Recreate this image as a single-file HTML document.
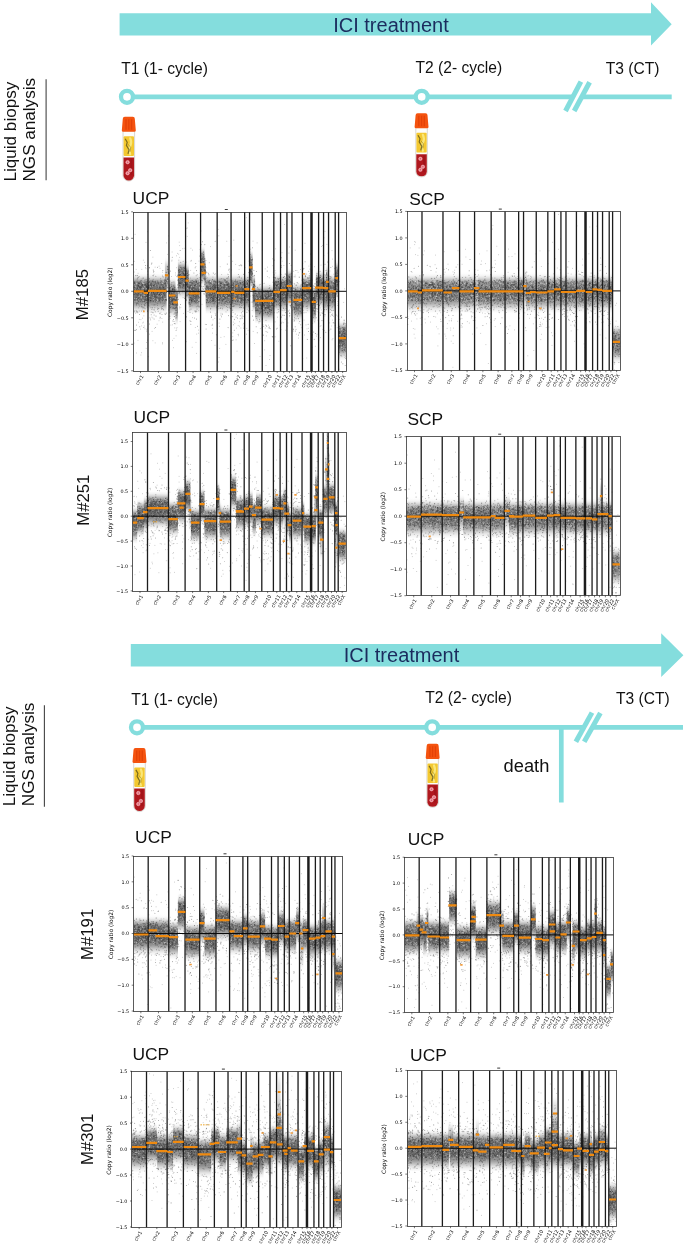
<!DOCTYPE html>
<html lang="en"><head><meta charset="utf-8"><title>ICI treatment liquid biopsy NGS analysis</title>
<style>html,body{margin:0;padding:0;background:#fff}svg{display:block}</style></head><body>
<svg width="685" height="1249" viewBox="0 0 685 1249" font-family="'Liberation Sans',sans-serif">
<rect width="685" height="1249" fill="#fff"/>
<defs><linearGradient id="g" x1="0" y1="0" x2="0" y2="1"><stop offset="0" stop-color="#505050" stop-opacity="0"/><stop offset=".05" stop-color="#505050" stop-opacity=".001"/><stop offset=".1" stop-color="#505050" stop-opacity=".012"/><stop offset=".15" stop-color="#505050" stop-opacity=".07"/><stop offset=".2" stop-color="#505050" stop-opacity=".214"/><stop offset=".25" stop-color="#505050" stop-opacity=".424"/><stop offset=".3" stop-color="#505050" stop-opacity=".617"/><stop offset=".35" stop-color="#505050" stop-opacity=".737"/><stop offset=".4" stop-color="#505050" stop-opacity=".787"/><stop offset=".45" stop-color="#505050" stop-opacity=".799"/><stop offset=".5" stop-color="#505050" stop-opacity=".8"/><stop offset=".55" stop-color="#505050" stop-opacity=".8"/><stop offset=".6" stop-color="#505050" stop-opacity=".795"/><stop offset=".65" stop-color="#505050" stop-opacity=".776"/><stop offset=".7" stop-color="#505050" stop-opacity=".727"/><stop offset=".75" stop-color="#505050" stop-opacity=".634"/><stop offset=".8" stop-color="#505050" stop-opacity=".494"/><stop offset=".85" stop-color="#505050" stop-opacity=".327"/><stop offset=".9" stop-color="#505050" stop-opacity=".174"/><stop offset=".95" stop-color="#505050" stop-opacity=".07"/><stop offset="1" stop-color="#505050" stop-opacity=".019"/></linearGradient><pattern id="n" width="41" height="23" patternUnits="userSpaceOnUse"><path d="M3.5 12.5h0M9.7 5.3h0M32.9 4.3h0M23.9 22.9h0M3.9 .2h0M17.8 15.9h0M19.6 20.3h0M6.5 5.3h0M30.1 1.1h0M4.7 9.2h0M16 7.6h0M21.2 10.6h0M17.7 9.8h0M24.1 21.7h0M30.3 2.7h0M39.2 21.7h0M11.7 1.1h0M26.6 21.6h0M28.5 7.7h0M12 16.7h0M.1 .1h0M39.9 10.3h0M12.2 15.6h0M12.9 14.5h0M36.6 18.5h0M24 3.5h0M19.3 9.2h0M31.7 14.1h0M1.2 .7h0M29 19.2h0M15.3 9.6h0M3.7 5.7h0M27.1 5.1h0M38.2 15h0M8.5 1.1h0M25.8 5.6h0M12.2 7h0M30.4 5.9h0M29.6 16.8h0M9 13.6h0M34 20.8h0M27 16.1h0M28 6.8h0M33.6 7.5h0M17.6 2.8h0M31.1 5.6h0M36 13.9h0M4.2 16.8h0M34.8 6.8h0M16.2 7.9h0M19.7 18.5h0M6 22h0M28.6 1.9h0M12 1.6h0M35.7 17.5h0M11.3 11.4h0M23 9.8h0M16.4 14.6h0M25.1 17.5h0M8.1 1.6h0M7.4 22.1h0M30.6 22h0M30.8 9.6h0M23.2 10.8h0M37.8 6.3h0M8.4 13.5h0M34.9 4.7h0M6.9 12.3h0M39.5 20.8h0M25.6 11.6h0M24.9 19h0M39.8 4.1h0M32.3 20.3h0M32.4 2.8h0M2.2 4.9h0M15.1 16.6h0M3.5 6.9h0M7.9 2.7h0M8.8 2h0M35.2 18.2h0M5.2 .5h0M12.2 1.3h0M20.2 21.7h0M34.8 18h0M39.6 8.5h0M29 4.4h0M8.8 19.9h0M22.3 18.1h0M28.9 15.4h0M2.1 12.2h0M27.9 12.1h0M15.1 22.5h0M24.2 12h0M27.5 1.9h0M27.4 1.7h0M21.4 13.7h0M22.7 16.9h0M8.1 14.4h0M20.3 17.1h0M5.1 6.8h0M19.7 8.5h0M22 6.1h0M31.7 8.6h0M16.1 6.1h0M.8 19.2h0M21.6 3.4h0M8.4 4.8h0M30.4 16.4h0M15.9 9.2h0M15.6 7.8h0M37.3 22.4h0M16.1 20.6h0M14.3 5h0M14.3 3.6h0M19.7 11.3h0M3.8 13.2h0M22.4 8h0M37.8 13.6h0M23.1 15.6h0M30.5 18.7h0M38.8 5.6h0M34.5 14.8h0M30.5 1.3h0M33.3 1.5h0M33.6 1.3h0M10.4 2.7h0M19.8 18h0M14.1 8.5h0M10.7 11.3h0M23.4 10.4h0M13 4.8h0M25.4 1.1h0M23.9 4.2h0M4.3 19.7h0M18.1 7.8h0M16 9.7h0M29 6.1h0M3.6 17h0M6.9 16.2h0M21 8.8h0M16.6 11.6h0M27.3 9.1h0M13.6 13.2h0M8.1 13.7h0M38.2 13.3h0M10 20.7h0M6 21.9h0M11.5 1.2h0M13.9 8.7h0M9.2 .9h0M22 8.6h0M38.4 18.5h0M5.2 15.6h0M17 13h0M27.4 2h0M36.3 18.7h0M41 14.1h0M5.9 7h0M22 18.1h0M36.1 .9h0M2.2 4.3h0M24.1 18.1h0M7.1 1.1h0M31.5 3h0M38.4 11.5h0M22.1 16.3h0M.4 13.6h0M2.6 .8h0M17 6.3h0M34.7 16.2h0M9.7 8h0M27.4 4.5h0M16.6 .1h0M10.9 6h0M28.9 21.4h0M12.6 1.1h0M15.2 12.7h0M31.4 20.9h0M20.3 16.1h0M32.1 6.5h0M21.2 14.9h0M6.6 2.7h0M18.2 11.5h0M35.8 6.1h0M23.2 20.1h0M39.6 19.9h0M0 17.5h0M14 8.6h0M31.5 18.3h0M28.1 22.5h0M23 8.5h0M27.2 12.1h0M35.9 3.7h0M28 2.5h0M22.4 16.6h0M23.1 1.4h0M27.3 13.8h0M13.3 2.6h0M27.4 15.4h0M25.2 17.3h0M32.2 21.6h0M19.7 9h0M1.1 9h0M22 9.2h0M35.2 16.2h0M26.2 18.1h0M26.4 2.7h0M16 7.5h0M14.6 1.3h0M29.5 5.4h0M3.2 16.9h0M35.5 21.5h0M35.9 22.5h0M39.5 1.6h0M5.6 9.2h0M4.7 20.1h0M36.7 11.6h0M16.4 8h0M11.1 18h0M15.7 19.9h0M27 3.4h0M6.6 11.9h0M20 3.4h0M27.1 4.1h0M29.6 12.2h0M.5 5.8h0M33.2 18.5h0M17.8 8.4h0M17.9 4.2h0M23.1 14.5h0M11.5 6h0M36.4 1.5h0M8.7 23h0M22.3 4.2h0M6.9 3h0M25.3 11.1h0M37 .1h0M36.2 18.2h0M5.5 1.7h0M25.6 .9h0M36.6 22.2h0M8.2 11.9h0M17 21.4h0M29.2 20.6h0M30.3 16.9h0M18.5 .7h0M26.2 14.8h0M27.4 1.5h0M14.5 .2h0M26.7 19.4h0M23.7 7.1h0M28.6 17.2h0M21 12.2h0M13.8 18h0M17.8 14.7h0M37.8 22.4h0M7.7 10.9h0M6.1 19.6h0M.5 18.9h0M34.9 13.5h0M40.5 11.6h0M9.7 9.9h0M10.9 14.9h0M8.1 4.5h0M24.6 10.1h0M19.9 14.9h0M33.6 7.1h0M8.6 5h0M36 2.4h0M19 18.5h0M33.1 20.1h0M32.9 19.2h0M37.3 16.2h0M20.5 13.9h0M25 1.3h0M23 20.3h0M7.8 10.9h0M20.6 15.8h0M38 2.8h0M37.3 17.2h0M.9 3.4h0M27.2 22h0M13.4 16.3h0M5.6 12.2h0M5.7 15h0M32.6 5.3h0M39.3 11.5h0M21.3 2h0M15.7 6.4h0M20.9 6.6h0M34 3.8h0M30.6 9.6h0M2.6 1.5h0M8.7 .6h0M35.6 7.7h0M20.2 22.8h0M27 16.7h0M31.9 9.8h0M26.1 4.6h0M30.1 2.8h0" stroke="#222" stroke-opacity=".5" stroke-width="1" stroke-linecap="round" fill="none"/><path d="M17.1 3.7h0M26.8 12.2h0M33.9 15.2h0M19 7.8h0M34.9 19.2h0M33.3 2.3h0M34.8 1.3h0M13.6 16.3h0M19.1 13h0M6.6 17.3h0M24 21.5h0M1.7 11.8h0M19.3 18.8h0M6.7 14.9h0M19.6 11.8h0M7.4 11.6h0M.1 22.8h0M17.3 8h0M17.6 9.8h0M22.2 10.9h0M5.1 14.7h0M20.4 1.4h0M12.3 15h0M3.3 .9h0M16.8 8.7h0M27.3 10.2h0M12.4 13h0M29.3 13.1h0M32.3 13.9h0M.6 .6h0M8.8 7.6h0M11.6 17h0M24.3 9.6h0M20 19h0M23.3 12.5h0M3 13.1h0M11.8 15.6h0M6.6 22.6h0M30.6 .1h0M28 2.7h0M12.5 2h0M35.9 4.7h0M5.6 .5h0M.7 22.7h0M15.3 3.5h0M27.4 10.9h0M38.8 20.3h0M20.9 10.9h0M5.6 5.7h0M24.5 6.7h0M.7 9.7h0M33.5 7.1h0M13.2 10.8h0M4.2 9.5h0M6.1 1.9h0M34 20.1h0M37.2 22.3h0M7.6 12.9h0M40.9 2.2h0M35.3 20.9h0M13.5 8.3h0M2.1 8.8h0M6.2 5.9h0M17.9 21.4h0M8.4 15.9h0M7.5 6.9h0M11.2 8.5h0M36 9.7h0M1.5 8.8h0M37.8 15.5h0M18.4 21.8h0M30.3 1h0M21 19.5h0M38.8 19.5h0M7.4 5h0M10.5 22.5h0M20.8 20.2h0M20.8 16.6h0M13.6 2.5h0M12.5 10.3h0M3.7 17.4h0M20.6 12.7h0M34.1 1.4h0M35.5 17.6h0M17 9.4h0M40.2 5.1h0M39.6 8h0M13.1 2.4h0M4.8 8.3h0M34.3 .4h0M38.6 23h0M26.6 3.1h0M39.5 7.8h0M19.6 6.9h0M21.5 10.6h0M3 7.8h0M15.2 20.4h0M37.9 4.3h0M4.2 22.9h0M5.6 9h0M1.4 22.6h0M20.3 7.7h0M24.7 1.9h0M21.8 19.2h0M36 3.6h0M27.9 17.1h0M26.1 20.3h0M24.7 5h0M20.7 7.3h0M3.1 13h0M4 20h0M26.4 19.7h0M8.7 11.2h0M17 13h0M26.5 18.5h0M24.6 3.6h0M10 21.4h0M11 19.9h0M5.8 5.4h0M27.2 14.5h0M29.5 16.8h0M5.4 14.9h0M11.1 1.7h0M6.1 1.4h0M25.1 5.1h0M12.1 2.4h0M35.7 11.1h0M10.9 17h0M26.4 13.2h0M26.1 20.8h0M38.6 11.3h0M29.6 10.3h0M38.3 2.9h0M24 21.9h0M.1 15.5h0M13.4 22.5h0M30.4 21.5h0M14.1 2h0M27 13.9h0M4.8 11.2h0M26.5 17.3h0M15.8 1h0M38.8 15.2h0M2.9 14h0M14.8 8.6h0M31.5 2.9h0M16.1 15.8h0M19 1.1h0M13.7 7.8h0M4 .6h0M13.1 7.1h0M35.9 5.7h0M31.5 14.2h0M12.7 15.7h0M27.4 16.3h0M32.6 9.4h0M32.7 17.3h0M2.3 15.2h0M6.7 12.3h0M39.2 17.9h0M11.5 22.3h0M31.9 11.1h0M25.8 22.1h0M35.8 14.3h0M3.2 8.9h0M38.3 11h0M35.9 15.1h0M9.8 7.3h0M29.1 21.2h0M.2 8.9h0M35.5 14.4h0M17 19.8h0M30.4 19.1h0M32.6 15.5h0M1.1 16.4h0M36.2 17.4h0M4.3 13.5h0M6.4 10h0M18.7 20.7h0M10.4 3.7h0M26.6 3h0M7.8 7.2h0M25.5 5.4h0M31.2 22.4h0M39.5 12.2h0M16.4 20.3h0M11.7 12.7h0M23.7 5h0M26.7 20.1h0M37.8 20.3h0M24 2.8h0M18 17.6h0M12.2 13.1h0M29.7 4.1h0M26.1 7.8h0M2.9 16.9h0M12.3 4.3h0M6.9 14h0M20.3 12.3h0M15.6 12.2h0" stroke="#fff" stroke-opacity=".45" stroke-width="1" stroke-linecap="round" fill="none"/></pattern></defs>
<path fill="#84dddd" d="M119.6 13.2H651V2.3L671.7 24.299999999999997L651 45.6V35.4H119.6z"/>
<text x="391" y="31.6" font-size="20" fill="#1b2c5e" text-anchor="middle">ICI treatment</text>
<text x="121.3" y="74.2" font-size="15.6" fill="#111">T1 (1- cycle)</text>
<text x="415.5" y="72.5" font-size="15.6" fill="#111">T2 (2- cycle)</text>
<text x="605.7" y="73.6" font-size="15.6" fill="#111">T3 (CT)</text>
<path stroke="#84dddd" stroke-width="4.7" fill="none" d="M127 96.8H572.9M581.8 96.8H671.7"/>
<path stroke="#84dddd" stroke-width="5.0" fill="none" d="M565.5 111L580.9 81.6"/>
<path stroke="#84dddd" stroke-width="5.0" fill="none" d="M574.2 111L589.6 82.2"/>
<circle cx="127.0" cy="96.8" r="6" fill="#fff" stroke="#84dddd" stroke-width="4.3"/>
<circle cx="421.7" cy="96.8" r="6" fill="#fff" stroke="#84dddd" stroke-width="4.3"/>
<g>
<path d="M123 130.8V175.2A5.8 5.8 0 0 0 134.6 175.2V130.8z" fill="#fdfdf9" stroke="#b9b6ae" stroke-width=".55"/>
<rect x="123.6" y="136.3" width="10.4" height="19.7" rx="1" fill="#f3c830"/>
<path d="M130.2 138.3q2 4 0 8t0 8" stroke="#fae77a" stroke-width="2.2" fill="none" stroke-linecap="round"/>
<path d="M125.2 138.8l2 3.5l-.8 3l2.6 4.5l-1 4" stroke="#5f5415" stroke-width="1.2" fill="none" opacity=".8"/>
<path d="M128.2 144.3l2.4 3l-.6 4.5" stroke="#8a7a1c" stroke-width=".8" fill="none" opacity=".7"/>
<path d="M123.5 157.6V175.2A5.3 5.3 0 0 0 134.1 175.2V157.6z" fill="#b0181e"/>
<path d="M131.4 158.6V175.2" stroke="#991218" stroke-width="2" fill="none" opacity=".6"/>
<circle cx="127.6" cy="162.2" r="1.75" fill="#f29aa4" stroke="#f7c0c6" stroke-width=".5"/>
<circle cx="127.6" cy="162.2" r=".7" fill="#d9586a"/>
<circle cx="130.2" cy="170.2" r="1.75" fill="#f29aa4" stroke="#f7c0c6" stroke-width=".5"/>
<circle cx="130.2" cy="170.2" r=".7" fill="#d9586a"/>
<circle cx="127.6" cy="173.2" r="1.75" fill="#f29aa4" stroke="#f7c0c6" stroke-width=".5"/>
<circle cx="127.6" cy="173.2" r=".7" fill="#d9586a"/>
<path d="M121.8 130.6L122.8 118.7Q122.8 116.7 124.8 116.7H132.8Q134.8 116.7 134.8 118.7L135.8 130.6Q135.8 131.8 134.3 131.8H123.3Q121.8 131.8 121.8 130.6z" fill="#f4530f"/>
<path d="M126 119.2V129.8M128.8 119.2V129.8M131.6 119.2V129.8" stroke="#e03f06" stroke-width="1.3" fill="none" opacity=".8"/>
</g>
<g>
<path d="M415.8 127.3V171.8A5.8 5.8 0 0 0 427.3 171.8V127.3z" fill="#fdfdf9" stroke="#b9b6ae" stroke-width=".55"/>
<rect x="416.4" y="132.8" width="10.3" height="19.8" rx="1" fill="#f3c830"/>
<path d="M422.9 134.8q2 4 0 8t0 8" stroke="#fae77a" stroke-width="2.2" fill="none" stroke-linecap="round"/>
<path d="M418 135.3l2 3.5l-.8 3l2.6 4.5l-1 4" stroke="#5f5415" stroke-width="1.2" fill="none" opacity=".8"/>
<path d="M421 140.8l2.4 3l-.6 4.5" stroke="#8a7a1c" stroke-width=".8" fill="none" opacity=".7"/>
<path d="M416.3 154.2V171.8A5.3 5.3 0 0 0 426.8 171.8V154.2z" fill="#b0181e"/>
<path d="M424.1 155.2V171.8" stroke="#991218" stroke-width="2" fill="none" opacity=".6"/>
<circle cx="420.4" cy="158.8" r="1.75" fill="#f29aa4" stroke="#f7c0c6" stroke-width=".5"/>
<circle cx="420.4" cy="158.8" r=".7" fill="#d9586a"/>
<circle cx="422.9" cy="166.8" r="1.75" fill="#f29aa4" stroke="#f7c0c6" stroke-width=".5"/>
<circle cx="422.9" cy="166.8" r=".7" fill="#d9586a"/>
<circle cx="420.4" cy="169.8" r="1.75" fill="#f29aa4" stroke="#f7c0c6" stroke-width=".5"/>
<circle cx="420.4" cy="169.8" r=".7" fill="#d9586a"/>
<path d="M414.6 127.1L415.6 115.2Q415.6 113.2 417.6 113.2H425.5Q427.5 113.2 427.5 115.2L428.5 127.1Q428.5 128.3 427 128.3H416.1Q414.6 128.3 414.6 127.1z" fill="#f4530f"/>
<path d="M418.8 115.7V126.3M421.6 115.7V126.3M424.3 115.7V126.3" stroke="#e03f06" stroke-width="1.3" fill="none" opacity=".8"/>
</g>
<text transform="translate(15.8 181.5) rotate(-90)" font-size="17.1" fill="#111">Liquid biopsy</text>
<text transform="translate(35.0 181.5) rotate(-90)" font-size="17.1" fill="#111">NGS analysis</text>
<path stroke="#444" stroke-width="1.1" d="M46.1 79.3V180.3"/>
<path fill="#84dddd" d="M130.8 644.1H661.2V633.3L683.4 655.25L661.2 677.0V666.4H130.8z"/>
<text x="401.5" y="662.3" font-size="20" fill="#1b2c5e" text-anchor="middle">ICI treatment</text>
<text x="131.2" y="704.5" font-size="15.6" fill="#111">T1 (1- cycle)</text>
<text x="425.3" y="703.2" font-size="15.6" fill="#111">T2 (2- cycle)</text>
<text x="616" y="704.4" font-size="15.6" fill="#111">T3 (CT)</text>
<path stroke="#84dddd" stroke-width="4.7" fill="none" d="M137 727.3H583.9M592.4 727.3H683.0"/>
<path stroke="#84dddd" stroke-width="5.0" fill="none" d="M575.9 741.8L592.0 712.6"/>
<path stroke="#84dddd" stroke-width="5.0" fill="none" d="M584.2 741.8L600.4 713.0"/>
<path stroke="#84dddd" stroke-width="4.7" fill="none" d="M561.3 727.3V802.5"/>
<text x="503.6" y="771.8" font-size="18.3" fill="#111">death</text>
<circle cx="137.0" cy="727.3" r="6" fill="#fff" stroke="#84dddd" stroke-width="4.3"/>
<circle cx="432.2" cy="727.3" r="6" fill="#fff" stroke="#84dddd" stroke-width="4.3"/>
<g>
<path d="M133.7 761.9V805.8A5.8 5.8 0 0 0 145.3 805.8V761.9z" fill="#fdfdf9" stroke="#b9b6ae" stroke-width=".55"/>
<rect x="134.3" y="767.4" width="10.4" height="19.5" rx="1" fill="#f3c830"/>
<path d="M140.9 769.4q2 4 0 8t0 8" stroke="#fae77a" stroke-width="2.2" fill="none" stroke-linecap="round"/>
<path d="M135.9 769.9l2 3.5l-.8 3l2.6 4.5l-1 4" stroke="#5f5415" stroke-width="1.2" fill="none" opacity=".8"/>
<path d="M138.9 775.4l2.4 3l-.6 4.5" stroke="#8a7a1c" stroke-width=".8" fill="none" opacity=".7"/>
<path d="M134.2 788.4V805.8A5.3 5.3 0 0 0 144.8 805.8V788.4z" fill="#b0181e"/>
<path d="M142.1 789.4V805.8" stroke="#991218" stroke-width="2" fill="none" opacity=".6"/>
<circle cx="138.3" cy="793" r="1.75" fill="#f29aa4" stroke="#f7c0c6" stroke-width=".5"/>
<circle cx="138.3" cy="793" r=".7" fill="#d9586a"/>
<circle cx="140.9" cy="801" r="1.75" fill="#f29aa4" stroke="#f7c0c6" stroke-width=".5"/>
<circle cx="140.9" cy="801" r=".7" fill="#d9586a"/>
<circle cx="138.3" cy="804" r="1.75" fill="#f29aa4" stroke="#f7c0c6" stroke-width=".5"/>
<circle cx="138.3" cy="804" r=".7" fill="#d9586a"/>
<path d="M132.5 761.7L133.5 750Q133.5 748 135.5 748H143.5Q145.5 748 145.5 750L146.5 761.7Q146.5 762.9 145 762.9H134Q132.5 762.9 132.5 761.7z" fill="#f4530f"/>
<path d="M136.7 750.5V760.9M139.5 750.5V760.9M142.3 750.5V760.9" stroke="#e03f06" stroke-width="1.3" fill="none" opacity=".8"/>
</g>
<g>
<path d="M426.9 757.9V802.2A5.8 5.8 0 0 0 438.4 802.2V757.9z" fill="#fdfdf9" stroke="#b9b6ae" stroke-width=".55"/>
<rect x="427.5" y="763.4" width="10.3" height="19.7" rx="1" fill="#f3c830"/>
<path d="M434 765.4q2 4 0 8t0 8" stroke="#fae77a" stroke-width="2.2" fill="none" stroke-linecap="round"/>
<path d="M429.1 765.9l2 3.5l-.8 3l2.6 4.5l-1 4" stroke="#5f5415" stroke-width="1.2" fill="none" opacity=".8"/>
<path d="M432.1 771.4l2.4 3l-.6 4.5" stroke="#8a7a1c" stroke-width=".8" fill="none" opacity=".7"/>
<path d="M427.4 784.6V802.2A5.3 5.3 0 0 0 437.9 802.2V784.6z" fill="#b0181e"/>
<path d="M435.2 785.6V802.2" stroke="#991218" stroke-width="2" fill="none" opacity=".6"/>
<circle cx="431.5" cy="789.2" r="1.75" fill="#f29aa4" stroke="#f7c0c6" stroke-width=".5"/>
<circle cx="431.5" cy="789.2" r=".7" fill="#d9586a"/>
<circle cx="434" cy="797.2" r="1.75" fill="#f29aa4" stroke="#f7c0c6" stroke-width=".5"/>
<circle cx="434" cy="797.2" r=".7" fill="#d9586a"/>
<circle cx="431.5" cy="800.2" r="1.75" fill="#f29aa4" stroke="#f7c0c6" stroke-width=".5"/>
<circle cx="431.5" cy="800.2" r=".7" fill="#d9586a"/>
<path d="M425.7 757.7L426.7 745.8Q426.7 743.8 428.7 743.8H436.6Q438.6 743.8 438.6 745.8L439.6 757.7Q439.6 758.9 438.1 758.9H427.2Q425.7 758.9 425.7 757.7z" fill="#f4530f"/>
<path d="M429.9 746.3V756.9M432.6 746.3V756.9M435.4 746.3V756.9" stroke="#e03f06" stroke-width="1.3" fill="none" opacity=".8"/>
</g>
<text transform="translate(14.6 806.2) rotate(-90)" font-size="17.1" fill="#111">Liquid biopsy</text>
<text transform="translate(33.9 806.2) rotate(-90)" font-size="17.1" fill="#111">NGS analysis</text>
<path stroke="#444" stroke-width="1.1" d="M44.4 705.2V806.8"/>
<clipPath id="c1"><rect x="133" y="212" width="213.6" height="159.3"/></clipPath>
<g>
<g clip-path="url(#c1)">
<rect x="133.8" y="269" width="10" height="44.5" fill="url(#g)"/>
<rect x="133.8" y="280.7" width="10" height="21.2" fill="url(#n)"/>
<rect x="143.8" y="269" width="4.2" height="44.5" fill="url(#g)"/>
<rect x="143.8" y="280.7" width="4.2" height="21.2" fill="url(#n)"/>
<rect x="148" y="269" width="18.6" height="44.5" fill="url(#g)"/>
<rect x="148" y="280.7" width="18.6" height="21.2" fill="url(#n)"/>
<rect x="164.9" y="253.1" width="3.5" height="44.5" fill="url(#g)" opacity=".44"/>
<rect x="168.8" y="273.3" width="6.7" height="44.5" fill="url(#g)"/>
<rect x="168.8" y="284.9" width="6.7" height="21.2" fill="url(#n)"/>
<rect x="175.4" y="280.2" width="2.5" height="44.5" fill="url(#g)"/>
<rect x="175.4" y="291.8" width="2.5" height="21.2" fill="url(#n)"/>
<rect x="177.9" y="254.7" width="7.5" height="44.5" fill="url(#g)"/>
<rect x="177.9" y="266.4" width="7.5" height="21.2" fill="url(#n)"/>
<rect x="185.4" y="258.4" width="3.3" height="44.5" fill="url(#g)"/>
<rect x="185.4" y="270.1" width="3.3" height="21.2" fill="url(#n)"/>
<rect x="188.7" y="269" width="10.8" height="44.5" fill="url(#g)"/>
<rect x="188.7" y="280.7" width="10.8" height="21.2" fill="url(#n)"/>
<rect x="200.4" y="242" width="4.2" height="44.5" fill="url(#g)"/>
<rect x="200.4" y="253.7" width="4.2" height="21.2" fill="url(#n)"/>
<rect x="204.5" y="250.5" width="1.2" height="44.5" fill="url(#g)"/>
<rect x="204.5" y="262.2" width="1.2" height="21.2" fill="url(#n)"/>
<rect x="205.7" y="269" width="10.5" height="44.5" fill="url(#g)"/>
<rect x="205.7" y="280.7" width="10.5" height="21.2" fill="url(#n)"/>
<rect x="217" y="269" width="13.3" height="44.5" fill="url(#g)"/>
<rect x="217" y="280.7" width="13.3" height="21.2" fill="url(#n)"/>
<rect x="231.2" y="269" width="3.3" height="44.5" fill="url(#g)"/>
<rect x="231.2" y="280.7" width="3.3" height="21.2" fill="url(#n)"/>
<rect x="234.5" y="269" width="7.5" height="44.5" fill="url(#g)"/>
<rect x="234.5" y="280.7" width="7.5" height="21.2" fill="url(#n)"/>
<rect x="242" y="269" width="2.3" height="44.5" fill="url(#g)"/>
<rect x="242" y="280.7" width="2.3" height="21.2" fill="url(#n)"/>
<rect x="244.3" y="269" width="5" height="44.5" fill="url(#g)"/>
<rect x="244.3" y="280.7" width="5" height="21.2" fill="url(#n)"/>
<rect x="249.3" y="245.2" width="3.3" height="44.5" fill="url(#g)"/>
<rect x="249.3" y="256.9" width="3.3" height="21.2" fill="url(#n)"/>
<rect x="252.6" y="269" width="2.5" height="44.5" fill="url(#g)"/>
<rect x="252.6" y="280.7" width="2.5" height="21.2" fill="url(#n)"/>
<rect x="255.1" y="278.6" width="6.7" height="44.5" fill="url(#g)"/>
<rect x="255.1" y="290.2" width="6.7" height="21.2" fill="url(#n)"/>
<rect x="261.8" y="278.6" width="11.6" height="44.5" fill="url(#g)"/>
<rect x="261.8" y="290.2" width="11.6" height="21.2" fill="url(#n)"/>
<rect x="273.4" y="269" width="6.7" height="44.5" fill="url(#g)"/>
<rect x="273.4" y="280.7" width="6.7" height="21.2" fill="url(#n)"/>
<rect x="280.1" y="269" width="6.7" height="44.5" fill="url(#g)"/>
<rect x="280.1" y="280.7" width="6.7" height="21.2" fill="url(#n)"/>
<rect x="286.7" y="263.7" width="5" height="44.5" fill="url(#g)"/>
<rect x="286.7" y="275.4" width="5" height="21.2" fill="url(#n)"/>
<rect x="293.4" y="277.5" width="8.8" height="44.5" fill="url(#g)"/>
<rect x="293.4" y="289.2" width="8.8" height="21.2" fill="url(#n)"/>
<rect x="302.2" y="269" width="9" height="44.5" fill="url(#g)"/>
<rect x="302.2" y="280.7" width="9" height="21.2" fill="url(#n)"/>
<rect x="311.7" y="279.6" width="4.2" height="44.5" fill="url(#g)"/>
<rect x="311.7" y="291.3" width="4.2" height="21.2" fill="url(#n)"/>
<rect x="315.9" y="265.3" width="2.5" height="44.5" fill="url(#g)"/>
<rect x="315.9" y="277" width="2.5" height="21.2" fill="url(#n)"/>
<rect x="318.4" y="265.3" width="5" height="44.5" fill="url(#g)"/>
<rect x="318.4" y="277" width="5" height="21.2" fill="url(#n)"/>
<rect x="323.4" y="269" width="5" height="44.5" fill="url(#g)"/>
<rect x="323.4" y="280.7" width="5" height="21.2" fill="url(#n)"/>
<rect x="325.9" y="259.5" width="2.8" height="44.5" fill="url(#g)" opacity=".55"/>
<rect x="325.9" y="271.2" width="2.8" height="21.2" fill="url(#n)"/>
<rect x="328.3" y="269" width="7.5" height="44.5" fill="url(#g)"/>
<rect x="328.3" y="280.7" width="7.5" height="21.2" fill="url(#n)"/>
<rect x="335.8" y="255.8" width="2.2" height="44.5" fill="url(#g)"/>
<rect x="335.8" y="267.4" width="2.2" height="21.2" fill="url(#n)"/>
<rect x="338.8" y="315.9" width="7.3" height="44.5" fill="url(#g)"/>
<rect x="338.8" y="327.6" width="7.3" height="21.2" fill="url(#n)"/>
<g transform="translate(133 212)" fill="none" stroke-linecap="round">
<path stroke="#333" stroke-opacity=".55" stroke-width="1.2" d="M64.3 79.6h0M64.9 71.6h0M95.1 83.7h0M107.8 90.3h0M118.2 70.5h0M169.1 68.1h0M132.8 90.1h0M210.9 121.7h0M34.5 70.9h0M9.8 83h0M8 73.9h0M110 81.1h0M57.3 76.1h0M187.7 82.1h0M185.8 85h0M77.3 76.7h0M127.7 93.2h0M82.9 74.1h0M69.1 68.6h0M32.4 71.1h0M81.1 74.4h0M143.4 73.3h0M141.3 83.3h0M28.4 80.2h0M180.2 89.8h0M31.4 68.2h0M41.4 104.6h0M197.9 75.5h0M117.9 50.2h0M136.9 91.3h0M80.5 78h0M116.9 54.9h0M5.8 74.2h0M79.6 81.1h0M6.9 75h0M206.2 120.7h0M140.4 79.1h0M91.5 75.2h0M76 78h0M163.2 73.2h0M1.5 77.1h0M160.6 78.9h0M134.1 94.1h0M169.2 82.9h0M109.6 79.4h0M122.4 93.1h0M209 122.8h0M191.2 84h0M124 87.3h0M187.3 77.8h0M144.4 79.9h0M207.1 123.3h0M43.6 85.7h0M102.4 85.5h0M65.7 80.7h0M99.5 80.6h0M134.1 94h0M173.9 77.1h0M194.8 79.6h0M171.1 68h0M111.8 75.2h0M4.7 73h0M121.1 78.9h0M126 81.6h0M35.7 61.3h0M4.9 82.4h0M66.5 73.9h0M173.1 74.2h0M130.4 86.5h0M41.1 102h0M182.1 91.6h0M68.1 50.7h0M24.4 80.8h0M27.9 75.4h0M171.4 72.2h0M70 53.4h0M190.4 87.8h0M201.5 78.5h0M97.5 80.6h0M140.3 83.3h0M21.9 92.8h0M81.4 81.7h0M141.4 73.6h0M80.6 86.3h0M79.5 76.6h0M115.2 81.1h0M46.2 59.9h0M53 83.8h0M97.7 83.9h0M160.6 76.2h0M123.6 83.4h0M162.8 82.6h0M57.7 73.4h0M65.6 81.8h0M40.2 95.6h0M188.5 80.7h0M165.6 95.7h0M176.1 71.4h0M79.3 82h0M14.1 78.5h0M57.1 92.4h0M39.6 77.5h0M200.3 81h0M179.8 86.2h0M39.7 76.8h0M161.6 85.3h0M153.9 85.4h0M95.1 80.1h0M89.7 83.8h0M117 59.5h0M154 76.8h0M196.1 72.7h0M82.8 75.5h0M162.2 82.6h0M31.9 79.9h0M152.1 71.2h0M196.3 87.2h0M122.7 78.6h0M160.1 88.6h0M46.6 63.4h0M164.1 93.5h0M101.1 93.9h0M7.3 76.2h0M66.8 79.2h0M153.6 68.9h0M97.2 84.7h0M189.5 70.5h0M48.7 64.9h0M27 78.6h0M7.4 77.2h0M107.5 80.6h0M103.4 79.7h0M39.5 84.1h0M57 81.9h0M112.5 74h0M60.6 79.4h0M114.5 71.2h0M168.7 87.5h0M186.3 74.7h0M200.8 80.4h0M206.8 130.9h0M44.6 63.9h0M106.2 75.9h0M195.1 76.2h0M187.8 74.9h0M151 89.5h0M161.4 96.2h0M35.7 60.1h0M196.1 85.8h0M127.4 84.8h0M33.4 80.5h0M109.9 76.6h0M60.4 79.3h0M150 70.6h0M137.4 78.7h0M92.6 80.8h0M88.7 91.2h0M71.7 46.6h0M142.9 87.7h0M44.9 68.1h0M117.8 65.8h0M14.3 76.9h0M155.3 80.9h0M204.3 70.7h0M100.1 73.1h0M153.7 75.9h0M96.8 89.6h0M117.6 67.4h0M47.7 67.1h0M42 84.3h0M172.1 82.5h0M99.5 81.7h0M132.4 96h0M174.7 81.3h0M137 93.6h0M84.7 77h0M158.8 76.7h0M107.6 90.5h0M72.3 76.3h0M81.5 75.3h0M152.1 72.3h0M7.7 75.5h0M83.3 70h0M183.5 74.4h0M123.7 88.8h0M119.1 77.5h0M141.9 72.2h0M144.6 85.5h0M124.6 86h0M75.4 79.9h0M95.6 78.9h0M79.5 67.6h0M202.1 71.7h0M189.6 69.8h0M188.6 71.5h0M146.3 75.9h0M16 82.8h0M184.8 80.4h0M89.8 88.4h0M163.8 88h0M97.9 75.7h0M67.8 55.7h0M13.7 84.2h0M112.1 77.4h0M61.9 76.9h0M90.4 81.8h0M42 100.8h0M196.9 93.7h0M132.5 100.4h0M163.8 84.2h0M160.1 83h0M73.6 75.5h0M30.6 75.7h0M136.6 99.4h0M29.3 79.2h0M39.5 79.5h0M169 82.9h0M39.6 92.4h0M86.9 87.8h0M89.3 88.6h0M197 87h0M190.5 67.8h0M141.6 78.3h0M45.9 70.9h0M67.5 60.3h0M195.1 69h0M130.6 91.5h0M121.7 73.6h0M90 87.6h0M72 68h0M65.1 82h0M1.1 80.4h0M52.6 67.3h0M146.5 91.2h0M57.3 73.7h0M149.9 81.3h0M28 68.6h0M110.2 72.7h0M180.6 85.9h0M58.8 87.6h0M97.2 76.9h0M183.9 70.3h0M161.6 88.1h0M135.7 88.8h0M158 83.6h0M80.9 71.4h0M154.7 79.5h0M82.9 73.3h0M152.3 62h0M100.3 75.6h0M61.7 81.3h0M46 64.6h0M157.6 93.8h0M122.2 79.7h0M184.5 68.8h0M184.9 72.2h0M16 70.3h0M56.8 80.7h0M173.3 69.9h0M100.3 81.2h0M96.8 80.5h0M206.5 127.8h0M68.5 61.3h0M9.3 80.4h0M83.9 85.7h0M33 87.8h0M138.1 83.4h0M121.9 78.4h0M160.5 81.4h0M125.8 80.6h0M42.6 90.9h0M124.4 84.4h0M104.9 86.2h0M35.7 61.9h0M132.2 78.8h0M116.4 80.1h0M146.5 76.9h0M119.4 47.7h0M174.4 73.3h0M197 78.8h0M22 78.3h0M37.4 95.6h0M194.1 75h0M71.1 49h0M41.4 96.7h0M15.3 78.6h0M111.9 77.8h0M159 78.4h0M30.4 81.7h0M66.6 73.2h0M166.7 88.2h0M7.6 83.3h0M86.5 83h0M86.9 69.5h0M189.2 71.5h0M195.8 78.4h0M157 72.9h0M54.3 67.5h0M128.6 89.1h0M31.4 71.7h0M207.4 120.4h0M27.8 85h0M193.1 79h0M71 58.7h0M200 81.8h0M195.8 88.8h0M98 81.2h0M120.4 72.3h0M157.3 77.3h0M33.7 69.5h0M173.4 77.5h0M87.9 76.7h0M96.8 90.6h0M79.7 75.5h0M200.5 75.2h0M86.8 83.2h0M100.7 86.6h0M92.5 83.1h0M13.4 73.7h0M160.8 90.1h0M120.5 84.7h0M171.1 82.9h0M50.1 60.2h0M59.5 77.6h0M65.1 83.6h0M135.8 84.8h0M40.1 96.4h0M148.7 77.7h0M161.4 86.8h0M63.5 69.4h0M7.7 74.7h0M74.5 76.1h0M125.9 89.1h0M33.2 60.4h0M150.8 76.1h0M206.8 124.9h0M211.4 124.4h0M129.2 96.9h0M211.2 123.3h0M128.4 95.9h0M7 74.9h0M151.2 81.1h0M204.8 77.6h0M5.8 74.4h0M27.2 78h0M21.8 77.4h0M192.5 69.7h0M71.3 52h0M144.3 79.1h0M131.9 93.1h0M21.8 84.1h0M3.6 91.8h0M147.9 77.4h0M167.8 93.4h0M96.7 82.9h0M184.7 70.8h0M86.1 79.1h0M2.1 81.7h0M152 70.8h0M60.1 82h0M107.7 78.3h0M10.2 66.1h0M12 84.5h0M27 76.8h0M133.1 95.6h0M123 98.4h0M41.8 84.8h0M207.9 128.4h0M115.1 72.9h0M91.6 91h0M54.2 71.9h0M115.3 76.8h0M63.4 70.2h0M140.2 89.2h0M193.3 65.5h0M204.7 72.4h0M105.3 73.4h0M99.4 79.1h0M171.3 73.5h0M55.4 68.6h0M133 83.2h0M142.8 83.1h0M43.1 95.3h0M110.9 81.6h0M56.5 80h0M90.3 82.5h0M44.2 91.1h0M99 84.2h0M192.9 75.9h0M66.2 94.8h0M84.3 75.7h0M187.1 65.3h0M34.7 67.4h0M18.8 74h0M68.1 51.9h0M23.5 77.7h0M120 75.2h0M115.7 69.1h0M163.5 94h0M55.1 68.4h0M211.5 126.3h0M90.6 79.2h0M110.3 81.9h0M99.3 83.2h0M61 80.1h0M196 84.1h0M67.7 46.3h0M87.5 84.6h0M16.1 75.8h0M117.2 59.2h0M39.9 92.3h0M175.4 80.4h0M121.6 73.1h0M79.6 88.1h0M62 89.1h0M18 76.3h0M31.8 68.2h0M117.3 58.7h0M158.7 76.3h0M126.5 88.9h0M186.3 79.2h0M12.6 87.3h0M42.3 88.1h0M134 87.2h0M41.6 96.4h0M174.5 76.7h0M117.4 54.3h0M109.4 80.8h0M98.8 81.7h0M124.3 87.7h0M150.7 86.2h0M205.4 134h0M188.9 77.8h0M34.7 55h0M105.1 77.6h0M211 123.8h0M85.3 75.7h0M68.5 68h0M18.4 80.7h0M190.6 78.8h0M.5 74.8h0M82.9 72h0M195.6 71.7h0M21.5 82.1h0M155.2 74.2h0M111.4 78.2h0M202.1 64.3h0M60.8 83.3h0M213.1 122.5h0M77.8 88.2h0M27.3 83.6h0M127.7 84.2h0M156.4 73.3h0M9.5 80.2h0M106.8 79.9h0M140.3 81h0M131.6 90.6h0M50.8 61.6h0M191.4 75.1h0M26.6 82.2h0M11.1 87.7h0M153.3 83.7h0M207.4 128.5h0M211 130.9h0M83.9 80.8h0M88.3 79.1h0M78.2 82.7h0M60.2 87.3h0M32 77.2h0M94.1 82.2h0M73.6 74.3h0M132.2 84.3h0M192.4 71.2h0M76.8 72h0M118.4 59.5h0M138.8 93.1h0M205.8 128.2h0M151.1 89.9h0M145.4 67.1h0M13.4 88h0M172.5 84.4h0M140.5 65.2h0M123 92h0M48.3 65.3h0M154.9 78.5h0M77.9 71.2h0M132.9 86.7h0M196.6 85.3h0M12.6 80.2h0M56 78.2h0M148.8 70.4h0M104.3 81.2h0M136.1 76.5h0M144.7 83.1h0M82.1 76.5h0M129.7 83.8h0M120.2 83.1h0M47.2 65.3h0M16.1 76.6h0M26.5 75h0M105.7 76h0M59 87.4h0M168.7 86.4h0M30.3 78.9h0M123.8 90h0M28.9 80.3h0M62.6 90.1h0M174.8 65.9h0M130.5 92.9h0M209.8 121h0M79.2 86.3h0M64.6 80.9h0M148.7 84h0M94.8 90.3h0M40.7 92.8h0M170.8 67.8h0M174.3 74.9h0M201.6 81.5h0M148.8 71.8h0M72.3 60.4h0M70 49.6h0M105 89.5h0M78.9 76.8h0M145.4 69.7h0M84 80.3h0M108.7 86.3h0M94.3 82.5h0M75.6 90.5h0M41.8 91.1h0M65.8 79.4h0M71.7 61.5h0M49.1 65.9h0M200.4 81.3h0M182 71.8h0M42.4 96.1h0M87 82.6h0M31.5 77.8h0M34.3 67.2h0M8.7 72h0M201.2 74h0M72.3 58.5h0M40.7 86.9h0M139.2 86.3h0M2.9 63.6h0M152.6 82.6h0M144.2 78.8h0M211.1 127.4h0M41.9 88.3h0M181.9 81.5h0M94.2 85.8h0M62.8 81.5h0M59.3 76.2h0M102.3 85.6h0M137.9 88h0M154.7 74.5h0M38.9 88h0M60.3 82.2h0M145.8 80.8h0M63.7 78.8h0M76 83.2h0M135.2 84.6h0M184.3 74.7h0M41 86.5h0M181.5 89.9h0M211.2 123.3h0M146.8 78.6h0M205.9 119.1h0M153.1 74.7h0M41 83.8h0M22.4 71h0M114 72.3h0M57.3 85.3h0M170.3 80.6h0M104.5 79h0M56.5 76.6h0M71.8 57.7h0M163.6 85.6h0M155.7 78.7h0M144.5 78.8h0M177.7 78.2h0M154.5 81.8h0M49.3 61.3h0M191.2 70.5h0M134.3 86.1h0M186.6 65.4h0M34.7 75.7h0M81.1 72.5h0M70.9 66.3h0M13.4 75.4h0M95.9 78.3h0M82.2 83.3h0M71.1 52.5h0M80.6 73.3h0M152.2 82.8h0M33.8 73.8h0M54.5 68.4h0M84.9 88.3h0M4.6 75.1h0M8.1 68.7h0M41.5 86.8h0M98.7 86h0M73.6 90.7h0M15 76.7h0M58.3 70.8h0M166.6 91.9h0M93.5 82h0M208.3 128.6h0M114.8 76.4h0M11.8 93.6h0M179.3 88.8h0M211.7 118.8h0M48.8 66.6h0M10.4 74.9h0M138.6 90.9h0M33 78.9h0M42.2 80h0M34.8 57.7h0M54.7 63.4h0M125.1 77h0M102.4 68.1h0M166.7 84.1h0M104.1 79.4h0M167 80.1h0M44.1 97.8h0M112.4 78.8h0M79.9 78.2h0M207.3 135.6h0M181.8 81.7h0M91.9 77h0M202.9 77.2h0M44 93.8h0M141.3 87.6h0M190 70.1h0M201.5 77.4h0M192.8 80.8h0M176.5 76.8h0M13.8 75.3h0M204.8 59h0M69.7 55.2h0M43.7 89.7h0M3.3 78.8h0M16.6 79.5h0M146.7 93.3h0M69.9 56.1h0M180.7 98.8h0M75.3 76h0M18.8 80.5h0M185.1 79.3h0M141.9 76.3h0M49.8 62.4h0M121 76.1h0M42.2 84.5h0M46.9 62.3h0M207.3 129.3h0M1.8 79.8h0M126.5 101.7h0M118.6 68.9h0M148 77.3h0M82.1 69.5h0M51.6 63.4h0M37.8 92h0M189.2 74.6h0M77 82.1h0M60.2 80.4h0M74.8 80.2h0M172.5 64h0M178.6 99.5h0M207.9 128.3h0M46 81.1h0M93.8 70h0M200.9 87.9h0M177.5 78.9h0M157.1 85.6h0M98.9 90.9h0M171.8 78.8h0M191.2 70.7h0M113.6 74.6h0M129.4 99.2h0M114.6 68.4h0M24 85.1h0M211.4 137.9h0M92.5 89.2h0M11 78.4h0M194.1 69.3h0M57.9 83h0M186.2 86.1h0M87.7 84.5h0M71.5 61.2h0M1.6 71h0M71 49.4h0M23.5 85.3h0M121.3 63.6h0M160.7 94.8h0M100.4 78.1h0M118.9 56h0M191.4 80.5h0M57.3 84.1h0M146.6 79h0M134.6 100.7h0M19.3 79.5h0M112.7 84.2h0M195.5 77.6h0M83 86.1h0M176.4 85.7h0M99.1 86h0M160.4 89.5h0M62.4 86.2h0M118.3 56.6h0M53.6 88h0M82.6 79.3h0M102.4 80.9h0M65.4 84.2h0M106.2 79.4h0M31.3 80.5h0M194.5 75.8h0M185.6 69.6h0M95.1 75.9h0M37.9 81.5h0M105.9 79.5h0M14 90.3h0M148.5 74h0M95 80.2h0M60.9 75.3h0M208.9 129.3h0M51.1 62.9h0M38.1 82.3h0M201.6 87.3h0M5.5 81.6h0M26.4 79.3h0M72 59h0M135.4 83.6h0M9.9 95.1h0M197.5 74.1h0M174.5 72.6h0M133.5 95.1h0M129 90.3h0M76.3 68.7h0M102.5 77.3h0M163.3 81.3h0M212.6 127.4h0M67 44h0M45.1 75.7h0M168.5 83.4h0M178.6 93.7h0M142.4 89h0M15.2 80.9h0M156.8 75.3h0M183.7 67.3h0M45.1 62.9h0M91.2 84.8h0M106.9 86.5h0M156.6 101.2h0M25.1 70.1h0M95.8 76.4h0M139.2 93.4h0M9 73.9h0M139 87h0M61.9 80.2h0M102.5 74.9h0M180.2 86.9h0M10.2 84.4h0M112.2 87.9h0M107.6 70.9h0M158.4 73.4h0M178.1 69.7h0M123 91.8h0M156.8 64.8h0M100.4 78.2h0M46.4 57.8h0M5.7 85.9h0M19.2 80h0M152.9 76.4h0M22.3 87h0M32.3 71h0M133.7 85.3h0M55.4 66.3h0M68.1 47h0M153.3 86.8h0M72.6 77h0M82.5 78.7h0M116.2 49h0M122.8 81.4h0M32.1 73.2h0M103.7 77.4h0M19.1 69.1h0M134.3 91h0M165 88.7h0M193.5 71.7h0M78.1 82.8h0M195.9 82.2h0M33.4 87.8h0M183.6 76.2h0M114.6 72.3h0M78.5 85.6h0M192.2 63.8h0M164.7 84.5h0M122.4 81.5h0M21.4 75h0M63 77.6h0M212 118.2h0M181.3 84.9h0M196.8 66.8h0M109.2 77h0M148.6 74.1h0M75.4 77.6h0M155.2 79.1h0M168.3 87.8h0M127.1 100.7h0M206.9 119.5h0M184.8 76.9h0M58.9 77.6h0M201.2 79.4h0M190.8 79.9h0M209.5 138.5h0M41.2 87.5h0M146.6 87.5h0M5.4 89.2h0M15.8 73.6h0M18.3 73.8h0M164.9 80.6h0M130.6 85.8h0M2.4 76.8h0M19.6 77.3h0M119.6 61.8h0M205.3 72.1h0M145.5 84h0M182.4 88.6h0M81.3 81.1h0M209.9 129.7h0M156.7 70h0M62.4 82.7h0M90.6 84.4h0M50.6 61.5h0M199.4 90.1h0M108.4 81.8h0M138.8 92.6h0M150.3 75.1h0M175.1 83.2h0M56.4 90.6h0M133.7 82.8h0M162.4 88.1h0M37.5 78.5h0M202.7 74.5h0M176.3 63.8h0M113.5 76.8h0M32.6 79.3h0M140.6 82h0M197.7 76.2h0M54.1 72.7h0M38 92h0M186.3 66h0M5.7 78h0M55.4 69.5h0M162.7 94.9h0M95.9 83.7h0M29.4 76.3h0M80.4 84.6h0M63.3 77.4h0M28.1 75.6h0M4.6 76.4h0M145.8 72.1h0M159.6 73.9h0M99.4 75.7h0M98.7 85.8h0M59.7 82.1h0M33 68.4h0M127.3 93h0M43.1 92.4h0M56.2 75h0M181.6 88.1h0M83.7 86.5h0M185.7 72.1h0M196.1 78h0M95.7 80.4h0M57.3 73.9h0M166.5 85.3h0M29.8 77.8h0M87.5 79.9h0M117.5 58h0M144.7 83.7h0M34.4 54.4h0M170.1 76.1h0M171.9 83.7h0M196.1 78h0M172.3 70.6h0M37.2 79.4h0M34.6 66.1h0M148.1 69.4h0M8.2 71.2h0M57.7 82.4h0M6.8 80.3h0M72.3 60.9h0M129.6 87.5h0M172 71.1h0M142.2 65.5h0M14 69.6h0M187.7 87h0M199.5 80.1h0M137.3 94h0M150.7 83.3h0M60.9 85.5h0M131.2 93.9h0M54.9 67.8h0M201.7 87.7h0M2.7 79.7h0M183.3 67.7h0M129.7 78.9h0M174.2 73.6h0M52.2 66.4h0M94.9 72.9h0M152.5 79.3h0M151.5 75.4h0M90.7 87.2h0M211.1 137.1h0M161.4 88.4h0M4.8 78.3h0M151.8 80.4h0M201.1 71.4h0M134.1 86h0M148.1 76.9h0M55.7 82.5h0M45.6 71.1h0M125.2 86.6h0M182.3 77.9h0M30.6 77.2h0M203.8 68.5h0M49.1 64h0M67.3 61.6h0M182.8 75.7h0M163.1 87.6h0M119.5 70.7h0M61.5 82.4h0M109.6 81.3h0M120.3 83.5h0M174.3 72.9h0M183.5 73h0M191.8 77.8h0M86 77.4h0M41.3 79.9h0M82.1 85.4h0M202.5 61.8h0M99.2 78.4h0M206.4 129.7h0M53.1 79.8h0M11.2 79.2h0M4.5 83.8h0M212.7 125.4h0M201.8 87.8h0M47.8 65.4h0M.9 76h0M95.6 76.9h0M117.1 54.7h0M101.3 74.5h0M57.2 70.5h0M150.8 76h0M71.2 67.1h0M79.2 76.5h0M110.4 83.1h0M194 74.3h0M180.2 86.1h0M32.7 72h0M57.1 82.3h0M29.1 72.5h0M188.7 77.3h0M174 75h0M54.4 67.3h0M206.2 114.5h0M194.1 71.6h0M73.2 83.9h0M66.3 85.2h0M150.4 65.4h0M140.1 80.7h0M151.6 77.3h0M141.5 78.5h0M17.7 72.9h0M45.5 58.5h0M41.4 77.3h0M55.8 72.8h0M92.2 91.2h0M177.9 68.4h0M141 83.3h0M58.6 90h0M140.2 88.8h0M185.4 74.3h0M209.1 132.8h0M141.8 74.8h0M191.9 79.4h0M179.7 95.8h0M101.3 88h0M100.2 94.3h0M178 81.2h0M90.1 83.7h0M92.2 85.9h0M1.2 71.8h0M16.1 77.5h0M145.1 82.6h0M65.1 82h0M42.6 83.8h0M147.2 84.9h0M134.3 80.3h0M71.5 66.2h0M115 78.8h0M154.9 75.7h0M69 59.6h0M84.5 85.5h0M123.5 88.1h0M130.2 92.3h0M5.1 65.5h0M87.5 76.3h0M175 78.2h0M196 64.3h0M166.2 85.7h0M125.4 97.9h0M17.7 76.8h0M84.8 94.4h0M87 79.6h0M57.5 80.1h0M22.4 81.6h0M152.1 85.8h0M82.3 70h0M171.7 74.2h0M113.6 79.4h0M20.6 80.9h0M213.1 119.3h0M55.9 62.7h0M163.9 90h0M201.9 80.7h0M183.3 80.9h0M22.7 81.2h0M49.4 66.4h0M68.2 56.9h0M11.1 89.6h0M57.7 87h0M119.4 61.3h0M135.3 101.2h0M65.9 89.4h0M74.3 79h0M41.8 84.7h0M46.6 60h0M195.3 80h0M97.4 92.4h0M108 76.1h0M178.4 72.7h0M91.9 68.7h0"/>
<path stroke="#4a4a4a" stroke-opacity=".52" stroke-width="1.05" d="M191.3 68.9h0M165.5 101h0M48.3 72.1h0M175.2 112.2h0M170 70.1h0M100 86.3h0M212.2 153.5h0M130.7 114.2h0M99.6 90.8h0M195.6 66.4h0M134.3 89h0M109.8 85h0M2.9 89.6h0M41.3 111.4h0M147.7 71.5h0M43.1 118.2h0M79 78.6h0M177 82.6h0M33.3 101.1h0M108.9 104.9h0M180.7 120h0M136.5 88.7h0M158.2 73.6h0M115.6 82.6h0M108.5 91.5h0M208.7 130.2h0M126 109.6h0M32.5 102.3h0M94.1 77.3h0M51.4 66.3h0M21 97.5h0M206.4 135.2h0M46.2 67.6h0M64.3 82.6h0M186.4 93.6h0M192.8 120.2h0M121.6 85.7h0M8.5 98.9h0M99.9 87h0M160.3 97.5h0M26.6 81.7h0M186.1 73.3h0M126 93.8h0M110.9 71.4h0M32.5 62.8h0M199 95.7h0M172.9 62h0M89.5 96.8h0M173.9 78.2h0M3.4 82.7h0M48.6 71.2h0M42.6 78h0M77.7 96.4h0M38.6 70.7h0M74 65.8h0M202.2 76.1h0M72.8 60.8h0M58.2 91h0M203 80.1h0M95 79.8h0M110.1 104.2h0M158.5 92.4h0M196.8 88.6h0M91.9 77h0M53.8 79.1h0M171.9 78.3h0M153 96.3h0M11.2 79.1h0M24.3 78h0M128.9 89.4h0M126.9 98.1h0M205 80h0M88 103h0M163 117.2h0M155.7 77.6h0M24.5 55.3h0M187.2 85.4h0M6.8 114.7h0M8.7 94.6h0M144.7 77.7h0M200.1 88.9h0M115 82.2h0M122.6 86.3h0M8.8 77.9h0M171 71.1h0M204.7 83.9h0M72.5 66.3h0M133.7 114.3h0M184 61.5h0M170 93.8h0M122.5 98.7h0M136.3 93.3h0M130.1 101.4h0M141.1 62.7h0M134.9 97h0M175.7 59.3h0M154.1 71.2h0M34.8 72h0M6.1 64.6h0M138.9 91.1h0M46.1 67.7h0M120.4 75.4h0M54.2 82.8h0M64.2 62.8h0M16.9 87.9h0M28.3 72.5h0M28.2 79.9h0M17.7 71.6h0M193.3 97.4h0M80.3 61.1h0M151.7 77.5h0M21 82.2h0M155.2 63.5h0M110.8 96h0M161.6 100.6h0M41 109.5h0M114.5 87.8h0M159.6 75.2h0M27.2 79.2h0M153.8 63.5h0M212.5 139.1h0M165.8 102.1h0M84.5 92.2h0M136.9 102.6h0M162 93.9h0M80.9 75.4h0M7.5 69.8h0M180.1 91.3h0M115.8 98.7h0M82.9 79.9h0M81.6 80.1h0M177.2 79.2h0M29.7 84.8h0M176 74.3h0M26.7 73.8h0M19.9 68.6h0M210.6 111.8h0M25.2 77.9h0M195 83.2h0M14.8 81.9h0M67.2 37.5h0M12.5 91.3h0M212.2 127.1h0M195.4 108.6h0M52.9 68.9h0M26.6 86h0M183.5 66h0M142.9 78.3h0M110.2 77.5h0M134.2 59.1h0M38.6 89.1h0M29.4 96.6h0M24.5 97.2h0M208.9 138.4h0M49.5 68.6h0M108.2 88.9h0M67.5 58.2h0M128.1 88.3h0M14.5 99.4h0M50.7 71.8h0M162.3 82.4h0M176.8 66.1h0M181.2 74.5h0M145.4 79.6h0M157 85.2h0M64.6 114.2h0M70.5 49.9h0M205.8 126.8h0M122.8 104.4h0M171.4 71.5h0M171 100.7h0M147.7 65.3h0M164.1 91.2h0M3.7 85.5h0M87.5 81h0M111.8 55.5h0M18.4 81.8h0M120.2 94.3h0M119.2 52.2h0M198.8 98.4h0M134.7 78.5h0M187.4 63.2h0M97.1 73.2h0M160.1 118.9h0M99.7 98h0M176.3 68.4h0M180.2 89.6h0M167.5 76.3h0M95.6 103.6h0M89.9 81.5h0M62.7 68.1h0M62.7 86.5h0M92.1 75.9h0M213 113.7h0M80.7 75.4h0M57.2 92.9h0M67 74.1h0M105.6 81.6h0M42.5 87.7h0M176.5 78h0M116.6 56.6h0M43.2 105.8h0M150.7 96.3h0M12.5 85.6h0M156.3 83.8h0M174.3 87.7h0M95.1 115.6h0M145.7 99.7h0M52.8 62.7h0M137.3 93.7h0M136 115.2h0M55.3 90.1h0M43.6 100.5h0M205.1 103.9h0M54.9 83.7h0M164.6 103.9h0M29.5 85.6h0M68.8 51.1h0M104.3 88.9h0M140.1 89.6h0M93.5 89.6h0M104.5 88.5h0M94.3 52.1h0M29.8 58.4h0M37.4 84.6h0M60.7 76.8h0M5.9 92.8h0M3.6 112.9h0M35.1 57.5h0M57.8 85.2h0M174.2 96.3h0M142.6 70.7h0M128.2 77.7h0M164.7 88.3h0M203.3 81.9h0M24.7 91.3h0M7.3 78.6h0M211 110.8h0M203.1 102.9h0M129.8 112.2h0M71.8 57.5h0M4.4 73.2h0M148.1 93.6h0M161.2 108.9h0M39.6 76.5h0M95.6 71.3h0M59.6 68.4h0M191.6 84h0M145.2 97.4h0M86.2 70.4h0M167.9 77.6h0M45.6 87.2h0M57.5 80.1h0M25.4 77.4h0M7.9 87.5h0M18.4 51.9h0M163.1 83.7h0M129.8 83h0M134.2 102.4h0M62.7 51.4h0M149 87.4h0M6 74.7h0M205.3 72h0M155.9 71.6h0M59.7 89.4h0M183.4 90.4h0M95.7 71.4h0M65.4 80.8h0M37.2 92.1h0M16.4 111.9h0M101.3 118.2h0M14.6 84.7h0M127 109.1h0M1.6 70.2h0M111.4 98.2h0M78.9 94.3h0M121.2 83.5h0M203.3 66.3h0M123.7 106.3h0M29.1 86.7h0M86.2 90.7h0M115.7 92.9h0M23.2 73.1h0M181.1 85.6h0M196.5 75h0M36.8 75.5h0M93.5 94.5h0M75.6 61.3h0M209.4 115.5h0M25.2 99.3h0M172.4 64.7h0M3.1 98.8h0M34.9 60h0M97.4 96.5h0M141.2 65.5h0M108.5 95.4h0M60.9 61h0M46.5 80.6h0M99.3 128.2h0M60.2 75.9h0M70.9 81.7h0M54.8 79.3h0M161.1 96.3h0M66.5 70.4h0M30.1 73.1h0M93.6 66.2h0M152 92.2h0M28.4 95h0M148.5 89.2h0M22.3 99.7h0M20.1 63.6h0M121.4 94h0M144.8 66.2h0M212.6 146.2h0M167.1 99.3h0M190.2 67.1h0M211.5 129.5h0M57 100.3h0M201.7 68.9h0M80.2 84.9h0M161.4 107.9h0M95.8 58.1h0M30.2 64.9h0M49.4 75.3h0M162.3 119.1h0M80 85.4h0M69.2 63.7h0M23 104.1h0M135.7 92.4h0M123.4 89h0M130.1 91.9h0M17.4 38.4h0M54.4 74.3h0M43 77.7h0M61.4 85.9h0M202.6 90.3h0M149.9 103.2h0M71.9 58.2h0M70.2 77.4h0M1.3 99.7h0M117.5 42.2h0M16.5 83.4h0M71.3 82h0M15.4 93.3h0M197.6 88.5h0M44 80.5h0M52.5 64.2h0M191.4 97.4h0M135.7 104.1h0M68.1 60.7h0M47 53.8h0M135.1 95.9h0M71.8 72.4h0M18.8 82.7h0M116.8 53.9h0M55.8 69.9h0M124.6 98h0M203 68.8h0M174.3 89.5h0M136.7 75.6h0M110.8 116.3h0M189.9 78.2h0M14.6 53.8h0M173.2 94.5h0M38.1 85.4h0M181.6 82.5h0M208.5 105.1h0M52.4 63.2h0M66.7 65.7h0M107.9 77.6h0M94.6 79.6h0M42.9 77h0M107.3 80h0M185.3 86.5h0M191.2 72.4h0M67.8 51.1h0M200.2 110.8h0M20.9 59.2h0M123.6 59.4h0M109.2 90.3h0M107.7 95.1h0M93.1 69.3h0M202.8 70.8h0M202.3 113.5h0M32.7 101.9h0M87.1 67h0M177.9 84.7h0M155.7 71.8h0M45.1 72.2h0M100.6 112.8h0M12.5 91.3h0M140.9 83.1h0M12.5 53.5h0M4.3 91.2h0M81.6 85.6h0M183.3 105.8h0M61.5 106h0M71.5 59.9h0M128.6 92.3h0M197.4 64.4h0M172.2 63.8h0M115.7 79h0M81.1 79h0M74.9 80.8h0M15.2 85.2h0M21.2 98h0M205.2 91.8h0M209.1 139h0M189.6 73.7h0M38.3 72.7h0M185.3 87.3h0M132.7 100.8h0M62.2 55.7h0M27.7 66.7h0M170.9 56.6h0M30.6 81.8h0M29 102.5h0M124.5 90.4h0M91.7 67.3h0M141.8 70.4h0M52.8 59.9h0M153.3 79.3h0M190.7 62.6h0M143.6 89.7h0M20.5 60h0M211.2 111.2h0M6.6 102.4h0M64.4 90.2h0M3.6 93h0M126.5 107.3h0M173 74.7h0M171.6 86.7h0M91.5 87.5h0M184.2 97.3h0M24.7 79.9h0M120.3 88.3h0M153.6 94.4h0M166.2 64.9h0M37.8 88.7h0M153.4 75.4h0M186.2 79.8h0M100.1 73.7h0M148.4 105.1h0M199.5 75.5h0M6.8 94.1h0M129.1 115.7h0M106.2 53.6h0M65.2 94.1h0M128.6 85.2h0M199.7 82.1h0M70.4 49.5h0M1.7 118.2h0M25.7 96.6h0M185.5 75.8h0M139.3 124.6h0M62.9 98.8h0M190.8 72.9h0M25.7 96.6h0M160 81.6h0M109.7 88.1h0M63.6 88.6h0M182.7 96.3h0M13 67.5h0M98.2 73.2h0M164.2 70.6h0M21.1 107h0M124.3 120.7h0M167.9 83.4h0M185.4 85.6h0M152.7 100.6h0M57 108.8h0M126.2 77.6h0M198.6 102.8h0M77.4 90.6h0M62.1 76.2h0M18.9 97.4h0M187.7 91.8h0M94 76.1h0M82.2 75.1h0M202.8 77.2h0M100.6 81.7h0M173.7 79.8h0M103.7 92.2h0M60.5 78.9h0M177.1 57.1h0M180.7 73.7h0M130.1 123.1h0M108.7 82.6h0M167.7 112.7h0M14.4 95h0M187 86.9h0M64.9 76.6h0M27.6 76.8h0M52.9 83.1h0M87.2 96.3h0M136.6 89.2h0M170.8 83.5h0M102 91.8h0M18.9 50.9h0M109.1 103h0M195 82h0M56.1 85.3h0M118.7 73h0M197.7 80.6h0M44.4 85.8h0M18.2 73.9h0M151.9 97.9h0M62.8 99.9h0M199.7 102h0M54.9 68.8h0M205.2 66.1h0M162.9 99.2h0M13.1 69.7h0M149.9 102.9h0M152.8 68.8h0M184 99.7h0M76.7 89.6h0M82.2 29.2h0M212.3 111.7h0M119.5 35.7h0M194.5 93.7h0M70 76.2h0M195.2 41.1h0M39.9 90.9h0M2.3 118.4h0M143.4 76.7h0M107.7 52.9h0M157.1 84.7h0M113.9 100.2h0M200.3 98.2h0M36.9 68.9h0M116.8 39.9h0M199.9 89.4h0M157.1 93.2h0M150.9 77.9h0M4 99.2h0M165.3 106.6h0M37.9 100h0M131.1 71.3h0M152.6 73.1h0M99.7 104.6h0M105.4 62.4h0M51.9 65.3h0M62.8 72.7h0M180.8 90.5h0M94.8 95.4h0M204.6 57.9h0M29.9 80.2h0M135.6 83.1h0M185.6 76.8h0M69.8 75.9h0M108.6 100.7h0M43.2 88.1h0M168.7 86.6h0M142.1 72.2h0M68.8 70.7h0M18.2 99.9h0M141.4 90.5h0M131.7 83.7h0M95.5 64.4h0M115.8 94.6h0M189.3 101.4h0M164.6 82.6h0M81.2 83.6h0M68.9 41.7h0M113.3 81.8h0M148.2 81.7h0M73.9 70.5h0M98.2 92.9h0M4.1 67h0M82.5 103.1h0M190.5 101.1h0M75.9 62.7h0M22.8 64.3h0M132.4 83.8h0M27.4 86.4h0M190.1 75.3h0M25.5 83.8h0M68.2 32.6h0M210.3 139.9h0M77.6 86.8h0M92.5 68.1h0M61.7 84.4h0M175.3 88.1h0M211.6 126.4h0M158 95.8h0M137.6 100.9h0M47.5 73.6h0M133.1 98.3h0M84.5 93.2h0M170.2 79.4h0M50.1 73.8h0M140.8 93.9h0M143.6 81.5h0M99.2 94.5h0M40.5 107.6h0M158.9 70.7h0M19.6 82.9h0M50.3 55.3h0M179.1 87.3h0M138.2 100.5h0M40.2 90h0M175.5 119.5h0M155.3 99h0M159.3 74.8h0M177 75.4h0M63.8 77.8h0M143.5 70.5h0M33.5 79.3h0M90.1 84.4h0M145.2 92.8h0M209.8 151.7h0M108.5 83.9h0M20.1 100.7h0M202.6 61.1h0M18.7 83.2h0M161.6 105.7h0M184.6 92.5h0M170.1 86.3h0M108 83.8h0M29.9 64.6h0M205.9 125h0M138.1 88.1h0M91.4 82.2h0M23 88.6h0M22.5 115.5h0M74.7 75.1h0M211.2 108.7h0M153.8 68h0M118.2 67.3h0M22.1 85.6h0M98.5 78.1h0M166.5 79.7h0M104.4 79.3h0M114.4 71.3h0M97.7 75.1h0M170.2 66.9h0M15.1 91.2h0M105.7 81.1h0M50.3 74.4h0M53.2 57.1h0M204.6 63.5h0M158.9 75.4h0M67.6 62.7h0M83.6 95.8h0M90.1 72.3h0M164.5 88.8h0M144.3 73h0M22.8 78.5h0M66.2 77.2h0M161.2 64.7h0M7.4 82.6h0M171.3 81.5h0M197.1 100.3h0M127 85.3h0M74.6 77.9h0M72.9 55.7h0M1 82.6h0M15.2 73.6h0M78.3 82.2h0M169.7 58.2h0M14.6 88.2h0M40.4 76.7h0M50.8 74.2h0M43 95.6h0M88.7 66.7h0M172.3 72.2h0M115.8 60.6h0M47.5 92.5h0M175.8 68.3h0M189.3 87.7h0M64 87.1h0M140.2 93.6h0M183 92.6h0M183.9 89.6h0M98.5 77.7h0M177.4 77.2h0M30.4 97.2h0M35.4 83.9h0M82 85.7h0M99 83.1h0M203.9 83.9h0M57.9 49h0M1 49.3h0M67.6 49h0M69.2 62.5h0M1.6 71h0M162.3 76.1h0M109.6 70.3h0M46.3 75.1h0M86.9 107.1h0M61.5 79.1h0M132.1 80.5h0M106.2 92.6h0M109.6 87.2h0M97.9 67.7h0M160.5 84.3h0M181.1 76.6h0M153.9 92.5h0M55.3 91.7h0M140.2 79.3h0M165.4 83.7h0M178.8 118.3h0M37 106.2h0M146.4 66.2h0M150.9 90.3h0M156.7 103.4h0M154 88.9h0M201.7 56.2h0M123.2 114.8h0M92.8 71h0M110.5 62.2h0M110.6 88.4h0M53.2 104.6h0M56.8 97.9h0M77.8 77.2h0M8.6 92.7h0M96.6 89.8h0M3 85.2h0M199.5 73.6h0M40.1 79.9h0M89.3 80h0M79.9 89.4h0M36 86.5h0M141.2 84.9h0M166.8 92.7h0M144.1 100.8h0M4.1 90.8h0M109.9 78.4h0M82.6 80.4h0M96 80.3h0M62.1 75.1h0M89 93.1h0M179.1 99.4h0M43.2 81.3h0M156 72.3h0M20.2 67.2h0M98.9 92.7h0M106.2 64.3h0M86.7 78.1h0M56.8 91.7h0M24.7 75.5h0M66.9 79.6h0M107.2 106.8h0M143.9 74.3h0M96.5 94.9h0M15 86.9h0M199.8 87.7h0M19.8 100.2h0M22.3 69.8h0M50 78.2h0M7.2 69.7h0M106.6 65.3h0M79.1 113.5h0M170 57.4h0M198.2 65.1h0M201 85.4h0M74.3 94.6h0M196 80.5h0M9.6 72.6h0M211 115.3h0M97.9 89.8h0M63.2 63.7h0M175.1 74.2h0M20.8 86h0M197.9 117.1h0M30.8 93.8h0M62.5 99.3h0M147.9 97.9h0M104.7 71.6h0M205.8 132.7h0M73.1 116.9h0M123.5 91.1h0M201.5 67.4h0M63.7 99.2h0M24.7 69.1h0M172.1 49.7h0M151.7 83.8h0M208.4 149.9h0M59.6 75.8h0M18.2 102.7h0M153.5 62.8h0M4 100.6h0M53 49.9h0M62.6 78.3h0M190.7 43.2h0M71.2 47.3h0M178 76.1h0M76.4 70.1h0M166.8 94.5h0M160 90.5h0M136.5 92.5h0M70.9 52.9h0M201.3 92.9h0M113.5 85.1h0M27.1 101.8h0M175 65.9h0M152.2 66.3h0M114.9 65.5h0M76 94.1h0M91.3 93.1h0M61 71.2h0M127.3 92.4h0M90.3 92h0M205.1 67.1h0M106.5 95.2h0M52.6 53.8h0M162.2 81h0M195.4 81.8h0M158.5 61.3h0M118.5 59.8h0M193 58.4h0M157.3 81h0M164.2 96.8h0M63.4 91h0M7.9 75.6h0M104.3 103.2h0M181.6 83.7h0M57.9 109.4h0M52.4 83.3h0M64.9 79h0M159.1 74.2h0M191.4 72.5h0M27.6 90.8h0M35.8 107.2h0M163 78.8h0M160.9 95.6h0M158.2 53.2h0M55.7 74.9h0M170.8 74.6h0M107.2 68.5h0M78.6 105.4h0M49.5 79.8h0M34.9 69.5h0M81.4 76.5h0M139 93h0M207.9 143.6h0M188.9 76.8h0M135.3 94.6h0M170.4 94.7h0M112.5 68.8h0M127.8 99.5h0M167.9 72.9h0M177.2 81.7h0M64 97.1h0M122.6 74.5h0M150 68.2h0M165.1 85.8h0M181.8 95.6h0M155.5 74.2h0M120.4 108.1h0M111.3 98.8h0M148 62.5h0M43.2 103.3h0M167 99.4h0M170 91.7h0M192.1 102.8h0M81.7 68.3h0M126.9 80.4h0M116.9 52.8h0M143.9 75h0M33.9 62.3h0M16.5 69.7h0M28.7 96.9h0M56.3 82.1h0M26.4 75.7h0M3.3 117.6h0M108.9 93.5h0M44.8 92.7h0M86 91.7h0M211.1 108h0M77 74.8h0M50.2 49.2h0M39.3 45.3h0M181.6 89.5h0M1.1 70.8h0M4.4 90.9h0M143.7 92.4h0M67.1 67.3h0M24.9 71.2h0M38.6 92.2h0M141.2 100.8h0M42.5 88.5h0M149 72.9h0M57.8 112.3h0M24.8 95.9h0M23 79.9h0M158.3 64.8h0M79.3 112.3h0M83.4 88.8h0M123.9 104.5h0M211.2 130.1h0M74.1 74h0M154.9 73.3h0M175.9 86.2h0M133 108.3h0M187 70.7h0M5.2 91.3h0M159.1 83.2h0M147.6 74.4h0M27.3 70h0M71.8 32.6h0M208.1 143.2h0M107.2 103.7h0M26.2 76.9h0M181.4 81.6h0M123.4 95h0M70.7 54.7h0M106.1 80.2h0M141.2 48.1h0M182.8 102.1h0M94.9 86.7h0M184 66.4h0M108.7 53.7h0M134.9 95.5h0M73.9 60.8h0M148.5 53.7h0M123 87.7h0M55.7 75.8h0M80.2 91.6h0M102.2 101.9h0M197.8 65.9h0M157.1 61.9h0M210.7 112.4h0M191 95.1h0M156.4 51.4h0M170.7 89.5h0M30.7 87.3h0M204.8 62h0M74 89.9h0M212.1 115.2h0M160.6 117.3h0M77.6 100.1h0M150.1 85.2h0M179.2 111.2h0M108.2 88.8h0M184.5 66.6h0M59 93.8h0M42.4 89.4h0M59.9 70.7h0M52 85.1h0M69.5 29.8h0M128.7 90.2h0M11 95.9h0M193.3 69.2h0M36.5 104h0M163 93.5h0M96.3 76.9h0M36.7 100.7h0M102.7 77.3h0M83.7 94.1h0M13.9 71.4h0M192 52.3h0M116.1 67.5h0M103 74.7h0M63.6 107.1h0M11 89.5h0M86.5 87.6h0M47.4 62.3h0M142.6 81.9h0M156.7 89.3h0M137.7 85.2h0M61.8 98.9h0M22.8 89.9h0M40.8 87.3h0M163 106.8h0M181.3 127.3h0M17.9 85.3h0M72 67.4h0M182.6 121.4h0M150.1 80.6h0M211.3 138.4h0M141.9 93.8h0M158.9 74.3h0M159.6 78.1h0M152.3 88h0M56.3 70.3h0M113.9 90.5h0M159.7 76.8h0M72.9 48.3h0M105.5 79.3h0M166.5 84.1h0M50.3 76.1h0M72 52.6h0M201 78.8h0M63.6 58.6h0M135.8 93.7h0M48 59.4h0M22.5 87.2h0M157.8 133.7h0M47.5 74.7h0M106.4 82.8h0M70.3 74.4h0M17.1 85.1h0M99.8 83.8h0M36.6 78.8h0M4.7 66.8h0M196.1 90.7h0M88.6 104.7h0M29.4 94.4h0M197.7 97.2h0M64.3 66.4h0M139.1 94.7h0M14.5 80.8h0M3.3 99.1h0M73.3 112.5h0M148.8 73.6h0M166.4 65.2h0M131.4 83.9h0M180.6 105.6h0M9.6 89.6h0M57.4 75.2h0M83.1 73.2h0M162.2 114.8h0M47.9 58.1h0M206.3 140.3h0M209.2 122.2h0M150.8 80.7h0M153.6 86.9h0M63.3 68h0M75.8 85.9h0M210.3 125.8h0M94.7 66.1h0M165.5 123.1h0M63.3 94.7h0M83.4 122.8h0M4.5 63.6h0M148.5 55.3h0M179.3 67.9h0M50.8 64.2h0M199.7 103.5h0M100.8 91.8h0M185.1 107.9h0M191.7 72.2h0M87.8 80.4h0M168.1 101.5h0M61.3 84.3h0M51.5 86.4h0M78.5 103.9h0M81.6 91.1h0M120.9 58.2h0M47.5 67.1h0M57.1 94.4h0M55.7 73.7h0M21.8 95.8h0M37.6 59.1h0M190.3 94.7h0M177.7 42.1h0M100.8 85.5h0M149.3 67.5h0M46.6 94.9h0M177.6 88.3h0M181.6 101.6h0M81.3 79.1h0M162 76.2h0M190 99.9h0M102.4 72.9h0M166.8 90.4h0M109.7 99.3h0M41.8 87h0M84.9 75.3h0M154 70.8h0M196.6 79h0M129.3 107.3h0M89.6 102.1h0M76.1 82.6h0M104.6 106.1h0M47.7 50.2h0M91.4 76.1h0M108.4 65.9h0M7 72.1h0M173.1 61.9h0M131 93.8h0M80.5 88.5h0M180 89.8h0M205 93.5h0M126.9 80h0M46.3 62.8h0M56.2 74.3h0M171.5 75.7h0M134.8 84.7h0M24.4 93.3h0M194.7 49.9h0M187.1 85.5h0M134.2 102.8h0M142.5 66.2h0M.8 82.5h0M42.1 111.8h0M177.8 73.5h0M16.2 89.2h0M52.9 82.2h0M110.9 87.2h0M187.1 59.3h0M188.6 90.2h0M96.2 57.1h0M132.8 113.1h0M174.2 94.2h0M47.2 38.5h0M183.5 63.2h0M134.6 82.9h0M38.4 81.5h0M98.1 81.6h0M196.5 88.4h0M172.8 87.7h0M88.7 88.7h0M105.1 89.8h0M22.9 75.9h0M58.3 88.8h0M81.1 89.1h0M90.4 67h0M20.3 58.1h0M10.8 115.5h0M69.4 45h0M162.6 102.4h0M203.3 70.4h0M14.6 98.8h0M202.1 82h0M108.6 87.3h0M199.6 89.5h0M84.8 94h0M110.7 95.8h0M189 70.5h0M32.9 65.5h0M166.7 120.6h0M102.5 85.1h0M131 81h0M137.1 116.6h0M70.8 55.1h0M105.2 122.2h0M68.8 74.3h0M93.9 92.5h0M7.4 84h0M205.1 72.1h0M6.2 99h0M101.8 91.5h0M70.3 40.5h0M18.7 72.6h0M8.5 88.6h0M128 86.2h0M86.7 81.4h0M3.9 74.7h0M205.9 133.5h0M98.1 103.9h0M210 115.7h0M40.9 69.9h0M112.1 89.7h0M124.6 75.6h0M187.3 80.8h0M125 92.8h0M26.8 101.3h0M110.8 111.2h0M15.5 86.7h0M24.1 82.1h0M26.3 87.8h0M64.5 94h0M16.6 55.6h0M143.6 89.3h0M153.6 93.2h0M118 52.3h0M158.2 87.7h0M113.3 86.7h0M95.1 91.9h0M171.7 75.9h0M94 69.5h0M117.5 58.3h0M151.5 64.6h0M19.6 95.8h0M129.3 81.1h0M12.7 88.5h0M152.7 89.9h0M79.6 88.4h0M194.5 81.6h0M72.3 60.7h0M34.8 71.9h0M176.6 83.6h0M207.8 116.6h0M21.1 102.9h0M12.1 96.7h0M52.8 88.3h0M4.2 70.4h0M184.4 80.5h0M121.2 72.3h0M44.7 72.9h0M139.7 78.8h0M194.1 63.1h0M136.8 87.4h0M120 64.4h0M145.2 75.4h0M105 77.7h0M39.1 82h0M186.2 81.8h0M179.8 88.1h0M200 85.1h0M103.1 105.1h0M12.5 74.1h0M14.9 86.4h0M49 70.6h0M173.9 90.8h0M21.5 82.9h0M32.4 67h0M203.7 81.8h0M110 81.1h0M58 97.1h0M118.3 55.4h0M95.3 65.7h0M136.6 114.9h0M203.2 79.4h0M72.7 80.2h0M188.2 86h0M141 87.5h0M84.8 87.5h0M95.3 72.3h0M24 73.8h0M133 84.2h0M207.3 126.6h0M110.8 83.5h0M94.3 98.1h0M81.1 93.9h0M151.4 103.2h0M132.6 85.9h0M124.2 108h0M197.8 55.4h0M96.5 74h0M166.7 109.5h0M129.5 106.4h0M12.2 81.9h0M90.7 76.5h0M119.5 104.1h0M130.4 92.6h0M42.8 106h0M105.6 74.8h0M187.4 103.1h0M11.3 92.2h0M148.3 110.9h0M184.1 96.8h0M148.5 45.8h0M62.8 68.8h0M168.2 100.6h0M16.4 66.7h0M191.2 79.3h0M116.7 51.9h0"/>
<path stroke="#5a5a5a" stroke-opacity=".4" stroke-width=".9" d="M133.4 113.8h0M186.3 70h0M1.5 98.8h0M59.6 105.6h0M54.6 61.8h0M46.2 30.2h0M106.1 57.4h0M53.1 105.4h0M1.2 60h0M19.9 106h0M13 56.7h0M174.1 93.4h0M129.2 98.4h0M136.2 65.8h0M144.3 116.2h0M86.1 145.5h0M201.5 111.1h0M121.6 67.2h0M38.8 49.1h0M188.5 34.5h0M87.9 93.5h0M51.4 76.1h0M186.9 100.9h0M69 92.4h0M111.9 87.9h0M73.6 59.8h0M145.9 129.3h0M193.9 32.4h0M29.5 130.7h0M154.9 110.9h0M111.3 84.5h0M91.2 124.7h0M88 96h0M15 92.2h0M111 87.3h0M202.8 76.3h0M134.4 64.6h0M71.2 52.7h0M85.2 17.4h0M45.7 42.2h0M195.2 87.5h0M179.2 125.2h0M140.7 105.7h0M135.6 96h0M39.5 128.4h0M13.6 130.5h0M195.2 96.1h0M10.3 48.2h0M54.2 24.4h0M53.3 16.3h0M40.3 91.7h0M140.4 56.1h0M11.2 114h0M170.1 93.8h0M67.2 68.3h0M163.6 95.1h0M188.2 98h0M42.4 95.7h0M20.9 92.8h0M185 87.8h0M81.1 92.2h0M28.9 106.5h0M177.1 86.6h0M70.6 39.5h0M17.7 108h0M28.7 51.5h0M177.6 104.2h0M132.3 116.1h0M92.9 132.4h0M143.9 116.4h0M191.2 65.4h0M170.5 56.3h0M137.6 77.5h0M211.7 76.8h0M38 94.2h0M95.4 62.6h0M41 126.4h0M84.3 86.9h0M37.9 113.1h0M84.6 100.4h0M9 66.9h0M99.4 90.9h0M162.4 58.5h0M36.1 105.2h0M199.7 94.5h0M19.9 45.2h0M202.7 107.7h0M178.1 58.7h0M155.9 41.1h0M8.8 57.4h0M16.2 85h0M126.6 73h0M42.5 63.1h0M150.9 53.5h0M118.2 90.2h0M144.7 86.1h0M86.8 90.5h0M119.2 98.4h0M81.4 62.4h0M161.2 71.6h0M39.4 112.8h0M124.1 30.9h0M105.5 123.7h0M176.6 61.6h0M101.2 71.6h0M79.9 65.1h0M164.4 75.5h0M80.5 85.1h0M101.8 111.4h0M134.7 120.4h0M65.5 118.1h0M14.8 62.6h0M151.4 12.5h0M163.9 58.5h0M55.1 74.3h0M205.1 77.4h0M35.5 23.9h0M101.3 107.6h0M97.9 43.1h0M131.7 137.9h0M34.6 56.2h0M10.9 103.8h0M189 108.7h0M177.2 121.8h0M142.1 58.7h0M144.8 69.7h0M109.5 106.4h0M154.5 114.1h0M181.6 54.7h0M16.9 105.8h0M28.5 96.7h0M197.9 69.2h0M182 80h0M30.7 98.1h0M170.5 98.3h0M200.3 104.4h0M173.8 146h0M117.5 84.1h0M67 93.9h0M44 115.5h0M16.8 94h0M47.1 82.7h0M58.1 73.3h0M13.8 119.6h0M99.5 88.7h0M196.7 110.9h0M58.5 48.4h0M108.2 52.9h0M27 56.3h0M188.7 83.1h0M171.6 123h0M162.1 63.1h0M17.8 95.7h0M69.3 41.7h0M171.2 84.5h0M117.5 68h0M174.2 127.4h0M156.5 104.7h0M57.9 36.3h0M79.6 121.1h0M53.5 129.7h0M9.8 111h0M100.3 110.1h0M104 139.2h0M160.2 117.1h0M185.8 111.7h0M35.6 97.7h0M30 91.7h0M11.5 87.6h0M28.1 73.1h0M76.3 50.7h0M125.3 99.2h0M161.1 95.2h0M199.5 54.3h0M101.6 107.4h0M7.4 117.1h0M130.6 102.9h0M14.7 59.3h0M201 72.5h0M82.6 61.8h0M143.4 93.3h0M86.4 114.3h0M54.3 16h0M43.5 64.6h0M9.4 106.2h0M111.3 129.2h0M7.9 143h0M43.5 55.7h0M93 99.9h0M2.4 101.2h0M20.2 93h0M6.3 107.4h0M33.5 30.9h0M169.8 51.3h0M27.9 100.3h0M7.9 107.6h0M211.2 143.2h0M174.4 127.5h0M3.4 141h0M149 40.7h0M37.2 104.3h0M62.1 87.4h0M153.6 82.4h0M12 116.8h0M172 31.3h0M43.5 43.8h0M187.2 95.9h0M111.3 113.4h0M27.2 85.5h0M196.7 118.2h0M3.2 57.4h0M40.5 135.7h0M62 91.2h0M85.3 96.7h0M107.9 116h0M29.5 63.3h0M204.5 79.4h0M45.8 78.1h0M100.8 28.2h0M29.7 60.2h0M134.4 55.2h0M83.4 90.1h0M109.1 69h0M156 62.8h0M88.7 62.5h0M136.5 147.5h0M202.1 88.8h0M212 135.6h0M10.9 95.4h0M78.7 128.5h0M204.8 89.5h0M166 111.2h0M96 44.4h0M189.4 33.6h0M69.5 63.5h0M3.1 85.5h0M162.2 38.2h0M139.8 53.7h0M127.7 99.9h0M11.7 50.4h0M125.3 99h0M72.3 112.4h0M87.2 54.7h0M131 98.7h0M189 108.5h0M27.5 105.3h0M63.7 122.1h0M18.9 92.7h0M205.8 142.3h0M102.5 92.2h0M27 106.6h0M106.5 114.2h0M195.2 88.6h0M192 19.4h0M206.3 134.3h0M179.5 122.8h0M29.5 131.9h0M189.8 117.4h0M19.9 128.7h0M11.1 92.5h0M10.3 110.2h0M87.7 88.5h0M74.3 94.2h0M16.4 122.2h0M98.3 57.9h0M111.6 73.5h0M146.7 94.8h0M178.5 81.8h0M142.1 124.8h0M169.8 146.6h0M56.6 70.7h0M99.2 98.7h0M159 100h0M19.1 119.4h0M144.5 105.2h0M106.5 109.7h0M77.4 34.6h0M152.2 107.2h0M159.2 83.9h0M185.9 128.7h0M197.5 104.2h0M5.1 61.3h0M86.1 111.1h0M98.9 96.3h0M110.5 115h0M181.6 109.8h0M46.8 96.8h0M65.4 121.2h0M210.7 90.4h0M197 59h0M114.5 84.9h0M55 99.5h0M22.2 130.9h0M149.1 110.1h0M16.5 55.9h0M211.8 145.4h0M29.7 110.1h0M133.3 123.9h0M141.1 89.3h0M85.8 23.8h0M136.1 116.5h0M96.5 88.7h0M99.7 49.3h0M114.2 97.3h0M17.6 107h0M13.8 73.1h0M68.9 69h0M77.6 97.3h0M174.2 98.6h0M4.9 100.7h0M93.8 29.3h0M183.1 98.3h0M68.9 78.7h0M5.6 95.8h0M179.6 123.3h0M102.7 52.4h0M200.8 62.2h0M206.2 107.5h0M79.7 116.4h0M59.2 135.3h0M17.3 90.3h0M182.3 134.3h0M119.3 69h0M47.8 95.4h0M42.4 60.9h0M169.6 91h0M173 112.9h0M142.8 61h0M149.2 49.2h0M26 108.7h0M159.6 98.5h0M27.8 72.1h0M136.8 73.5h0M57.4 87.5h0M115.1 118.3h0M139.8 70.3h0M113.5 122.2h0M52.8 87.7h0M43.2 97.8h0M62.9 54.5h0M76.6 71h0M192.1 93.2h0M162.1 97.5h0M49.3 76.4h0M5.4 110.3h0M57.6 66.1h0M150.3 96.1h0M188 113.7h0M178.9 95.6h0M106.6 93.3h0M97.1 96.3h0M34.6 42.4h0M63.2 88.1h0M53.2 79.7h0M51.5 74.1h0M88.9 66.7h0M51.2 36.3h0M125.9 111h0M59.7 101.3h0M87.5 96.1h0M127.3 72.4h0M84.3 88.7h0M188.9 100.6h0M96.5 60h0M2.1 69h0M191.9 104.1h0M179.5 135.3h0M132.3 99.9h0M192 62.5h0M66 49.1h0M73.2 64.1h0M73.3 66.5h0M178 93.9h0M65.7 98.7h0M192.9 94.8h0M156.5 98.1h0M111.4 84.5h0M166.1 97.4h0M100.1 100.5h0M82.2 101.4h0M206.1 157.3h0M8.4 140.7h0M176.4 65.4h0M175.4 116.3h0M148.1 117.6h0M167.5 57.5h0M163.3 122.2h0M77.1 87.8h0M110.9 92.4h0M18.9 105.1h0M174 116.9h0M136.9 104h0M128.6 99.3h0M122 85.6h0M197 66.3h0M14.5 109.1h0M99.8 124.6h0M175.9 54.1h0M175.6 66.2h0M139.6 125h0M187.7 63.7h0M187.6 125.6h0M135.5 113.2h0M165.5 126.1h0M195.3 152.3h0M125 99.7h0M31.4 101.9h0M100.5 128h0M191.4 99h0M108.2 106.6h0M66.9 74.4h0M4.3 99.7h0M55.2 10.9h0M82 133.3h0M47.3 76.2h0M14.2 117h0M49.7 36.7h0M105.2 113.6h0M200.9 90.1h0M133.7 94.3h0M20.1 63.8h0M8.7 113.9h0M119.4 90.4h0M69.2 52.5h0M167.7 74.3h0M137.8 102.6h0M18.9 95.8h0M163.5 96.6h0M44.6 41.4h0M111.4 34.2h0M199.1 127.8h0M193.8 61h0M23.2 71.1h0M166.1 121h0M147.1 113.2h0M135.7 94.7h0M14.4 19.7h0M113.3 84.4h0M38.5 64.5h0M160 107.4h0M99.4 89.8h0M80 107.8h0M103.6 116.1h0M160.7 59.3h0M179.2 122.2h0M140.7 124.8h0M177.3 52.3h0M27 105.3h0M210.8 119.3h0M52 75.7h0M162.7 64.8h0M20.9 62.3h0M199.9 126.6h0M63.6 141.4h0M200.4 110.8h0M149.9 98.5h0M34.6 57.3h0M39.5 109h0M165.1 71.7h0M5 128.4h0M103.1 127.8h0M187.1 114.3h0M48.3 73.4h0M53.1 81.2h0M54.7 78h0M203.2 56.3h0M2.1 22.4h0M151 69.9h0M105 65.4h0M122.2 95.8h0M145.6 92.1h0M113.3 5.7h0M23.9 92.1h0M14.5 128.2h0M81.8 106.4h0M172.2 83.2h0M20.7 70.9h0M21.6 116.4h0M13.7 118h0M10.2 98.6h0M113.8 116.4h0M209.4 131.7h0M131.7 128.7h0M152.7 118.2h0M178.2 84.9h0M191.2 118.6h0M39.1 40h0M57.7 58.4h0M168.7 72.7h0M15.3 90.2h0M183.5 124.1h0M190.1 88.3h0M41.8 115.9h0M191.8 102.5h0M199 38.6h0M212.6 120.5h0M139.6 46.8h0M163.5 101.3h0M127 144.5h0M204.2 115.7h0M185.7 103.2h0M186.5 92.9h0M110.1 112.9h0M94.9 66.9h0M137 143.5h0M120.2 119.4h0M167.4 99.6h0M26.1 54.2h0M117.4 64.7h0M121.4 131.5h0M142.7 36.8h0M86.7 136.4h0M187.9 90.2h0M112.8 88.1h0M158.9 83h0M195.5 18.1h0M53.8 83.8h0M84.2 95.7h0M135.3 99.2h0M141.7 94.4h0M39 48.1h0M192.9 89.9h0M143.1 95h0M13 30.4h0M190.1 92.8h0M91.8 67.7h0M150.4 110.7h0M52.3 29.9h0M115.3 88h0M206.5 69.6h0M56.7 91.2h0M43.1 123.8h0M89.9 94.9h0M132.2 56.9h0M38 93.1h0M156.7 63h0M212.6 144.2h0M130.1 123.2h0M165.1 60.3h0M117.7 37.2h0M140.3 60.3h0M143.5 117.2h0M97.6 105.9h0M199.4 108.1h0M133.8 119.8h0M172.9 67.7h0M39.7 70.3h0M13.2 136.4h0M191 25.8h0M87.9 125.4h0M47.1 109.6h0M50.1 85.5h0M99.8 120.9h0M9.8 96.9h0M129.3 38.2h0M52.8 94h0M46.7 33.6h0M156.6 35h0M188 53.1h0M67.2 71.9h0M25.8 89h0M127.3 116.6h0M24.1 112.2h0M158.2 86.1h0M147.8 47.2h0M168.3 115.7h0M199.6 47.1h0M88 101.3h0M59.4 38.1h0M45.8 48.2h0M198.7 114h0M50.5 101.4h0M68.1 19h0M99 90.9h0M179.2 57.8h0M104.6 92.4h0M22.1 55.2h0M161.5 72.1h0M142.1 109.9h0M62.3 115.5h0M184 122.3h0M132.9 119.4h0M94.4 62.3h0M206.2 136.2h0M1.1 131.1h0M51.1 79.7h0M134.7 100.5h0M48.3 71.4h0M31.5 91.6h0M120 29.2h0M144.4 90h0M208.8 144.4h0M63 130.4h0M43.7 116.8h0M85.6 150h0M15.3 144.7h0M183.8 96.5h0M81.4 90.8h0M171.1 108.1h0M46.7 45.4h0M53.2 62.8h0M133 153.5h0M8.8 95h0M58.7 89.4h0M173 100.6h0M12.6 55.6h0M11.4 68.2h0"/>
</g>
</g>
<path stroke="#1c1c1c" stroke-width="1.3" fill="none" d="M147.99 212V371.3M168.98 212V371.3M185.58 212V371.3M200.57 212V371.3M217.16 212V371.3M231.05 212V371.3M244.65 212V371.3M249.55 212V371.3M262.24 212V371.3M273.83 212V371.3M280.53 212V371.3M286.93 212V371.3M291.98 212V371.3M302.42 212V371.3M310.92 212V371.3M312.12 212V371.3M318.61 212V371.3M323.56 212V371.3M328.56 212V371.3M335.21 212V371.3M338.6 212V371.3"/>
<path stroke="#0a0a0a" stroke-width="1" d="M133 291.3H346.6"/>
<path stroke="#ef8a10" stroke-width="2.2" fill="none" d="M133.8 291.3H143.8M143.8 292.9H148M148 290.8H166.6M164.9 275.4H168.4M168.8 295.5H175.4M173.3 302.4H177.9M177.9 277H185.4M185.4 280.7H188.7M188.7 293.4H199.5M200.4 264.3H204.5M201.5 272.8H205.7M205.4 291.3H216.2M217 292.9H230.3M231.2 291.8H234.5M234.5 292.9H242M236 292.9H244.3M244.3 289.2H249.3M249.3 267.4H252.6M251.8 289.2H255.1M255.1 300.8H261.8M261.8 300.8H273.4M273.4 291.8H280.1M280.1 290.2H286.7M286.7 286H291.7M293.4 299.8H302.2M302.2 288.1H311.2M311.7 301.9H315.9M315 287.6H318.4M318.4 287.6H323.4M323.4 288.1H328.3M325.9 281.8H328.7M328.3 291.3H335.8M335.3 278.1H338M338.8 338.2H346.1"/>
<path stroke="#f0922a" stroke-width="1.7" opacity=".9" fill="none" d="M143 311.4h1.7M233.3 298.7h2.4M235.4 286h2.4M288.5 301.9h2.4M302.6 273.8h2.4"/>
<rect x="133.5" y="212.5" width="213" height="159" fill="none" stroke="#333" stroke-width=".8"/>
<g font-family="'DejaVu Sans','Liberation Sans',sans-serif" font-size="4.85" fill="#000">
<text x="128.6" y="213.5" text-anchor="end">1.5</text>
<text x="128.6" y="240" text-anchor="end">1.0</text>
<text x="128.6" y="266.5" text-anchor="end">0.5</text>
<text x="128.6" y="293" text-anchor="end">0.0</text>
<text x="128.6" y="319.5" text-anchor="end">−0.5</text>
<text x="128.6" y="346" text-anchor="end">−1.0</text>
<text x="128.6" y="372.5" text-anchor="end">−1.5</text>
<path stroke="#222" stroke-width=".6" fill="none" d="M131.2 211.8H133M131.2 238.3H133M131.2 264.8H133M131.2 291.3H133M131.2 317.8H133M131.2 344.3H133M131.2 370.8H133M140.5 371.3V373.1M158.49 371.3V373.1M177.28 371.3V373.1M193.07 371.3V373.1M208.86 371.3V373.1M224.11 371.3V373.1M237.85 371.3V373.1M247.1 371.3V373.1M255.89 371.3V373.1M268.04 371.3V373.1M277.18 371.3V373.1M283.73 371.3V373.1M289.45 371.3V373.1M297.2 371.3V373.1M306.67 371.3V373.1M311.52 371.3V373.1M315.36 371.3V373.1M321.09 371.3V373.1M326.06 371.3V373.1M331.88 371.3V373.1M336.9 371.3V373.1M342.6 371.3V373.1"/>
<text transform="translate(139.6 380.11) rotate(-60)" text-anchor="middle" y="1.6">chr1</text>
<text transform="translate(157.59 380.11) rotate(-60)" text-anchor="middle" y="1.6">chr2</text>
<text transform="translate(176.38 380.11) rotate(-60)" text-anchor="middle" y="1.6">chr3</text>
<text transform="translate(192.17 380.11) rotate(-60)" text-anchor="middle" y="1.6">chr4</text>
<text transform="translate(207.96 380.11) rotate(-60)" text-anchor="middle" y="1.6">chr5</text>
<text transform="translate(223.21 380.11) rotate(-60)" text-anchor="middle" y="1.6">chr6</text>
<text transform="translate(236.95 380.11) rotate(-60)" text-anchor="middle" y="1.6">chr7</text>
<text transform="translate(246.2 380.11) rotate(-60)" text-anchor="middle" y="1.6">chr8</text>
<text transform="translate(254.99 380.11) rotate(-60)" text-anchor="middle" y="1.6">chr9</text>
<text transform="translate(267.14 381.3) rotate(-60)" text-anchor="middle" y="1.6">chr10</text>
<text transform="translate(276.28 381.3) rotate(-60)" text-anchor="middle" y="1.6">chr11</text>
<text transform="translate(282.83 381.3) rotate(-60)" text-anchor="middle" y="1.6">chr12</text>
<text transform="translate(288.55 381.3) rotate(-60)" text-anchor="middle" y="1.6">chr13</text>
<text transform="translate(296.3 381.3) rotate(-60)" text-anchor="middle" y="1.6">chr14</text>
<text transform="translate(305.77 381.3) rotate(-60)" text-anchor="middle" y="1.6">chr15</text>
<text transform="translate(310.62 381.3) rotate(-60)" text-anchor="middle" y="1.6">chr16</text>
<text transform="translate(314.46 381.3) rotate(-60)" text-anchor="middle" y="1.6">chr17</text>
<text transform="translate(320.19 381.3) rotate(-60)" text-anchor="middle" y="1.6">chr18</text>
<text transform="translate(325.16 381.3) rotate(-60)" text-anchor="middle" y="1.6">chr19</text>
<text transform="translate(330.98 381.3) rotate(-60)" text-anchor="middle" y="1.6">chr20</text>
<text transform="translate(336 381.3) rotate(-60)" text-anchor="middle" y="1.6">chr22</text>
<text transform="translate(341.7 380.11) rotate(-60)" text-anchor="middle" y="1.6">chrX</text>
<text transform="translate(112 292.25) rotate(-90)" text-anchor="middle" font-size="5.9">Copy ratio (log2)</text>
</g>
<path stroke="#222" stroke-width=".9" d="M224.8 209.5h3"/>
<text x="132.6" y="204.0" font-size="17.4" fill="#111">UCP</text>
<text transform="translate(88.2 320.2) rotate(-90)" font-size="16.75" fill="#111">M#185</text>
</g>
<clipPath id="c2"><rect x="407" y="211.6" width="213.6" height="158.8"/></clipPath>
<g>
<g clip-path="url(#c2)">
<rect x="407.8" y="269.2" width="10" height="43.5" fill="url(#g)" opacity=".85"/>
<rect x="407.8" y="280.3" width="10" height="21.2" fill="url(#n)"/>
<rect x="417.8" y="269.2" width="4.2" height="43.5" fill="url(#g)" opacity=".85"/>
<rect x="417.8" y="280.3" width="4.2" height="21.2" fill="url(#n)"/>
<rect x="422" y="269.2" width="20.8" height="43.5" fill="url(#g)" opacity=".85"/>
<rect x="422" y="280.3" width="20.8" height="21.2" fill="url(#n)"/>
<rect x="443.6" y="269.2" width="8.3" height="43.5" fill="url(#g)" opacity=".85"/>
<rect x="443.6" y="280.3" width="8.3" height="21.2" fill="url(#n)"/>
<rect x="451.9" y="269.2" width="7.5" height="43.5" fill="url(#g)" opacity=".85"/>
<rect x="451.9" y="280.3" width="7.5" height="21.2" fill="url(#n)"/>
<rect x="459.4" y="269.2" width="14.6" height="43.5" fill="url(#g)" opacity=".85"/>
<rect x="459.4" y="280.3" width="14.6" height="21.2" fill="url(#n)"/>
<rect x="474" y="269.2" width="5.3" height="43.5" fill="url(#g)" opacity=".56"/>
<rect x="474" y="280.3" width="5.3" height="21.2" fill="url(#n)"/>
<rect x="478.5" y="269.2" width="12.5" height="43.5" fill="url(#g)" opacity=".85"/>
<rect x="478.5" y="280.3" width="12.5" height="21.2" fill="url(#n)"/>
<rect x="491" y="269.2" width="14.1" height="43.5" fill="url(#g)" opacity=".85"/>
<rect x="491" y="280.3" width="14.1" height="21.2" fill="url(#n)"/>
<rect x="505.2" y="269.2" width="10.8" height="43.5" fill="url(#g)" opacity=".85"/>
<rect x="505.2" y="280.3" width="10.8" height="21.2" fill="url(#n)"/>
<rect x="516" y="269.2" width="2.3" height="43.5" fill="url(#g)" opacity=".85"/>
<rect x="516" y="280.3" width="2.3" height="21.2" fill="url(#n)"/>
<rect x="518.3" y="269.2" width="5" height="43.5" fill="url(#g)" opacity=".85"/>
<rect x="518.3" y="280.3" width="5" height="21.2" fill="url(#n)"/>
<rect x="523.3" y="264.4" width="3.3" height="43.5" fill="url(#g)" opacity=".47"/>
<rect x="523.3" y="275.5" width="3.3" height="21.2" fill="url(#n)"/>
<rect x="525.8" y="269.2" width="5" height="43.5" fill="url(#g)" opacity=".85"/>
<rect x="525.8" y="280.3" width="5" height="21.2" fill="url(#n)"/>
<rect x="530.8" y="269.2" width="5" height="43.5" fill="url(#g)" opacity=".85"/>
<rect x="530.8" y="280.3" width="5" height="21.2" fill="url(#n)"/>
<rect x="535.8" y="269.2" width="11.6" height="43.5" fill="url(#g)" opacity=".85"/>
<rect x="535.8" y="280.3" width="11.6" height="21.2" fill="url(#n)"/>
<rect x="547.4" y="269.2" width="6.7" height="43.5" fill="url(#g)" opacity=".85"/>
<rect x="547.4" y="280.3" width="6.7" height="21.2" fill="url(#n)"/>
<rect x="554.1" y="269.2" width="6.7" height="43.5" fill="url(#g)" opacity=".85"/>
<rect x="554.1" y="280.3" width="6.7" height="21.2" fill="url(#n)"/>
<rect x="560.7" y="269.2" width="5" height="43.5" fill="url(#g)" opacity=".85"/>
<rect x="560.7" y="280.3" width="5" height="21.2" fill="url(#n)"/>
<rect x="565.7" y="269.2" width="10.5" height="43.5" fill="url(#g)" opacity=".85"/>
<rect x="565.7" y="280.3" width="10.5" height="21.2" fill="url(#n)"/>
<rect x="576.2" y="269.2" width="9" height="43.5" fill="url(#g)" opacity=".85"/>
<rect x="576.2" y="280.3" width="9" height="21.2" fill="url(#n)"/>
<rect x="585.7" y="269.2" width="6.7" height="43.5" fill="url(#g)" opacity=".85"/>
<rect x="585.7" y="280.3" width="6.7" height="21.2" fill="url(#n)"/>
<rect x="592.4" y="269.2" width="5" height="43.5" fill="url(#g)" opacity=".85"/>
<rect x="592.4" y="280.3" width="5" height="21.2" fill="url(#n)"/>
<rect x="597.4" y="269.2" width="5" height="43.5" fill="url(#g)" opacity=".85"/>
<rect x="597.4" y="280.3" width="5" height="21.2" fill="url(#n)"/>
<rect x="602.3" y="269.2" width="9.7" height="43.5" fill="url(#g)" opacity=".85"/>
<rect x="602.3" y="280.3" width="9.7" height="21.2" fill="url(#n)"/>
<rect x="612.8" y="320" width="7.3" height="43.5" fill="url(#g)" opacity=".85"/>
<rect x="612.8" y="331.2" width="7.3" height="21.2" fill="url(#n)"/>
<g transform="translate(407 211.6)" fill="none" stroke-linecap="round">
<path stroke="#333" stroke-opacity=".55" stroke-width="1.2" d="M170.6 78.3h0M129 72.1h0M153.9 81.5h0M159.9 80.4h0M27.6 72.6h0M117.5 81.6h0M203.1 76.6h0M130.5 84h0M29.1 78.9h0M143.7 80.1h0M208.7 125.7h0M130.4 78.9h0M133.5 77.6h0M183.6 79.8h0M8.7 88.2h0M5 75.6h0M78.8 78.4h0M201.7 77.3h0M202.1 71.7h0M194.7 73.6h0M122.1 78.8h0M137.8 82.9h0M140 76.2h0M65.5 82.4h0M111.4 82h0M162.8 81.2h0M168.4 82h0M203.7 75.2h0M79.2 77h0M152.3 79.5h0M.6 78.1h0M104.7 79h0M39.7 81.6h0M152.3 73.6h0M193.8 81.2h0M209.2 130.9h0M146.6 80.5h0M82.4 80h0M30.9 77.7h0M119.7 83.2h0M151.9 68.1h0M192.8 80h0M116.3 71.6h0M47.1 71.5h0M56.4 87.3h0M81.3 81h0M150.8 75.8h0M120.8 80.5h0M26 76h0M138.2 76.2h0M186.8 78.6h0M79 85.8h0M160 82.1h0M115.1 80.4h0M25.7 84.8h0M115.5 82.2h0M113.6 84.5h0M75.3 83.3h0M153.3 79.6h0M99.6 76.1h0M41.9 92.2h0M84.1 80.4h0M148.2 79.3h0M130 78.7h0M25.7 81.6h0M14 80.7h0M182.1 72.3h0M170.6 76.7h0M20.2 87.9h0M152.4 83.1h0M187 76.9h0M178.4 76.1h0M102.9 76.4h0M79.9 79.4h0M48.8 73.7h0M45.1 84h0M163.1 84h0M201.1 79.6h0M125.4 75.9h0M23.9 79.5h0M205 82h0M49.5 76h0M94.8 79h0M21.6 79h0M55.8 71.9h0M168 78.9h0M126.4 75.6h0M193.5 77.1h0M148.9 75.4h0M63.1 82.2h0M183.5 79.6h0M210.2 131.7h0M60.6 78.5h0M192.4 85.7h0M98.4 76.1h0M116.6 79.9h0M167.3 85.3h0M194.2 82.7h0M131.8 87.7h0M126.5 83h0M61 87.3h0M171.8 75.7h0M144.3 74.9h0M174.8 86.8h0M9.2 83h0M207.3 132.2h0M44 86.3h0M105 85.2h0M94.6 86.6h0M16.5 87.9h0M27.9 82.3h0M20.5 86.6h0M103.5 82.8h0M6.4 74.3h0M175.4 79.3h0M62 76.3h0M98.7 79h0M112.7 77.2h0M150.4 74.9h0M20.7 82.1h0M59.1 83.7h0M204.2 76.9h0M115.1 81.6h0M171.9 73.4h0M145.7 77.4h0M127.1 81.8h0M163.5 82.9h0M137.5 79.7h0M125 85.5h0M132.2 96.2h0M208.8 124.1h0M164 79.2h0M133.3 83.4h0M20.3 83.7h0M70.9 73.2h0M53.1 81.7h0M59.7 73h0M107.1 83.3h0M24.6 83.3h0M81.8 80.6h0M79.1 77.7h0M171.9 76.5h0M210.1 130.1h0M153.3 86.3h0M171.5 82h0M112.6 82h0M24.4 73.2h0M11.7 83.5h0M202.1 75.8h0M23.9 79.1h0M131.5 70.5h0M93.1 83.1h0M166.5 85.1h0M178.5 71.1h0M67.1 72.7h0M27 80.3h0M129.1 77.2h0M51.9 79h0M97.2 86.4h0M136.8 76.5h0M92.3 68.3h0M176.7 69.2h0M82 77.7h0M80.9 78.8h0M179.5 72.6h0M23.9 79h0M202 75.5h0M78.3 83.8h0M54.3 84.6h0M144 77.5h0M163.7 74.2h0M112.8 75.2h0M119.1 83.9h0M69.6 82.2h0M114 72.4h0M165.4 83.8h0M94 75.8h0M157 78.8h0M152.9 79.7h0M173.7 81.6h0M40.5 79.8h0M131.9 77.8h0M151.5 79.3h0M11.2 81.4h0M180.6 78h0M186.1 76.1h0M5.2 85.1h0M6.2 84.3h0M206 128.9h0M168.3 84.7h0M202.7 76.5h0M99.3 83.4h0M43.1 80.4h0M114.5 76h0M66.6 71.9h0M200 85.7h0M82.7 80h0M107.9 87h0M179.6 86.4h0M163.7 76.3h0M203 77.5h0M150.6 76.9h0M188.9 84.8h0M154.8 79.3h0M84.3 79.8h0M90.1 78.9h0M195.3 72.4h0M132.5 80.5h0M70.8 80.2h0M31.5 75.8h0M201.6 74.5h0M55.4 81.6h0M25 86h0M38.1 81.7h0M177.7 86.2h0M156.6 74.6h0M115 71.1h0M181.6 85.3h0M139.9 74.7h0M36.5 91.7h0M103.5 79.1h0M86.7 81.2h0M30.5 83h0M55.1 83h0M157.7 84h0M88.7 84.1h0M161 79.9h0M89.6 79.2h0M21 75.4h0M103.7 73.8h0M212.6 136.7h0M38.2 87.7h0M132.1 80.3h0M67.2 79.4h0M51.4 75.6h0M74.4 76h0M141.8 80.4h0M73 80.6h0M70.7 80.6h0M169.7 74.5h0M172.1 82.5h0M69.9 78.5h0M109 79h0M67.5 72.3h0M150.5 82.4h0M20.3 79.8h0M13.1 78.8h0M203.5 76.5h0M43 87.9h0M196 69.2h0M179 77.1h0M139.8 76.4h0M158.9 74.9h0M47.2 82.7h0M66.4 82.8h0M159.2 83.7h0M133.8 85.4h0M45.7 72.6h0M178.8 78.8h0M98.7 87.6h0M119.7 77.9h0M145.4 78.4h0M37.6 77.2h0M130.3 80h0M105.8 75.3h0M77.4 83.2h0M71 77.6h0M134 75.2h0M78.4 76.8h0M76.9 80.9h0M180.3 77.3h0M55.2 71.1h0M30 71.5h0M90.3 79.2h0M205.6 123.1h0M181.8 73.1h0M33.5 82.1h0M174.9 79.6h0M162.6 85.2h0M57.9 78.7h0M96.6 70.1h0M99.7 78.7h0M165.1 83.5h0M189.7 84.2h0M80.8 86.6h0M182.4 88.4h0M12 80.7h0M63.3 78h0M196.8 81.5h0M66.6 81.6h0M27.3 75.8h0M78.8 77.6h0M192.9 83h0M181 79.3h0M98.4 74.9h0M137.1 74.1h0M30.5 83.8h0M108 69.9h0M55.5 82.3h0M136.7 76.9h0M72.1 80.1h0M128.3 80.2h0M55.8 84.3h0M9.4 77.1h0M46.6 78.4h0M37.7 80.8h0M89.7 71.6h0M211.8 134.8h0M31.5 89.6h0M113.6 73.2h0M191.3 78.7h0M7.1 83.7h0M113.5 83.5h0M97.6 87.7h0M144.3 81.9h0M46.1 76.4h0M191.9 84.9h0M160 74.3h0M212.4 132.7h0M166.3 86.3h0M61.1 75.1h0M186.4 78.4h0M26.8 79.8h0M113.7 83.4h0M111.4 80.2h0M56.2 84h0M159.8 76.5h0M47.3 87.5h0M23.4 73.1h0M123.1 83.3h0M158.2 84.4h0M186.9 81.2h0M85.8 81.5h0M99.4 74.4h0M148.2 75h0M177.3 76.7h0M35.8 80h0M16.7 77.7h0M144.7 81h0M135 89.9h0M108.8 80.3h0M205.8 122.2h0M153.2 82.5h0M212.6 130.3h0M191.1 76.2h0M75.1 83.3h0M101.5 84.3h0M77.6 81.9h0M195.9 82h0M92.6 74h0M78.7 83.1h0M184.8 77h0M40.7 81.9h0M151.8 81.8h0M34.6 86.9h0M142.5 86.1h0M109.2 71.6h0M24.4 77.1h0M42.6 82.7h0M11 83.2h0M9.1 76.5h0M10.9 78.3h0M58.6 74.1h0M197.5 75.1h0M46.9 74.2h0M139.5 79h0M165.5 79h0M56.6 80.1h0M135.5 79.8h0M198.5 80.2h0M157.5 73.5h0M156.8 80.5h0M163.3 81.4h0M63.4 82.5h0M174.8 79h0M147.4 75.9h0M148 76.8h0M3.4 78.6h0M25.9 73.2h0M118.3 78.6h0M55.7 81.5h0M101.6 75.5h0M33.5 80.6h0M202 76.2h0M49.8 78.1h0M189.6 79.9h0M62.6 83.2h0M161.8 75.6h0M80.8 83h0M176 81.9h0M131.2 86.1h0M26.4 75.2h0M91.6 88.2h0M51.6 76.3h0M50 81.4h0M153.9 79.5h0M75.9 79.8h0M72.3 77.3h0M144.3 73.6h0M165.4 83.3h0M194.5 72.9h0M203.9 80.8h0M111.1 75.5h0M6.8 81.7h0M164.9 77.3h0M197.1 73.5h0M97.5 81.3h0M108 83.9h0M207.7 129.5h0M164.9 75.9h0M159.4 84.2h0M154.3 81.6h0M59 74.4h0M26.2 79.1h0M192.2 78.7h0M142.4 72.4h0M170.6 75.7h0M157.7 71.8h0M198.1 81.4h0M175.9 82.1h0M170.5 81.9h0M126 73.3h0M1 84.6h0M52.8 77.7h0M107.6 87.2h0M168.7 79.1h0M33.8 65.6h0M81.2 82.5h0M134.1 88.9h0M155.8 82.4h0M158 77.6h0M184.4 83.5h0M13.8 77.4h0M177.9 81.9h0M32.2 73.8h0M105.4 78.1h0M194.7 79.6h0M200.3 74.3h0M75.8 76.6h0M49 74.4h0M66.5 76.4h0M193.4 74.2h0M46.5 80.5h0M178.1 78.7h0M67 72.6h0M178.1 80.7h0M165.3 85h0M83.7 75.4h0M110.3 84.5h0M154.2 77.8h0M114.6 72.9h0M39.1 81.4h0M198 83.4h0M101.8 84.8h0M120.5 97.4h0M106.8 87.4h0M77 71.4h0M124 83.2h0M200.7 77.9h0M199.6 78.5h0M212.2 131.9h0M132.3 71.5h0M2.7 80.8h0M117.7 79h0M8.5 81.6h0M4.5 77.3h0M158.4 65.5h0M10.8 79.7h0M188.3 73h0M158.4 82.9h0M83.2 74h0M31.7 81.9h0M173.6 74h0M79.5 80.8h0M93.1 89h0M66.9 82h0M168.1 76.8h0M58.2 80.5h0M89.8 80.7h0M141.7 81.9h0M193.9 85.6h0M24.4 81.9h0M34.8 74.9h0M62.5 76h0M182.2 79.8h0M159.5 85.8h0M96.1 78.5h0M24.6 84h0M129.7 77.1h0M120.7 85.8h0M47 85.2h0M3.1 71.6h0M15.3 82.3h0M118 79h0M142.3 86.3h0M204.9 78.5h0M52.3 80.1h0M178.7 80.3h0M125.5 75.2h0M208.9 138.9h0M156.1 86.3h0M149.4 86.4h0M204.2 84.1h0M11.2 79.5h0M28.1 76.5h0M171.1 85.3h0M26.3 74.8h0M190.8 74h0M6.4 77.1h0M110.3 80.7h0M9.1 75.9h0M114.4 81.5h0M86.2 88.6h0M114.5 71.7h0M149.5 74.7h0M96.4 81.8h0M197.5 76.1h0M97.9 80.8h0M6.3 77.2h0M192.2 81.5h0M104.1 70.4h0M148.3 82.9h0M114.8 68.8h0M206.8 128.3h0M145.5 80.2h0M139.8 77.5h0M81.9 79.5h0M25.5 71.4h0M39.7 89.8h0M115.9 76.3h0M23.7 74.4h0M212.1 133.1h0M155.6 75.2h0M155.7 84.5h0M78.8 81.2h0M176.8 73.9h0M212.2 126.5h0M129.1 77.1h0M161.8 86.3h0M43.4 87.4h0M187.7 78.7h0M117.4 82.1h0M64.4 86.1h0M73.5 79.9h0M155.6 77.1h0M32.4 83.5h0M187 78.9h0M35.4 79.9h0M52.2 68.9h0M4.8 73.8h0M46.4 72.4h0M129.6 84.1h0M213.2 131.4h0M77.7 76.6h0M124.2 87.1h0M31.8 81h0M183.6 79.2h0M137.9 79.3h0M178.2 85.9h0M182 76.1h0M125.6 83.2h0M108.3 89.3h0M123.5 74h0M3.7 84.9h0M148.4 81.3h0M107.2 80h0M172.4 75h0M171.1 80.5h0M15.2 79h0M188.2 76.7h0M91.8 83.9h0M207.2 131.5h0M200.2 81.6h0M84 81.1h0M120 81.4h0M40.7 91.1h0M136 81.8h0M112.2 80h0M147.6 77.8h0M179 82.6h0M151 77.1h0M210.9 137.8h0M43.1 74.8h0M134.8 78.3h0M111.9 78.8h0M11.8 77.6h0M86.9 82.6h0M85.4 84.7h0M130.9 82h0M44.1 81.6h0M2.9 78.7h0M48.7 78.1h0M80.8 79.5h0M86.7 72.6h0M58.7 74.8h0M47.7 83.7h0M71.5 82.3h0M57.9 83.9h0M56.5 83.4h0M94.7 81.8h0M84.3 79.2h0M160.6 81h0M66.6 74.8h0M22.5 73.5h0M195.2 78h0M104.1 75.3h0M38.1 85.3h0M106.3 73.4h0M179.7 82h0M122.8 75.2h0M131.7 73.8h0M31.2 74.5h0M162.3 81.7h0M134.1 78.4h0M158.6 81.9h0M169 83.2h0M5.4 81.4h0M193 79.3h0M209.2 132h0M26 78.4h0M119.8 77.1h0M195.3 81.2h0M108.3 81.9h0M124.8 77.4h0M26.6 88.2h0M72.5 76.6h0M140.6 81.5h0M86.6 89.4h0M66.7 89.8h0M201.2 78h0M61.9 74.4h0M92.2 84.3h0M168.2 81.4h0M42.9 72.5h0M153 65.9h0M109 75.7h0M113.2 82.6h0M129.4 83.6h0M211.6 127.3h0M157.5 81.9h0M2.1 71.7h0M25.9 83.8h0M105.8 72.6h0M101.8 76.5h0M199.2 82.5h0M61.8 82.8h0M203.6 86.9h0M14.7 82h0M44.1 90h0M159.5 74.1h0M197.9 83h0M165.9 85.4h0M96.3 71.2h0M61 79.4h0M184 76.6h0M159.5 89.5h0M151.6 83.2h0M195.4 84.1h0M54.7 75.3h0M2.9 86.3h0M51.5 74.8h0M42.3 78.2h0M28.6 80.1h0M121.8 90.1h0M33.6 82.7h0M44.2 74.6h0M115.4 80.3h0M8.8 75.2h0M100.9 74.9h0M163.5 86.4h0M54.1 78.3h0M131.4 84.3h0M194.1 81.7h0M189.6 77.7h0M43.7 89.7h0M188.4 78.9h0M20.2 72h0M36 71.2h0M66.6 80.1h0M211.3 123.4h0M182.1 78.5h0M20.3 72.2h0M100.6 83.7h0M170.9 79.3h0M111.5 78.5h0M186.9 80.1h0M96.1 84.2h0M189.7 74.3h0M35.6 78h0M204 80.1h0M195.2 83.7h0M68.4 78.7h0M143.5 83.2h0M68.6 72.5h0M174 70.1h0M152.3 80.5h0M30.8 72.7h0M32.5 83.5h0M207 127h0M175.3 76h0M85.4 76.1h0M204.1 76.3h0M200.7 73.1h0M71.4 75.8h0M114.3 79.6h0M59.5 77.8h0M200.5 70.1h0M45.7 84.9h0M207.1 125.4h0M25.3 82.3h0M150.3 82.3h0M70.4 76.6h0M80.1 77.3h0M138.4 74.8h0M89.2 80.7h0M61.7 87.8h0M104 77.2h0M171.5 81.1h0M174.7 72.9h0M47.4 79h0M10.4 82.1h0M105 79.4h0M164.7 75.5h0M94.2 79.9h0M27.1 79.9h0M97.7 79.8h0M97.5 78.9h0M157.9 78.7h0M187.4 73.7h0M83.5 79.5h0M100.1 75.8h0M21.1 78.1h0M108.8 78.1h0M142.2 80.3h0M102.7 91.3h0M109.3 83.5h0M31.3 73.7h0M115.3 78.4h0M132.3 77.7h0M198.8 78.3h0M43.3 80.7h0M2.9 80h0M13.9 84.2h0M51.7 68.8h0M67 71.6h0M73.1 82.3h0M22 82h0M81.5 86.7h0M184 85.7h0M168.3 86.6h0M27.7 82.3h0M120.1 79h0M173.2 76.4h0M78.7 75.1h0M115.4 78.9h0M194.5 77.8h0M39 81.9h0M73.2 93.1h0M42.4 74.5h0M63.4 80.9h0M26.6 74.8h0M54.6 72.9h0M156.8 80.5h0M35.6 82.2h0M67.7 71h0M177.5 78.9h0M6 80.6h0M189.6 77.7h0M161.5 79.9h0M109.8 92.3h0M150 72.1h0M108.5 79.4h0M68.7 72.2h0M75.7 81.9h0M55.3 76h0M85.1 83.5h0M60 80h0M56.4 84h0M121.5 80.8h0M209.8 128.6h0M73.6 76.8h0M119.3 93.7h0M154.3 80.6h0M135 82.4h0M142.2 79.1h0M125.7 80.7h0M176 83.4h0M96.4 86.6h0M181.2 80.8h0M31.5 80h0M172.8 69.7h0M66.3 77.4h0M164.2 79.5h0M157.5 79.5h0M142.2 75.3h0M60.6 80.9h0M114.9 78.4h0M143.6 78.5h0M31.4 74.6h0M161 80.6h0M185.4 87.1h0M160.5 83.6h0M66.8 85h0M145.8 83.4h0M173.4 77h0M33.9 86h0M38.9 83.8h0M168.3 79.7h0M52.5 75.7h0M175.8 79.3h0M193.1 82.3h0M100.6 77.6h0M181.9 78.9h0M87.4 79h0M35.5 69.1h0M78.4 84h0M197.5 78.6h0M110 81.7h0M98.7 85.8h0M49.5 71.8h0M95.5 91.4h0M118.7 78.7h0M147.8 78.5h0M155.8 78.6h0M208.2 126.6h0M161.8 79.4h0M198.8 84h0M136.5 69h0M178.9 77.7h0M37.8 84.7h0M72.9 77.4h0M160.9 76h0M193.3 82.9h0M32.5 81.8h0M183.3 83.3h0M88 88h0M56.4 77.8h0M208.5 124.9h0M4.8 73.5h0M22.8 72.7h0M78.6 76.1h0M106.2 76.1h0M199.5 85.2h0M69.1 83.9h0M100.3 78.6h0M76.2 80.1h0M15.5 76.6h0M25.7 72.5h0M135.8 82.3h0M40.3 74.2h0M134.9 75.3h0M16.2 91.1h0M160.1 84.8h0M50.9 77.3h0M67.5 77h0M198.3 87.3h0M53.4 88.5h0M44.4 84.6h0M125.3 81.3h0M58.8 83h0M96.4 84.4h0M188.9 79h0M56.9 75.3h0M199.2 68.9h0M189.2 73.6h0M19.6 79.7h0M128.1 80.2h0M142.2 71.9h0M57 78.1h0M45.3 71.6h0M72.3 77.9h0M198.1 85.2h0M64.6 75.3h0M7 84.7h0M21.3 73.7h0M5.8 78.5h0M88.3 84.7h0M32.3 76.6h0M78.7 83.9h0M52.9 84.3h0M160.1 80h0M115.8 82.9h0M75 81.9h0M123.8 83.1h0M134 87.2h0M157.9 85.2h0M184.5 85.3h0M104.9 82.3h0M63 81.9h0M13.9 78.7h0M4.3 88.6h0M197.6 88.8h0M187.6 73.1h0M10.6 82.6h0M153.1 87.4h0M97.1 86.8h0M92.4 79.5h0M127.1 78.8h0M183 84.1h0M158.5 89.2h0M174.7 71.6h0M53.3 81.6h0M91.4 82.9h0M188.6 79.2h0M106 77.7h0M140.7 79.6h0M71.7 73.6h0M79.6 75h0M185.5 76.5h0M96.8 80.7h0M149.1 80.5h0M191 70.9h0M39.2 74.6h0M139.2 82h0M39.4 75.6h0M77.6 79.1h0M164.4 77.5h0M35.9 73.3h0M65 77.9h0M26.4 74.7h0M113.1 82.3h0M67.2 79.8h0M172.1 79.7h0M45.6 78h0M166.8 72.2h0M125.1 74.6h0M45.5 77.2h0M166.9 81.4h0M98.4 84.9h0M17 80.8h0M160.2 80.1h0M25.7 86.4h0M9.7 82.8h0M28.2 80.2h0M86.3 81.5h0M115.2 80.5h0M167.4 86.3h0M81.8 88.3h0M194.1 74.3h0M142.3 83.3h0M17.2 79.3h0M210.9 130.5h0M186.9 78.1h0M146.6 80.3h0M75.7 71h0M120.1 77.1h0M146 80.5h0M137.5 78.5h0M170.4 82.2h0M139.4 79.9h0M100.2 84.1h0M104.6 84.2h0M209.4 122h0M187.8 78.5h0M13.6 88.7h0M153.9 79.6h0M54.2 79h0M58.3 77.3h0M44.2 82.1h0M195.2 77.9h0M167.6 77.9h0M172.5 78.8h0M149.8 78.5h0M143.1 86.2h0M127.1 82.5h0M37.4 81.6h0M110.1 76.8h0M33.7 69.9h0M7.2 85h0M174.2 80.6h0M151.5 77.4h0M43.7 78.5h0M206.3 135.7h0M1.3 83.4h0M43 80.6h0M122.6 79.6h0M93.4 80.8h0M50.7 75h0M3.6 70.6h0M9.1 76.1h0M14.7 77.3h0M88.8 79.6h0M121.5 76.4h0M178.1 71.1h0M203.3 75.2h0M.7 91.6h0M20.4 77.7h0M16.3 81.9h0M207.9 128.8h0M146.7 71h0M144.9 75.2h0M67.6 66.9h0M116.3 88.2h0M185.2 77.3h0M211 131.6h0M105.1 82.4h0M24.4 70.4h0M96.1 74.4h0M115.7 73.7h0M103.5 78.7h0M173.4 82h0M22.1 80.8h0M6.4 75.3h0M33.2 76.2h0M163.4 89.9h0M126.9 79h0M12.6 82.9h0M91.8 78h0M100.2 80.3h0M200.1 79.2h0M157.4 74.2h0M171.5 81.4h0M121.6 88.8h0M196 75h0M85.5 81.3h0M81.7 80.4h0M63.7 76.4h0M202.8 81.3h0M196.9 86h0M76.2 77.7h0M71.9 82h0M90.1 80.9h0M28.3 83.3h0"/>
<path stroke="#4a4a4a" stroke-opacity=".52" stroke-width="1.05" d="M114.9 96.1h0M171.2 91.1h0M167.2 93.9h0M159.6 92.3h0M134.6 88h0M189.3 94.7h0M128.6 74h0M203.7 95.2h0M182.2 86.6h0M123 87h0M62.4 94.9h0M153.5 83.2h0M85.1 76.3h0M71.1 81.3h0M204.3 72.3h0M195.8 85.5h0M90.6 86.2h0M3.7 67.6h0M75.7 79.8h0M29.9 90.1h0M125.3 83.6h0M149.3 93.2h0M129.1 80.3h0M79.1 83.8h0M64.7 86.6h0M36.1 70.9h0M96.5 86.6h0M79.8 79.3h0M85.2 79.8h0M5.2 72.4h0M168.4 78.6h0M67.8 108.6h0M149.1 94.4h0M80.3 104.6h0M145.2 87.5h0M13.4 84h0M59.4 94.4h0M15.7 80.8h0M202.6 88.9h0M134.2 93.2h0M202 73.1h0M156.7 92.3h0M109 69.5h0M183.9 82h0M1.9 81.7h0M99.1 76.9h0M153.1 81.6h0M89.6 78.3h0M81.6 85.1h0M129.5 88.6h0M131.4 91.4h0M135.7 88.4h0M12.3 75.2h0M179.2 79.3h0M1.8 65.1h0M166.1 86.1h0M74.8 89.3h0M74.7 87h0M44.4 99.1h0M59 72.5h0M195.5 77.9h0M158.8 73.4h0M101.8 83.8h0M62.8 83.8h0M78 67.5h0M17.1 82.1h0M182.8 110h0M70.8 79.4h0M175.7 88.7h0M79.2 94.4h0M2 80.2h0M1 70.3h0M85.5 93.7h0M60.2 77h0M88.2 77h0M77.3 89.4h0M106.6 83.4h0M53.6 96.9h0M83.4 86.1h0M89.8 68.6h0M151.1 78.5h0M6.9 85.2h0M212.9 142.9h0M32.1 95h0M168.9 81.1h0M61.6 80.5h0M15.5 86.5h0M120.6 87.1h0M184.3 85.6h0M59.6 97.4h0M50.8 79.5h0M49.1 55.5h0M171.8 79.9h0M154.8 90h0M5.8 94.4h0M95.6 91.7h0M85.2 55.6h0M91 70.2h0M48.8 76h0M179.5 88.5h0M41.6 58.2h0M60.5 84.5h0M132.1 83.6h0M37.1 99.7h0M145.2 90.8h0M99.9 74.1h0M33 80.5h0M86.8 79.8h0M167.5 91.2h0M8.1 88.9h0M212.9 120.3h0M118.6 83.4h0M142.4 84.1h0M51.7 74.3h0M96.5 81.3h0M45.1 88.8h0M39.2 85.8h0M63.2 84.7h0M67.7 74.5h0M128.6 82.5h0M118.6 61.3h0M6.2 88.3h0M87.3 69h0M209.9 128.1h0M74.2 86.3h0M12.9 85.4h0M112.3 77.4h0M109.6 76.9h0M55.1 78.2h0M145.6 72.1h0M169.2 87.5h0M186.1 88.5h0M189.4 74.7h0M62.3 90.5h0M151.7 76.5h0M10.8 79.7h0M176.1 81.7h0M208.1 144.7h0M44 82.2h0M183.8 93.5h0M158.6 74.7h0M79.2 70.7h0M69.1 93.7h0M202.8 80.3h0M148.7 78.1h0M175.2 78.7h0M24.7 73.4h0M86 76.3h0M30.6 63.9h0M124.1 84.4h0M45.2 80.7h0M198.9 86.4h0M198.1 89.1h0M69.1 89.8h0M110.8 66.8h0M118.6 116.1h0M57.4 86.2h0M50 86.6h0M78.3 75.9h0M8.6 91.7h0M135.1 82.7h0M117.2 71.2h0M134.4 87.9h0M164.5 93.5h0M19.8 92.1h0M6 85h0M21.6 101h0M186.2 87.7h0M85 82.6h0M201.4 77.5h0M90.6 88h0M113.8 77.1h0M182.2 78.7h0M16.9 98.2h0M16.5 79.8h0M74.2 76.6h0M6.2 99.6h0M55.7 91.8h0M111.7 58.8h0M83.3 96.6h0M62.9 90.4h0M165.6 110h0M161.3 92.1h0M150.1 69.4h0M99 73h0M60.8 98.5h0M17.1 88h0M204.9 66h0M179.2 91.5h0M54 93.4h0M160.9 88.5h0M136.3 87.1h0M168.7 105.2h0M148.3 73.6h0M122 83.2h0M133.1 63.8h0M160.5 91.4h0M194.9 76.2h0M67.7 64.7h0M143.7 93.6h0M115.5 78.7h0M.6 76.3h0M33 89.2h0M51.9 95.9h0M114.6 82h0M66.3 108.9h0M205.9 135.2h0M184 99.1h0M182.5 81.6h0M52.7 87.7h0M93.8 94.3h0M193.8 99.6h0M134.2 72.5h0M154.9 77.9h0M29.3 86.2h0M78.4 83.2h0M158.4 76.7h0M81.3 77.7h0M119.5 87h0M22.1 75.4h0M108 95.1h0M51.4 94.6h0M12.9 64.2h0M155.6 75.5h0M61.7 83.3h0M85 75.9h0M201.8 102.4h0M38.1 87.2h0M168.3 96h0M179 71.1h0M24 58.8h0M142.4 107.8h0M67.7 72.5h0M4.9 83.4h0M20.8 75.3h0M87.3 81.4h0M109.4 96.8h0M180.3 97h0M152.3 78.6h0M64.3 74.1h0M17.5 87.1h0M85.5 84.5h0M200.7 74.8h0M212.1 118.5h0M139.9 80.7h0M123.8 67.1h0M150.9 83.9h0M46.2 124.2h0M112.9 86h0M90 67.7h0M110.6 93.4h0M82.2 82h0M118.7 75.7h0M107.8 98.8h0M6.2 78.6h0M147.2 92.7h0M168.3 93.4h0M98.6 88.5h0M139 78.7h0M155.6 103h0M143.5 90.4h0M40.2 75.6h0M200 88.1h0M160.5 79.2h0M59.4 69.6h0M175.2 69.7h0M196.4 89.1h0M79.8 92.7h0M125.2 74.6h0M54.4 80.1h0M145 84.5h0M96.9 92.6h0M91.5 79.8h0M103.9 76.6h0M59.5 91.4h0M89.5 83.5h0M7 75.3h0M21.8 81.2h0M75.8 89.2h0M135.6 98.3h0M72.8 81.1h0M79.8 59.1h0M70.1 64.7h0M143 84.4h0M114.6 93.2h0M137.7 83.5h0M80.6 91.7h0M133.2 73.6h0M169.8 97.2h0M192 95.8h0M93.2 85.7h0M84.8 81.6h0M208.4 130h0M156.7 97.2h0M113.6 88.3h0M75.5 85.1h0M175.9 87.9h0M88.2 91h0M63.6 73.5h0M126.4 85h0M49.9 85.9h0M169 87.6h0M144.5 83.5h0M153.2 82.7h0M191 81.8h0M27.2 79.2h0M171.6 94.3h0M70.6 97.4h0M95.3 93.6h0M45.5 97h0M143.5 86.4h0M63.7 72.6h0M111.4 85.4h0M176.8 84.2h0M107.5 64.5h0M167.9 80.5h0M37.7 71h0M13.3 69.7h0M25.9 87.8h0M150.5 67.2h0M27 71.8h0M93.9 79.8h0M78 83.5h0M128.6 90.1h0M159.6 64.4h0M11.9 91.8h0M24.3 67.2h0M145.3 106h0M40.5 91.3h0M197.8 71.3h0M165.3 81.5h0M77.4 68.3h0M13.8 86.6h0M151.1 83.1h0M198.3 86.1h0M89.2 78.8h0M156.8 77.5h0M54 72.9h0M208.6 140.8h0M86.1 70.9h0M191.8 71.5h0M176.8 65.2h0M62.8 97h0M11.1 81.7h0M88 84.9h0M59.3 82.3h0M183.6 89.6h0M208.4 127.4h0M30 77.9h0M172.7 89.8h0M199.8 75.5h0M12 71.9h0M54 78h0M27.4 85.8h0M107.1 61.9h0M44.4 72.6h0M29.8 86.2h0M78.5 85.4h0M175.7 79.3h0M166.7 77.9h0M173 83.2h0M104.8 82.8h0M135.7 88.4h0M171.3 76h0M93.2 87.3h0M51.8 87.7h0M105.8 70.3h0M44.5 87.2h0M54.9 85.6h0M125.5 86.7h0M95.8 98.7h0M142.9 81h0M161 92.2h0M59 85.8h0M129.7 84h0M167.7 73.1h0M97.2 81.8h0M159.6 79.8h0M195.6 78h0M147 71h0M14 90.6h0M57.7 88.9h0M166.9 85.6h0M145.4 78.6h0M107.4 98.6h0M210.3 120.5h0M72.9 71.4h0M37 82.2h0M125.2 55.5h0M203.2 112.1h0M114.4 87.1h0M62.5 87.7h0M146.5 89.9h0M10.6 78.7h0M120.7 102.7h0M79.2 87h0M129.3 110.4h0M166.8 90.6h0M4.6 96h0M11.8 95.5h0M84.6 93.5h0M176.4 91.1h0M157 71.3h0M39 84.1h0M10.7 86.8h0M88.7 79.8h0M118.1 88.1h0M132.6 71.2h0M103.7 71.3h0M5.6 95.5h0M203.9 78.2h0M87.7 75.2h0M52.9 100h0M25.9 83.5h0M190.9 87.4h0M81.5 91.7h0M33.9 75.2h0M87.8 79.2h0M190.6 84.9h0M193.8 69.9h0M40.8 81.9h0M167.3 113.5h0M125.7 94.1h0M59.9 92.8h0M46.6 81.7h0M68.8 75.2h0M89.2 88.7h0M133.1 81.7h0M12.5 81.3h0M50 81h0M59.2 93.5h0M4.2 59.8h0M211.5 132.8h0M55.3 112h0M101.3 76.3h0M175.7 60.8h0M25.5 70.8h0M65 104.8h0M175.3 70.4h0M52.6 63.2h0M156.9 84.9h0M95 71.1h0M74.4 75.3h0M37.9 89.9h0M194.5 82.3h0M151.6 107.8h0M135.8 70.9h0M22.3 86.1h0M84.9 72.4h0M208.8 140.2h0M93.3 88h0M60.1 99.4h0M66 79.7h0M8.3 65.2h0M190.5 85.6h0M12.7 90.2h0M82.2 96.4h0M91.1 69.7h0M54.7 103.5h0M152.8 74h0M176.6 86.2h0M212.1 142.5h0M33.7 79.9h0M36.6 75.8h0M122.3 96h0M141.7 77.8h0M39.2 82.2h0M11.8 98.8h0M53.1 68.3h0M192.5 99.9h0M92.4 69.2h0M185.1 74.8h0M111.6 78.9h0M83.9 90.9h0M157.4 77.8h0M64.5 68.1h0M32.6 75.1h0M106.3 83.5h0M9.5 94.9h0M130.1 103.2h0M73.9 78.8h0M70.7 81.7h0M60.8 90.8h0M144.4 77.5h0M66.1 101.2h0M125.9 70.4h0M33.5 76.4h0M63 77.2h0M39.1 82.9h0M161 72h0M119.3 77.1h0M66.4 87.1h0M36.7 89.9h0M63.9 91.3h0M141.7 77.7h0M158.6 92.6h0M127.4 78.9h0M159.6 67.3h0M122.4 87.1h0M40.6 99h0M136.7 96.6h0M5.5 100.2h0M101.8 83.7h0M148.7 76h0M70.9 87.1h0M124.8 79.6h0M151.8 88.6h0M54.6 102.4h0M185.8 74.2h0M19.1 73.5h0M166.4 75.3h0M79.5 90h0M32.6 79.8h0M165.4 100.9h0M194.8 86.6h0M121.9 93.9h0M21.6 89.2h0M102.2 86.3h0M104 95.2h0M128.1 75.5h0M87.3 55.8h0M193.8 84.8h0M111.2 84.3h0M182.1 93h0M33.3 89.9h0M116.3 88.4h0M81.1 85.6h0M171.3 72h0M199.1 74.4h0M9.5 79.4h0M136.9 96.7h0M183.5 92h0M11.2 73.8h0M124.4 89.7h0M110.5 78.9h0M58.7 65.6h0M47.3 65h0M74.9 84.7h0M211.3 143.4h0M86.8 73.8h0M30.8 72.9h0M133.2 112.7h0M153.2 84.4h0M176.2 76.5h0M74.3 80.5h0M81.8 78.4h0M109.4 73.6h0M177.7 94.7h0M134.3 95.5h0M194.7 82.4h0M3.5 83.3h0M132.3 84.4h0M87.8 72.5h0M80.5 96.9h0M174.4 79.8h0M47.2 87.2h0M148 77.1h0M86.9 88.7h0M28.1 91.7h0M158.8 84.4h0M206.1 122h0M11 74.6h0M136.1 80.6h0M38.7 106h0M75.9 113.9h0M108 100.3h0M30.3 76.2h0M179.2 106.7h0M117.5 75.5h0M121.4 86.5h0M16.1 90h0M188.7 69.8h0M120.9 88.4h0M9.2 65.8h0M9.3 66.6h0M55.1 99.2h0M112.8 73.1h0M48.4 87.4h0M69.2 69.1h0M109 91.6h0M135.5 68.5h0M70.1 92.9h0M76.5 91.4h0M195.2 72.8h0M32.1 94.9h0M123.4 102.6h0M25 84.3h0M40.6 82h0M167.6 85.5h0M81.9 71.6h0M136.5 77.6h0M106.7 88.2h0M139.9 81.8h0M181.1 85.8h0M88.9 87.2h0M105.2 85.8h0M121.5 81.1h0M127.4 77.4h0M132.8 80h0M58 94.3h0M95.9 75.5h0M187.8 82.9h0M144.9 106.7h0M7.2 81.4h0M84.4 80.9h0M36.2 76h0M166.3 69.6h0M196.4 94.4h0M162.4 98.4h0M200.1 85.7h0M120.2 80h0M35.1 75.4h0M43.7 94.7h0M160.5 90.8h0M208.1 141h0M48.9 80.3h0M14.6 96.1h0M92.2 101h0M32 88.5h0M33.7 89h0M28.6 82.5h0M7.7 74.1h0M73.1 68.6h0M75.4 83.9h0M59.1 76h0M62.1 85.5h0M60.5 82.7h0M53.4 87h0M74.2 95.9h0M48.8 85h0M193.9 52.9h0M188.3 84.9h0M105.4 83.3h0M45.9 73.1h0M62.4 74.6h0M101.2 89.5h0M173.2 62.9h0M149.7 85.9h0M96.8 73.3h0M81.1 89.3h0M61 81.8h0M181.5 86.3h0M189.6 72.3h0M19.4 82.3h0M207 121.5h0M148.2 73.6h0M71.7 82.9h0M152.3 78.2h0M.5 67.1h0M181.7 67.3h0M27.8 81.6h0M143.8 80.1h0M82.3 91.1h0M107.3 86.7h0M159.3 82.3h0M187.5 94.8h0M172.1 88.4h0M7.9 81.4h0M97 84.3h0M82.3 86.2h0M206 129.8h0M22.9 73.5h0M165.4 89.7h0M133.8 70.5h0M181.5 87.1h0M95.1 85.7h0M133.1 113h0M108.6 79h0M145.1 80.4h0M108.1 80.5h0M148 76.7h0M165.4 71.2h0M65.4 75.6h0M187.4 92.4h0M157.7 94h0M190.7 62h0M63.9 79.7h0M64.3 80.8h0M159.8 80.8h0M22.5 76h0M119.8 60.5h0M123.7 79.5h0M191.6 91.7h0M100.2 92h0M122.9 85.4h0M69.7 86.1h0M85.8 76.8h0M24.8 89.7h0M147.5 99h0M29.4 65.5h0M58.2 99.4h0M211.2 140.8h0M45.6 85.3h0M17.1 80.4h0M8.2 100h0M73 85.7h0M135.9 83.6h0M55.6 89.6h0M45 98.5h0M62.5 85.1h0M172.5 87.3h0M57.9 79.1h0M175.9 83.5h0M53.7 76.9h0M93 84.1h0M138.2 88.2h0M29.1 82h0M33.7 63.9h0M56.5 84.8h0M177.7 86.3h0M133.9 114.5h0M150.3 88h0M78.2 80h0M148.9 69.5h0M1.9 65.5h0M141.7 87.4h0M101.8 82.8h0M141.9 91.1h0M100.1 86.4h0M28.4 99.5h0M123.8 64.7h0M62 81.3h0M6.5 92.8h0M204.6 74.9h0M39.2 70.7h0M211.7 128.7h0M82.5 106.2h0M105.5 83h0M38.2 83.1h0M3.2 73.5h0M142.9 86.6h0M115 78h0M29.4 78.7h0M121.3 93.3h0M199.4 86.6h0M120.5 76.2h0M130.4 94h0M173 84.4h0M91 69.5h0M160.9 75.7h0M91.6 94.9h0M207.7 128.9h0M146.1 80.8h0M73.8 97.6h0M87.9 66.4h0M108.9 82.5h0M71.1 79.3h0M89 72.9h0M90.6 72.6h0M110.4 77.1h0M153.5 99.2h0M153 84.9h0M200.5 74.4h0M75.5 96.2h0M94.1 95.9h0M193.5 80.3h0M179.9 77.4h0M144.6 82.9h0M121.3 77.1h0M193.6 67.3h0M30 83.8h0M102.4 66.3h0M96.8 92.2h0M138.9 82.8h0M37.8 96.5h0M71.3 74.6h0M40.1 100.9h0M91.2 76.5h0M146.2 79.9h0M137.8 70.9h0M42.1 76.7h0M43.6 75.2h0M62.7 78.1h0M88.2 70.7h0M187.1 65.7h0M200.6 78.1h0M102.9 87.7h0M120.9 64.4h0M20 99.3h0M171.5 82.4h0M73 90.1h0M135.7 75.4h0M203.8 70.6h0M77 90.3h0M15.3 60.4h0M184.2 78.9h0M40.5 77.6h0M20.8 86.1h0M161.7 79.8h0M157 97.2h0M96.2 65.8h0M113.7 74.7h0M90.1 90.1h0M173.9 90.4h0M15 105.6h0M132.5 106.8h0M161.5 83.8h0M15.9 74.2h0M202.1 80h0M52.8 77h0M140.1 83.3h0M57.4 90.6h0M59.7 79.2h0M125.4 91h0M193.4 82h0M58.5 91.8h0M28.1 83.1h0M104 81.8h0M106.9 70.5h0M29.1 83h0M109.5 89.8h0M8.3 80.2h0M32.6 81.4h0M179.3 73.2h0M188.7 95.2h0M148 87h0M114.1 84h0M7.1 56.7h0M54.7 90.9h0M46 103.9h0M54.3 88.1h0M162.1 74.3h0M181.3 101.3h0M204.2 84.5h0M52.8 79.1h0M81.9 89.7h0M72 91.4h0M123.5 84h0M72.5 83h0M177.6 74h0M46.6 72.6h0M173.2 93.2h0M17.4 92.2h0M19.2 84.1h0M167.3 101.7h0M93.6 84.6h0M116.4 93.7h0M.7 105h0M17.1 73.4h0M93.6 112h0M111.7 83.4h0M1.6 71h0M202.3 87.2h0M35.1 78.2h0M136.5 100.9h0M123.2 69.9h0M94 70.6h0M104.1 80.1h0M5.8 78.1h0M146.1 81.8h0M117.7 74.6h0M147.4 70.7h0M211.2 139.2h0M154.9 75.2h0M146.9 94.1h0M40.5 88.5h0M6.8 81.4h0M187.6 75.2h0M80.8 92.3h0M200.5 88.3h0M81.6 101.8h0M78.1 64.7h0M60.4 87.7h0M174.8 89.7h0M44.5 76.5h0M134.2 91.8h0M11.1 84.4h0M109.1 99.3h0M137.3 65.2h0M189.1 83h0M186.9 74.7h0M43.1 80.1h0M45.4 81.2h0M1.1 73.1h0M166.6 71.2h0M193.4 85.5h0M160.5 78.6h0M17.6 78.5h0M99.1 86.6h0M194.1 98.8h0M65.1 81.9h0M115.5 90.2h0M21.9 85.9h0M114.2 89.5h0M184.8 81.2h0M49.9 87.6h0M14 82.7h0M48.3 73.1h0M91.2 72h0M30 94.1h0M157.6 70h0M121.1 73.5h0M11.5 81.6h0M126.9 88.3h0M129.3 79.9h0M107.4 70.9h0M44.2 88.9h0M133.8 76.6h0M164.4 99h0M16 77.8h0M96.4 64.2h0M167.6 84.4h0M155.6 79.4h0M122.7 78.6h0M125.3 78.4h0M86.2 88.5h0M112.3 101.6h0M157.2 70.3h0M201.4 107.7h0M188.1 101.7h0M212.7 123.1h0M169 89.2h0M201.9 87.3h0M113.6 86.4h0M175.9 93.6h0M128.9 79.1h0M106.4 80.8h0M169.5 98.2h0M21.1 98.5h0M190.8 71.4h0M73 75.3h0M191.6 83.1h0M113.6 75.7h0M16.2 101h0M132.6 114.9h0M144.9 83.2h0M98.4 92.9h0M105.5 77.3h0M84.9 88.9h0M124.5 99.5h0M73.3 69.6h0M20.3 53.6h0M72.8 96.2h0M140.9 90h0M128.9 88.7h0M115.3 79.6h0M156.3 85.8h0M13.6 83.4h0M83.5 82.8h0M202.9 89h0M207.4 127.5h0M164.5 81.5h0M116.7 77h0M7.8 78.2h0M140.4 65.9h0M203.4 77.2h0M62.2 59.1h0M171.5 81h0M136.5 68.2h0M113.7 78.1h0M114.7 83.7h0M24.2 97.7h0M106.8 83.8h0M6 93.6h0M16.6 86.2h0M61 91.7h0M166.6 101.6h0M169.7 71.3h0M193.4 84.2h0M182.6 93.6h0M153.1 73h0M25.2 82.8h0M17.4 91.8h0M66.8 93h0M83.8 62.8h0M195.5 76.2h0M175 79.8h0M5.2 85.1h0M64.9 74.6h0M39.5 91.5h0M194.7 80.7h0M60.2 94.8h0M13.4 91.7h0M152.1 74.1h0M144.9 75.8h0M197.1 99.4h0M193.2 81.2h0M121.1 91h0M201 88h0M194.2 85.6h0M5.5 82.5h0M139.8 87.6h0M134.3 67.1h0M207.7 119.9h0M132.1 79.3h0M42.5 86h0M191.7 67.1h0M159.8 77.2h0M175.6 78.8h0M121 87.9h0M2.9 86.4h0M57.9 81.8h0M70.3 83.9h0M4.2 95.3h0M109.2 84.4h0M186.9 97.3h0M188.3 73.7h0M206.5 135.9h0M102.7 80.1h0M140.6 85.2h0M91.5 91.5h0M87.3 75.7h0M56.9 90.5h0M133.4 69.6h0M61.2 84.2h0M194.9 67.8h0M110.8 87.7h0M26.2 73.5h0M164.6 72.5h0M48.3 76.2h0M93.8 92.8h0M149 80.8h0M128.7 87.6h0M33.5 93.6h0M40.1 74.5h0M74 52.6h0M122.2 97.5h0M105.2 64.1h0M36.5 83.4h0M37 74.9h0M184.1 61.5h0M138.2 64.8h0M52.9 73.8h0M209.3 127.7h0M182 85.8h0M32 79.8h0M140.8 79.1h0M87.6 81.9h0M207.7 150.7h0M35.5 103.5h0M99.2 71.5h0M33.6 72.3h0M133.6 86h0M153.8 78.1h0M179 84.3h0M213.1 134.6h0M209.2 142.4h0M210.6 128.8h0M41.7 79.8h0M168.4 80.4h0M148 85.3h0M133.8 89.3h0M81.7 97.8h0M159.4 67.1h0M206.6 120.3h0M204.6 85.7h0M109.5 69.8h0M197.4 99.8h0M89 78h0M92.6 72.9h0M128.5 77.5h0M197.1 78.7h0M11.3 86.5h0M154.1 82.2h0M180.3 70.1h0M175.2 76.4h0M68.5 63h0M46.4 88.6h0M132.5 83h0M12 80.7h0M103.6 76.5h0M182.1 94.7h0M14.7 69.1h0M179.6 80.5h0M8.2 81.4h0M153.6 93.2h0M125.3 81.1h0M30.7 78.9h0M127.4 90.9h0M129.6 91.7h0M44.4 109.1h0M84.1 110.7h0M71.7 76.5h0M19 92h0M209.2 138.8h0M13.9 99.2h0M37 57.6h0M39 81.7h0M200.5 87h0M212 117.9h0M136.1 78.8h0M133.9 98.2h0M94.3 66.1h0M199.2 84.5h0M50.1 75.4h0M4.6 77h0M125.6 77.2h0M131.5 88.9h0M123.2 78.9h0M210.6 134.1h0M37.1 84.5h0M158.6 86h0M15.6 75.6h0M91.6 94.7h0M124.7 92h0M90.3 88h0M88.6 79.1h0M99.2 86.6h0M31.1 84.5h0M188.7 78.8h0M41.6 92.8h0M80.8 89.5h0M98.7 82.8h0M35.6 79.3h0M166.8 94.6h0M34.6 87.9h0M5.4 86.1h0M110.4 85.6h0M114.3 92.6h0M98 86.3h0M195.6 75.7h0M160.1 84.5h0M166.2 83.5h0M175 88.2h0M172.1 62.5h0M39.2 86.1h0M36.9 82.7h0M192.4 97.5h0M78.1 105.2h0M5.8 97.1h0M213 124.4h0M4.4 84.2h0M210.7 131.1h0M40.7 86.5h0M7.7 78.8h0M211.9 144.9h0M55.8 74.9h0M207.5 133.2h0M55.4 89.3h0M209.3 134h0M174.9 90.3h0M178.7 107.9h0M26.2 95.1h0M172.2 92h0M33.8 85.5h0M78.9 81.3h0M43.3 87.2h0M191.7 66h0M117.2 96.5h0M143.5 68h0M153.2 58.2h0M92.1 68.7h0M74.7 92.5h0M67.6 87h0M87.4 80.1h0M157.2 92.8h0M140.2 90.9h0M30.4 64h0M143.9 95.3h0M46.3 67.6h0M180.9 81.1h0M191.4 84.6h0M59.1 81.3h0M203.4 92h0M155.1 66.8h0M29.6 56.7h0M209.4 132.5h0M192 92.2h0M94.9 69.6h0M56.9 73.3h0M107 91.9h0M149 74.8h0M105.3 85.7h0M155.7 98.1h0M202.5 92h0M32.1 79.1h0M204.2 73h0M105.6 72.5h0M136.4 76.2h0M211.7 137.5h0M124.2 85.7h0M12.3 86.1h0M192.3 77.8h0M141.2 80.6h0M129.6 83.9h0M197.9 66.8h0M12.3 80.6h0M144.6 80.8h0M144.1 80h0M111.1 65h0M36 98.3h0M57.4 84.9h0M210.2 139.4h0M178.7 94.5h0M185.1 65h0M113.4 94.6h0M131.4 85.7h0M11 77.7h0M53.4 90h0M106.8 80.5h0M26.6 79.8h0M47.6 61.2h0M36.4 95.6h0M126.5 77.4h0M74.2 76.6h0M99.2 97.2h0M201.3 87.2h0M173.7 89.3h0M209.1 129.3h0M163.6 95.3h0M49.1 67h0M168.6 77.1h0M27.7 66.7h0M94.7 67.7h0M37.7 72.1h0M127.6 88.4h0M31.9 92.3h0M105.7 64.8h0M92.5 71.3h0M37 78.1h0M116.1 71.9h0M104 80.5h0M167.8 86.8h0M153.5 81.2h0M99.1 76.3h0M175.5 69.3h0M126.7 90.1h0M72.5 83.9h0M131.5 85h0M7.4 102h0M108.1 70.2h0M150.1 87.8h0M151.3 97.9h0M50.7 79.9h0M205.5 123.6h0M90.6 92.1h0M163.4 98.2h0M137.5 90.2h0M103.8 91.4h0M96.1 84.2h0M32.8 99.2h0M140.8 87.9h0M61.3 80.8h0M168.9 94.6h0M163.2 71.7h0M102.2 79.5h0M207.4 118.1h0M7.3 79.1h0M66.5 92.5h0M24.9 66.7h0M118.8 86.2h0M120.9 83.1h0M62 63.7h0M27.3 85.9h0M105.8 86.8h0M108.3 78.7h0M119.6 82h0M65.5 71.4h0M82.9 102.1h0M187.2 92.7h0M81.7 82.6h0M181 98h0M181.7 89.4h0M86.8 98.2h0M127.4 97.6h0M102.8 68.6h0M142.9 80.4h0M191.5 78.6h0M.8 112.7h0M63 47.8h0M121.3 80h0M41.7 103.7h0M105.4 74.7h0M95.2 82.8h0M155.4 80.4h0M85.3 93.6h0M106.7 79.1h0M52.9 107.7h0M11.9 95.1h0M81.5 94.7h0M94.3 80.7h0M188.1 71.6h0M96.8 86.1h0M146.8 81.6h0M127.8 95.4h0M203.8 69.4h0M210 130.9h0M149.8 79.5h0M188.6 110.3h0M176.4 87.5h0M181 88.6h0M170.5 85.8h0M98.2 77h0M94.9 89.1h0M175.9 88.9h0M17.2 85.8h0M3 73h0M49.8 70.4h0M29.6 86.5h0M158.6 87.6h0M9.6 90.2h0M128.1 106.2h0M159.4 98.6h0M173.7 94.4h0M63.1 66.2h0M34 109.9h0M162.2 108.6h0M107.1 69.5h0M203.6 74.7h0M27.3 80.9h0M22.1 97.2h0M73.5 74.9h0M210.9 114.8h0M193.6 100.2h0M198 80.2h0M78.4 91.6h0M127.6 95.5h0M157.3 100h0M26.9 104.8h0M204.7 74.2h0M56.7 73.5h0M134.1 76.7h0M212.6 138.2h0M134.3 73.9h0M68.8 86.7h0M166.4 87.5h0M68.1 66h0M169.6 96.8h0M171.2 81.3h0M130.1 89.8h0M200.5 90.9h0M48.5 95.9h0M95.9 77.8h0M44.2 85.2h0M52.9 103.9h0M144.9 90.4h0M181.2 91.6h0M72.7 100.9h0M23.9 80h0M110.6 78.8h0M160.8 55.3h0M.6 86.7h0M157.6 88.1h0M104 76.9h0M48 79.3h0M192 78.8h0M152.8 73.8h0M41.1 93.2h0M89.8 84.5h0M103.3 80.7h0M28.7 80.6h0M201 100.6h0M153.6 93.1h0M128.9 72.3h0M164.4 91.2h0M114.9 81.9h0M60.4 94.4h0M62.6 97.9h0M36.4 85.1h0M74.1 87h0M57.6 70.3h0M41.7 94.4h0M22 89.3h0M154.8 92.5h0M114.3 96.1h0M137.6 85.6h0M2.9 97.1h0M136.7 84.3h0M167.3 109h0M183.8 79.8h0M118 74.2h0M208.5 144.8h0M207.8 128.4h0M151 92.3h0M25.1 85.9h0M157.3 97.4h0M170.4 104.9h0M23.5 77.9h0M67.9 105.9h0M103.1 94.7h0M164.2 74.1h0M178.8 88.3h0M161.6 107.6h0M138.2 81.4h0M88.1 88.1h0M16.5 62.8h0M97.1 95.6h0M162.7 93.6h0M65.8 93.7h0M197.9 93.1h0M131.7 103.6h0M16.4 64.2h0M9.4 75.6h0M142.2 64.8h0M81.6 94.9h0M150.6 73.1h0M199.5 61.6h0M189.1 67.7h0M78.3 95.1h0M175.5 84.6h0M89.6 74.3h0M77.5 95.5h0M171.2 75.4h0M143.3 90h0M132 89.5h0M62.1 89.5h0M129.3 86.2h0M78.6 88.2h0M88.3 59.8h0M38.7 75.2h0M122.4 81.6h0M112.7 83.4h0M64.1 100.2h0M25.3 70.9h0M72.6 87.7h0M14.8 76.8h0M79.5 83.3h0M154.5 88.6h0M163.3 97.4h0M22.9 85.9h0M5.4 70.1h0M87.5 77.9h0M129.7 74.6h0M126.5 83.8h0M140.2 88.3h0M193.8 94.1h0M142.2 102.7h0M95 106.2h0M65.3 90.5h0M82.8 91.2h0M32.3 71.2h0M64.8 85.4h0M87.6 91.9h0M71.3 93.9h0M160.1 91.5h0M91.9 99.1h0M161.1 94.5h0M83.8 73h0M196.9 103.9h0M88.3 72.5h0M47.2 93.5h0M14.8 78h0M211.9 150.8h0M68.1 70.8h0M44.2 82.7h0M146.5 85.4h0M169.3 91.7h0M140.5 68.1h0M74.3 73.7h0M202.5 67.2h0M61.4 68.6h0M153.1 94.2h0M167.4 95.9h0M87 83.4h0M34.1 82.9h0M88.2 107.1h0M20.6 88.3h0M203.3 85.6h0M174.7 60.7h0M90.1 81.1h0M145.4 70.5h0M198.5 78.6h0M11.5 54.7h0M56.6 86.7h0M5 73h0M17.4 79.3h0M71 85.1h0M22.1 77.8h0M163.9 74.9h0M98.8 84.1h0M171.3 80.1h0M194.7 90.3h0M55.4 65.9h0M160.7 70.8h0M20 88h0M146 96.3h0M169 71.9h0M109.7 71.1h0M21.4 80.2h0M196.3 66.4h0M30 69.5h0"/>
<path stroke="#5a5a5a" stroke-opacity=".4" stroke-width=".9" d="M50.8 53.1h0M58.9 45.4h0M29.4 115.2h0M8.1 126.5h0M119.5 81.5h0M15.9 69.9h0M87.4 70.3h0M163.5 103.1h0M200.5 102.8h0M171.5 59.6h0M168.2 94.4h0M8.2 103.2h0M4.7 100.8h0M52.6 113.1h0M78.3 96.2h0M30.3 102.2h0M163.9 113.6h0M151.5 37.7h0M81.3 151.9h0M22.8 54.8h0M79.1 96.3h0M64.4 104.3h0M168.3 104.7h0M157.6 102.3h0M190.9 67h0M2.8 72.6h0M193.6 46.4h0M144.9 97.7h0M209.6 91.7h0M44.9 87.1h0M18.6 111.2h0M174.1 98.6h0M133 39.3h0M190 112.9h0M175 64h0M195.2 117.8h0M41 52.6h0M144.5 121.1h0M88.1 48.8h0M132.2 90.2h0M143.1 102.6h0M71.6 63.3h0M79.1 85.4h0M179.6 90.7h0M187.3 64.1h0M44.7 107.2h0M89.7 95.2h0M50.7 109.7h0M14 71h0M198.3 98.9h0M54.2 96.7h0M44.2 129.6h0M137.8 105.8h0M5 60.7h0M99.4 100.9h0M157.5 104.9h0M139.2 115.9h0M60.3 110h0M207.5 158.3h0M148.5 47.3h0M15.2 124h0M7.1 122.6h0M18 107.5h0M194.4 102.5h0M183.1 64.9h0M175.7 53.5h0M72.5 42.3h0M145.5 69.7h0M134.7 106.6h0M133.5 110.7h0M179.8 119.1h0M110 87.5h0M180.7 89.4h0M72.5 70.6h0M52.9 49.3h0M53.7 107h0M37 62.7h0M105 44.9h0M23.5 55.2h0M161.8 50h0M55 107h0M138.4 105.6h0M157.2 90.9h0M120.8 144.2h0M38.1 71.9h0M30.6 86.1h0M64.6 106.2h0M141.1 52.1h0M89.8 34.7h0M100.3 121.9h0M87.2 108.7h0M61 94.7h0M186.8 86.8h0M152.6 92.1h0M189.8 14.6h0M70.9 58.7h0M101.4 117.7h0M167.8 115h0M33.7 91.9h0M65.5 122.5h0M167.4 129.7h0M25.2 71.6h0M203 110.1h0M174.1 85.1h0M192.1 105.2h0M17.3 39.3h0M142 39.2h0M175.6 47.5h0M40.1 116.8h0M47.7 58.6h0M145 133.8h0M120.9 90.2h0M166.5 101.9h0M113.6 98h0M156.4 90.8h0M35.4 68.4h0M164.2 62.5h0M10.9 43.8h0M41.8 93.2h0M162.6 67.3h0M168.4 111.1h0M67.6 48.3h0M55 91.4h0M196.5 86.4h0M43.7 116.4h0M111.8 130.5h0M184.5 100h0M73.7 121.8h0M12.1 36.4h0M88.2 115h0M74 88.5h0M109.2 67.3h0M116.6 86.8h0M5.3 66.8h0M178 136h0M8.1 96.1h0M54.2 113.8h0M109.4 72.3h0M30.9 95.8h0M37.2 40.1h0M91.6 43.1h0M80.9 100.6h0M39.2 127.1h0M85.5 17.5h0M62.3 111.5h0M182.9 105.6h0M109 100h0M101.8 95.7h0M69.4 99.5h0M58.4 37.7h0M168.2 99.7h0M112.4 106.5h0M91.7 87.9h0M114.9 68.8h0M97.2 69.6h0M161.1 61.7h0M28.6 43.5h0M126.3 112.2h0M90.1 92.8h0M198.6 55h0M5.8 72.9h0M83.3 98.5h0M7.9 117.6h0M33.4 107.7h0M193.7 58.7h0M13.2 106.7h0M147.8 122.1h0M5.1 89.5h0M183.1 111.1h0M32.3 92.8h0M104.9 90.7h0M174.4 69.2h0M174.5 87.3h0M46.6 116.5h0M160.6 105.3h0M192.9 59.2h0M210.3 143.2h0M81.6 85.4h0M113.3 66.4h0M72.3 89.3h0M43.7 118.5h0M119.1 119h0M76 70.3h0M10 102.1h0M23.5 110.5h0M160.9 104.4h0M51 39.1h0M42.2 109.2h0M98 96.1h0M118.8 74h0M201.6 114h0M85.3 66.4h0M142.5 70.7h0M179 116.3h0M28.1 53.1h0M145.4 30.7h0M162.9 96.4h0M106.9 91.6h0M169.1 63.3h0M14.3 113h0M78.1 102h0M38.1 60.6h0M208.2 137.5h0M46.1 131.8h0M101.9 45.1h0M98.8 116.1h0M54 94.7h0M32.1 122.3h0M8.5 30.6h0M160.4 99.1h0M81.7 102.4h0M77.3 89.9h0M46 60.3h0M127.3 50h0M85 56.4h0M37.9 122.5h0M25.9 70.4h0M203.4 85.5h0M205.2 107.9h0M7.7 33h0M21.6 105.1h0M208.7 93.7h0M101.5 37.5h0M109.6 100.1h0M8.7 103.7h0M16.5 43.2h0M86.3 87.5h0M154.1 94.6h0M201.2 84.8h0M190.7 87.4h0M116.8 80h0M62.7 94.4h0M193.3 88.4h0M210.4 142h0M69.9 116.3h0M102.9 114.2h0M.4 118.4h0M87.2 96.3h0M54.1 115.5h0M6.3 116.9h0M45.9 155.7h0M122.6 106.7h0M188.6 69.7h0M151.5 2.8h0M102.5 73.2h0M46.7 62.8h0M170.8 118.1h0M99.3 115h0M4.5 109.5h0M27.3 66.9h0M134.3 54.9h0M145.5 124.1h0M120.1 98.8h0M185.2 108.5h0M79.4 97.6h0M1.6 106.9h0M31 117.2h0M114.8 87.5h0M18.3 93.6h0M100 95.4h0M55.3 115.4h0M207.6 151.2h0M29 60.4h0M182.8 15.4h0M110.6 56.5h0M195.7 55.8h0M178.1 92.3h0M207.7 152.6h0M112.7 89.7h0M133.8 128h0M107.6 93.6h0M140.1 109.6h0M78.9 133h0M166.8 90.6h0M206.1 150.6h0M205.4 137.6h0M143.5 92.2h0M187.1 83.8h0M176.1 96.1h0M36.9 75.5h0M92.5 95.1h0M200.5 106.7h0M178.1 120.2h0M64 66.1h0M73.8 99.2h0M131.7 101.2h0M170 14.3h0M52.7 97.6h0M182.2 87.5h0M120.9 91.6h0M32.3 92.9h0M199.8 95h0M121.8 63.8h0M39.6 56.9h0M150.3 56.4h0M102.8 131.7h0M84 64.1h0M3.2 36.3h0M78.4 52h0M209.1 109.5h0M44.7 96.7h0M19.5 95.4h0M83.2 88.5h0M146.6 62.2h0M126.8 138.9h0M4.5 102.2h0M88.4 52.4h0M64.2 67.6h0M21.5 84.9h0M79.6 112.1h0M162.7 96.5h0M161.8 89.7h0M196.4 110.4h0M70.8 97.2h0M210.5 123.8h0M135.4 74.3h0M175.9 67.8h0M108.7 66.1h0M76.7 91.7h0M136.5 107.9h0M156.3 102.2h0M141.9 115.4h0M179.1 111.6h0M27.3 94.8h0M64.7 85.3h0M153.5 27.3h0M107.6 118.3h0M55.1 52.7h0M165.5 56.8h0M8.6 43h0M97.7 96.2h0M160.4 92.4h0M179.5 110.6h0M139.3 93.7h0M79.5 87.5h0M193.1 123.3h0M33.8 101.1h0M177.1 132.3h0M30.9 134.3h0M160.3 98.5h0M196 92.9h0M68.1 58.1h0M118.4 86.8h0M159.7 107.2h0M134.5 122.7h0M85.9 13.8h0M23.7 92.1h0M172.4 98.8h0M208.4 114.8h0M194.8 111h0M44.1 92.5h0M28.7 105.4h0M57.8 91.1h0M128.9 42.3h0M101.1 60.7h0M44 87.8h0M146.6 66.6h0M198.9 126.4h0M114.1 74.5h0M74.5 49.4h0M193.2 99.7h0M66.4 87.4h0M207.6 143.6h0M38.7 124.5h0M130.3 116.5h0M83.6 107.9h0M44.4 89.1h0M49.7 84.2h0M173.5 86.2h0M165.5 68.2h0M158.7 73.8h0M80 39.2h0M108 42.3h0M15.7 100.6h0M135.3 112.4h0M80.8 91.8h0M9.9 107.3h0M117.8 101.2h0M194.9 107.6h0M82.4 58.5h0M36.1 114.7h0M48 89.7h0M75.7 88.4h0M76.8 93h0M137.7 99.8h0M45.2 88.3h0M7.5 30h0M153.4 61.3h0M66.3 69.1h0M124.3 65.8h0M188 83.3h0M40.5 112h0M11.9 69.4h0M160.9 101.2h0M127.6 87.2h0M86.1 93.6h0M178.3 98.9h0M100.4 121.9h0M75.4 101.4h0M105.9 96.3h0M181.9 42.2h0M205.2 106.3h0M164.2 119.3h0"/>
</g>
</g>
<path stroke="#1c1c1c" stroke-width="1.3" fill="none" d="M421.99 211.6V370.4M442.98 211.6V370.4M459.58 211.6V370.4M474.57 211.6V370.4M491.16 211.6V370.4M505.05 211.6V370.4M518.65 211.6V370.4M523.55 211.6V370.4M536.24 211.6V370.4M547.83 211.6V370.4M554.53 211.6V370.4M560.93 211.6V370.4M565.98 211.6V370.4M576.42 211.6V370.4M584.92 211.6V370.4M586.12 211.6V370.4M592.61 211.6V370.4M597.56 211.6V370.4M602.56 211.6V370.4M609.21 211.6V370.4M612.6 211.6V370.4"/>
<path stroke="#0a0a0a" stroke-width="1" d="M407 290.9H620.6"/>
<path stroke="#ef8a10" stroke-width="2.2" fill="none" d="M407.8 291.4H417.8M417.8 292.5H422M422 290.4H442.8M443.6 292.5H451.9M451.9 288.2H459.4M459.4 291.4H474M474 288.2H479.4M478.5 291.4H491M491 291.4H505.2M505.2 291.4H516M510 291.4H518.3M518.3 291.4H523.3M523.3 286.1H526.6M525.8 293H530.8M530 292H535.8M535.8 292.5H547.4M547.4 291.4H554.1M554.1 289.3H560.7M560.7 292H565.7M565.7 292H576.2M576.2 290.9H585.2M585.7 292H592.4M592.4 289.3H597.4M597.4 289.8H602.3M602.3 290.9H612M612.8 341.8H620.1"/>
<path stroke="#f0922a" stroke-width="1.7" opacity=".9" fill="none" d="M417 308.4h2M527.5 301.5h2.4M539.2 308.4h2.4"/>
<rect x="407.5" y="211.5" width="213" height="159" fill="none" stroke="#333" stroke-width=".8"/>
<g font-family="'DejaVu Sans','Liberation Sans',sans-serif" font-size="4.85" fill="#000">
<text x="402.6" y="213.1" text-anchor="end">1.5</text>
<text x="402.6" y="239.6" text-anchor="end">1.0</text>
<text x="402.6" y="266.1" text-anchor="end">0.5</text>
<text x="402.6" y="292.6" text-anchor="end">0.0</text>
<text x="402.6" y="319.1" text-anchor="end">−0.5</text>
<text x="402.6" y="345.6" text-anchor="end">−1.0</text>
<text x="402.6" y="372.1" text-anchor="end">−1.5</text>
<path stroke="#222" stroke-width=".6" fill="none" d="M405.2 211.4H407M405.2 237.9H407M405.2 264.4H407M405.2 290.9H407M405.2 317.4H407M405.2 343.9H407M405.2 370.4H407M414.5 370.4V372.2M432.49 370.4V372.2M451.28 370.4V372.2M467.07 370.4V372.2M482.86 370.4V372.2M498.11 370.4V372.2M511.85 370.4V372.2M521.1 370.4V372.2M529.89 370.4V372.2M542.04 370.4V372.2M551.18 370.4V372.2M557.73 370.4V372.2M563.45 370.4V372.2M571.2 370.4V372.2M580.67 370.4V372.2M585.52 370.4V372.2M589.36 370.4V372.2M595.09 370.4V372.2M600.06 370.4V372.2M605.88 370.4V372.2M610.9 370.4V372.2M616.6 370.4V372.2"/>
<text transform="translate(413.6 379.21) rotate(-60)" text-anchor="middle" y="1.6">chr1</text>
<text transform="translate(431.59 379.21) rotate(-60)" text-anchor="middle" y="1.6">chr2</text>
<text transform="translate(450.38 379.21) rotate(-60)" text-anchor="middle" y="1.6">chr3</text>
<text transform="translate(466.17 379.21) rotate(-60)" text-anchor="middle" y="1.6">chr4</text>
<text transform="translate(481.96 379.21) rotate(-60)" text-anchor="middle" y="1.6">chr5</text>
<text transform="translate(497.21 379.21) rotate(-60)" text-anchor="middle" y="1.6">chr6</text>
<text transform="translate(510.95 379.21) rotate(-60)" text-anchor="middle" y="1.6">chr7</text>
<text transform="translate(520.2 379.21) rotate(-60)" text-anchor="middle" y="1.6">chr8</text>
<text transform="translate(528.99 379.21) rotate(-60)" text-anchor="middle" y="1.6">chr9</text>
<text transform="translate(541.14 380.4) rotate(-60)" text-anchor="middle" y="1.6">chr10</text>
<text transform="translate(550.28 380.4) rotate(-60)" text-anchor="middle" y="1.6">chr11</text>
<text transform="translate(556.83 380.4) rotate(-60)" text-anchor="middle" y="1.6">chr12</text>
<text transform="translate(562.55 380.4) rotate(-60)" text-anchor="middle" y="1.6">chr13</text>
<text transform="translate(570.3 380.4) rotate(-60)" text-anchor="middle" y="1.6">chr14</text>
<text transform="translate(579.77 380.4) rotate(-60)" text-anchor="middle" y="1.6">chr15</text>
<text transform="translate(584.62 380.4) rotate(-60)" text-anchor="middle" y="1.6">chr16</text>
<text transform="translate(588.46 380.4) rotate(-60)" text-anchor="middle" y="1.6">chr17</text>
<text transform="translate(594.19 380.4) rotate(-60)" text-anchor="middle" y="1.6">chr18</text>
<text transform="translate(599.16 380.4) rotate(-60)" text-anchor="middle" y="1.6">chr19</text>
<text transform="translate(604.98 380.4) rotate(-60)" text-anchor="middle" y="1.6">chr20</text>
<text transform="translate(610 380.4) rotate(-60)" text-anchor="middle" y="1.6">chr22</text>
<text transform="translate(615.7 379.21) rotate(-60)" text-anchor="middle" y="1.6">chrX</text>
<text transform="translate(386 291.6) rotate(-90)" text-anchor="middle" font-size="5.9">Copy ratio (log2)</text>
</g>
<path stroke="#222" stroke-width=".9" d="M498.8 209.1h3"/>
<text x="409.2" y="204.6" font-size="17.4" fill="#111">SCP</text>
</g>
<clipPath id="c3"><rect x="132.5" y="432.5" width="213.7" height="158.8"/></clipPath>
<g>
<g clip-path="url(#c3)">
<rect x="132.5" y="501.8" width="4.7" height="41.8" fill="url(#g)"/>
<rect x="132.5" y="512.7" width="4.7" height="19.9" fill="url(#n)"/>
<rect x="137.2" y="495.3" width="6.7" height="41.8" fill="url(#g)"/>
<rect x="137.2" y="506.2" width="6.7" height="19.9" fill="url(#n)"/>
<rect x="143.8" y="491.3" width="3.7" height="41.8" fill="url(#g)"/>
<rect x="143.8" y="502.3" width="3.7" height="19.9" fill="url(#n)"/>
<rect x="147.5" y="487.3" width="21" height="41.8" fill="url(#g)"/>
<rect x="147.5" y="498.3" width="21" height="19.9" fill="url(#n)"/>
<rect x="168.4" y="495.3" width="9.5" height="41.8" fill="url(#g)"/>
<rect x="168.4" y="506.2" width="9.5" height="19.9" fill="url(#n)"/>
<rect x="177.9" y="482.3" width="7.5" height="41.8" fill="url(#g)"/>
<rect x="177.9" y="493.3" width="7.5" height="19.9" fill="url(#n)"/>
<rect x="179.6" y="486.8" width="4.2" height="41.8" fill="url(#g)" opacity=".33"/>
<rect x="185.4" y="472.9" width="5" height="41.8" fill="url(#g)"/>
<rect x="185.4" y="483.8" width="5" height="19.9" fill="url(#n)"/>
<rect x="188.7" y="489.3" width="2.5" height="41.8" fill="url(#g)" opacity=".33"/>
<rect x="190.9" y="501.8" width="8.7" height="41.8" fill="url(#g)"/>
<rect x="190.9" y="512.7" width="8.7" height="19.9" fill="url(#n)"/>
<rect x="199.5" y="483.3" width="5" height="41.8" fill="url(#g)"/>
<rect x="199.5" y="494.3" width="5" height="19.9" fill="url(#n)"/>
<rect x="204.5" y="500.3" width="11.6" height="41.8" fill="url(#g)"/>
<rect x="204.5" y="511.2" width="11.6" height="19.9" fill="url(#n)"/>
<rect x="216.2" y="477.9" width="3.3" height="41.8" fill="url(#g)"/>
<rect x="216.2" y="488.8" width="3.3" height="19.9" fill="url(#n)"/>
<rect x="218.7" y="495.3" width="2.5" height="41.8" fill="url(#g)" opacity=".33"/>
<rect x="219.8" y="500.8" width="10.8" height="41.8" fill="url(#g)"/>
<rect x="219.8" y="511.7" width="10.8" height="19.9" fill="url(#n)"/>
<rect x="230.7" y="468.9" width="5.5" height="41.8" fill="url(#g)"/>
<rect x="230.7" y="479.8" width="5.5" height="19.9" fill="url(#n)"/>
<rect x="236.2" y="490.3" width="5.8" height="41.8" fill="url(#g)"/>
<rect x="236.2" y="501.3" width="5.8" height="19.9" fill="url(#n)"/>
<rect x="242" y="490.8" width="2" height="41.8" fill="url(#g)"/>
<rect x="242" y="501.8" width="2" height="19.9" fill="url(#n)"/>
<rect x="244" y="487.8" width="5" height="41.8" fill="url(#g)"/>
<rect x="244" y="498.8" width="5" height="19.9" fill="url(#n)"/>
<rect x="249" y="485.8" width="3.7" height="41.8" fill="url(#g)"/>
<rect x="249" y="496.8" width="3.7" height="19.9" fill="url(#n)"/>
<rect x="252.6" y="495.3" width="3.3" height="41.8" fill="url(#g)"/>
<rect x="252.6" y="506.2" width="3.3" height="19.9" fill="url(#n)"/>
<rect x="256" y="486.8" width="5.5" height="41.8" fill="url(#g)"/>
<rect x="256" y="497.8" width="5.5" height="19.9" fill="url(#n)"/>
<rect x="261.5" y="498.8" width="11.5" height="41.8" fill="url(#g)"/>
<rect x="261.5" y="509.7" width="11.5" height="19.9" fill="url(#n)"/>
<rect x="272.9" y="487.3" width="6.7" height="41.8" fill="url(#g)"/>
<rect x="272.9" y="498.3" width="6.7" height="19.9" fill="url(#n)"/>
<rect x="279.6" y="487.8" width="3.8" height="41.8" fill="url(#g)"/>
<rect x="279.6" y="498.8" width="3.8" height="19.9" fill="url(#n)"/>
<rect x="283.4" y="482.3" width="3" height="41.8" fill="url(#g)"/>
<rect x="283.4" y="493.3" width="3" height="19.9" fill="url(#n)"/>
<rect x="284.3" y="495.3" width="2.2" height="41.8" fill="url(#g)" opacity=".33"/>
<rect x="286.4" y="495.3" width="2.8" height="41.8" fill="url(#g)"/>
<rect x="286.4" y="506.2" width="2.8" height="19.9" fill="url(#n)"/>
<rect x="289.2" y="504.2" width="2.2" height="41.8" fill="url(#g)"/>
<rect x="289.2" y="515.2" width="2.2" height="19.9" fill="url(#n)"/>
<rect x="292.6" y="499.8" width="8.8" height="41.8" fill="url(#g)"/>
<rect x="292.6" y="510.7" width="8.8" height="19.9" fill="url(#n)"/>
<rect x="302.1" y="495.3" width="2.2" height="41.8" fill="url(#g)"/>
<rect x="302.1" y="506.2" width="2.2" height="19.9" fill="url(#n)"/>
<rect x="304.2" y="505.7" width="7" height="41.8" fill="url(#g)"/>
<rect x="304.2" y="516.7" width="7" height="19.9" fill="url(#n)"/>
<rect x="311.7" y="505.2" width="4.2" height="41.8" fill="url(#g)"/>
<rect x="311.7" y="516.2" width="4.2" height="19.9" fill="url(#n)"/>
<rect x="315.9" y="476.4" width="1.7" height="41.8" fill="url(#g)"/>
<rect x="315.9" y="487.3" width="1.7" height="19.9" fill="url(#n)"/>
<rect x="315" y="466.4" width="2.8" height="41.8" fill="url(#g)" opacity=".55"/>
<rect x="315" y="477.4" width="2.8" height="19.9" fill="url(#n)"/>
<rect x="314.2" y="489.3" width="3.3" height="41.8" fill="url(#g)" opacity=".44"/>
<rect x="318.4" y="501.8" width="5" height="41.8" fill="url(#g)"/>
<rect x="318.4" y="512.7" width="5" height="19.9" fill="url(#n)"/>
<rect x="320" y="518.7" width="3.3" height="41.8" fill="url(#g)" opacity=".33"/>
<rect x="323.4" y="477.9" width="4.2" height="41.8" fill="url(#g)"/>
<rect x="323.4" y="488.8" width="4.2" height="19.9" fill="url(#n)"/>
<rect x="325" y="448.5" width="2.8" height="41.8" fill="url(#g)" opacity=".39"/>
<rect x="326.8" y="422.1" width="1.7" height="41.8" fill="url(#g)" opacity=".55"/>
<rect x="326.8" y="433" width="1.7" height="19.9" fill="url(#n)"/>
<rect x="327.8" y="443.5" width="1.7" height="41.8" fill="url(#g)" opacity=".55"/>
<rect x="327.8" y="454.4" width="1.7" height="19.9" fill="url(#n)"/>
<rect x="326.5" y="457.9" width="2.7" height="41.8" fill="url(#g)" opacity=".55"/>
<rect x="326.5" y="468.9" width="2.7" height="19.9" fill="url(#n)"/>
<rect x="328.8" y="476.4" width="5.7" height="41.8" fill="url(#g)"/>
<rect x="328.8" y="487.3" width="5.7" height="19.9" fill="url(#n)"/>
<rect x="335" y="495.3" width="2.5" height="41.8" fill="url(#g)"/>
<rect x="335" y="506.2" width="2.5" height="19.9" fill="url(#n)"/>
<rect x="335.3" y="504.2" width="2.5" height="41.8" fill="url(#g)" opacity=".55"/>
<rect x="335.3" y="515.2" width="2.5" height="19.9" fill="url(#n)"/>
<rect x="335.3" y="526.7" width="2.2" height="41.8" fill="url(#g)" opacity=".33"/>
<rect x="338.5" y="522.7" width="7.3" height="41.8" fill="url(#g)"/>
<rect x="338.5" y="533.6" width="7.3" height="19.9" fill="url(#n)"/>
<g transform="translate(132.5 432.5)" fill="none" stroke-linecap="round">
<path stroke="#333" stroke-opacity=".55" stroke-width="1.2" d="M12.7 84.7h0M197.4 58.5h0M190.3 107.8h0M124.2 71.7h0M8.4 87.8h0M6.3 88.4h0M65 87.1h0M83.8 94.3h0M44.4 71.8h0M4.1 92.6h0M81.3 92.7h0M145.2 75.1h0M187.7 80.9h0M199.6 58.1h0M94.6 89.5h0M9.8 78.4h0M112.1 77.1h0M182.2 98.6h0M17.7 72.4h0M64.9 89.4h0M19.6 69.4h0M173.6 101.6h0M21.8 75.2h0M101.5 61.7h0M157.3 89.5h0M79.9 85.8h0M172.7 104.9h0M84 90.4h0M167.1 91.8h0M56.6 61.4h0M111.4 87.1h0M196.1 74.6h0M181.8 88.3h0M4.8 85h0M133.4 90.2h0M147.9 77.3h0M23.3 64.7h0M32.6 79.8h0M210.7 112.2h0M19.1 72.4h0M176.7 86h0M50.1 67.9h0M157.2 93.7h0M59.4 88.6h0M1.5 84.9h0M150.5 78.2h0M180.9 93.8h0M69 79.4h0M87.4 89h0M85.7 74.2h0M107 85.3h0M67.8 80.9h0M118.5 72.1h0M52.3 66.1h0M197.1 49h0M104.9 80.7h0M204.6 111.6h0M197.7 56.9h0M192.9 67.6h0M75.7 83.9h0M94.2 84.8h0M37.1 87.9h0M195.7 11.3h0M133.2 86.4h0M54 62.3h0M12.6 79.2h0M38.5 83.3h0M36 86h0M37.7 88.3h0M130 88.8h0M104.9 79h0M38.3 82.8h0M173.1 94.7h0M150.9 61.9h0M110.7 81.5h0M50.1 71.1h0M85 68.2h0M171.4 97.6h0M21 90.6h0M72.3 89.9h0M206.6 113.6h0M148.8 72.8h0M169 77.3h0M10.5 80h0M75.7 95.3h0M93.3 83.7h0M38.2 90h0M115.7 89.5h0M64.8 98.1h0M205.8 111.4h0M159.8 89.6h0M204.5 112.7h0M183.7 53.6h0M10.3 82.6h0M192 63.3h0M18.9 76.6h0M85.6 63.9h0M70 66.8h0M152.4 74.9h0M23.6 70h0M38.6 91.7h0M204.8 121.2h0M197.7 69.1h0M173 101h0M30.7 81h0M18.2 73.7h0M65.5 102.4h0M5.2 97.4h0M27.5 75.9h0M166.9 91.9h0M117.9 75.7h0M53.5 60.4h0M17.1 74.4h0M160.6 85.7h0M57 58.4h0M64 91.8h0M114.6 78.1h0M.5 88.4h0M50.9 64.4h0M212.6 109.4h0M17.3 82.6h0M124.1 82h0M127.2 77.2h0M177 103.1h0M180.6 98.7h0M95.1 83.3h0M33.1 65.9h0M202.8 89.9h0M162.7 92.5h0M185.5 49.1h0M113.6 73.4h0M164.5 60.7h0M112.3 81.2h0M158 93.6h0M80.5 88.7h0M19.9 71.8h0M177.3 84h0M189.3 81.3h0M59.8 94.5h0M62.2 92.5h0M114.6 75h0M17.6 70h0M115.8 77.8h0M79.3 97.3h0M35.1 83.4h0M212.4 112.7h0M17.4 80.6h0M189.8 90.7h0M56.2 79.1h0M113.1 74.1h0M205.3 93.4h0M14.6 82.4h0M76.8 86h0M108.8 77.1h0M10 79.4h0M87.8 92.7h0M146 78.7h0M14.6 75.8h0M97.7 92.1h0M91.9 91.1h0M90.3 90.4h0M94.5 96.9h0M180.1 94.7h0M126.8 76.5h0M121.2 94.5h0M185.7 90.1h0M196.6 38.4h0M126.5 69.6h0M176.9 99.8h0M60.9 89.4h0M38.4 95.8h0M61.7 82.9h0M85.5 67.5h0M173.8 85.8h0M179.5 89.2h0M106.2 77.6h0M128.7 72h0M142.9 81.2h0M69.9 71.4h0M70.7 70.6h0M114.1 75.7h0M170.8 90.1h0M126.8 71.9h0M94.3 85.8h0M79.5 91.5h0M111.4 77.6h0M39.4 88.8h0M15.3 74.2h0M127.4 74h0M199.2 65.3h0M78 80.2h0M195.6 10.9h0M178.6 91.6h0M186.8 86h0M84.2 64.4h0M203.5 89h0M101.9 52.4h0M23.3 72.4h0M177.8 88.3h0M95.8 92.4h0M160.4 92.2h0M195.3 46.4h0M117.4 82.4h0M46.7 63.1h0M125.8 75.7h0M68.9 73h0M28.5 71.4h0M185.7 85.4h0M102.6 67.9h0M173.8 93.8h0M169.8 84.8h0M204.3 80.4h0M85.8 68.3h0M26.8 80.5h0M203.6 86.1h0M138.7 88h0M147.2 70h0M90.5 93.4h0M102.2 63.6h0M33.1 70.2h0M109.4 79.1h0M109.8 67.9h0M9.2 89.9h0M51.7 77.2h0M26.6 77.1h0M57.6 68.4h0M23.5 67.6h0M26.7 88.4h0M21.4 75h0M14.4 78.9h0M79.8 88.4h0M158.4 98.1h0M40 84.7h0M165.2 94.9h0M192.2 70.2h0M145.3 75.4h0M126.7 79.7h0M208.6 101.1h0M52.1 64.3h0M164.3 66.2h0M82.7 95.5h0M89.8 87.8h0M34.9 72.5h0M4.1 95.3h0M167.7 85.5h0M128.2 74.6h0M146.6 72.5h0M162.3 81.5h0M115.9 67.7h0M122.7 73.3h0M181.2 88.7h0M38.2 88.2h0M100 53.3h0M1.7 89.1h0M167.9 90.1h0M79 88.2h0M184.5 66.7h0M95.7 93.3h0M192 75.3h0M28.3 74.2h0M4.2 89.2h0M86.3 73.5h0M28.5 79.9h0M210.9 114.6h0M143.7 79h0M78.2 87.6h0M18.9 71.2h0M146 66.6h0M141.9 73.7h0M89.9 92.1h0M95.9 93.2h0M166.1 94.5h0M125.9 80.1h0M108.8 79.5h0M159.4 91.1h0M71.1 74.5h0M53.8 69.9h0M49.3 71.7h0M49.7 75.5h0M146.2 65.1h0M70.2 66.3h0M154.3 76.5h0M129.4 88.8h0M206.6 110.6h0M105.7 81.7h0M33.3 74.1h0M144.8 75.5h0M54.3 68.4h0M167.6 88.8h0M59 89.2h0M100.9 47.6h0M42.6 97.4h0M56.6 70.2h0M54.3 65.7h0M102.2 58.5h0M17.5 70.8h0M147.6 71h0M72.3 68.9h0M54 55.2h0M121.2 90.3h0M153.2 74.7h0M206.3 114.6h0M43.5 97.1h0M88.9 86.9h0M22.5 80.3h0M68.2 75.5h0M47.9 71.3h0M72.7 88.7h0M82.6 86.9h0M130.8 85.3h0M90.6 86.6h0M209.9 115.6h0M49.2 70.7h0M134.7 87.9h0M70.3 72.9h0M23.4 81.7h0M120.4 75.7h0M89.4 97.1h0M39.4 87h0M70.4 68.4h0M211 116.2h0M41.7 83.7h0M37.4 92.3h0M207.2 111h0M4.3 86.3h0M2.6 87.2h0M79.8 87.5h0M139.1 81.7h0M65 88.5h0M6.2 95.3h0M140.3 81.2h0M17.4 78.7h0M152.5 78h0M68.5 64h0M113 83.1h0M205.2 68.6h0M6 77.9h0M127.1 86.1h0M147 78.4h0M168.3 89.4h0M178.9 82.8h0M95.4 89.5h0M115.4 82.7h0M47.4 73.5h0M19.5 73.9h0M77.3 89.9h0M18.7 73.8h0M128 72.9h0M92.4 92.6h0M155.5 86.2h0M80.2 88.9h0M201.9 73.5h0M144 76.1h0M59.1 89.1h0M72.2 94.1h0M171.5 94.8h0M49.1 68.5h0M195.4 3.8h0M170.4 86.3h0M203.1 74.9h0M94.7 90.3h0M130.4 102h0M111.3 77.2h0M110.8 79.8h0M113.7 72.3h0M207.3 111.3h0M206.9 105.5h0M82.4 97.4h0M210.7 119.1h0M27.7 69.7h0M127.4 76h0M196.5 60.4h0M121.5 80h0M168.8 89h0M21.7 73.7h0M68.5 71h0M10.8 86.7h0M40.8 84.7h0M204.1 94.2h0M10.6 84.4h0M85.1 65.1h0M45.1 77.1h0M6 93.4h0M167.5 86.9h0M159.5 89.4h0M129.9 90h0M119.6 72h0M209.6 112h0M182.6 63.9h0M101.4 59.9h0M36.1 89.6h0M14.4 89.6h0M108.4 75.7h0M198.7 58.9h0M131.7 83.7h0M130 84.7h0M10.3 91.5h0M184.5 62.8h0M8.6 94.2h0M42.9 85.5h0M183.5 56.8h0M93.8 87.1h0M166.4 81.9h0M6.4 85.3h0M84.9 72.8h0M185.6 90h0M18.9 83h0M120.2 75.4h0M209.7 118.1h0M18.1 78.2h0M21.5 89.3h0M38.1 82.7h0M43.3 77.8h0M77.9 82.5h0M158.8 93.7h0M117.8 78.4h0M135.8 99.3h0M23.7 77.2h0M87.3 92.5h0M90 81h0M54.5 61.4h0M118.6 79.3h0M34.6 70.2h0M146.4 76.1h0M100.9 59.8h0M156 78.7h0M98.9 61.6h0M185.1 64.9h0M35.2 70h0M27.6 79.1h0M125.3 72.9h0M164 92.8h0M102.9 58h0M160.6 75.6h0M27.4 81.8h0M67.9 67.4h0M172.2 94h0M207 108h0M39.1 80.8h0M52.2 64.7h0M38 84.3h0M71.6 89h0M60.7 89.3h0M147.3 81.4h0M49.3 78.4h0M7.1 75.9h0M62.1 87.8h0M93.3 93.6h0M175.4 100.3h0M137 82.9h0M150.5 81.4h0M184.2 74h0M119.3 83h0M143.1 65.9h0M60.7 81.8h0M116.4 72.4h0M210.8 109.4h0M184.8 60.8h0M64.8 95.5h0M152 66.8h0M2.8 80.9h0M43.2 74.1h0M209.8 120.1h0M127.7 69.9h0M117.4 79.1h0M69 63.3h0M54.1 66.8h0M198.1 66.5h0M201.5 71.6h0M75.9 80.4h0M20.9 69.1h0M105.9 83.7h0M202.1 64.9h0M26.4 75.7h0M11 94h0M173.8 92.2h0M103.9 81h0M197.3 61.5h0M54.2 63.7h0M51.4 74.1h0M150 81.7h0M41.8 82.3h0M60 91.9h0M205.2 114.6h0M191.7 63.3h0M189.9 93.1h0M73.8 89.1h0M200.5 65.5h0M128.8 73.6h0M63.5 93.6h0M54.2 54.1h0M107.3 84.7h0M162.1 86.8h0M189.6 86h0M50.2 77.2h0M63.4 93.6h0M172.1 91.2h0M28 73.8h0M59.6 94.3h0M44.9 64.4h0M142.5 71.8h0M64.4 89.4h0M159.2 88h0M20.4 65.1h0M209.8 111.5h0M122 83h0M17.9 75.2h0M56.5 82.1h0M29.6 70.8h0M32.4 73.3h0M142.3 71.8h0M155.4 87.4h0M206.8 111.4h0M140 95h0M60.3 99.5h0M199.2 59.7h0M25.2 79.9h0M55.3 57.7h0M21.4 81h0M39 88.2h0M142.4 83.5h0M150.5 76.6h0M185 65.5h0M32.7 82h0M40.6 95.1h0M71.9 89.1h0M114.1 66h0M186.5 88.9h0M202.3 72h0M108.1 73.2h0M140.2 86.2h0M69.5 73.8h0M140.7 76.6h0M93.3 88h0M187.2 100.5h0M150.4 80.1h0M132.2 84.2h0M14.7 73.6h0M164.3 89.8h0M135.7 82.3h0M22.2 77.7h0M48.2 70.1h0M159.3 84.9h0M84.9 75.1h0M40.6 80.3h0M98.9 57.7h0M155 97.7h0M82.3 94.3h0M207 118.6h0M111.2 79.9h0M145.1 74.1h0M161.1 92.1h0M198.5 69.6h0M123.4 74.5h0M166.4 88.7h0M89 90.1h0M179.6 98.3h0M187.6 90.7h0M68 60.4h0M181.7 97.6h0M58.2 80.4h0M186.6 92.5h0M142.9 63.5h0M166.7 84h0M36.5 77.6h0M51.3 59.2h0M130.3 95.2h0M21.9 71.7h0M26.4 73.8h0M144 75.4h0M105.9 79.8h0M29.8 84.2h0M125 72.5h0M42.3 79.3h0M166 85.6h0M208.7 105.4h0M210 107.3h0M112 69.9h0M146.7 72.9h0M163.1 83.3h0M15.1 77.7h0M132.2 76.4h0M116.4 76.1h0M144.7 87.5h0M194.7 39.3h0M77.7 86.8h0M153.8 74h0M45.1 72.4h0M199.1 66h0M133.7 91.7h0M98.7 65h0M32.8 74.9h0M206.4 114.8h0M140.7 87.6h0M4.2 91h0M111.7 78.2h0M186 91.9h0M190.2 91.3h0M23.3 74.6h0M57.8 67.6h0M66.6 95.8h0M72 90.6h0M173.7 93.1h0M107.4 76.6h0M203.5 91.9h0M39.9 86.1h0M208.4 104.2h0M189 87.3h0M113.2 76.2h0M80.8 82.7h0M164.6 77.2h0M160.8 86.9h0M103.1 84.9h0M75.1 90.7h0M60 79.2h0M74.8 86.2h0M140.6 77h0M156 86.7h0M10.4 76.8h0M164.6 86.5h0M102.2 68h0M80.6 101.4h0M107.7 74.6h0M110.6 73.7h0M65.8 88.9h0M56.2 58.4h0M38.1 85.7h0M174.6 89.2h0M86.9 119.8h0M137.8 83.4h0M167.5 87h0M122.8 79.5h0M44.8 69.6h0M13.8 70.6h0M121.8 72.8h0M180.2 91.3h0M72.9 83.8h0M87.4 89.6h0M85.3 68.9h0M162.3 90.5h0M178.5 95.3h0M82.3 80.4h0M192.4 39.5h0M86.4 65.1h0M83.6 105.7h0M54.8 54.6h0M76 93.7h0M166.4 87.2h0M168.6 93h0M194.6 32.1h0M49.5 71.3h0M32.9 81.8h0M196.5 68.8h0M175.3 87h0M55.6 56h0M194.6 43h0M39.2 91.4h0M200 70.6h0M174.3 101.5h0M55.2 54h0M135.7 95.9h0M22.6 89.1h0M23.2 77.4h0M120.4 74.6h0M114 67.9h0M6.1 83.4h0M199.2 56.6h0M210 110.3h0M42.4 83.8h0M111.8 75.5h0M201.3 72.6h0M162.6 93.5h0M147.2 79.6h0M185.9 88.2h0M29.5 76.5h0M45.6 71.1h0M180.6 92.2h0M61.3 94.4h0M7.4 82.4h0M69.1 64.1h0M167.4 81.8h0M34.7 69.8h0M145.2 66.5h0M191.9 62.7h0M124.2 66.7h0M134.5 87.2h0M42.8 85.7h0M72.6 89.3h0M102.2 50.4h0M6.8 85.2h0M158.4 95.7h0M100.1 64.6h0M171.2 81h0M23.8 86.6h0M90.2 87.8h0M175.7 90.1h0M200.2 69.2h0M84.8 73.1h0M115.8 90.2h0M29.2 76.4h0M162.2 84.9h0M32.6 78.9h0M152 63.1h0M151 110.1h0M84.2 70h0M28.6 77.5h0M117 71.5h0M140 95.8h0M13.2 82h0M151.7 62.2h0M33 74.8h0M94.4 97.6h0M167.3 89.7h0M178.5 94.7h0M20.9 72.9h0M78.4 91h0M196.6 65.9h0M107.1 74.8h0M50.6 73.1h0M128 79.2h0M90.3 88.9h0M44.8 74.6h0M138 90.2h0M142.7 58.8h0M1.2 86.6h0M112.2 70.6h0M114.1 77.1h0M2.9 89h0M77.7 80.5h0M188.8 93.8h0M43.1 84.3h0M58.7 90.2h0M103.2 81.3h0M206.3 102.8h0M104.5 74.6h0M85.7 69.6h0M16.5 79.2h0M153.5 69.1h0M8.6 87.7h0M17 82.8h0M42.4 89.8h0M212.6 125.9h0M13.4 77.7h0M157.3 90.6h0M7.1 82.6h0M87.2 61.1h0M104 83.4h0M163.5 85.8h0M16.4 77h0M4.6 79.1h0M1.2 96.1h0M20.9 73.8h0M89.5 85.5h0M48.5 73h0M87 84.2h0M138.8 87.1h0M177.2 84.4h0M48.2 73.4h0M23.3 83.5h0M190 107.4h0M4.9 89h0M30.6 71.7h0M147.9 80.5h0M103.8 74.3h0M191.5 61.3h0M30.2 83.4h0M34.7 80.7h0M167.7 86.5h0M179.2 89.1h0M109.4 80.9h0M30.6 71.5h0M74.5 95.5h0M47.6 77.5h0M126.8 80.4h0M206.7 104.1h0M91.1 91.3h0M133.8 94.8h0M211 113.9h0M58.4 79.3h0M150.3 80.3h0M17.4 78.8h0M79.1 86.2h0M75.2 89.2h0M25.4 72.6h0M189.3 85.9h0M117.1 78.8h0M114.2 71.9h0M39.6 87.8h0M120.8 78.3h0M30.2 81.6h0M33.9 70.8h0M56.9 71.3h0M21.5 74.7h0M75.5 86.6h0M193.2 65.5h0M205.4 92h0M199.2 63h0M188.3 96h0M2.2 93.9h0M36.6 84.6h0M181.8 63.1h0M118.4 79h0M85.3 66.8h0M115.9 76.5h0M134.3 79.5h0M92.4 82.3h0M199.8 67.3h0M130 85.8h0M152.1 83.1h0M4.7 95.2h0M150.7 66.8h0M143 78.3h0M12.5 80.2h0M30.1 74h0M28.6 72.1h0M65 90.7h0M61.6 90.3h0M188 82.1h0M47.6 73.7h0M174.5 96h0M68.9 69h0M11.6 88.7h0M48.1 66h0M51 81.1h0M170.8 84.3h0M141.6 75.1h0M.9 84.5h0M153.8 66.8h0M136.7 90.3h0M46.4 60.4h0M3.8 87.1h0M86.6 86h0M180.7 103.8h0M150.6 77.1h0M94.8 86.2h0M149.1 77.3h0M185.2 61.6h0M90.6 81.7h0M108 79.7h0M45.5 86h0M138.6 84.6h0M169.6 86.4h0M72.4 85h0M132.9 83.9h0M8.8 92.9h0M196.5 28.7h0M124.6 75.4h0M163.6 90h0M27.3 76.7h0M134.5 89.5h0M184.3 58.7h0M212.6 109.6h0M148.3 74.6h0M162.3 98.3h0M156.7 95.2h0M212.9 108.6h0M116.9 69.5h0M136.7 85.2h0M141.7 69.1h0M62.2 95.6h0M77.8 92h0M50.6 67.4h0M137.8 86.3h0M121.2 81.6h0M189.4 95.6h0M1.6 89h0M43.1 85.6h0M23.2 77.5h0M157.8 94.1h0M202.5 81.2h0M20.3 76.7h0M76.9 86.3h0M52.1 66.4h0M180.5 92.7h0M61.6 94.8h0M154 73.7h0M135.3 87.1h0M44.3 81.8h0M76.1 83.2h0M123.2 69.6h0M187.3 100.8h0M159.8 91.5h0M99.2 55.2h0M195.5 42.4h0M53.4 67.7h0M37.4 84.1h0M85.4 69.8h0M27.9 87.6h0M64.6 92.7h0M35.9 84.1h0M84.7 68.7h0M1.8 82.8h0M127.8 72h0M70.3 63.8h0M155.7 114.4h0M118.9 80.1h0M212.7 113.2h0M68 76h0M50.2 64h0M48.2 79.1h0M61.9 90.8h0M109 75.5h0M157 81.4h0M152.9 58.1h0M56.6 86.7h0M118.8 83.2h0M182.3 52.7h0M146.8 70.7h0M28.2 76.7h0M129.6 93.1h0M203.5 75.3h0M195.3 40.5h0M210.6 121.6h0M190.6 96.1h0M10.2 84.6h0M151.4 106.6h0M178.4 91.8h0M174.1 96.2h0M202.9 98.2h0M1.5 92.7h0M126.1 73.1h0M81.3 72.2h0M111.1 89h0M139.2 92.1h0M136.9 95.5h0M142.3 76.3h0M8.4 88h0M181.7 79.2h0M193.6 63h0M188.6 96.1h0M79.1 80.6h0M190.6 62.1h0M40.2 75.5h0M94.4 84.5h0M210.8 114.6h0M198.8 66.1h0M105.8 78h0M24.4 77.6h0M58.9 93.3h0M186.4 93.3h0M182.1 99.3h0M178.7 90.3h0M198.4 61.9h0M197.8 64h0M141 70.9h0M8.3 82.5h0M209.9 106.3h0M186.3 94.5h0M26.9 77.7h0M198.6 69.6h0M85.5 67.8h0M184.9 65.2h0M70.7 76.2h0M65.3 89.6h0M86.5 65.1h0M135.9 87.3h0M15.5 81.4h0M44.6 92.5h0M157.1 125.7h0M17.3 76.9h0M141.3 74.1h0M163.9 84.6h0M186.9 94h0M210.8 115.5h0M97.2 96.1h0M202.5 120h0M87.8 91h0M158.5 87.5h0M10.6 80h0M40.2 86.6h0M129 82.4h0M106.5 69.9h0M205 122.7h0M195.9 21.1h0M138.1 86.5h0M32.5 70.4h0M174 86.7h0M90.5 85h0M28.1 79h0M54.7 55.7h0M41.5 86.8h0M64 87.4h0M188.2 86h0M45 89.4h0M159.8 89h0M44.4 66.4h0M3.9 91h0M7.4 93h0M55.1 58.4h0M78.6 88.1h0M169 85.8h0M130.9 89.4h0M143.3 72.9h0M158.9 98.1h0M114.3 77.8h0M6 88.8h0M50.5 68.4h0M165.8 93.4h0M50.9 78.1h0M60 93.8h0M70.2 77.4h0M160.5 81h0M14.5 83.2h0M69.1 77.7h0M103.2 71.2h0M91 87.9h0M180.7 99.4h0M66 96.9h0M148 82.9h0M142.8 60.3h0M172.8 99.9h0M209 114.1h0M16.3 77.9h0M20.4 84.2h0M128.8 82.8h0M94.7 82.7h0M61.2 98.9h0M81.2 85.6h0M151.7 71.1h0M82.4 94.6h0M41.8 90.8h0M33 72.4h0M16 78.5h0M125.2 82.5h0M209.1 112h0M28.4 78.5h0M78.3 97.1h0M144.3 76.4h0M148 69.3h0M201.5 66.7h0"/>
<path stroke="#4a4a4a" stroke-opacity=".52" stroke-width="1.05" d="M150.1 63.6h0M23.6 83.4h0M56.9 52h0M108 97.9h0M35.9 96.1h0M59.7 117.1h0M95.3 73.3h0M37.4 88.8h0M24.8 94.7h0M94.8 120.1h0M92.5 96.8h0M77.1 97.9h0M13.4 49.6h0M193.7 84.7h0M96.2 90h0M195.5 49h0M67.7 74.6h0M36.9 91.6h0M149.7 87.8h0M105.1 68.9h0M185.8 86.8h0M68.4 110.3h0M45 85.4h0M61.6 84.2h0M189.5 99.8h0M194.5 61h0M52.5 85.4h0M92 73.8h0M175.6 105.5h0M212.4 124.1h0M86.8 57.8h0M176.1 86.5h0M146.4 91h0M134.7 75.3h0M4.1 116.8h0M70.4 85h0M116.3 76.4h0M130 79.2h0M212.2 103.7h0M40.7 89.8h0M191.2 58.4h0M92.7 101.7h0M157.2 95.5h0M15.3 79.1h0M83 84.5h0M178.8 93h0M193 79.9h0M122 71.4h0M136.9 86.2h0M140.3 86.9h0M204 115.5h0M127.3 73.6h0M132 79.3h0M123.4 76.8h0M75 125.2h0M154.6 84.5h0M150.4 99.9h0M180.7 136.1h0M180.4 110h0M84.1 67.1h0M128.3 104.9h0M45.1 66.9h0M196.9 51.8h0M192.1 65.5h0M99 42.3h0M190.9 70.5h0M85.5 74.8h0M27.5 70.2h0M136.4 100.5h0M193 71.8h0M46.7 62.5h0M21.4 87.7h0M128.1 86.4h0M53.5 71.2h0M113 44.9h0M45.7 60.7h0M200.7 83.5h0M87.4 56.7h0M2 114.2h0M212.1 119.6h0M77 99.1h0M120 67.5h0M177.6 84.5h0M87.9 103.7h0M42.5 95h0M42.9 79.3h0M80.5 95.8h0M6.5 78.1h0M51.8 44.8h0M131.5 127.1h0M139.1 81.7h0M24.2 76.9h0M102 36.9h0M72.7 83.1h0M56.2 60.2h0M100.8 76h0M207.4 112.4h0M48 72.6h0M203.2 98.4h0M118.3 89.7h0M157.8 98.1h0M55.2 49h0M41.2 83.6h0M121.2 114.6h0M119 84.7h0M86.1 69.9h0M44.8 91.3h0M64.2 104.5h0M149.8 73h0M130.2 81.5h0M140.9 74.6h0M53.1 44h0M94.2 93h0M198.3 78.4h0M23 69.4h0M23.9 55.4h0M127.9 86.1h0M91.5 99.4h0M197.2 46.4h0M15.4 73.8h0M104.2 94h0M148.6 81.6h0M151.1 76.4h0M78.7 106.7h0M2.5 102.3h0M49.9 91.1h0M34.4 71.2h0M62.8 97.7h0M141 89.6h0M90.2 125.2h0M41.3 98.2h0M95.9 108.8h0M86.9 80.1h0M34 57h0M186.2 81.7h0M155.2 107.8h0M207.4 105.5h0M29.8 72h0M175.6 119.5h0M95.4 90.5h0M27.4 78.7h0M61.7 87.2h0M77.3 93.7h0M139.5 76.8h0M73.2 89h0M202.6 85.9h0M202.6 83.1h0M172.3 114.2h0M173.9 98.2h0M89.3 103.4h0M113.1 81.9h0M133.3 80.5h0M175.6 116h0M124.7 79.6h0M211 98.5h0M85.8 76.7h0M205.5 118.5h0M73.9 70.7h0M128 89.3h0M168.1 90.3h0M52.5 66.6h0M160.8 76.2h0M182.1 101h0M150.1 78.6h0M136.8 84.9h0M209.7 126.5h0M188.6 95.4h0M112.7 88.4h0M27.3 70.4h0M144.2 81.1h0M140 106.7h0M23.5 88.9h0M129.1 69.6h0M168.9 102.3h0M59.1 90h0M166.1 84.5h0M144.1 57.6h0M159 84.7h0M163.3 97.2h0M107.6 68h0M47.5 60.3h0M4.3 83h0M27.9 79.8h0M49.2 82.1h0M5.3 81.2h0M50.5 94h0M36.5 112.4h0M196.4 40.4h0M12.4 47.3h0M46 78.8h0M161.2 75.2h0M82.4 101.3h0M183.1 83.4h0M155.6 93.1h0M103.8 92.6h0M212.3 107.5h0M23.3 54.4h0M161.4 77h0M72 94.5h0M17.6 55.7h0M62.3 93.3h0M210.5 127.7h0M200.6 67.2h0M99.1 43.5h0M137.8 128.4h0M119.2 80.4h0M203.6 84.6h0M92.3 84.8h0M51.4 71.8h0M124 65.8h0M148.4 94.3h0M22.3 70.8h0M112.4 96h0M63.6 89.6h0M86 92.1h0M49.9 79.8h0M164.8 99.4h0M165.2 73.7h0M.5 85.8h0M49.2 68.5h0M40.8 73.6h0M21.5 93.4h0M27.2 71.5h0M51.3 70.6h0M195.6 35h0M125.9 84.8h0M200.9 73.8h0M135.9 90.9h0M202.4 88h0M41.3 80.2h0M103.8 64.4h0M137.4 81.4h0M123.5 72.8h0M21.2 73.1h0M90.2 117.6h0M95.6 81.2h0M8 88.8h0M151.6 75.4h0M9.1 83h0M203 82.9h0M11.2 105.9h0M28.3 66.7h0M41.7 69.7h0M69.1 76.8h0M115.9 83.7h0M81.3 66h0M62 81.7h0M73.4 96.5h0M37.2 75.5h0M187.4 86.5h0M190.9 68.5h0M125.8 91.6h0M29.2 76.7h0M89 84.5h0M23.1 82.5h0M18.9 98.3h0M7.6 92.3h0M178.7 105.4h0M26.6 98.2h0M191.5 70h0M117.3 97.2h0M28.7 78.2h0M33.4 101.1h0M200 49.2h0M69.1 61.3h0M125.9 65.3h0M63.7 115.9h0M24.1 69.3h0M134.7 92.3h0M175.6 88.8h0M112.7 95.6h0M14.3 63.9h0M70.9 84.9h0M195.8 41.1h0M61.8 110.5h0M211.4 122.4h0M55.6 57.8h0M49.8 68.7h0M41.6 97.2h0M61.8 105.7h0M203 134.3h0M53.5 67.7h0M188.1 80.2h0M114.6 83.7h0M1.4 73h0M120.9 73.7h0M131.4 78.1h0M195.7 15.1h0M120.4 79.6h0M37.5 93.6h0M155.1 98.7h0M98.8 45.2h0M45.9 90.5h0M74.3 91h0M60.1 102.2h0M121.6 87.2h0M178.2 108.1h0M21.4 68.7h0M185.1 48.6h0M125.2 82.2h0M200.5 73.2h0M88.2 93.4h0M102.9 70h0M130.1 84.3h0M73.7 94.5h0M208 139.9h0M33.5 88h0M159.3 99.6h0M8.3 71.2h0M13.9 60.3h0M68 109.4h0M179.9 75.7h0M125.9 57.9h0M143.1 82.6h0M54.2 64.9h0M79 77.7h0M20.6 103.3h0M104.2 89.5h0M120.7 95h0M120.8 115.5h0M115.7 68.6h0M163 80.1h0M156.3 97.9h0M118.3 82.2h0M125.1 64.9h0M191.1 74.6h0M141.6 61.3h0M91.8 97.6h0M174.8 91.1h0M53.1 78.1h0M188.3 102.6h0M207.8 128.1h0M162.3 65.6h0M73.9 104h0M200.4 53.9h0M103.3 77.1h0M106.1 86.2h0M186.5 94.1h0M157.7 75h0M73.5 93.9h0M201.2 72.4h0M35.6 86.4h0M82 99.3h0M211.4 115.2h0M102.8 53h0M30 90.1h0M166.5 85.6h0M8.4 95.2h0M150.6 95.4h0M126.2 74.2h0M139 110.6h0M139.7 92.5h0M160.2 93.2h0M152 103.4h0M79.5 88.9h0M210.6 106.8h0M170.3 78.9h0M134.2 70.9h0M92.2 100.8h0M119.4 86.4h0M153.9 92.7h0M181.3 104.6h0M132.8 85.9h0M143.2 62.3h0M177.5 106.9h0M174.4 81.9h0M100.5 67.1h0M108.7 73.2h0M164.6 102.8h0M58.3 75.6h0M38.4 88.3h0M78.1 85.9h0M135.6 91.5h0M44.6 85.7h0M121.7 85.9h0M163.7 76.8h0M210.8 122h0M20.5 88.6h0M59.7 87.9h0M168.2 62.9h0M58.2 79.1h0M2.7 93h0M199.5 60h0M11.9 87.7h0M72.1 88.9h0M165.1 87h0M140.4 70h0M80.4 111.3h0M173.2 97.7h0M98.4 88.1h0M153.2 71.4h0M208.4 115.8h0M69.9 74.3h0M134.5 68.4h0M180.7 101.8h0M192.8 81.4h0M73.7 67.9h0M21.5 70.3h0M178.3 117.2h0M28.6 89.1h0M60 91.5h0M134.6 94.4h0M152.9 74.4h0M155 84.4h0M190.3 119.2h0M21 72h0M165.9 83.8h0M73.7 109.7h0M209.2 101h0M88.4 93.4h0M123.8 71.9h0M164.8 105.7h0M145.6 97.7h0M80 73.5h0M35 95h0M96.1 82.8h0M138.5 74.7h0M114.2 89.3h0M126.4 69.3h0M49.3 74.7h0M59 86.4h0M165.9 57.5h0M91 111.3h0M14.9 73.4h0M195.6 54.1h0M193.2 26.3h0M65.5 83.7h0M66 86.9h0M166.3 59.7h0M206.8 107.5h0M149.1 68.2h0M61 99.5h0M181 85.7h0M46.9 60.3h0M5.9 88.5h0M12.2 84h0M71.5 100.8h0M136 68.3h0M90.7 106.3h0M179.7 104h0M13.7 95h0M112.7 92h0M194.7 79.3h0M89.1 91.5h0M115.9 60.7h0M142.7 82.7h0M77.6 86.2h0M55.9 72.3h0M125.2 65h0M198.3 59h0M58.4 104.5h0M54.6 56.4h0M85.6 53.3h0M112.7 93.8h0M132.2 100h0M141.1 79.9h0M6.8 70.4h0M157.5 121.4h0M179.1 91.8h0M184.7 29.1h0M10.3 82.3h0M124.9 91.9h0M2.7 83.1h0M97.3 133.8h0M211.6 129.6h0M143 66.4h0M122.6 73.8h0M132.5 113h0M80.1 79.8h0M115.7 72.4h0M36.3 100.8h0M9.2 84.4h0M84.4 71h0M160.3 60h0M22 79.8h0M175.7 114.7h0M129.9 80.5h0M102.4 71.9h0M186.4 107.4h0M114.5 86.2h0M162 85.4h0M77.5 92.5h0M171 73.8h0M181.5 110.5h0M188.6 73.7h0M44.7 60.5h0M5.1 90.8h0M209.4 123.8h0M61 78.7h0M7.4 79.5h0M2.4 70.4h0M41.2 98.9h0M169.8 86.3h0M61.5 94.2h0M42.9 94.4h0M90.7 96.7h0M118.6 78.9h0M92.4 110.6h0M14.3 99.9h0M87.3 121.7h0M167.3 70h0M169 114.3h0M28.4 72.7h0M55.2 62.7h0M129.9 69.3h0M85.9 68.2h0M117.3 79.1h0M87.9 110.7h0M33.8 92.8h0M87.7 86.3h0M13.1 84h0M24.9 75.7h0M115.2 80h0M33 86.6h0M169.9 90.4h0M15.5 93.2h0M108.7 73.7h0M195.9 14.8h0M197.2 56.5h0M201.7 70.9h0M113.1 82.4h0M59.2 84.5h0M187.7 110.4h0M28.5 89.4h0M169.5 82.9h0M124.7 57.9h0M161.8 85h0M77.5 82.1h0M116.3 94.7h0M162.2 89.6h0M122.1 68h0M37.8 96.9h0M189.6 89.2h0M162 95h0M90.8 109.3h0M181.8 71.7h0M52.2 88.6h0M211.1 111.4h0M173 103h0M168.7 80.5h0M197.1 68.5h0M80.5 73.4h0M8.8 94h0M18.8 106.5h0M193.5 69.7h0M176.8 98.9h0M202.9 106.5h0M82.3 109.2h0M76.2 131.6h0M198.8 43.1h0M208.5 104.9h0M176.3 60.9h0M42.9 105.4h0M126.5 66.7h0M80.2 96.3h0M8.8 85.1h0M101.1 56.1h0M102.6 69.1h0M13.8 112.3h0M195.2 49h0M99.3 60.8h0M116.2 65.7h0M20.9 49.9h0M176.8 99.3h0M88.6 81.5h0M44.2 93.8h0M95.1 111h0M32.2 97.9h0M185.3 88.8h0M129.8 91.7h0M124 99.6h0M168 65.7h0M132.9 75.4h0M124.8 70.5h0M38.2 100.7h0M50.3 72.9h0M183 38h0M27.3 73.9h0M73.9 73.1h0M201.2 66.4h0M198.1 72h0M144.2 89.6h0M205.2 96h0M102 68.8h0M131 79.7h0M180.3 75h0M72.2 59h0M181.6 63.7h0M35.8 106.3h0M33.7 86.6h0M33.7 75.6h0M46 71.9h0M95.1 100.9h0M138.9 91.6h0M7.5 79.9h0M46.4 70.9h0M205.8 125.3h0M110.4 75h0M203 108.9h0M41.3 111.1h0M185.2 91.8h0M78.5 97.7h0M108.5 73h0M160.8 70.7h0M175.2 112h0M88.7 102.1h0M189.3 94.1h0M104.5 77h0M151.3 74.4h0M195.3 77.4h0M81.1 87.7h0M175.2 120h0M85.7 71.2h0M77.5 91.5h0M13.7 84.1h0M71.9 78.2h0M85.4 56.3h0M167.6 89.9h0M23.7 87.7h0M146.2 45.7h0M117.4 45.4h0M53.8 74.8h0M116.4 59.2h0M153.3 82.4h0M53.5 43.6h0M115 65.3h0M193.2 65.5h0M120.4 95.1h0M196 15.7h0M38.2 79.6h0M64.6 106.5h0M32.6 68h0M114.2 61.9h0M210.8 107.1h0M19.3 91.4h0M175 121.9h0M154.7 141.4h0M198.7 59.7h0M110.4 91.1h0M124.8 87h0M202 75.7h0M69.7 81.4h0M201.2 54.8h0M112.6 79.7h0M166.6 102.9h0M175.8 77.6h0M187 94.5h0M109.4 82.9h0M60.6 100.2h0M37.3 90.5h0M6.9 93.4h0M43.5 71.8h0M81.1 94.8h0M197.3 68.7h0M151 73.3h0M194.6 26.2h0M81.6 79.8h0M207.8 123.6h0M58.3 88.8h0M211.8 120.7h0M116.4 103.5h0M160.5 86.4h0M174.8 89h0M71.3 88h0M108.4 66.2h0M188 101h0M1.4 93.1h0M32.1 87.5h0M107.1 77.5h0M145.9 93.8h0M186.4 94.4h0M83.6 60.9h0M198.9 60.1h0M23.6 73.7h0M141.8 78.5h0M51.4 47h0M23.4 89.2h0M36.8 107.7h0M36.5 79.5h0M100.7 70.8h0M57.1 77.8h0M210.3 104.4h0M150.8 67.3h0M188.6 120.4h0M171.7 133h0M132.5 71.7h0M52.1 79h0M181.9 99.4h0M53.8 75.6h0M110.3 70.8h0M161.1 91.2h0M62.1 108h0M66.1 73.2h0M106.3 80.7h0M198.1 58.9h0M38.9 91.2h0M199.7 92.4h0M145.7 90.3h0M130 93.6h0M210.1 118.1h0M71.2 60.8h0M143.7 105.6h0M162.8 96.2h0M103.6 61.4h0M28.6 56.1h0M34.9 98.6h0M195.5 26.2h0M54.1 60.6h0M185.4 84.4h0M210.7 111.4h0M152.4 59h0M68.3 84.3h0M156.8 87.1h0M71.3 52.7h0M155.4 65.2h0M152.6 69.5h0M86.9 123.7h0M21.5 68.7h0M210.7 102.8h0M138.8 85.3h0M85.8 94.1h0M196.5 60.6h0M25.2 58h0M25.1 73.4h0M57.4 89.5h0M138 89.5h0M115.9 72.1h0M163.2 90.3h0M97.7 90.1h0M133.7 121h0M168.6 83.3h0M75.8 88h0M81 107.2h0M23 76.5h0M47.2 93.1h0M129.1 91.5h0M183.8 54.2h0M92.2 89.5h0M117.3 92.9h0M142.1 48.5h0M161.2 98.8h0M33.5 95.4h0M96.8 107.1h0M207.8 99.8h0M71.1 102h0M183.6 92.7h0M8.8 99.2h0M161.1 89.9h0M108.4 54.3h0M141.1 61.1h0M106 95.1h0M82 77.8h0M172.6 83.1h0M103.7 95h0M67.5 81.3h0M186.4 101.4h0M60.9 91.1h0M40.6 73.7h0M107.5 83.6h0M126.7 73.7h0M7.8 81.1h0M167.3 101.8h0M148.8 64.4h0M131.5 67.9h0M133.3 86.3h0M87.2 76.6h0M65.6 88.4h0M104.8 73.6h0M143.1 56.8h0M84.8 83.6h0M196.6 66.7h0M32.7 97.1h0M64.3 136.1h0M206.6 121.1h0M97 96.2h0M14.2 90.7h0M208 101.9h0M72.9 92.4h0M57.8 37.1h0M165.7 80.6h0M7.1 103.5h0M91.2 83.2h0M197.2 58.7h0M170.4 89.8h0M73.3 113.3h0M194.6 8h0M184.5 67.9h0M58.1 93.8h0M196.4 57.3h0M20.6 70.8h0M98.8 55.9h0M67.4 78.7h0M71.8 92.3h0M161.8 69.7h0M71.4 96.1h0M194.9 48.5h0M62.3 63.2h0M133.1 66.4h0M127.4 77.4h0M47.4 58.3h0M24.6 88.1h0M187.8 114.1h0M53 48.4h0M211 103.5h0M6.3 74h0M112.6 88h0M69.7 50.8h0M73.5 94.3h0M101.1 78.3h0M160.7 77.5h0M192.9 47.8h0M7.2 108.5h0M3.3 95h0M101.6 75.6h0M197.8 79.8h0M101 37.7h0M135.4 95.7h0M96.5 110.1h0M113.4 68.8h0M58.8 114.2h0M42.8 106.7h0M61.2 105.3h0M30.7 80.9h0M185.5 73.2h0M52.6 84.6h0M137.6 63.9h0M9.6 107.9h0M158.7 92.2h0M136.9 101.9h0M111.4 92h0M58.9 106.7h0M181.4 52.1h0M72.9 112.2h0M59 83.4h0M145.6 73.3h0M116.6 82.9h0M181.3 80h0M2.9 92.4h0M126.8 125.1h0M127.3 81.7h0M212.7 93.8h0M204.4 84.3h0M209.6 131.6h0M116.9 70.1h0M27.9 66.3h0M65.3 92.6h0M187.7 72.3h0M59.8 110.8h0M3.8 105.9h0M130.1 80h0M24.7 93.6h0M189.8 120.7h0M130.3 84.6h0M135.7 113.6h0M89.5 95.6h0M166.2 93.9h0M78.4 80.5h0M131.2 100.8h0M159.4 98.2h0M17.6 80.4h0M153.7 80.5h0M46.3 76.3h0M93 75.9h0M188.1 99.8h0M25.4 71.1h0M78.4 73.1h0M17 112.9h0M102.8 41.5h0M87.9 131.2h0M192.9 26.3h0M1.7 73.7h0M91.2 75.7h0M190.7 80.2h0M37.8 113.1h0M70 74.4h0M146.9 75.6h0M153.7 91.7h0M136.6 78.8h0M176.5 117.4h0M175.4 92.8h0M207.2 137.9h0M200.8 93.6h0M170.6 72.8h0M120.5 81.7h0M200.2 49h0M24.6 94.8h0M150.8 86.3h0M195.6 42.5h0M73.4 101h0M81.6 101.5h0M157.1 103.3h0M2.7 115.7h0M162.3 106.3h0M204 95h0M135 107.7h0M10.6 90.1h0M117.3 89.1h0M175 96.1h0M113.9 76.9h0M201.7 71.7h0M138.7 105.1h0M176.4 101.7h0M185.4 44.3h0M67 82.6h0M206.5 122.2h0M4.1 100.2h0M97.3 99.7h0M135.2 98.9h0M201.4 87.6h0M119.1 93.7h0M98.3 52.3h0M54.7 30.5h0M63 117h0M15.9 81.2h0M175.1 95.7h0M192.8 64.5h0M83 96.9h0M140.7 73.2h0M169.2 76h0M17.1 78.3h0M54.7 53.9h0M108.4 63.4h0M55.1 69.6h0M100.7 59.7h0M184.3 65.5h0M180.6 85.6h0M154.9 69.9h0M131.4 96.4h0M28.5 89.9h0M37.7 91.1h0M109.1 98.5h0M137.4 95h0M50.3 73.7h0M147.7 73.3h0M122.8 90.4h0M148 74h0M139.7 111.1h0M183.2 62.9h0M132.5 88.5h0M169.2 119.5h0M147.3 65h0M152.2 58.5h0M122 88.8h0M115.3 93.6h0M166.2 101.2h0M110 96.4h0M23.1 105.4h0M55.8 32h0M183.4 65.8h0M16.1 78.5h0M143.8 92.6h0M5.3 96.3h0M127.1 94.1h0M159.1 111.2h0M46.1 81h0M22.3 83h0M132.6 88.8h0M96.2 98.4h0M30.1 101.5h0M191.5 81.4h0M121.3 84.7h0M188.5 113.2h0M196.7 75.2h0M105.7 86.5h0M127.5 62.4h0M210.7 130.7h0M171.1 88.4h0M123.7 73.6h0M34.3 54.7h0M189.8 68.8h0M1.9 81.8h0M134 87.8h0M109 75.8h0M134.9 87.2h0M156.3 86.7h0M115.2 84h0M185.7 103.9h0M204.7 119.5h0M200.4 65.9h0M96.7 61.3h0M192.3 39.4h0M204.2 79.4h0M95 76.2h0M58.8 105.7h0M6.9 85.1h0M144.7 76.7h0M38 82.2h0M50.6 86.1h0M16.9 82.4h0M187.6 74h0M34.4 66.4h0M20.9 92.5h0M26.9 58.3h0M57.5 68.6h0M89.6 95.9h0M110.9 72.1h0M183 65.9h0M122.2 56.6h0M155.2 76.1h0M206.8 109.8h0M109.8 67.2h0M159.3 87.3h0M29.5 52.5h0M104.8 53.5h0M196.4 22.6h0M144.1 81.8h0M35.8 78.1h0M135.1 69.2h0M187.4 110.4h0M105.1 91.4h0M76 92.7h0M121.3 93h0M158.9 85.1h0M5.5 80.9h0M178.4 100.8h0M110.5 103.6h0M198.3 89.7h0M142.2 57.6h0M35.1 78.4h0M142 69.4h0M183.9 67.5h0M6.7 97.5h0M105.1 50.9h0M152.8 77.7h0M150.1 50.7h0M142.1 82.5h0M84.6 69.5h0M26.3 87.2h0M104.7 68.8h0M121.5 66.5h0M176.6 124.1h0M212.1 102.5h0M160.2 88.6h0M148.7 88.2h0M60.3 94.4h0M125.4 68.7h0M36.7 87.4h0M3.6 93.4h0M203.5 89.5h0M116.4 71.3h0M147.8 96.3h0M90.9 93h0M146.4 86h0M89.6 95.8h0M115.7 76.4h0M81.7 118.6h0M160 118.4h0M163.4 69.1h0M100.9 67.9h0M76.1 74.3h0M184.7 38.5h0M54.2 67.3h0M59.8 74.9h0M10.6 94.5h0M159.3 102.2h0M57.8 80.2h0M162.2 91.3h0M153 69.5h0M143.3 70.1h0M90.7 111.2h0M119.5 69.9h0M185.1 65.9h0M69 88h0M199.7 111.1h0M186.2 98.4h0M12.9 99.2h0M181.2 93.6h0M33.7 91.2h0M119.7 94.3h0M182.4 67.5h0M25 77.2h0M155.3 84.1h0M171.4 108.5h0M134.7 92h0M18.3 104.2h0M158.2 87.2h0M32.1 55.3h0M140 100.6h0M139.3 87.1h0M88.4 96.9h0M151.6 99.8h0M129.9 105.7h0M134.9 85h0M145.6 95.2h0M162.6 105.5h0M172.5 86h0M139.7 82.2h0M185.7 93.5h0M22.2 71.4h0M21.5 101.2h0M41.3 99.6h0M163.8 90.7h0M84.8 56.5h0M197 76.3h0M124.3 67.5h0M48 76.6h0M28.2 83.5h0M188 110.8h0M46.8 65.6h0M35.1 74.3h0M112.5 106.3h0M78 101.9h0M209.1 109.7h0M9.7 88.2h0M80 87.7h0M156.1 84.4h0M97.6 78.5h0M27 82.8h0M1.3 84.1h0M109.3 73.8h0M124.8 68.1h0M46.7 81h0M202.8 85h0M53 60.4h0M81.7 94.1h0M197.5 57h0M186.5 90.8h0M41.2 73.1h0M46.3 85.3h0M198.9 69.4h0M55.4 74.5h0M77.8 88.2h0M181.2 102.6h0M82.5 90.3h0M44 90.8h0M99 59.9h0M197.8 42.1h0M210.5 101.8h0M103.5 41.1h0M173 90.3h0M48.6 68.4h0M187.7 77.6h0M92 85.9h0M118.8 77.5h0M132.4 101.9h0M86.1 74.1h0M.7 89.1h0M64.3 107.7h0M196.8 72.7h0M121.7 102.8h0M194.5 71.9h0M86.2 64.6h0M138.2 94h0M76.3 96h0M113.7 88.3h0M66.6 73.2h0M169.2 76.9h0M164.8 94.8h0M124.3 69.7h0M117.4 61.8h0M33 98h0M190.5 78.5h0M88.7 116.2h0M203.2 107.4h0M23.5 86.8h0M30.7 82.9h0M171.3 102.1h0M91.4 98.4h0M96.5 83.1h0M193.6 84.4h0M70.8 59.5h0M75 105.3h0M149.8 65.8h0M74.1 83.1h0M210.5 123.2h0M81.4 92.8h0M125.3 76.3h0M149 98.5h0M64 120.4h0M37.3 102.8h0M29.4 99.5h0M56 59.9h0M147 63.1h0M125.6 74.5h0M102.3 76.2h0M159.2 88.5h0M203 73h0M106.9 72.9h0M182.1 76.6h0M151.9 95.6h0M175.5 96.2h0M6.4 71.3h0M140.4 99.7h0M140 71.8h0M16.4 92.6h0M199.3 54.4h0M158.4 114.7h0M136.2 88.2h0M84.9 71.5h0M8.2 92.4h0M157.3 82.2h0M23.3 62.2h0M198.9 80.5h0M13.2 86.7h0M18 67.2h0M150 68.6h0M184 78.1h0M34.5 98h0M163.3 100.3h0M188.4 99.1h0M46.5 70.2h0M158.9 92h0M144.5 86.8h0M191.3 69.3h0M63.3 84.1h0M29.9 68h0M92.7 90.9h0M177.3 100h0M206.5 121h0M35.3 80.8h0M187.4 89.5h0M88.9 100.6h0M183 38.6h0M52 54.9h0M105.5 82.6h0M154 72.7h0M8.3 96.8h0M156 143.6h0M134.4 90.3h0M121.8 81.6h0M189.6 121.2h0M157.3 121.5h0M152.6 84.4h0M97.3 99h0M172.4 132.1h0M188.3 102.5h0M1.4 102.5h0M95.5 103.4h0M117.2 73.3h0M183.3 61.1h0M100.2 66h0M50 82.7h0M124 85h0M201.7 75.9h0M1.6 63.7h0M91.7 85.5h0M19.9 100.3h0M192.6 37.4h0M57.7 78.8h0M110.4 86.8h0M66.1 96.2h0M131.1 79.2h0M86.7 83.9h0M112.5 71.8h0M107.4 82.5h0M86.5 60.1h0M160.5 72.5h0M136.8 90h0M165.9 120.5h0M196.9 59.9h0M66.4 92.6h0M123.2 94.8h0M96.2 91.2h0M118.5 64h0M44.3 103.6h0M45.1 56.7h0M144.2 67.5h0M50.6 81.3h0M153.3 92.6h0M44.8 63.9h0M169.4 69.2h0M156.7 76.6h0M22.4 84h0M43.5 93h0M144.5 76.1h0M106.6 78.7h0M16.1 88.9h0M208.7 87.7h0M133.4 76.6h0M5.3 89.3h0M201.1 65.4h0M62.4 101.9h0M136.6 61.4h0M10.7 75.9h0M117.3 81.5h0M44.7 68.7h0M24.4 84.3h0M47.2 85.3h0M52 58.8h0M129.9 98h0M107.9 65.1h0M35.4 77.2h0M2.3 96.8h0M213.2 93.6h0M128.1 89.1h0M201.7 91.3h0M131.8 79.2h0M84.6 61.8h0M115.1 105.7h0M85.2 54.3h0M85.2 83.5h0"/>
<path stroke="#5a5a5a" stroke-opacity=".4" stroke-width=".9" d="M160.4 118.4h0M34.3 65.3h0M157.1 130.1h0M42.1 94.5h0M52.2 62h0M3.7 72.1h0M54 24.7h0M56.5 77.3h0M149.2 112.1h0M89.3 113.2h0M50.8 65.2h0M117.9 83.5h0M49.9 109.5h0M211.9 152.9h0M106.2 101.6h0M201.4 101.5h0M37.1 108.8h0M193.5 116.3h0M146.4 111.6h0M178.8 77.3h0M154.2 101.5h0M158.4 128.6h0M118.7 80.3h0M175.5 82.2h0M57.8 40.9h0M15.9 60.7h0M191.8 79h0M49.8 102.8h0M143.9 65.3h0M184.4 61.5h0M118.3 88.9h0M130.7 95h0M118.1 42.8h0M198.1 74.5h0M8.5 94.6h0M14.3 67.5h0M135.9 121.3h0M99.8 62.9h0M94.7 81.6h0M202.1 108.8h0M152.6 106.9h0M154.9 63.8h0M19.7 99.3h0M34.8 82.3h0M179.7 132.2h0M55.2 75.2h0M189.2 81.9h0M65.6 126.7h0M68.5 117.3h0M135.1 94.1h0M80.1 122.2h0M104.2 128.2h0M48 82.7h0M174.4 138h0M40.4 103.8h0M110.4 87.2h0M163.4 124.6h0M18.5 81.5h0M45.3 91.6h0M162.1 34.8h0M27.7 111.1h0M10.6 120.2h0M72.5 103.4h0M128.2 99.1h0M47 57.4h0M29.1 111.5h0M195.4 22.5h0M34.7 95.4h0M90.7 141.6h0M174.5 129h0M86.2 90.9h0M35.5 117.1h0M110 119.6h0M202 71.7h0M168.6 116.3h0M94.2 79.1h0M44.8 65.9h0M37.3 59.7h0M138.4 104.5h0M161.3 101.2h0M143 81.5h0M3.2 101h0M138.6 124.3h0M39.5 104.9h0M109.4 45.8h0M104.4 97.9h0M189.5 95.5h0M74.3 28.9h0M70.7 105.1h0M16 65.7h0M200.5 87.7h0M57.9 46.4h0M146.1 96.8h0M66.8 77.8h0M56.9 95.4h0M155.7 48.7h0M104.6 59.2h0M109.8 17.4h0M3.9 64.3h0M54.6 88.7h0M20 131.3h0M116 126.9h0M203.9 123h0M18.1 57.2h0M115.1 138.4h0M89.2 95.4h0M123.4 55.3h0M119.9 49.2h0M165.6 111.5h0M97 138.3h0M113.6 147.9h0M119.9 94.1h0M74.6 104.3h0M109.5 118.1h0M169.8 91.9h0M187.7 112h0M10 97.9h0M74.3 114.9h0M37.5 135.3h0M66.6 111.2h0M18.6 93.7h0M13.6 118.2h0M37.7 140.3h0M116.5 89.8h0M196.1 5.1h0M200.2 98.4h0M211.6 91.7h0M90.7 77.1h0M36.3 94.4h0M131 58.8h0M83.7 80.2h0M75.6 78.1h0M208.4 84.9h0M80.3 129h0M121.1 113.1h0M41.1 120h0M140.3 114.7h0M16 106.8h0M111.1 109h0M60.1 48.2h0M179.7 123.5h0M201.2 85.2h0M155.4 100.2h0M102.3 32.9h0M126.9 95.3h0M178 131.6h0M77.1 95.4h0M114.8 130.9h0M8.9 113.1h0M161.8 100.1h0M149.5 126.1h0M104.2 126.3h0M58.2 108.1h0M178.8 70.4h0M201 45.1h0M149 86.5h0M162.7 53.4h0M171.3 132h0M24.6 52.7h0M27 98h0M174.6 104.5h0M76.1 117.9h0M149.4 58.5h0M109.1 133.5h0M140.2 99.8h0M46.6 43.9h0M42.1 139.9h0M113.9 45.9h0M184.2 71.2h0M201.1 92.9h0M155.9 102.3h0M172.4 119h0M178.2 27.2h0M169.9 138.8h0M5.3 48.8h0M179.4 107.5h0M100 130.5h0M100.2 46.9h0M41.2 125.5h0M107.5 31.1h0M183.1 118.5h0M194.4 58.2h0M165.8 59.9h0M57.9 31.9h0M60.5 96.9h0M35.1 83.2h0M102 6h0M172.6 120.1h0M101.9 38.2h0M187.7 133h0M143.2 43.4h0M80.4 118.9h0M132 100.4h0M95.6 36h0M29.8 86.7h0M120 116.6h0M185.2 57.7h0M186.6 110.5h0M26.4 97.6h0M105.1 58.9h0M168.7 98h0M10.4 98.9h0M103.4 65.9h0M71.6 82.5h0M21.4 121.3h0M56.5 25.2h0M75.1 95.5h0M13.1 49.4h0M131.1 96.3h0M7.3 103.2h0M19.5 129.7h0M189.6 80.3h0M155.2 101.3h0M208.5 122.4h0M64.8 49.5h0M54.2 67.7h0M17.8 135.8h0M177.7 128.1h0M117 45.7h0M203.4 129.7h0M157.5 130.6h0M160.6 117.3h0M2.2 69.1h0M65.2 61.1h0M195.4 84.1h0M39.6 108.1h0M130.3 94.2h0M187 111h0M128.5 129.4h0M103.5 45h0M6.6 91.3h0M110.7 116.3h0M103.9 85.7h0M192.8 30.2h0M131.3 96.1h0M164.5 26.9h0M114.6 116.7h0M85.4 74.9h0M190.4 58.7h0M212.4 69.1h0M199 92.1h0M107.5 63.4h0M71.2 83.8h0M2.5 142.2h0M212.4 145.4h0M102 87.3h0M151 64.8h0M56.9 86.9h0M7.4 38.4h0M67.4 92.4h0M189.3 99h0M91.9 129h0M199.8 41.3h0M155.5 129.6h0M2.6 82.2h0M39.6 111.4h0M158.2 83h0M31.9 81.2h0M33.8 128.2h0M183.7 85.2h0M108.3 88.4h0M87.8 101.6h0M52.9 127.4h0M137.8 109.5h0M167.1 59.9h0M132.6 99.5h0M6.2 55.9h0M126.6 103.7h0M130.8 120.9h0M138.4 110.3h0M206 149.4h0M130.3 97h0M79.3 70.1h0M70.7 91.8h0M142.5 108.6h0M42.5 75.9h0M173.5 107.4h0M201.6 55.1h0M119.5 105h0M105.7 88.6h0M184.4 25.2h0M118.3 102.6h0M50.7 85.1h0M77.5 71.7h0M202.8 110.6h0M158.8 115.7h0M175.3 117.9h0M45.7 23.5h0M207.5 119.7h0M121.6 100.3h0M165.9 70h0M64.3 97.3h0M54.5 85.4h0M89.7 105h0M17.5 110.9h0M147 104.2h0M80.4 104.3h0M15.6 84h0M133.6 109.3h0M157 115.2h0M33 117.1h0M45 63.3h0M135.5 38.1h0M145 118h0M209 143.8h0M8.7 101.5h0M182.9 63.6h0M139.7 93.1h0M81.6 78.8h0M46 97.7h0M59.4 69.9h0M33.6 89.4h0M133.3 79.6h0M29.5 45.8h0M112.1 27.2h0M115.2 91.4h0M183.6 95.5h0M203 95.6h0M22.4 112.9h0M207.7 155.1h0M210.5 126.2h0M148.6 96.9h0M176.7 107.4h0M135.7 55.7h0M10.4 90.1h0M123.9 49.1h0M40.4 121h0M173.4 104.6h0M123.7 88.5h0M201.6 74.5h0M152.1 81.9h0M160.8 144.8h0M60.7 107.6h0M135.4 131.4h0M143.6 101.5h0M210.2 104.4h0M44.3 92.2h0M174.3 107.9h0M58.2 118.6h0M58.2 124h0M60.2 61.8h0M192.2 119.1h0M194.5 82h0M181.7 97h0M12.7 98.4h0M185.9 100.9h0M160.2 131.5h0M49.9 116.2h0M161.1 66.8h0M83.5 75.8h0M25.1 30.8h0M19.8 83.9h0M104.1 98.8h0M100.6 84.5h0M3.3 96.2h0M56 107.1h0M25.4 120.3h0M73.7 106.6h0M130.6 108.1h0M138.5 114.9h0M61.2 123.3h0M62.9 76h0M70.6 101.1h0M60.9 47.5h0M173.4 141.5h0M194.8 60.8h0M102.9 95.8h0M54.8 89.5h0M3.2 98.8h0M85.4 103.7h0M54 92.8h0M72.1 120.1h0M134.6 126.7h0M195 19.7h0M172.7 126.5h0M163.7 107.6h0M10.5 115.1h0M144 63.5h0M91.6 109.1h0M132.9 107.6h0M57 123.5h0M102.6 65.8h0M10.8 111.4h0M43.1 104.2h0M164.2 96.3h0M191.6 99.9h0M195.8 37.2h0M35.7 127.8h0M159 129.8h0M1.3 106.8h0M89.2 143.8h0M183.5 35.3h0M133.1 110.3h0M20.5 89h0M70.2 91h0M24.3 96.5h0M150 44.5h0M146.1 68.5h0M152.5 145.6h0M186.6 110.8h0M144.6 101.8h0M108.5 91.6h0M178.9 121.6h0M205.4 65h0M62.8 103.3h0M4.5 99.6h0M65.7 100.1h0M178.2 110.9h0M74.2 127.5h0M45.3 97.2h0M30.2 94h0M209.7 100h0M123.1 44.6h0M196.1 46.2h0M144.6 92.8h0M141.9 88.1h0M50.6 81.9h0M29 81.2h0M119.6 97h0M72.6 82.3h0M123.2 93.1h0M201.3 56.9h0M57.2 79.8h0M129.5 98.4h0M103.8 102.2h0M164.1 108.6h0M105.1 47.6h0M10.2 101h0M171.8 64h0M125.9 102.3h0M132.3 118.9h0M32.4 111.6h0M32.7 40.9h0M172.6 128.7h0M106.3 116h0M173.8 106.5h0M27 36.7h0M58.5 96.7h0M203.6 70.4h0M174.5 108h0M85.3 84.2h0M84.2 92.4h0M113.4 112.1h0M44.6 111h0M118.3 122.7h0M168.8 94.1h0M61.9 60.7h0M128.3 127.6h0M191.7 97.4h0M70.2 54.2h0M181.2 110.8h0M114.4 134.8h0M118.4 82.5h0M132.7 138.2h0M144 27.5h0M106 44.5h0M17.1 64.6h0M6.3 70.3h0M33.8 56.1h0M136.1 125.5h0M68.9 110.2h0M205.7 110h0M207.5 139h0M116.7 69.1h0M76.4 29.9h0M171.8 122.2h0M90.3 137.9h0M125.1 81.6h0M100.2 81.8h0M165.1 104.5h0M160.7 115.5h0M70.1 81.1h0M91.4 66.9h0M27.5 43.9h0M52.5 92.6h0M45.7 100.1h0M185.2 74.9h0M161.2 94.3h0M50.2 131.2h0M132.2 121.6h0M147.9 89h0M143.7 67.2h0M163.3 75.9h0M89.1 79.8h0M55.3 82h0M121.9 44.7h0M175.5 111h0M115.7 94.2h0M124 50.6h0M124.6 29.6h0M32 105.4h0M141.4 91.9h0M87.3 99.8h0M195.8 62.6h0M68.6 85.5h0M67.4 76.9h0M124.6 108.5h0M132.3 104.5h0M74.1 106.9h0M7.2 139.5h0M123.7 95.1h0M15 93.3h0M106.9 122.9h0M10.6 109.2h0M91.5 80.8h0M146.6 119.2h0M10.1 61.2h0M210.2 104.1h0M36.9 55.6h0M143 66.3h0M31 90.5h0M188.5 99.6h0M47.2 87.2h0M25.4 86.2h0M158.3 115.2h0M44.1 57.9h0M93.7 80.2h0M26.4 140.2h0M127.5 101.1h0M197.3 47.4h0M137.8 94.8h0M207 133.3h0M58.7 68.3h0M13.9 117.4h0M63.3 120.7h0M81.4 120.8h0M96.6 82.8h0M39.9 101.8h0M139.3 119.1h0M20.5 99.9h0M147.3 66.5h0M200.1 98.3h0M210.8 63.7h0M51.4 106.3h0M22.6 97.8h0M65.8 119.2h0M119.6 98.9h0M54.3 80.9h0M64.7 100.7h0M65.2 101h0M179.4 120.3h0M146.7 59.1h0M71.1 40.9h0M13.2 88.4h0M125.1 115.2h0M189.9 57.1h0M97.1 61.6h0M14.2 93.6h0M78.2 135.8h0M46.6 49.6h0M198.5 28.1h0M38.4 109.6h0M164.9 108.4h0M147.1 17h0M133.2 95.6h0M115 98h0M15.2 111.5h0M127.9 90.9h0M129.3 109.9h0M103.8 1.7h0M139.3 115.8h0M58 50.5h0M67.2 118.9h0M97.1 105.5h0M8.9 40.4h0M42.9 62h0M12 90h0M63.4 80.2h0M30.3 30.4h0M198.1 96.8h0M157.7 70.4h0M18.5 21.3h0M168 112.4h0M31.2 83.8h0"/>
</g>
</g>
<path stroke="#1c1c1c" stroke-width="1.3" fill="none" d="M147.5 432.5V591.3M168.5 432.5V591.3M185.1 432.5V591.3M200.1 432.5V591.3M216.7 432.5V591.3M230.6 432.5V591.3M244.2 432.5V591.3M249.1 432.5V591.3M261.8 432.5V591.3M273.4 432.5V591.3M280.1 432.5V591.3M286.5 432.5V591.3M291.55 432.5V591.3M302 432.5V591.3M310.5 432.5V591.3M311.7 432.5V591.3M318.2 432.5V591.3M323.15 432.5V591.3M328.15 432.5V591.3M334.8 432.5V591.3M338.2 432.5V591.3"/>
<path stroke="#0a0a0a" stroke-width="1" d="M132.5 516.2H346.2"/>
<path stroke="#ef8a10" stroke-width="2.2" fill="none" d="M132.5 522.7H137.2M137.2 518.2H143.8M143 512.2H147.5M147.5 508.2H168.4M168.4 519.2H177.9M177.1 503.3H185.4M179.6 507.7H183.7M185.4 493.8H190.4M188.7 510.2H191.2M190.9 522.7H199.5M199.5 504.2H204.5M204 521.2H216.2M216.2 498.8H219.5M218.7 513.2H221.2M219.8 521.7H230.7M230.7 489.8H236.2M235.7 511.2H242M236 511.7H244M244 508.7H249M249 506.7H252.6M251.8 515.2H256M255.1 507.7H261.5M261.5 519.7H272.9M272.9 508.2H279.6M279.6 508.7H283.4M283.4 503.3H286.4M284.3 513.7H286.4M286.4 513.7H289.2M287.6 525.2H291.4M292.6 520.7H301.4M302.1 513.2H304.2M303.4 526.7H311.2M311.7 526.2H315.9M314.2 497.3H317.5M315 487.3H317.9M314.2 510.2H317.5M318.4 522.7H323.4M320 539.6H323.4M323.4 498.8H327.5M325 469.4H327.8M326.8 443H328.5M327.8 464.4H329.5M326.5 478.9H329.2M328.8 497.3H334.5M335 513.2H337.5M335.3 525.2H337.8M335.3 547.6H337.5M338.5 543.6H345.8"/>
<path stroke="#f0922a" stroke-width="1.7" opacity=".9" fill="none" d="M219.6 540.1h2.4M259.3 528.7h2.4M275.6 494.8h2.4M282.6 541.1h2.4M287.2 553.6h2.4M294.3 494.8h2.4"/>
<path stroke="#f0b040" stroke-width="1.4" stroke-dasharray="1.6 1" opacity=".75" fill="none" d="M153 521.7H157.1"/>
<rect x="132.5" y="432.5" width="214" height="159" fill="none" stroke="#333" stroke-width=".8"/>
<g font-family="'DejaVu Sans','Liberation Sans',sans-serif" font-size="4.85" fill="#000">
<text x="128.1" y="443.2" text-anchor="end">1.5</text>
<text x="128.1" y="468.1" text-anchor="end">1.0</text>
<text x="128.1" y="493" text-anchor="end">0.5</text>
<text x="128.1" y="517.9" text-anchor="end">0.0</text>
<text x="128.1" y="542.8" text-anchor="end">−0.5</text>
<text x="128.1" y="567.7" text-anchor="end">−1.0</text>
<text x="128.1" y="592.6" text-anchor="end">−1.5</text>
<path stroke="#222" stroke-width=".6" fill="none" d="M130.7 441.5H132.5M130.7 466.4H132.5M130.7 491.3H132.5M130.7 516.2H132.5M130.7 541.1H132.5M130.7 566H132.5M130.7 590.9H132.5M140 591.3V593.1M158 591.3V593.1M176.8 591.3V593.1M192.6 591.3V593.1M208.4 591.3V593.1M223.65 591.3V593.1M237.4 591.3V593.1M246.65 591.3V593.1M255.45 591.3V593.1M267.6 591.3V593.1M276.75 591.3V593.1M283.3 591.3V593.1M289.02 591.3V593.1M296.77 591.3V593.1M306.25 591.3V593.1M311.1 591.3V593.1M314.95 591.3V593.1M320.68 591.3V593.1M325.65 591.3V593.1M331.48 591.3V593.1M336.5 591.3V593.1M342.2 591.3V593.1"/>
<text transform="translate(139.1 600.11) rotate(-60)" text-anchor="middle" y="1.6">chr1</text>
<text transform="translate(157.1 600.11) rotate(-60)" text-anchor="middle" y="1.6">chr2</text>
<text transform="translate(175.9 600.11) rotate(-60)" text-anchor="middle" y="1.6">chr3</text>
<text transform="translate(191.7 600.11) rotate(-60)" text-anchor="middle" y="1.6">chr4</text>
<text transform="translate(207.5 600.11) rotate(-60)" text-anchor="middle" y="1.6">chr5</text>
<text transform="translate(222.75 600.11) rotate(-60)" text-anchor="middle" y="1.6">chr6</text>
<text transform="translate(236.5 600.11) rotate(-60)" text-anchor="middle" y="1.6">chr7</text>
<text transform="translate(245.75 600.11) rotate(-60)" text-anchor="middle" y="1.6">chr8</text>
<text transform="translate(254.55 600.11) rotate(-60)" text-anchor="middle" y="1.6">chr9</text>
<text transform="translate(266.7 601.3) rotate(-60)" text-anchor="middle" y="1.6">chr10</text>
<text transform="translate(275.85 601.3) rotate(-60)" text-anchor="middle" y="1.6">chr11</text>
<text transform="translate(282.4 601.3) rotate(-60)" text-anchor="middle" y="1.6">chr12</text>
<text transform="translate(288.12 601.3) rotate(-60)" text-anchor="middle" y="1.6">chr13</text>
<text transform="translate(295.88 601.3) rotate(-60)" text-anchor="middle" y="1.6">chr14</text>
<text transform="translate(305.35 601.3) rotate(-60)" text-anchor="middle" y="1.6">chr15</text>
<text transform="translate(310.2 601.3) rotate(-60)" text-anchor="middle" y="1.6">chr16</text>
<text transform="translate(314.05 601.3) rotate(-60)" text-anchor="middle" y="1.6">chr17</text>
<text transform="translate(319.78 601.3) rotate(-60)" text-anchor="middle" y="1.6">chr18</text>
<text transform="translate(324.75 601.3) rotate(-60)" text-anchor="middle" y="1.6">chr19</text>
<text transform="translate(330.58 601.3) rotate(-60)" text-anchor="middle" y="1.6">chr20</text>
<text transform="translate(335.6 601.3) rotate(-60)" text-anchor="middle" y="1.6">chr22</text>
<text transform="translate(341.3 600.11) rotate(-60)" text-anchor="middle" y="1.6">chrX</text>
<text transform="translate(111.5 512.5) rotate(-90)" text-anchor="middle" font-size="5.9">Copy ratio (log2)</text>
</g>
<path stroke="#222" stroke-width=".9" d="M224.4 430h3"/>
<text x="133.5" y="422.8" font-size="17.4" fill="#111">UCP</text>
<text transform="translate(89.0 525.8) rotate(-90)" font-size="16.75" fill="#111">M#251</text>
</g>
<clipPath id="c4"><rect x="406.2" y="436.7" width="213.9" height="158.8"/></clipPath>
<g>
<g clip-path="url(#c4)">
<rect x="406.3" y="494.5" width="14.8" height="43.5" fill="url(#g)" opacity=".85"/>
<rect x="406.3" y="505.6" width="14.8" height="21.2" fill="url(#n)"/>
<rect x="421.1" y="494.5" width="21" height="43.5" fill="url(#g)" opacity=".85"/>
<rect x="421.1" y="505.6" width="21" height="21.2" fill="url(#n)"/>
<rect x="442.1" y="494.5" width="17" height="43.5" fill="url(#g)" opacity=".85"/>
<rect x="442.1" y="505.6" width="17" height="21.2" fill="url(#n)"/>
<rect x="459.1" y="490.8" width="5" height="43.5" fill="url(#g)" opacity=".56"/>
<rect x="459.1" y="501.9" width="5" height="21.2" fill="url(#n)"/>
<rect x="463.2" y="494.5" width="10.3" height="43.5" fill="url(#g)" opacity=".85"/>
<rect x="463.2" y="505.6" width="10.3" height="21.2" fill="url(#n)"/>
<rect x="473.5" y="494.5" width="17.1" height="43.5" fill="url(#g)" opacity=".85"/>
<rect x="473.5" y="505.6" width="17.1" height="21.2" fill="url(#n)"/>
<rect x="490.7" y="494.5" width="5" height="43.5" fill="url(#g)" opacity=".85"/>
<rect x="490.7" y="505.6" width="5" height="21.2" fill="url(#n)"/>
<rect x="495.7" y="494.5" width="8.8" height="43.5" fill="url(#g)" opacity=".85"/>
<rect x="495.7" y="505.6" width="8.8" height="21.2" fill="url(#n)"/>
<rect x="504.5" y="489.2" width="5.3" height="43.5" fill="url(#g)" opacity=".47"/>
<rect x="504.5" y="500.3" width="5.3" height="21.2" fill="url(#n)"/>
<rect x="509" y="494.5" width="5" height="43.5" fill="url(#g)" opacity=".85"/>
<rect x="509" y="505.6" width="5" height="21.2" fill="url(#n)"/>
<rect x="514" y="494.5" width="3.8" height="43.5" fill="url(#g)" opacity=".85"/>
<rect x="514" y="505.6" width="3.8" height="21.2" fill="url(#n)"/>
<rect x="517.8" y="494.5" width="5" height="43.5" fill="url(#g)" opacity=".85"/>
<rect x="517.8" y="505.6" width="5" height="21.2" fill="url(#n)"/>
<rect x="522.8" y="494.5" width="12.5" height="43.5" fill="url(#g)" opacity=".85"/>
<rect x="522.8" y="505.6" width="12.5" height="21.2" fill="url(#n)"/>
<rect x="535.3" y="494.5" width="11.6" height="43.5" fill="url(#g)" opacity=".85"/>
<rect x="535.3" y="505.6" width="11.6" height="21.2" fill="url(#n)"/>
<rect x="546.9" y="494.5" width="6.7" height="43.5" fill="url(#g)" opacity=".85"/>
<rect x="546.9" y="505.6" width="6.7" height="21.2" fill="url(#n)"/>
<rect x="553.6" y="494.5" width="6.8" height="43.5" fill="url(#g)" opacity=".85"/>
<rect x="553.6" y="505.6" width="6.8" height="21.2" fill="url(#n)"/>
<rect x="560.4" y="494.5" width="5" height="43.5" fill="url(#g)" opacity=".85"/>
<rect x="560.4" y="505.6" width="5" height="21.2" fill="url(#n)"/>
<rect x="565.4" y="494.5" width="10.3" height="43.5" fill="url(#g)" opacity=".85"/>
<rect x="565.4" y="505.6" width="10.3" height="21.2" fill="url(#n)"/>
<rect x="575.7" y="494.5" width="9.5" height="43.5" fill="url(#g)" opacity=".85"/>
<rect x="575.7" y="505.6" width="9.5" height="21.2" fill="url(#n)"/>
<rect x="585.7" y="494.5" width="6.3" height="43.5" fill="url(#g)" opacity=".85"/>
<rect x="585.7" y="505.6" width="6.3" height="21.2" fill="url(#n)"/>
<rect x="592" y="494.5" width="5.3" height="43.5" fill="url(#g)" opacity=".85"/>
<rect x="592" y="505.6" width="5.3" height="21.2" fill="url(#n)"/>
<rect x="597.4" y="494.5" width="4.7" height="43.5" fill="url(#g)" opacity=".85"/>
<rect x="597.4" y="505.6" width="4.7" height="21.2" fill="url(#n)"/>
<rect x="599.9" y="474.3" width="2.5" height="43.5" fill="url(#g)" opacity=".37"/>
<rect x="602" y="494.5" width="6.5" height="43.5" fill="url(#g)" opacity=".85"/>
<rect x="602" y="505.6" width="6.5" height="21.2" fill="url(#n)"/>
<rect x="608.5" y="494.5" width="3.3" height="43.5" fill="url(#g)" opacity=".85"/>
<rect x="608.5" y="505.6" width="3.3" height="21.2" fill="url(#n)"/>
<rect x="612.5" y="542.7" width="7.3" height="43.5" fill="url(#g)" opacity=".85"/>
<rect x="612.5" y="553.8" width="7.3" height="21.2" fill="url(#n)"/>
<g transform="translate(406.2 436.7)" fill="none" stroke-linecap="round">
<path stroke="#333" stroke-opacity=".55" stroke-width="1.2" d="M30.4 80h0M41.9 82h0M21.3 79.6h0M7.2 72.8h0M176.4 88.1h0M1.3 83.7h0M115.3 74.9h0M125.8 78h0M126.4 82.1h0M49.8 81.4h0M147.7 73.5h0M103.5 81.7h0M11.9 78.4h0M20.8 78h0M192.6 68.8h0M200.3 70.9h0M102.7 72.6h0M177.9 88.2h0M40.6 76.3h0M57.2 72.1h0M124.5 67.5h0M45.4 76.4h0M156.9 77.1h0M88.3 84.2h0M24.3 69.2h0M188 90.8h0M181.4 87.2h0M67.2 80.6h0M156.7 83.1h0M153 77.7h0M211.6 124.1h0M131.9 79.5h0M182.2 85.8h0M202 80.7h0M200.4 69.3h0M44.5 74.8h0M163.3 75.6h0M100.7 70.4h0M114.2 82.1h0M174.1 87.3h0M17.6 84.4h0M83.7 84.7h0M62.2 83.1h0M158.4 82h0M92.4 74.1h0M116.6 72.2h0M102.6 79.4h0M107.6 72.1h0M175.1 84.2h0M163.9 78.7h0M32.1 85.5h0M137.2 92h0M61.4 79.5h0M141 79.5h0M124.2 81.8h0M73.8 73.8h0M118.9 88.8h0M140.7 76h0M20.4 76.7h0M148.3 80.9h0M170.3 77.9h0M99.2 70.2h0M168.8 80.7h0M15.6 75h0M56.1 81.7h0M156.3 82.5h0M100.9 69.3h0M123.3 71.4h0M66.1 78h0M173.1 71.9h0M38.3 76.5h0M136.1 80h0M45.9 78.5h0M151.8 86.4h0M89.8 86.3h0M54.8 80.5h0M9.9 85.6h0M108.5 90.4h0M70 79.6h0M41.5 80.6h0M175.8 85.3h0M138.1 82.7h0M163.7 85.6h0M114.2 72.6h0M125.7 68.9h0M164.5 84.9h0M143.6 79.7h0M122.3 81.7h0M59.1 82.8h0M26.2 80.8h0M213.3 129.5h0M211.4 127.8h0M59.8 79.6h0M144.8 81.2h0M85.1 78.3h0M115.8 81.7h0M121.4 79.6h0M106.3 89.8h0M109.1 81.2h0M52.1 78.4h0M113.2 79.4h0M73.1 80.4h0M87.8 83.9h0M99.7 72.2h0M94.7 78.1h0M46.4 75.3h0M138 74.4h0M161.4 73h0M92.4 79.6h0M167.4 79.9h0M211 128.3h0M158.1 80.3h0M129.6 85.7h0M165.8 73.8h0M1.8 76.8h0M66.5 84.6h0M202.6 81.7h0M177.6 80.3h0M15.4 82h0M123.6 71.8h0M149 79.6h0M6.9 71.5h0M207 121.1h0M16.2 74.4h0M77.3 71.2h0M175.7 76.6h0M174.6 88.1h0M135.9 87.2h0M175.4 79.9h0M12.9 79.8h0M203.2 79.6h0M210.8 120.8h0M84.4 80.3h0M169.3 83.1h0M97.5 87h0M86.1 84.4h0M57.3 91h0M45.5 82.2h0M199 72.9h0M168.4 87h0M63.2 76.9h0M133.9 87h0M207.4 125.9h0M22.8 81.9h0M5.2 76.6h0M208.5 132.6h0M55.9 80.7h0M149.3 82.8h0M91.7 80.6h0M101 71.4h0M189.7 90.6h0M173.5 81.8h0M93.3 79.7h0M66.4 90.6h0M115.5 70.4h0M178.2 84.9h0M21.8 70.5h0M144.4 80.3h0M29.7 80.8h0M132.7 86h0M211.3 121.8h0M187.2 80.7h0M84.1 82h0M138.2 84.5h0M99.4 68h0M34.4 79.4h0M67.1 82.7h0M58.9 84.7h0M37.8 74h0M195.5 82.8h0M166.4 89.5h0M148.7 79h0M40.4 74.5h0M9.7 77.7h0M64.1 80.4h0M165.8 85.1h0M164.1 82.8h0M58.7 83.1h0M68.1 83.4h0M170.6 87.5h0M81.4 68.5h0M16.9 75.1h0M122.5 82.9h0M18.1 75.8h0M157.1 77.6h0M206.9 122h0M179.5 80.6h0M45.7 80.6h0M157.5 71.8h0M75.6 83.6h0M205.2 82.2h0M15.1 80.7h0M117.1 78.1h0M89.7 82.7h0M23.1 80.3h0M188.5 81.9h0M105.7 87.3h0M13.5 80.8h0M93.4 68.3h0M1 79.7h0M160 82.6h0M57.7 76.2h0M24.9 72.5h0M168.7 82h0M184.7 81h0M75.2 82.2h0M163.3 87.2h0M51.9 85.7h0M20.7 79.8h0M58 71.9h0M136.5 83.3h0M154.6 74.6h0M207.6 131.4h0M88.3 75.8h0M189.2 92.2h0M59.1 77.5h0M86.1 83.4h0M64.4 76.6h0M102.2 78.4h0M152.6 84.6h0M24.5 76.9h0M188 77.1h0M150.2 75h0M24.8 81.8h0M102.9 77.5h0M112 83.4h0M188.5 77.5h0M195.9 63.2h0M92.3 83.3h0M151.6 81.5h0M79.8 76.9h0M177.7 80.6h0M103.6 79.3h0M48.1 83.3h0M121.8 82.4h0M47.9 88.7h0M102.5 72.5h0M39.8 92.1h0M180.6 82.4h0M69.5 78h0M207.3 127.2h0M14.7 83.2h0M86.9 92.2h0M59.7 75.5h0M155.4 79.9h0M105.8 85.8h0M197 73.8h0M104.9 83.3h0M38.6 73.1h0M210.4 124.3h0M76.8 88.6h0M145.3 79h0M157.8 78.7h0M114.3 85.3h0M78 83.5h0M210.4 123h0M9.2 81.7h0M12.5 83.1h0M81.3 79h0M68.1 71.9h0M46.8 82.4h0M22.2 78h0M156.3 77.4h0M134.8 78.2h0M167.3 73.9h0M162.6 81.9h0M115.1 76h0M113.6 75.5h0M205.8 76.4h0M16.7 70.6h0M44.6 71.7h0M19.3 76.5h0M105.4 83.3h0M54.5 77.9h0M185.6 77.6h0M12.7 82.4h0M154.1 71.8h0M82.6 76.8h0M44.5 78.9h0M62.9 76.8h0M111.3 86.3h0M113.8 80.2h0M101.3 71.1h0M20.7 67.6h0M37.9 79.5h0M4.2 78h0M197.6 70.4h0M125 78h0M204.1 81.9h0M200.5 71.3h0M57.9 76.3h0M21.7 80.3h0M9 81.5h0M189.6 85.7h0M92.6 80.6h0M86.3 76.9h0M101.5 79.6h0M18.7 77.5h0M76.6 84.5h0M108.8 81.3h0M177 85.1h0M91.8 88.9h0M27.6 69.4h0M11.7 75.6h0M80.2 90.9h0M98.6 80.1h0M30 83.3h0M192.4 68.2h0M115.4 82.7h0M23.7 82.5h0M139.8 81.5h0M56.6 69.3h0M171 85.2h0M12.4 87.1h0M212.5 132h0M160 77.9h0M187.1 80.3h0M10.5 77.5h0M4.9 77.7h0M85.9 79.6h0M201.9 80.7h0M212.6 132h0M136.9 78.4h0M90 78.9h0M143.6 79.2h0M166 81.2h0M13.7 72.4h0M88.5 89.8h0M106.9 76.9h0M47.8 83.5h0M145.1 80.2h0M3 77.4h0M64.8 87h0M170.8 87.4h0M28.1 77.9h0M37.4 78.4h0M35.3 78.1h0M127 82.1h0M21.6 80h0M22.7 69h0M50.8 80.8h0M130 82.9h0M111.2 76.1h0M43.7 82.4h0M90 80.2h0M142.4 82.1h0M68.7 80.9h0M116.1 74.4h0M165.6 80.2h0M202.8 81.9h0M136.3 78.7h0M47.5 94.4h0M163.8 84.9h0M83 78.8h0M51.8 82.7h0M40.9 74.1h0M126.2 75.8h0M101 69.8h0M42.7 87.7h0M147.5 78.9h0M176.4 93.2h0M80.4 73h0M163.7 83.1h0M209.3 129.3h0M82.7 76.1h0M30.7 78.3h0M126.2 75.1h0M68.5 80.8h0M78.3 87.2h0M171 86.4h0M149.6 77.9h0M47.3 81.6h0M72.2 82.1h0M207.3 125.6h0M28.2 79.5h0M118.8 76h0M52.1 76.4h0M93.8 79.5h0M53.5 73.9h0M133 69.9h0M39.2 71h0M190.1 79h0M71.4 80.3h0M.7 75.2h0M186.5 76.8h0M94.9 81.9h0M181.9 82.1h0M147.3 89.1h0M208.6 139.2h0M172.7 82.2h0M138.6 73.6h0M10.3 86.4h0M86.8 73.6h0M86.1 82h0M2 75.8h0M210.7 134.3h0M31.2 85.8h0M60.1 83.3h0M110.6 81.7h0M29.9 74.8h0M48.2 81.3h0M21.9 86.3h0M43.7 77.2h0M87.1 80.9h0M136.9 85.7h0M67 83.2h0M82.2 88.6h0M138.1 86.6h0M118.4 70h0M174.9 87.8h0M153.8 79.9h0M108.8 81.4h0M127.3 79.9h0M42.7 78.5h0M31 82.4h0M98.3 73.3h0M44.7 76.5h0M152.9 71.4h0M157.8 84.1h0M85.3 76.2h0M167.7 91.8h0M184.3 85.3h0M3.6 82.8h0M123 79.4h0M85.9 76.3h0M114.3 84.8h0M135.9 84.7h0M99.9 82.5h0M51.9 74.8h0M65.2 77.4h0M85.9 82.3h0M122.6 78.9h0M.9 82.8h0M78.8 80.6h0M184.2 81.2h0M147.2 77.2h0M115.1 77.6h0M62.9 82.4h0M24.7 102.2h0M133.7 72.2h0M207.7 133.6h0M204.2 77.8h0M78.9 68.9h0M70.9 77.9h0M131.8 79.3h0M199.2 79.8h0M119 84.9h0M39.7 77.6h0M117.4 76.6h0M73.7 81.1h0M162.3 82.4h0M84.3 85h0M44.5 73.2h0M30.8 74.7h0M158 76.4h0M18.2 79h0M207.3 129.4h0M167.4 81.1h0M126 71.7h0M43.6 80.5h0M172.3 77.2h0M3.1 84.7h0M4.1 77.6h0M123.5 89.4h0M47.2 78.3h0M153.6 80.6h0M204.6 87h0M29.3 80.9h0M165.8 83.7h0M105.8 79.1h0M192.6 79.6h0M122.4 86.4h0M77.9 84.7h0M102.1 85.2h0M140 75.5h0M1.1 78.3h0M85.6 88.6h0M15 87.5h0M28 84h0M74.3 77.1h0M8.3 89.5h0M125.2 83.3h0M113.1 80.5h0M108.6 75.3h0M154.2 70.6h0M176.1 78.7h0M110.3 80.3h0M45.3 83.8h0M77 83.4h0M4.2 86.4h0M143.1 83.2h0M88.5 86.3h0M13.6 79h0M102.8 84.5h0M179 92.5h0M5.2 82.5h0M5.3 75h0M104.6 87h0M175.6 77.2h0M195.2 80.1h0M207.5 130.9h0M65.9 81.7h0M2.4 78.8h0M30.5 79h0M135.7 90.9h0M123 85h0M195.2 79.5h0M53.1 75.8h0M166.2 90.3h0M35.4 81.2h0M194.7 74.5h0M146.5 74.8h0M74.3 81.2h0M80.2 84h0M124.2 77.3h0M156 72.8h0M133.7 82.5h0M134.4 92.7h0M179.6 81.5h0M33.1 75.7h0M208.4 127.8h0M8.6 88.1h0M154.1 83h0M52.3 80.6h0M71.1 72.8h0M185.1 78.6h0M153.6 67.9h0M179.8 85.1h0M167 82.7h0M122.8 80.4h0M38.7 75h0M152.3 73.7h0M166.5 79.1h0M160.1 81h0M61.2 86.6h0M181.6 81.7h0M14.7 80.4h0M150.1 78h0M204 74h0M105.8 81.5h0M211.1 125h0M65 83.6h0M68.7 77.8h0M10.3 75.7h0M79.4 76.4h0M126.5 70.1h0M114.7 83.1h0M49.5 75.8h0M155.6 77.9h0M66.5 83.9h0M146.2 82.5h0M165 84.7h0M167.1 83.8h0M212.1 127.5h0M64.3 86.7h0M31.5 74.8h0M129.3 80.8h0M151.3 78.8h0M17 71.7h0M199.9 84.6h0M31.9 73.9h0M77.6 69.7h0M14.1 78.8h0M179.9 79.7h0M57.8 80.1h0M26.2 73.4h0M94.5 81.2h0M78.6 82.3h0M200.1 76.7h0M10.5 85.4h0M177.6 79.2h0M112.2 83h0M50.8 83.9h0M201.8 74.5h0M186.8 81.8h0M200.4 77.5h0M98.9 68.6h0M157 81.2h0M200.9 68.3h0M10.9 86.2h0M125.2 74.5h0M75.1 74.9h0M46.4 88.6h0M156.3 109h0M145.5 74.5h0M183.8 84h0M109.9 74h0M115.7 77.3h0M194 76.9h0M173.1 82.2h0M103.4 66h0M192.1 79h0M156.5 79.5h0M72.9 82.9h0M16.3 79.2h0M11.2 80h0M91.1 76.1h0M165.7 80.5h0M103.5 82.9h0M110 84h0M196.8 75.4h0M136.4 81.9h0M100 75.8h0M155.2 113.4h0M54.9 76.3h0M12.7 81.6h0M84.7 76.9h0M110 82.7h0M98 66.2h0M133.6 87.1h0M1 76.3h0M191 76h0M78.9 80.4h0M87.4 82h0M65.6 87h0M191.2 78.8h0M35.2 75h0M128 78.4h0M207.3 127.3h0M160.2 85.8h0M52.8 69.9h0M210.8 119.9h0M35.9 77.8h0M66.6 82.9h0M167.7 79.6h0M13.8 82.1h0M190.8 81.1h0M128.7 82.5h0M11 79.4h0M43.5 76.8h0M74.6 79.8h0M4.2 83.9h0M184.2 86h0M60.7 84.3h0M2 81.3h0M97.9 86.4h0M44.6 83h0M6.9 84.1h0M202.7 70.6h0M51 75.4h0M204.6 75.7h0M27 81.9h0M18.8 78.6h0M72.3 81h0M59.5 81.9h0M179.3 80.5h0M136.5 95.9h0M138.4 78.8h0M74.8 72.4h0M91.7 85.2h0M57.8 84.5h0M49.8 78.9h0M17.2 80.6h0M90.3 82.6h0M118 78.1h0M17.1 77.3h0M18.3 81.4h0M112.7 77.7h0M140.8 75.2h0M40.5 77.3h0M188.9 85h0M191.8 80.6h0M196.6 75.9h0M34.4 75.2h0M191.7 78.3h0M133.7 81.1h0M89.7 79.2h0M22.4 81h0M82 80.9h0M115.1 75.4h0M197.2 75.7h0M2.5 79h0M116.1 77h0M88.2 83.5h0M169.5 91.2h0M25.5 78h0M149.9 79.6h0M126.9 87.3h0M28.4 67h0M154.6 83.5h0M29 77.3h0M204.9 87.9h0M205.5 75.9h0M29.5 79.5h0M57.4 82.8h0M135.2 83.5h0M15 76.3h0M140.2 78.7h0M43.1 78.1h0M59.2 84.7h0M150.9 72.9h0M7.2 80.7h0M137.4 87.2h0M177.6 81.2h0M106.8 81.9h0M146.2 78.1h0M47.1 84.2h0M90.1 78.8h0M16.2 66.1h0M65.7 81.6h0M188.3 82.4h0M185.4 83.8h0M58.8 83.4h0M213 131.5h0M137.5 93.9h0M18 78.5h0M46.4 79h0M140.6 81.4h0M6.5 83.2h0M135.9 82.1h0M59.8 82.8h0M188 83.4h0M113.3 82.7h0M198 74.2h0M60.3 76.1h0M72.4 83.9h0M172.9 85.6h0M50.2 84.1h0M104.5 77.4h0M148.8 69.8h0M132.2 82.4h0M203.8 91.9h0M100.9 78.3h0M28.8 83h0M188.6 75.5h0M90.9 83.9h0M4.8 75.5h0M21.4 78.6h0M7.2 77h0M105.9 83.1h0M117 84.3h0M82 85h0M192.8 72.9h0M93.3 80.6h0M105.1 81.6h0M58.4 83.2h0M194.8 81.2h0M190.9 81.6h0M35 68.5h0M2.1 79.3h0M141.8 73.6h0M190.6 84.5h0M86.9 84h0M145.9 53h0M38 74h0M130.8 84.3h0M193.3 78.1h0M116.7 78.6h0M4 73.6h0M138.3 88.1h0M140.4 84.7h0M203.4 78.3h0M60.1 69.2h0M89.9 88.9h0M143.3 76.5h0M204.2 78.8h0M29.8 75.4h0M159.4 83.3h0M145 53h0M193.2 81.2h0M183.4 80h0M106 72.6h0M199.6 79.2h0M2.4 83.3h0M83.1 92.6h0M188.9 80.7h0M20.9 75.3h0M179.7 80.1h0M151.5 84.1h0M181.8 88.5h0M125 80.8h0M158.5 79.9h0M109 88.2h0M8.9 80.1h0M166.4 86h0M188.4 76.8h0M100.1 77.3h0M51.3 73.9h0M109.2 86.6h0M212.4 129.2h0M76 83.4h0M124.8 77.8h0M202.8 80.9h0M29.9 80h0M20.9 79h0M83.6 73.6h0M142.5 77.3h0M82.6 83.4h0M204.5 82h0M177.8 76.4h0M152.3 82.3h0M132.9 81.7h0M42.4 82.7h0M114.6 83.3h0M161.4 86.1h0M39.2 77.1h0M20.1 73.9h0M51.5 76.1h0M145.5 77.3h0M163.5 82.2h0M11.7 87.1h0M195.6 74.1h0M166 84.5h0M28.7 80.6h0M55.8 75.2h0M63.1 86.1h0M8.7 66.4h0M186.5 90.5h0M137.1 79.3h0M69.5 84.4h0M38.8 77.8h0M73.2 81.4h0M78.5 82.4h0M107.8 82.6h0M13.7 81h0M44.6 86.7h0M28.6 79.1h0M44 75h0M166 83.2h0M19.1 85.7h0M153.5 74.3h0M162.1 79.4h0M18.7 77.8h0M34.4 78.6h0M197.6 85.1h0M149.3 77h0M48.8 78.4h0M158.8 77h0M131.6 79.7h0M204.4 73h0M124.6 73.4h0M188.1 76.4h0M111.9 78.8h0M48.4 79.4h0M164.8 72h0M66 78.7h0M53.6 80.5h0M103.3 79.6h0M192.9 81h0M100.9 77h0M118 77.2h0M96.2 78.6h0M133.1 87h0M38.4 78.2h0M191.1 80.9h0M81.1 78.7h0M128.9 80.5h0M155.3 76.9h0M64.4 88.6h0M64.5 81.1h0M189 86.1h0M182.1 82.1h0M120.2 85.3h0M191.3 82.5h0M102.7 78h0M181.9 90.2h0M97.6 82.7h0M169.5 80.9h0M111 73.5h0M58.4 85.2h0M175.8 82.3h0M49.8 88.1h0M132.2 80.9h0M45.6 78.1h0M149.2 77.2h0M148.9 80.6h0M23 87h0M122.1 78.1h0M53 81.5h0M70.2 85.6h0M55.2 76.3h0M151.7 81.2h0M113.6 81.8h0M201.3 79.2h0M71.3 69.8h0M126.7 73.3h0M137.5 77.6h0M6 81.7h0M86.9 81.2h0M196.8 80.7h0M201.4 80.1h0M93.6 86.3h0M118.3 77.9h0M166.5 84.2h0M198 78.9h0M101.7 69.9h0M53.1 89.2h0M86.9 78.3h0M205.7 72.9h0M44.1 78.7h0M78.9 77.5h0M182.9 76.5h0M208.8 126.8h0M80.9 74.6h0M40.1 76.7h0M54.2 76.2h0M104.5 77.6h0M149.7 77.3h0M196.3 61.4h0M171.9 83.2h0M181.9 80h0M6.1 77.8h0M44.7 73.8h0M16.6 80.6h0M151.1 82.2h0M166.5 82.5h0M115.6 74.7h0M35.5 87.3h0M131.8 78.3h0M119.5 87.6h0M39.6 75.4h0M103.1 74.8h0M212.1 126.2h0M89.1 84.7h0M210 122.1h0M162.6 82.3h0M131.6 71h0M159 76.9h0M16.7 79.9h0M30.7 81.1h0M210.6 126.6h0M101.3 67.6h0M24.6 74.1h0M97.2 79.9h0M62.3 78h0M147.9 79.8h0M116.3 83.4h0M61.4 81.6h0M36 74.8h0M173.1 73.4h0M86.3 86.6h0M58.2 83.6h0M69 76.4h0M92 79.9h0M189 86h0M195.8 62.2h0M51.9 84.2h0M75.8 80.7h0M54.8 81.8h0M77.8 76.4h0M18.6 75.8h0M26.9 74.1h0M200.4 66.9h0M170.1 84.5h0M66.3 80h0M108.7 77.9h0M77.4 73.8h0M48.1 80.4h0M102.6 71.6h0M150.6 78.4h0M174.5 86.2h0M79.2 82.2h0M205.1 91.9h0M170.6 77.2h0M143.9 85.3h0M43.7 77.5h0M122.7 87.4h0M9.2 80.5h0M117.2 82.3h0M96.8 75.2h0M152.5 78.4h0M88.9 79.5h0M189 81.7h0M94 83.4h0M125.1 79.5h0M3.7 88h0M109.6 85.9h0M138.3 90.2h0M9.2 76.6h0M29.6 77.1h0M70 75.7h0M114.2 85.4h0M164.1 78.5h0M144 84.2h0M208.2 121.3h0M39.9 83.3h0M62.7 84h0M38.7 86.9h0M10.2 80.3h0M136 83.3h0M122.2 72.2h0M82.2 73h0M139 83.5h0M57.3 79h0M123.7 80.5h0M79.9 76.8h0M44.6 80h0M71.7 78.9h0M88.5 84.4h0M74 77.2h0M33.2 76.7h0M55.1 77.8h0M140.7 84.2h0M9.8 75h0M131.8 78.9h0M50.6 77h0M42.4 72.8h0M158.6 81.4h0M13.4 80.3h0M17.8 84.3h0M45.6 84.5h0M4.2 81h0M15.3 79h0M181.1 82h0M195.4 66.1h0M22.5 77.3h0M116.7 76.5h0M18.9 82.1h0M69.6 81.6h0M212.2 117.4h0M197 75.9h0M22 85.9h0M177.9 80.1h0M211.9 130.5h0M110.9 73.1h0M167.1 75.9h0M161.4 82.8h0M115.9 80.4h0M28.7 84.6h0M8.1 82.8h0M66.4 74.8h0M82.2 84.6h0M179.5 82.4h0M192.6 76h0M173.8 79.7h0M191.1 73.7h0M203.6 76.6h0M120.6 80.5h0M28 72.3h0M189.9 88.8h0M70.2 79.4h0M116.3 87.2h0M106.4 77h0M21.2 75.7h0M54.5 67.5h0M144.4 49.7h0M158.2 80.2h0M1.6 87.3h0M78.1 77.9h0M79.2 76.6h0M59.7 73.7h0M160.5 76h0M157 74.3h0M190.3 89.2h0"/>
<path stroke="#4a4a4a" stroke-opacity=".52" stroke-width="1.05" d="M191.8 63.1h0M191 75.2h0M173.7 86h0M196.8 68.6h0M156.8 77.2h0M89.1 81.3h0M36 79.4h0M90.1 89.8h0M193.8 63.1h0M192.4 89.7h0M87.4 96.8h0M5.8 77.3h0M47.8 63.8h0M88.9 80.1h0M2.9 88.5h0M161.8 81.5h0M124.1 95h0M73.1 70.7h0M185.3 82.7h0M66.2 77.7h0M160 84.4h0M16.5 67.1h0M145.9 74.1h0M95.2 47.3h0M69.1 87.8h0M157 78.9h0M50 78.5h0M18.2 80.1h0M20.5 74.4h0M97.8 78.7h0M209 128.8h0M147.5 78.8h0M89.3 91.1h0M166.1 88h0M132.3 78.6h0M34.2 95.4h0M59.1 83.1h0M69.6 84.9h0M147.5 71.5h0M17 87.9h0M86.3 79.7h0M10.4 83.4h0M11.7 76.2h0M54.1 91.7h0M164 94.5h0M38.2 101.3h0M120.8 77.4h0M190.8 97.7h0M117.1 83.4h0M161.9 85.7h0M75.3 84.6h0M69.4 96.3h0M97.6 74.2h0M52.9 75h0M162.7 70.4h0M74.6 87.1h0M25.3 54.3h0M202.8 75h0M114.5 71.2h0M13.8 69.8h0M65.1 82.1h0M85.8 105.8h0M144.7 80.8h0M17.7 65.6h0M110.8 76.7h0M141.9 85h0M6.1 92.5h0M139.6 81.1h0M119.6 86.1h0M173.8 85.6h0M155.4 84.5h0M184 72h0M133.1 86.7h0M208.3 139.3h0M187.2 88.9h0M53.7 76.5h0M19.3 81.4h0M149.5 97h0M88.4 88.4h0M81.7 79.1h0M94.5 75.8h0M29 80.7h0M111.8 84.6h0M8.9 84.5h0M43.4 75.9h0M156.8 76.8h0M36.5 79.4h0M7.8 87.5h0M117.4 75.1h0M120.5 73.2h0M61.5 91.3h0M150.8 91h0M165.4 91.7h0M146.8 85.1h0M58.9 75.8h0M128.1 85.8h0M160.6 66.2h0M203.5 72h0M159 95h0M10.9 73h0M90.2 79.2h0M40.3 88.3h0M160.2 89.3h0M156.8 71.3h0M204.3 109.2h0M21.7 85.8h0M123.1 84h0M7.6 88.7h0M30.8 90.2h0M205.7 93.2h0M14.4 106.4h0M32.5 78.4h0M8.8 86.6h0M18.5 69.7h0M.9 93.8h0M174.2 95.8h0M164.6 73h0M5 74.1h0M30.2 62.6h0M132 77.1h0M163.7 86.8h0M42.6 81.9h0M18.8 69.5h0M200.3 62h0M142 87.2h0M121.8 71.3h0M117.2 77.6h0M75.5 66.4h0M199.5 91.5h0M113.2 74.9h0M177.7 97.9h0M74.9 87.5h0M82.7 91.3h0M40.2 82.8h0M58.6 86.3h0M131.8 101.4h0M36.1 66.2h0M141.3 90.3h0M147.3 85.5h0M7.7 77h0M39 88.7h0M110.7 78.8h0M94 95.8h0M27.7 73.7h0M161.4 78.3h0M37.3 93.5h0M71.5 103.4h0M113.7 82.7h0M140.8 85.7h0M120.9 83.2h0M83.9 90.7h0M64.1 90.3h0M141.3 82.8h0M134 92.4h0M115.5 88.5h0M23.8 65.4h0M90.4 80.7h0M12.3 75.3h0M168.1 93.1h0M27.4 77.6h0M93.8 84.1h0M182.7 83.7h0M112.7 80.6h0M185.7 79.6h0M40.9 81.1h0M153.4 83.7h0M6.1 77.4h0M80.9 91.4h0M188 100.7h0M128 86.2h0M192.6 86.8h0M55.7 97.8h0M207.5 139.2h0M33.1 87.6h0M140 73.8h0M34.4 87.4h0M117.9 83.2h0M48.2 79.3h0M136.9 76.3h0M25.2 94.9h0M42.7 64.3h0M51.6 83.4h0M3.6 91h0M69.5 81.9h0M186.7 78.2h0M138.3 84.1h0M123.1 96.2h0M169.4 91.2h0M39.7 83.9h0M29.4 74.6h0M212.3 118.2h0M27.4 91.3h0M108.3 92.9h0M53.4 78.2h0M28.6 87.6h0M96.9 76h0M92.2 74h0M76.6 69.8h0M93.4 77h0M186.9 78.4h0M149.4 64.7h0M129.3 101.3h0M67 85.2h0M152.6 84.7h0M15.5 72.1h0M91.8 91.4h0M151.8 67.1h0M179.6 68.3h0M181.7 88.4h0M104.5 82.8h0M127.2 70h0M122.5 95h0M76.9 91.7h0M208.2 129.5h0M179.4 81.9h0M13 77.6h0M39 83.6h0M198.8 77.6h0M82.5 99.6h0M13.9 83.7h0M174.3 102.3h0M207.8 136.7h0M114.2 84.9h0M96.1 87.1h0M185.3 94.9h0M77.3 78.8h0M68.1 85.6h0M84.2 77.3h0M110.3 79.9h0M107.5 86.5h0M89 68.2h0M37 80.3h0M79.1 71.4h0M134.4 79.2h0M74.5 82h0M150 99h0M17.8 81h0M182.3 88.8h0M108.7 81.4h0M75.3 77.9h0M62.5 77.7h0M22.1 97.2h0M75.7 81.6h0M163 82.3h0M199 78.4h0M22.9 76h0M160.5 72.5h0M57.5 86.5h0M136.8 99.5h0M11.6 83.7h0M46.8 84.4h0M30.3 81.3h0M52.2 93.8h0M134.2 86.6h0M19.2 80.4h0M23.6 65.9h0M45.2 85.3h0M39.3 73.3h0M125.3 83.8h0M59.2 70.1h0M75.1 69.4h0M110.2 99h0M186.7 71.9h0M30.2 78.7h0M122.2 100.7h0M38.4 77h0M197.2 79.8h0M67.5 87.7h0M194.7 63.5h0M64.9 63.6h0M23.6 83.8h0M6.7 74.3h0M213.5 137.7h0M165.8 76.4h0M141.3 87h0M15 81.8h0M183.7 82.1h0M28 92.3h0M138.6 75.8h0M140.8 75.9h0M32.2 90.9h0M60.7 76.3h0M71.2 80.6h0M201.4 87.9h0M177 75.1h0M164.3 91.8h0M69.8 73.9h0M22.6 80.9h0M51.2 82.9h0M140.7 95.3h0M13.1 89.5h0M78.3 78.7h0M72.9 57h0M181.8 85.8h0M16.6 78.8h0M101.2 76.4h0M156.5 79.6h0M128.1 96.5h0M115.9 65.1h0M40.2 84.3h0M130 67.3h0M184.6 93.2h0M160.2 83.7h0M149.6 79h0M98.2 72.6h0M191.5 88h0M147.9 65.9h0M42.1 94.3h0M69.3 91h0M20 99.5h0M89.4 115.5h0M78.3 76.3h0M139.6 87.7h0M46.1 79.6h0M199.3 88.3h0M142.2 70.3h0M184 79.1h0M98.5 85.3h0M173.6 81.7h0M192.8 93.3h0M119.9 91.5h0M97.7 90.5h0M205.2 73.7h0M44.7 80.3h0M13.6 85.1h0M72 85.1h0M115.8 103.8h0M6.7 95.4h0M132.9 66.6h0M140.5 92.7h0M148.6 66h0M174.8 88.1h0M5.6 117h0M114.2 104.5h0M46.5 87.2h0M27.1 76.9h0M165.8 79.7h0M212.4 146.8h0M115.8 65.4h0M182.1 92.4h0M196.8 74.5h0M212.7 143.1h0M70.9 75.3h0M119.7 93.9h0M108.1 87.5h0M174.6 82.4h0M140.4 82.5h0M34.3 84.3h0M103.5 95.1h0M160.1 91.9h0M141.9 83.8h0M39.2 87.5h0M125.3 94.5h0M150.5 90.1h0M187.7 102.9h0M36.8 85.2h0M15.6 80.5h0M57.6 92.8h0M92.8 85.3h0M117.7 87.7h0M28.5 59.3h0M109.8 90h0M137.9 88.3h0M16 88.9h0M77 74.1h0M69.7 81.1h0M211.5 125.4h0M56.5 97.8h0M91.3 69.1h0M213 150.7h0M200.8 91.1h0M172.3 84.7h0M153 95.8h0M128.3 74.4h0M55.2 77.4h0M195.5 72.6h0M58.9 84.8h0M14.2 91.7h0M97.2 93.1h0M2.3 67.9h0M133.1 83.7h0M167 82.6h0M10.8 100.2h0M6.7 85.9h0M79.9 93.7h0M162.2 100.7h0M197.1 89.7h0M79.1 92.8h0M83 77h0M206.6 130.6h0M136.4 93.7h0M162 69.4h0M59.9 83.4h0M49.3 80.2h0M106.9 82.8h0M50.4 91.6h0M48 86.9h0M124.8 62.9h0M49.3 92.8h0M120.2 71.1h0M174.7 81.6h0M199.5 92.6h0M86.8 78.6h0M7 71.8h0M166.2 93.4h0M156.3 97.7h0M108 86h0M90.1 89.9h0M112.7 95.7h0M200.1 65.2h0M135.2 76.3h0M92.7 85.2h0M55.7 70.1h0M189.4 88.9h0M102.4 104.9h0M81.9 85.3h0M146.7 70.8h0M92.5 66.5h0M58.7 103.1h0M181.6 100.2h0M118.8 81.6h0M207.8 126.5h0M38.8 80h0M40.8 84.3h0M142.9 80.7h0M148.7 76.5h0M171.4 86.3h0M202.8 78.9h0M37.3 79.7h0M68.2 80.3h0M212.6 115.6h0M105.2 75.1h0M19 71.2h0M165.2 84.9h0M19 74.6h0M7.1 81.9h0M51.7 88.9h0M43.2 84.7h0M137.9 91.6h0M204.2 94.5h0M115.5 87.2h0M68.3 72.9h0M180.1 99.4h0M80.5 100.5h0M32 72.1h0M179.1 80.7h0M14.8 83.5h0M53.5 97.1h0M179.6 99.8h0M180.8 87h0M65.6 83.2h0M193.2 81h0M45.4 81.3h0M60.5 83.6h0M176 101h0M106.7 96.6h0M197.3 78h0M46.8 81.3h0M17.6 76.2h0M143.8 90.5h0M210.8 133h0M140.9 67.7h0M.5 89.9h0M123.5 84h0M104.1 75.9h0M13.3 79h0M7.1 77h0M115.4 88.8h0M25.9 83.4h0M185.2 102.4h0M64 89.2h0M4.9 92.5h0M62.6 76.1h0M206.9 113.8h0M38.3 69.6h0M56.5 75.6h0M177.6 83.3h0M59.2 78.3h0M183.4 90.5h0M26 88.3h0M76.7 96h0M9.5 77.2h0M146.8 70.9h0M46.2 79h0M168.2 92.2h0M198.6 49.3h0M175.6 94.9h0M121 75.5h0M159.3 86.6h0M39 84.2h0M145 79.8h0M27.9 81.4h0M15.6 64.1h0M124.8 80.5h0M107.2 68.7h0M2.8 52.3h0M105.7 82.5h0M105.5 83h0M196 78.4h0M103.6 88.6h0M158.8 84.2h0M38.7 72.1h0M120 67.8h0M184.4 85h0M145.6 72h0M178.5 107.3h0M33.2 94.7h0M47.7 77.6h0M119.7 91h0M49.5 71.9h0M202.3 84.3h0M107.2 97.8h0M36.8 66.4h0M124.6 88.9h0M49.3 86.5h0M148 87.2h0M143.4 98.3h0M169.3 90.6h0M85.2 84.7h0M120.3 98.6h0M15.7 94.5h0M36.7 60.5h0M104.1 64.2h0M116.5 95.8h0M39.5 89.5h0M106.6 101.4h0M141.4 77.3h0M179.8 99.7h0M167.5 94.2h0M161.5 90.4h0M135.7 87.2h0M163.1 66.6h0M109.7 90.5h0M91 109.7h0M159.8 84.5h0M120.5 72.7h0M13.2 90.4h0M40.6 72.6h0M165.8 89.6h0M44.7 70.8h0M76 86.5h0M35.2 74.8h0M145.6 66.6h0M44 85.1h0M64.3 93.9h0M86 93.8h0M151.1 104.7h0M166.7 88.4h0M19.6 96.3h0M209.4 139.4h0M58 76.6h0M176.4 81.7h0M66.6 103.9h0M109.9 65.6h0M36.2 79.9h0M134.6 69.8h0M192.8 84.6h0M142.1 71h0M57.8 87.9h0M208.2 149.5h0M207 123.4h0M93.6 87.4h0M100.6 96.3h0M41.3 64.2h0M82.8 70.8h0M114.2 94.2h0M119.2 67h0M121.8 82.4h0M45.6 89.9h0M203.7 98h0M77.8 83.9h0M162.9 72.3h0M206.6 129.4h0M177.3 88.4h0M36.3 79.2h0M121 74.7h0M114.9 82.8h0M180.6 92.8h0M134.1 103.2h0M95.1 90.4h0M164.1 94h0M93.6 112.4h0M70.2 90.9h0M130.1 75.2h0M114.1 93.4h0M5.8 74.4h0M9.1 72.5h0M102 76.8h0M60.6 92h0M201.8 68.9h0M156 100.3h0M197.9 79.7h0M122.9 95.9h0M52.3 87.5h0M62.7 67.7h0M77.1 93.9h0M146.2 88.4h0M181.8 84.7h0M124.5 76.1h0M71.3 99.6h0M55.1 84.2h0M51.9 64.7h0M97.4 77.3h0M123 89.4h0M90.5 80.5h0M158.1 101.9h0M77.2 92.4h0M57.3 64.2h0M110.7 78.5h0M203.1 78.8h0M122.5 77.9h0M72.1 86.3h0M106.8 75.5h0M72.5 79.6h0M35.4 104.6h0M42.7 79.7h0M183.5 77.6h0M175.2 91h0M47.4 77.7h0M37.8 69.6h0M63.4 88.5h0M39.5 82.1h0M57.3 90.8h0M16.2 65.8h0M115.4 108.1h0M62.4 78.6h0M199.7 85h0M203.6 79.9h0M130.9 89.9h0M55.8 66.6h0M158.6 80.8h0M3.4 89.1h0M45.3 65.2h0M194.9 71.3h0M16.1 94.1h0M80 69.7h0M92.7 72.8h0M33.3 92.8h0M92.1 86.2h0M170.6 96.5h0M64.3 99.8h0M114.4 75.3h0M88.9 86.4h0M48.7 88.1h0M103.4 83.2h0M124.6 80h0M203.1 73.3h0M158.1 82.2h0M45.3 65.3h0M18.1 90.1h0M6.7 92h0M45.3 77.1h0M47.5 80.9h0M175.8 74.9h0M11.5 99h0M190.6 81.3h0M148.1 83.5h0M16.1 89.7h0M133.5 82.7h0M186.1 93.4h0M99.7 80.7h0M116.9 103.5h0M4.4 80.7h0M163.4 85.4h0M134 92.3h0M17.6 87.8h0M113.9 102.4h0M191.5 87.1h0M145.3 79.3h0M106.4 91.2h0M104.9 82.4h0M91.2 90h0M126.9 107.4h0M135.2 78.8h0M128.6 73.2h0M138.3 89.1h0M95 73.5h0M186 77.7h0M174.8 89.4h0M61.2 75h0M33.3 97.9h0M18.8 85.9h0M111 71.9h0M102.4 71.2h0M131.2 89.5h0M107.5 84.9h0M7.4 92.5h0M108.7 57.9h0M20.9 67.2h0M38.9 84h0M35.1 64.3h0M60.6 85.7h0M209.3 142.5h0M94.2 75.5h0M117.5 74.8h0M128.2 65.3h0M135.3 99h0M104.4 74.1h0M138.4 89h0M182.4 81.6h0M53.4 88.7h0M156 98.6h0M100.4 60.9h0M35.5 73.8h0M106.6 62.1h0M156.1 99.5h0M152.5 93.9h0M67 98.2h0M146.6 87.9h0M33.1 80.1h0M32.5 72.2h0M205.3 69.2h0M2.7 76.7h0M146.2 68.4h0M172.1 83h0M98.8 64.2h0M38 78.3h0M86.4 93.4h0M182.5 77.7h0M165.5 74h0M128.5 90.1h0M193.4 72.3h0M73.4 95.8h0M33.3 97.6h0M125.7 84.7h0M26.9 98.1h0M117.6 88.6h0M177.4 71.1h0M147.2 78.3h0M164.5 92.2h0M69.3 96.9h0M86.4 95.1h0M204.4 69.4h0M114.8 78.7h0M193 65.1h0M97.1 92h0M207.7 150.8h0M70.4 76.4h0M186.7 74h0M49 87.3h0M36.2 94.7h0M182.1 89.2h0M135 74.1h0M94.5 106.6h0M43.6 75.8h0M158.3 71.2h0M84.8 103.6h0M130.2 72.1h0M72.2 82.3h0M87.5 67h0M13.8 90.3h0M44.5 88.4h0M27.8 90.4h0M170.4 76.2h0M35 83.1h0M112.7 101.4h0M182.6 92.5h0M106.1 91.9h0M68.5 85.2h0M39.9 83.1h0M210 150.6h0M95.1 80.8h0M109.5 73.9h0M140.3 82.7h0M80.3 64.4h0M90 78.3h0M174.7 95.9h0M164.1 90.7h0M11.9 85.8h0M212.3 138.3h0M205.1 82.3h0M111.7 82.2h0M30 81.7h0M15.8 83.4h0M212.9 135.1h0M182.7 85.9h0M19.6 54.1h0M135.4 84.4h0M118.5 100.4h0M11.8 87.1h0M108.8 95.9h0M130.9 93.2h0M78 73.4h0M61.2 82.1h0M2.6 98.4h0M134.6 78.2h0M99.5 72.4h0M150 78.4h0M113 83.3h0M157.5 87h0M138.7 84.1h0M42.5 77.1h0M172.6 82h0M118.2 72.9h0M67.5 98.3h0M33.3 72.6h0M205.7 85.4h0M9.9 60.3h0M75.8 91.6h0M143.5 89.9h0M62.7 74.8h0M156.8 81.1h0M48.2 92.9h0M167.6 74.7h0M37.2 94.9h0M48.8 88.6h0M194.4 86.7h0M34 94.1h0M89.2 92.1h0M179 84h0M100.4 66.7h0M66.4 106h0M58.9 96.4h0M56.8 67.4h0M13.4 90h0M46.7 85.9h0M118.8 64.8h0M50.8 81.4h0M1.9 92.8h0M23.7 101.2h0M12.8 91h0M102.9 81.9h0M77.7 83.9h0M167.7 91.5h0M191.5 74.8h0M202.3 81.6h0M168.9 94.2h0M157.2 86.2h0M57.3 85.2h0M23.1 67.2h0M207.6 115.8h0M102.5 97.9h0M206 143.1h0M54.2 77.9h0M138.8 62h0M140 71.3h0M13.3 83.4h0M162 79.2h0M89.5 82h0M95.4 92.2h0M205.3 92.9h0M182.5 90.3h0M20.5 80h0M140.5 83.4h0M11.3 93h0M39.8 90.2h0M46.1 91.2h0M33.2 95.8h0M152.9 63.9h0M104.7 99.2h0M15.6 95.9h0M178 93.6h0M11.6 88h0M9.5 79.5h0M172.4 60h0M115.8 103.6h0M121.5 91.7h0M169 101.2h0M159.4 84.2h0M8.3 71.7h0M37.1 101.7h0M204.5 83.7h0M57.5 74.6h0M112.2 92.6h0M194.8 42.4h0M17.1 77.6h0M159.1 80.4h0M143.4 69.4h0M197.7 88.6h0M18.6 84.8h0M206.5 156h0M47.2 105.8h0M36.3 67.8h0M156.6 90.2h0M7.3 80.2h0M103.5 81.7h0M14.9 67.8h0M71.5 80.7h0M44.3 84.6h0M52.4 82h0M33.8 78.4h0M60.7 71.6h0M59.4 79.6h0M112.8 84.8h0M126.5 71.4h0M36.6 86.8h0M28.2 84.6h0M14.8 76.6h0M173.9 82.6h0M173.4 97.6h0M20.5 85.6h0M158.2 84.4h0M180.2 84.7h0M70.2 86.7h0M19.4 91.7h0M147.8 91.9h0M203.6 75.5h0M122.6 77.9h0M181.9 79.1h0M147.7 86h0M209.9 127.3h0M193.2 67.5h0M134.8 86.8h0M212 145.1h0M138.2 89h0M109.1 88.8h0M3.1 83.1h0M72.6 91.3h0M81.4 84.3h0M53.2 85.1h0M198 66.2h0M41.5 72.4h0M135.9 90.8h0M58.5 88.3h0M78.7 84.4h0M168 93.6h0M154.8 82.2h0M10.7 81h0M85.8 74.2h0M27 91.6h0M100.4 88.8h0M89.6 77.8h0M183.1 102.8h0M20.7 53.3h0M59.5 76.4h0M34.4 72.7h0M67.8 93.5h0M39 96.1h0M38.7 74.3h0M185.6 87.1h0M178.8 83h0M198 82.8h0M31.2 78.1h0M201.3 70.7h0M42.1 71.9h0M111.3 96.6h0M127.6 75.2h0M207.1 127.7h0M175 86.4h0M48.5 81.9h0M204.1 88.4h0M93.6 104.1h0M88.9 74.5h0M23.6 95.7h0M1.9 87.9h0M55.7 64.6h0M40.7 82.8h0M148.8 85.4h0M212.5 112.2h0M50.8 85.3h0M68.9 79.8h0M48.6 69.7h0M17.6 80.3h0M34.3 93.8h0M72.1 90h0M151.6 100.2h0M80.7 89h0M28.9 103.8h0M74.8 106.8h0M130.5 78.6h0M8.3 78.2h0M196.9 65.5h0M206.1 134.6h0M89.3 82.5h0M15.7 87.3h0M78.8 89.7h0M38 88.7h0M167.1 96.4h0M7.6 88.6h0M53.8 79.7h0M179.1 76h0M76.9 98.6h0M152.8 74.3h0M136.5 89.2h0M172.3 102.9h0M175.8 90.5h0M177.2 104.9h0M204.7 79.4h0M143.4 98.9h0M67.2 85h0M29.4 90.8h0M179.8 84.1h0M60.4 92.1h0M58 82.2h0M70.8 94.1h0M6.5 87.7h0M159.1 105.9h0M85.5 78.7h0M82.9 103.4h0M105.7 80.3h0M69.6 100.5h0M145.3 87.1h0M117.2 89.2h0M66.8 77.7h0M83.9 64.3h0M67.7 112h0M15.4 86.5h0M113.7 88.8h0M147.1 86.1h0M124.4 82.6h0M48.5 64.2h0M31.4 105.1h0M128.8 79.1h0M73.8 81.1h0M102.7 100.4h0M144.4 67.6h0M38.2 78.7h0M193.8 81.4h0M169.1 82.7h0M156.4 75.4h0M88.6 64h0M142.3 87.1h0M71.9 83h0M120 74.5h0M133.3 80.4h0M172.8 93.6h0M7.9 77h0M91.4 67.2h0M35.4 71.9h0M120 80.9h0M1.5 61.4h0M134.5 68.4h0M33.8 91.1h0M91.3 75.2h0M150.2 104.7h0M111.6 89.8h0M191.6 70.6h0M58.9 71.9h0M81 77h0M5.8 66.7h0M42.7 70.8h0M176.9 87.9h0M109.7 87.5h0M110.2 76.9h0M197.7 83h0M118.8 79.3h0M140.6 88.1h0M32.7 86.1h0M176.8 85.6h0M205.9 55.2h0M58.4 100.4h0M32.8 85.2h0M101.4 68.4h0M209.8 110.6h0M95.3 79.7h0M40.2 87.8h0M200.5 67.5h0M112.1 68.8h0M128 99.7h0M82 72.1h0M29.3 94h0M84.4 86.8h0M23.2 96.1h0M150.2 87.4h0M188.3 86.8h0M79.3 66h0M184.5 79.4h0M98.2 72.8h0M201.8 67.3h0M164.6 92.9h0M36.1 88.9h0M156.7 90h0M155.9 87.6h0M1.2 66.7h0M15.6 73.5h0M75.4 66.9h0M169.2 80.5h0M73.3 78.5h0M172 89.8h0M171.7 92.6h0M164.8 103.1h0M134 77.5h0M83 95.1h0M66 85.7h0M22 75.1h0M69.4 70.7h0M118.8 81.2h0M180.8 71.1h0M197.3 77.3h0M22.2 58.9h0M23.6 81.3h0M153.3 73.4h0M98.6 70.3h0M40.3 72.4h0M165.4 83.9h0M128.3 80.6h0M186 103.2h0M62.1 97.5h0M144.2 70.8h0M95.6 86.4h0M107.7 79.7h0M192.9 61.2h0M178.5 105.1h0M206 141.2h0M199.6 57.8h0M161.5 108.1h0M27.7 96.3h0M184.9 88.7h0M198.8 75.4h0M19.9 64.1h0M109.6 69.4h0M7.6 72h0M40.8 85.1h0M131 73.1h0M131.9 96.6h0M81.1 80.6h0M34 76.5h0M61.6 78.6h0M96.6 82.3h0M125.2 95h0M26.9 69.5h0M44.8 67.6h0M31.1 106.6h0M106.3 72.1h0M203 81.7h0M167.2 73.7h0M16.5 60h0M13.6 77.7h0M170 83.7h0M142.6 75h0M52 73h0M24.7 82.4h0M130.1 92.9h0M143.3 77.7h0M27.1 83.9h0M146.4 81h0M210.6 138h0M58.5 87.9h0M71.5 88.1h0M22.2 102.7h0M58.5 81.2h0M26.4 83.3h0M152.7 81.9h0M185.8 81.7h0M117.9 80.4h0M75.1 82.7h0M142.2 73.2h0M112.7 89.1h0M82.4 82.3h0M190.8 80.6h0M151.5 103.7h0M33.7 70.5h0M36.4 68.2h0M92.7 86.1h0M23 102.9h0M130.9 78.2h0M52.5 75.5h0M19.9 77.8h0M146 68h0M185.1 106.5h0M133.6 85.8h0M33.8 96.3h0M145.2 70.8h0M35.4 83.4h0M96 96.7h0M116.8 88.2h0M100 85.2h0M123.1 79.2h0M175.6 100.6h0M24.6 76.6h0M148.3 85.4h0M46.9 83h0M101.5 80h0M31.8 72.6h0M204 79.6h0M86.6 73.4h0M61.9 70.9h0M199 79.1h0M169.1 93.7h0M145.6 90.2h0M153.4 84.9h0M116.3 84.3h0M122.8 91.5h0M92.8 80.3h0M56.8 87.2h0M119.8 66.3h0M17.1 99.2h0M104.4 84.1h0M188.2 81h0M87.7 83.4h0M168 82.8h0M180.2 106.6h0M189 104.9h0M30.1 89.2h0M36.3 92.1h0M37.2 68h0M107.1 96.1h0M132.6 85.1h0M97.5 90.6h0M154.5 88.5h0M91.8 89h0M56.5 53.7h0M32.1 93.9h0M103.5 87.6h0M60.5 80.6h0M103 74.9h0M34.1 79.5h0M22.7 61h0M26.8 72.6h0M156.9 84.3h0M164.6 70.7h0M62.3 78.2h0M36.8 66.6h0M94.2 97.6h0M132.6 86.3h0M174.2 100.6h0M64.3 73.6h0M155.2 84.6h0M125.4 84.7h0M207.6 134.3h0M122.8 81.5h0M11.1 74.8h0M23.3 112.3h0M43.6 94h0M176 98.7h0M52.8 72.3h0M180.7 75.4h0M46.8 84.7h0M14 81.1h0M152 78.6h0M176 62.1h0M99.4 81.6h0M80.4 87.6h0M31.9 67h0M181 84.2h0M150.3 89.2h0M204.6 83.9h0M51.3 86h0M4.4 98.4h0M66.4 91.3h0M28.2 84.5h0M153.6 94.8h0M146.9 78h0M59.4 90.7h0M165.4 90.9h0M13.5 73.7h0M48.9 78.3h0M191.5 78h0M59.4 79.5h0M201.4 95.5h0M161.5 100h0M112.7 93.7h0M112.7 75.4h0M29.2 76.1h0M30.1 84.3h0M159.7 85.5h0M133 78.8h0M200 76.6h0M54.1 93.6h0M63.8 81.9h0M163.6 80.9h0M199.5 69.8h0M198.2 80.1h0M103.5 73.2h0M104.1 86.4h0M204.7 101.6h0M6.7 87.2h0M206.9 146.1h0M197.2 79.4h0M200.2 70h0M39.5 92.6h0M142.4 60.2h0M27.8 95.8h0M160.6 102.2h0M58.8 97h0M127.1 70.9h0M45.9 70.7h0M51.7 59.6h0M109.7 62.1h0M78.8 88.8h0M84.4 90.4h0M213.4 121.1h0M43.4 103.5h0M67.2 73.6h0M102.2 70.3h0M3.8 84.8h0M113.9 65h0M139.6 83.2h0M93.7 95.1h0M73.4 73.4h0M48.5 71h0M31.2 73.4h0M91.4 75.4h0M179 105.3h0M14.3 90.2h0M75 111.3h0M102.7 67.7h0M123.1 99.1h0M38.2 88.6h0M8.8 76.8h0M107.8 90.8h0M125.5 78h0M174.6 75.6h0M195.3 91h0M92.6 99.5h0M157.9 72.4h0M200.5 94.7h0M25.4 89.5h0M85.2 69.4h0M144.8 111h0M152.1 82.8h0M155.5 97.5h0M64 62.4h0M125 85.4h0M131.6 83.9h0M213.2 137.5h0M110 96.3h0M38.1 64.1h0M131 94.3h0M120.8 79.9h0M77 90.6h0M129.1 69.3h0M27.1 76.5h0M62.1 58h0M148 81.4h0M161.7 72.4h0M136 90h0M209.7 132.1h0M110.9 76h0M206.6 106.2h0M105.6 87.1h0M208.1 113h0M89.9 95.9h0M.9 74h0M90.8 97.9h0M23.9 68.9h0M64.3 83.7h0M149.3 85.7h0M193.7 85.7h0M178.9 86h0M80.4 86.8h0M105.9 94.9h0M115 91.5h0M54.8 75.8h0M127.3 84.4h0M150.8 95.5h0M206.3 111.2h0M104.6 81.7h0M153.9 92.7h0M124.7 80.5h0M96.6 74h0M104.9 92h0M55.2 70.8h0M159.7 80.2h0M29.1 83.4h0M21.3 73.6h0M67.7 80.6h0M144.2 80.9h0M209.9 155.9h0M28.5 75.5h0M98.7 109h0M18.7 85.4h0M112.7 79.9h0M11.7 80.6h0M158 90.6h0M27.2 85.2h0M49.5 85.8h0M116.7 75.6h0M20.4 80.7h0M84.7 84.9h0M148.5 90.1h0M31.3 71.8h0M60.7 83.4h0M196.2 86h0M4.9 73.6h0M178.6 75.6h0M74.3 91.2h0M86.3 79.9h0M204.1 75.2h0M92.2 79.6h0M171.5 94.7h0M118.7 81.3h0M40.3 81.4h0M165 94.2h0M60.2 87.2h0M140 73.2h0M4.2 97.3h0M44.5 80.6h0M198.9 79h0M113.9 101h0M145.5 85.7h0M146.3 69.6h0M184.2 94.7h0M31.9 80.9h0M5.5 80.7h0M13.5 85.9h0M74.6 75.7h0M89.3 96.6h0M160.4 87.6h0M140.7 95.8h0M1.9 84.1h0M39.4 73.7h0M44.5 98.7h0M154.1 79.1h0M122.5 80.3h0M141.4 76.5h0M105.1 78.1h0M173.4 85.5h0M65 69.8h0M156.5 92.9h0M40.4 89.3h0M165.8 80.9h0M186.3 86.1h0M71.4 83.4h0M51.5 92.9h0M133.4 83.6h0M67 83h0M44.2 81.5h0M143.9 93.1h0M193.4 76.2h0M40.9 92.6h0M43.2 79.8h0M59 82h0M134.4 77.2h0M136 66.9h0M123.2 81.5h0M107.8 73.4h0M68 98.5h0M189.5 86.2h0M49.4 56.7h0M141.4 80.9h0M1.9 96.7h0M9.1 93.3h0M65.1 64.6h0M157.2 72h0M157.5 72.4h0M179.4 65.8h0M132.2 65.2h0M14.6 85.4h0M49.8 69.8h0M59.6 84.5h0M42.1 80.4h0M14.5 77.5h0M81.8 98.4h0M162 56.4h0M128.7 71.2h0M2 67.5h0M99.5 82.8h0M193.9 97.7h0M177.9 78.6h0M203.5 99.9h0M147.1 78h0M200.1 91.7h0M127.1 84.8h0M96.3 99.9h0M165.6 91.6h0M130.8 68.1h0M76.3 94h0M16.7 76.6h0M207.5 129h0M184.5 77.7h0M53.5 86.5h0M159.7 76.6h0M176.2 67.1h0M143.8 67.7h0M157.4 82.2h0M58.2 84h0M97.4 78.5h0M86.3 97.9h0M166.7 82.9h0M121.9 79.5h0M90.9 70.8h0M33.5 93.3h0M127.8 76.2h0M62.9 65h0M132.4 80h0M73.3 71.4h0M37.3 82.2h0M182.9 72h0M102.7 81.2h0M51.9 92.1h0M10.4 78.3h0M83 91.3h0M90.3 92h0M48.4 91h0M156.4 97.7h0M154.4 90.6h0M126.1 86h0M31.3 82.9h0M63.3 71.9h0M72.2 76.8h0M107.4 78.2h0M17.5 98.3h0M8.7 74.3h0"/>
<path stroke="#5a5a5a" stroke-opacity=".4" stroke-width=".9" d="M203.6 102.1h0M89.2 92.6h0M41.9 137.9h0M159.7 144.4h0M211.7 141.1h0M135.3 134.3h0M40.9 95.6h0M162 101h0M59 43.3h0M46.7 109.7h0M34.3 85.2h0M165 94.9h0M166.9 120.5h0M20.5 114.8h0M83.2 70.5h0M4.6 103.5h0M60.7 112.8h0M69.1 75.2h0M144.5 106.9h0M32.8 50h0M196.8 110.6h0M128.8 98h0M163.9 48.9h0M154.8 123.7h0M148.6 100.2h0M93.5 119.8h0M63.8 88.1h0M168.1 75.2h0M204 32.5h0M147.8 92.8h0M53.4 89.2h0M142.3 103.6h0M84.8 101.6h0M112.5 89.6h0M209.4 156.1h0M210.6 84.5h0M166.6 71.6h0M67.9 61.5h0M40.7 147.6h0M197.2 71.8h0M166.9 147.9h0M18.4 68.6h0M73.2 138.9h0M18.3 100h0M59.7 102.1h0M158.2 62.3h0M108.1 105h0M90.5 99h0M9.2 88.7h0M161.4 95.1h0M86.6 85.5h0M133.9 86.6h0M27.1 93.2h0M49.3 15.5h0M157.1 103.3h0M47.4 106.6h0M183.1 148.6h0M31.1 150.7h0M41.7 89.3h0M6.9 102.6h0M161.4 92.9h0M63.1 66.9h0M182.5 69h0M181.2 99.2h0M6.5 88.2h0M65.4 100.7h0M64.4 121h0M9.4 105.6h0M152.1 33.1h0M10.5 134.8h0M64.2 43.2h0M85.5 47h0M213.2 113.9h0M96.5 53.6h0M190.5 116.7h0M30.1 112h0M170.4 57.9h0M154.6 90.2h0M93.7 36.3h0M178.9 87.5h0M195.8 96.7h0M202.1 127.8h0M127.1 60.2h0M170.2 104.7h0M172.7 59h0M123.5 100.3h0M28.3 23.3h0M206.3 149.5h0M50.1 40h0M9.7 117h0M132.8 94h0M90.8 41.2h0M75.9 124.6h0M99.5 104.4h0M110.3 112.9h0M175.1 99.8h0M24.4 94.2h0M203.1 110.4h0M207.8 111.3h0M9.5 56.4h0M163.1 55.1h0M203.8 150.6h0M31.2 56.5h0M96.3 73.1h0M85.2 103.9h0M157.1 100.9h0M105.7 90.4h0M54.9 83.6h0M90.8 107.3h0M97.2 22.3h0M150 101.2h0M46.1 40.6h0M6.1 119.9h0M19.3 61.8h0M143.8 117.8h0M92.4 132.8h0M118.2 122.3h0M186.3 110.7h0M8.1 87.2h0M200.8 94.9h0M70.8 89.4h0M212.9 157.6h0M134.6 43.7h0M164.5 129.5h0M26.9 92.2h0M152.8 59.2h0M8.1 97.8h0M139.1 110.8h0M148.2 34.8h0M82.7 146.4h0M196.4 58.9h0M105.7 105.6h0M61.8 128.8h0M10.6 72.2h0M.5 97.6h0M9.4 105h0M176 10.5h0M131.7 101.1h0M28.4 89h0M37 103.8h0M174.1 87.9h0M113.8 54h0M52.7 82.1h0M202.8 108.7h0M187.8 111.1h0M142.6 73.4h0M99.5 97.3h0M13.2 103.6h0M168.5 101.6h0M57.4 88h0M47.6 108.6h0M115.4 120.9h0M59.3 142.7h0M.8 123.2h0M209.7 81.1h0M183.7 119h0M102.8 41.5h0M166.6 147.2h0M146.6 69.1h0M82.5 57h0M167.1 114.7h0M49.5 115.7h0M180.1 129.8h0M43.7 86.2h0M135.9 89.9h0M88.6 95.8h0M141.3 99.3h0M15.9 107.2h0M153.2 9.3h0M31.8 92h0M86.9 99.2h0M92.4 139.7h0M107.6 93.2h0M99 89.4h0M205.4 90.8h0M.9 135.5h0M199.6 128.3h0M168 103.6h0M2.6 99.5h0M1 18.3h0M148.6 113.1h0M210.2 98.4h0M123.2 89.9h0M14.7 112h0M2.7 85.7h0M10.3 113.4h0M4.2 48.9h0M149.8 39h0M36.5 44.7h0M.5 14.1h0M149 118h0M198.6 61h0M192.9 126.5h0M23.1 101.9h0M54.5 85.2h0M81.5 94.3h0M99.2 59h0M40.5 45.8h0M159.4 41.7h0M181.9 113.3h0M177.2 96.3h0M26.5 88.9h0M130.2 86.7h0M202.5 107.7h0M180.6 96.9h0M83.3 41.3h0M71.7 47.8h0M54.1 35.5h0M198.8 82.7h0M104.3 92.9h0M117 118.5h0M196.8 106.8h0M209.8 156.5h0M2.9 87h0M206.7 151.6h0M19.2 49h0M2.8 99h0M35.8 102.4h0M108.5 142.9h0M16.6 41.8h0M168 105.4h0M176.5 131.9h0M58.1 95.6h0M172.4 70.8h0M160.5 87.2h0M141.7 107.3h0M51 84.1h0M105.1 57.3h0M58.4 100.8h0M177.3 101h0M192.3 117.8h0M25.1 36.8h0M178.8 99.9h0M116.3 99.5h0M49.2 91.8h0M161.1 102.2h0M14.1 124.6h0M113.4 70.2h0M96.5 127.7h0M8.2 86.7h0M70.6 62.7h0M32.1 104.6h0M126.4 85.3h0M187.4 73.6h0M41.2 113.5h0M112.8 95.4h0M47.6 97.2h0M107.4 53.6h0M60.6 89.2h0M203.9 114.2h0M1 88.3h0M154.3 45.5h0M80.2 100.9h0M42.5 126.3h0M91.6 62.6h0M86.5 49.7h0M212.9 137.5h0M198.8 83.7h0M64.7 73.3h0M108.2 109.8h0M27.2 44h0M162.9 119.9h0M39 57.3h0M176.1 74.5h0M150.3 47.6h0M193.2 100.6h0M118.6 118.4h0M77.8 71.9h0M150.8 116h0M2.9 66.5h0M25.5 83.7h0M4.9 93.7h0M17.5 120.2h0M132.7 121.9h0M102.5 56.6h0M136.5 75.6h0M6.8 111.6h0M55.4 84.8h0M143.4 92.2h0M32.8 32.3h0M31.7 85.1h0M132.3 104.4h0M22.9 94.8h0M211.7 78h0M141.6 117.7h0M144.7 29.6h0M163.9 95.1h0M120.1 129.1h0M128.2 94.5h0M46.5 70.5h0M136.9 112.3h0M50.6 92.4h0M148.1 52.1h0M146.2 104.2h0M7.1 131.8h0M185 110.5h0M5.9 110.6h0M142.3 49.2h0M131.2 59.3h0M208.5 145.3h0M123.2 63.8h0M52.2 121.7h0M43.7 125.4h0M172.1 76.1h0M72.2 101.8h0M62.2 101.8h0M143.2 110.9h0M34.6 85.3h0M193.5 94.1h0M151.1 98.2h0M90.6 100.6h0M165.5 99.8h0M174.1 44.7h0M195.4 97.2h0M143.2 44.3h0M.5 109.3h0M154.6 102.3h0M82 59.3h0M.6 71.2h0M133.9 63.5h0M27.3 39.3h0M59.4 113.4h0M55.9 93h0M183.9 51.3h0M127.6 113.7h0M92.8 106.6h0M199.9 52.2h0M64.7 102.4h0M99.5 63.7h0M3.1 107.2h0M97.7 73.9h0M91.8 66.5h0M39.7 116.9h0M107.8 114.5h0M150.8 92.1h0M201.8 105h0M82.3 55.2h0M111.8 87h0M10.4 111.4h0M186.7 132.2h0M206.4 151.8h0M167.5 102.5h0M199 113.4h0M27.4 91.9h0M45.4 132.5h0M49.2 137.2h0M119.1 70h0M81.3 34.9h0M183.1 71.8h0M103.1 105.9h0M173.3 103.9h0M14.5 74.3h0M41.5 66h0M98.3 112.2h0M137.6 100.8h0M148.3 63.7h0M181.1 120.6h0M147.8 95.2h0M49.5 92.2h0M29.9 123.7h0M200.4 98.9h0M121.6 98.7h0M136.6 45h0"/>
</g>
</g>
<path stroke="#1c1c1c" stroke-width="1.3" fill="none" d="M421.21 436.7V595.5M442.23 436.7V595.5M458.85 436.7V595.5M473.86 436.7V595.5M490.48 436.7V595.5M504.39 436.7V595.5M518 436.7V595.5M522.91 436.7V595.5M535.62 436.7V595.5M547.23 436.7V595.5M553.94 436.7V595.5M560.34 436.7V595.5M565.4 436.7V595.5M575.86 436.7V595.5M584.37 436.7V595.5M585.57 436.7V595.5M592.07 436.7V595.5M597.03 436.7V595.5M602.03 436.7V595.5M608.69 436.7V595.5M612.09 436.7V595.5"/>
<path stroke="#0a0a0a" stroke-width="1" d="M406.2 516.2H620.1"/>
<path stroke="#ef8a10" stroke-width="2.2" fill="none" d="M406.3 516.7H421.1M421.1 514.6H442.1M442.1 515.1H459.1M459.1 512.5H464.1M463.2 517.3H473.5M473.5 517.3H490.7M490.7 516.2H495.7M494.8 517.8H504.5M504.5 510.9H509.8M509 516.2H514M510 516.7H517.8M517.8 516.7H522.8M522.8 515.7H535.3M535.3 517.8H546.9M546.9 515.7H553.6M553.6 515.1H560.4M560.4 517.8H565.4M565.4 517.8H575.7M575.7 518.3H585.2M585.7 518.3H592M592 519.4H597.4M597.4 514.1H602M599.9 496.1H602.3M602 514.1H608.5M608.5 516.2H611.8M612.5 564.4H619.8"/>
<path stroke="#f0922a" stroke-width="1.7" opacity=".9" fill="none" d="M428.6 536.3h2.2M561 549.1h2.4M550.8 492.4h2.2M609 527.9h2.4"/>
<rect x="406.5" y="436.5" width="214" height="159" fill="none" stroke="#333" stroke-width=".8"/>
<g font-family="'DejaVu Sans','Liberation Sans',sans-serif" font-size="4.85" fill="#000">
<text x="401.8" y="438.4" text-anchor="end">1.5</text>
<text x="401.8" y="464.9" text-anchor="end">1.0</text>
<text x="401.8" y="491.4" text-anchor="end">0.5</text>
<text x="401.8" y="517.9" text-anchor="end">0.0</text>
<text x="401.8" y="544.4" text-anchor="end">−0.5</text>
<text x="401.8" y="570.9" text-anchor="end">−1.0</text>
<text x="401.8" y="597.4" text-anchor="end">−1.5</text>
<path stroke="#222" stroke-width=".6" fill="none" d="M404.4 436.7H406.2M404.4 463.2H406.2M404.4 489.7H406.2M404.4 516.2H406.2M404.4 542.7H406.2M404.4 569.2H406.2M404.4 595.7H406.2M413.71 595.5V597.3M431.72 595.5V597.3M450.54 595.5V597.3M466.36 595.5V597.3M482.17 595.5V597.3M497.44 595.5V597.3M511.2 595.5V597.3M520.46 595.5V597.3M529.27 595.5V597.3M541.43 595.5V597.3M550.59 595.5V597.3M557.14 595.5V597.3M562.87 595.5V597.3M570.63 595.5V597.3M580.11 595.5V597.3M584.97 595.5V597.3M588.82 595.5V597.3M594.55 595.5V597.3M599.53 595.5V597.3M605.36 595.5V597.3M610.39 595.5V597.3M616.1 595.5V597.3"/>
<text transform="translate(412.81 604.31) rotate(-60)" text-anchor="middle" y="1.6">chr1</text>
<text transform="translate(430.82 604.31) rotate(-60)" text-anchor="middle" y="1.6">chr2</text>
<text transform="translate(449.64 604.31) rotate(-60)" text-anchor="middle" y="1.6">chr3</text>
<text transform="translate(465.46 604.31) rotate(-60)" text-anchor="middle" y="1.6">chr4</text>
<text transform="translate(481.27 604.31) rotate(-60)" text-anchor="middle" y="1.6">chr5</text>
<text transform="translate(496.54 604.31) rotate(-60)" text-anchor="middle" y="1.6">chr6</text>
<text transform="translate(510.3 604.31) rotate(-60)" text-anchor="middle" y="1.6">chr7</text>
<text transform="translate(519.56 604.31) rotate(-60)" text-anchor="middle" y="1.6">chr8</text>
<text transform="translate(528.37 604.31) rotate(-60)" text-anchor="middle" y="1.6">chr9</text>
<text transform="translate(540.53 605.5) rotate(-60)" text-anchor="middle" y="1.6">chr10</text>
<text transform="translate(549.69 605.5) rotate(-60)" text-anchor="middle" y="1.6">chr11</text>
<text transform="translate(556.24 605.5) rotate(-60)" text-anchor="middle" y="1.6">chr12</text>
<text transform="translate(561.97 605.5) rotate(-60)" text-anchor="middle" y="1.6">chr13</text>
<text transform="translate(569.73 605.5) rotate(-60)" text-anchor="middle" y="1.6">chr14</text>
<text transform="translate(579.21 605.5) rotate(-60)" text-anchor="middle" y="1.6">chr15</text>
<text transform="translate(584.07 605.5) rotate(-60)" text-anchor="middle" y="1.6">chr16</text>
<text transform="translate(587.92 605.5) rotate(-60)" text-anchor="middle" y="1.6">chr17</text>
<text transform="translate(593.65 605.5) rotate(-60)" text-anchor="middle" y="1.6">chr18</text>
<text transform="translate(598.63 605.5) rotate(-60)" text-anchor="middle" y="1.6">chr19</text>
<text transform="translate(604.46 605.5) rotate(-60)" text-anchor="middle" y="1.6">chr20</text>
<text transform="translate(609.49 605.5) rotate(-60)" text-anchor="middle" y="1.6">chr22</text>
<text transform="translate(615.2 604.31) rotate(-60)" text-anchor="middle" y="1.6">chrX</text>
<text transform="translate(385.2 516.7) rotate(-90)" text-anchor="middle" font-size="5.9">Copy ratio (log2)</text>
</g>
<path stroke="#222" stroke-width=".9" d="M498.2 434.2h3"/>
<text x="407.4" y="424.9" font-size="17.4" fill="#111">SCP</text>
</g>
<clipPath id="c5"><rect x="133.5" y="856.3" width="209.3" height="155.2"/></clipPath>
<g>
<g clip-path="url(#c5)">
<rect x="133.5" y="911.8" width="15" height="43.4" fill="url(#g)"/>
<rect x="133.5" y="923.2" width="15" height="20.7" fill="url(#n)"/>
<rect x="148.5" y="911.8" width="8.7" height="43.4" fill="url(#g)"/>
<rect x="148.5" y="923.2" width="8.7" height="20.7" fill="url(#n)"/>
<rect x="157.1" y="911.8" width="11.6" height="43.4" fill="url(#g)"/>
<rect x="157.1" y="923.2" width="11.6" height="20.7" fill="url(#n)"/>
<rect x="168.8" y="915.4" width="9.2" height="43.4" fill="url(#g)"/>
<rect x="168.8" y="926.8" width="9.2" height="20.7" fill="url(#n)"/>
<rect x="177.9" y="890.1" width="7.5" height="43.4" fill="url(#g)"/>
<rect x="177.9" y="901.4" width="7.5" height="20.7" fill="url(#n)"/>
<rect x="185.4" y="918" width="14.1" height="43.4" fill="url(#g)"/>
<rect x="185.4" y="929.4" width="14.1" height="20.7" fill="url(#n)"/>
<rect x="199.5" y="901.4" width="5" height="43.4" fill="url(#g)"/>
<rect x="199.5" y="912.8" width="5" height="20.7" fill="url(#n)"/>
<rect x="204.5" y="917" width="11.1" height="43.4" fill="url(#g)"/>
<rect x="204.5" y="928.3" width="11.1" height="20.7" fill="url(#n)"/>
<rect x="215.7" y="898.3" width="13.8" height="43.4" fill="url(#g)"/>
<rect x="215.7" y="909.7" width="13.8" height="20.7" fill="url(#n)"/>
<rect x="229.5" y="911.8" width="5" height="43.4" fill="url(#g)"/>
<rect x="229.5" y="923.2" width="5" height="20.7" fill="url(#n)"/>
<rect x="234.5" y="911.8" width="7.5" height="43.4" fill="url(#g)"/>
<rect x="234.5" y="923.2" width="7.5" height="20.7" fill="url(#n)"/>
<rect x="242" y="911.8" width="1" height="43.4" fill="url(#g)"/>
<rect x="242" y="923.2" width="1" height="20.7" fill="url(#n)"/>
<rect x="243" y="906.6" width="4.7" height="43.4" fill="url(#g)"/>
<rect x="243" y="918" width="4.7" height="20.7" fill="url(#n)"/>
<rect x="247.6" y="911.8" width="12.1" height="43.4" fill="url(#g)"/>
<rect x="247.6" y="923.2" width="12.1" height="20.7" fill="url(#n)"/>
<rect x="259.8" y="904.5" width="5.3" height="43.4" fill="url(#g)"/>
<rect x="259.8" y="915.9" width="5.3" height="20.7" fill="url(#n)"/>
<rect x="265.1" y="917" width="6.2" height="43.4" fill="url(#g)"/>
<rect x="265.1" y="928.3" width="6.2" height="20.7" fill="url(#n)"/>
<rect x="271.3" y="918" width="6.7" height="43.4" fill="url(#g)"/>
<rect x="271.3" y="929.4" width="6.7" height="20.7" fill="url(#n)"/>
<rect x="277.9" y="904.3" width="6.7" height="43.4" fill="url(#g)"/>
<rect x="277.9" y="915.7" width="6.7" height="20.7" fill="url(#n)"/>
<rect x="284.6" y="911.8" width="4.7" height="43.4" fill="url(#g)"/>
<rect x="284.6" y="923.2" width="4.7" height="20.7" fill="url(#n)"/>
<rect x="289.2" y="911.8" width="7" height="43.4" fill="url(#g)"/>
<rect x="289.2" y="923.2" width="7" height="20.7" fill="url(#n)"/>
<rect x="296.2" y="901.4" width="3" height="43.4" fill="url(#g)"/>
<rect x="296.2" y="912.8" width="3" height="20.7" fill="url(#n)"/>
<rect x="299.2" y="911.8" width="3.3" height="43.4" fill="url(#g)" opacity=".55"/>
<rect x="299.2" y="923.2" width="3.3" height="20.7" fill="url(#n)"/>
<rect x="300.9" y="926.8" width="2.5" height="43.4" fill="url(#g)" opacity=".33"/>
<rect x="302.6" y="911.8" width="5.8" height="43.4" fill="url(#g)"/>
<rect x="302.6" y="923.2" width="5.8" height="20.7" fill="url(#n)"/>
<rect x="308.9" y="917" width="6.7" height="43.4" fill="url(#g)"/>
<rect x="308.9" y="928.3" width="6.7" height="20.7" fill="url(#n)"/>
<rect x="315.5" y="915.9" width="5" height="43.4" fill="url(#g)"/>
<rect x="315.5" y="927.3" width="5" height="20.7" fill="url(#n)"/>
<rect x="320.5" y="911.8" width="4.8" height="43.4" fill="url(#g)"/>
<rect x="320.5" y="923.2" width="4.8" height="20.7" fill="url(#n)"/>
<rect x="322.2" y="896.3" width="3.2" height="43.4" fill="url(#g)" opacity=".44"/>
<rect x="325.4" y="911.8" width="6.3" height="43.4" fill="url(#g)"/>
<rect x="325.4" y="923.2" width="6.3" height="20.7" fill="url(#n)"/>
<rect x="331.7" y="911.8" width="3.3" height="43.4" fill="url(#g)"/>
<rect x="331.7" y="923.2" width="3.3" height="20.7" fill="url(#n)"/>
<rect x="332.2" y="932.5" width="2.3" height="43.4" fill="url(#g)" opacity=".33"/>
<rect x="335.5" y="951.6" width="7" height="43.4" fill="url(#g)"/>
<rect x="335.5" y="963" width="7" height="20.7" fill="url(#n)"/>
<g transform="translate(133.5 856.3)" fill="none" stroke-linecap="round">
<path stroke="#333" stroke-opacity=".55" stroke-width="1.2" d="M43.8 66.6h0M142.7 81.7h0M197.2 78h0M157.7 78.4h0M41.9 63h0M31.9 88h0M59.5 86.1h0M191.7 82.4h0M98.8 64.8h0M116 77.1h0M20.4 71.4h0M208.3 115.2h0M67.5 69.6h0M154.9 84.5h0M54 80.6h0M88.6 64.8h0M166.1 80.9h0M174.4 69.7h0M33.8 83h0M93.6 69.3h0M170.5 66.7h0M30.2 84h0M184.8 85.2h0M184.1 82.2h0M173.4 70h0M25.4 72.6h0M180.6 80.2h0M36.5 82.3h0M48.3 62.1h0M37.1 89.8h0M93.7 70h0M161.2 75.2h0M140.4 87.7h0M49 54.5h0M111.7 74.7h0M26.6 74.7h0M132.6 78h0M62.9 90.4h0M68.5 74.6h0M180.8 80.7h0M137.4 83.9h0M33.4 70.2h0M114.6 78.6h0M83 66.7h0M139.6 89h0M59.4 84h0M80.5 78.6h0M165.1 68.9h0M52 60.8h0M21.1 71.1h0M126.3 70.2h0M139.6 76.1h0M188.7 86.6h0M46.7 58.9h0M82.7 56.3h0M81.5 79.2h0M82.7 66.4h0M148.2 69.9h0M175.3 83.9h0M185.7 90.7h0M32.2 84.7h0M200.1 77.4h0M137.7 81.9h0M157.6 73.9h0M181.9 81.4h0M151.7 81.2h0M22.3 70.8h0M141.1 88.1h0M206 120.5h0M97.2 77.6h0M201.4 77.4h0M201.4 87.8h0M39.7 71.4h0M23.5 78.8h0M28.3 84.2h0M88.7 65.9h0M147 67.8h0M147.1 61.6h0M19.5 73.5h0M136.9 82.2h0M23.7 80h0M17.5 68.6h0M154.5 84.2h0M76.3 82.9h0M205.4 119.8h0M185.2 76.1h0M52.2 90.5h0M7.1 76.9h0M174.8 70.3h0M1.1 80h0M190.8 71.2h0M144.9 64.2h0M95.7 71.7h0M59 88h0M44.7 80.5h0M159.6 81.8h0M1.1 70.2h0M57.4 86h0M121.4 78.7h0M154.1 91.4h0M157.7 74.5h0M68.2 60.5h0M6.9 77.1h0M26.7 70.4h0M78.3 81.5h0M146.1 85.2h0M.6 76.2h0M16.4 75.9h0M45.6 53.1h0M35 90.3h0M140.4 73.8h0M155.1 75.1h0M108.3 78.1h0M73 84.3h0M38.5 82.8h0M62.1 77.5h0M47.5 54h0M58.3 92.9h0M169.2 77.3h0M182.7 81.2h0M189.6 83.1h0M8.2 83.3h0M184.6 92.2h0M190.8 88.1h0M57.8 86.9h0M173.3 82.2h0M70.9 61.6h0M2.4 84.3h0M50.9 63.7h0M204.1 114.3h0M122.1 87.8h0M9.9 63.9h0M26.1 82.7h0M89.2 63.5h0M99.7 66.2h0M147 82.2h0M113.4 64.9h0M174.7 66.5h0M92 70h0M34.4 78.1h0M116.9 83.8h0M182.3 86.9h0M14 69.6h0M97.7 71.8h0M27.1 78h0M33.1 81.2h0M140 89.5h0M164.9 66.7h0M65.5 84.9h0M162.8 65.7h0M175.8 76.6h0M185 67.7h0M130.9 65.2h0M81.5 77.1h0M158.1 74.1h0M145 68.4h0M134 77.3h0M40.7 76.8h0M178.2 88h0M186.3 83.5h0M128.6 77.6h0M75.9 73.3h0M122.3 78.5h0M52.1 55.8h0M192.3 74.7h0M50.6 49.6h0M7.3 82.1h0M164.3 71h0M189.7 73.7h0M63.1 83.7h0M177 82.3h0M169.4 74.9h0M184.5 78.9h0M95.9 65.1h0M85.6 47.6h0M167.4 77.3h0M117.1 80.5h0M96.5 73h0M50.5 60.6h0M182.7 75.4h0M45.9 59.2h0M182.6 82h0M133.6 88.2h0M182.3 79.3h0M87.6 61.9h0M78 73.7h0M38.9 81.8h0M18.4 70.2h0M205.7 120.2h0M7.8 81.6h0M62.8 86h0M203.9 120.4h0M180.3 78.8h0M144 81.6h0M72.8 84.6h0M44.3 84.7h0M30.8 71.5h0M122.2 85.4h0M12.6 72.9h0M176 79.9h0M26.7 76.4h0M136.8 85.8h0M203.4 115.8h0M64.4 86.9h0M31.1 75.1h0M67.9 59.8h0M162 74.8h0M98.9 83.7h0M140.2 89.1h0M163.3 68.7h0M37.8 82.4h0M151.9 83.3h0M115.1 85.2h0M113.5 76.3h0M119.5 91.4h0M49.8 55.8h0M40.4 74.9h0M193.4 72.2h0M193.5 81.7h0M124.4 74h0M161.6 74.2h0M111.4 62.4h0M127.5 67.2h0M56 83.8h0M108.4 73.9h0M114.1 86.2h0M99.6 82.9h0M75.5 84.6h0M23.8 69.1h0M184.3 71.7h0M50.5 49.4h0M80.7 80.9h0M18.3 75.3h0M139.9 92.1h0M24.9 81.4h0M130.8 78.8h0M7.9 88.9h0M156.1 70.8h0M165.3 64.6h0M38.4 76.4h0M56.3 81h0M25.6 73h0M3.4 79h0M61.9 86.1h0M194.2 71.3h0M180.6 79.9h0M42.7 86h0M156.2 82.9h0M61.2 89.1h0M46.7 49.3h0M115.7 78.2h0M11.1 78.9h0M97 74h0M122.8 80h0M81.9 78.1h0M92.6 63.6h0M10.8 76.1h0M81 78.6h0M188.2 74.8h0M82.7 72.1h0M51.2 50.5h0M86.1 66h0M174.8 72.9h0M203.8 109h0M134.4 85.1h0M20.8 70.8h0M51.7 55.3h0M151.4 81.2h0M10.6 79.3h0M1.7 68.9h0M54.9 76.7h0M123 85.7h0M50.8 52.7h0M132.2 85.4h0M144.7 67.1h0M107.7 75.5h0M199.5 75.6h0M43.9 86.4h0M179.8 78.9h0M43.1 82.8h0M79.8 83.9h0M194.7 77.9h0M207.6 118.1h0M149.5 69.8h0M167.6 82.3h0M27.8 85h0M63.3 80.9h0M34.9 82.3h0M173.1 72.7h0M73.1 85.4h0M82.8 65.7h0M185.1 110.4h0M104.4 79.5h0M146.9 64.4h0M22.6 76.2h0M70 80.2h0M198.8 88.4h0M11.7 81h0M92.2 66h0M75.1 84.3h0M194.1 84.6h0M87.8 60.4h0M142.3 86h0M37.5 76.3h0M97.2 74.2h0M111.4 69.7h0M85 71.1h0M90.9 69.7h0M56.8 116.7h0M30 81h0M129.4 76.1h0M134.6 77.8h0M132.8 74.3h0M96.3 68.8h0M44.6 54.4h0M151.7 76.7h0M12.4 80.2h0M55 83.6h0M131.7 74.8h0M52.8 77.5h0M56.5 77.5h0M66.6 71.1h0M90.7 66.3h0M115.5 84h0M133.9 78.5h0M95.6 60.2h0M67.1 67.8h0M104 83.1h0M95.2 62.2h0M139.4 86.2h0M173.7 71.6h0M48.4 56.5h0M2.4 75h0M95.5 60.6h0M32.5 82h0M95.7 64.6h0M29.7 71.1h0M148.9 64.9h0M143.1 123.5h0M167.6 77.5h0M71.9 71.3h0M2.7 81.9h0M77.9 77.9h0M199.6 79.7h0M44.9 55.2h0M141.1 77.7h0M12 76.2h0M120 83.8h0M74.5 78.3h0M113 67.5h0M167.2 77.6h0M30.9 79.2h0M68.3 57.3h0M7 84.3h0M189.6 76.6h0M192.2 74.4h0M49.4 55.2h0M175.5 79.9h0M90.5 69.7h0M100.9 78.7h0M203.5 112.2h0M93.8 62.8h0M155.3 79.5h0M197.6 68.9h0M200.8 95.7h0M182.9 86.4h0M189.7 79h0M28.3 81.6h0M113 68.7h0M76.4 82.1h0M15.2 75.3h0M44.8 56.3h0M152.3 76h0M159.2 67.8h0M163.8 61.7h0M11.7 72.5h0M5.4 81.5h0M200.2 84h0M167.6 102.9h0M35.6 91.4h0M47.7 53h0M55.4 82.1h0M147.5 76.1h0M166.3 83h0M45.5 58h0M108.7 84h0M34.8 85.2h0M91.7 60.1h0M15.8 78.9h0M16.1 80h0M4.8 82.9h0M17.6 73.3h0M203.5 112.9h0M192.1 79h0M169.8 74h0M120.2 86.6h0M194.6 76.6h0M182.1 83.9h0M135.1 77.4h0M135.9 75.9h0M173.7 71h0M131.4 77.7h0M46.7 48.6h0M89 61.2h0M201.8 76.4h0M93.5 58.8h0M153.2 77.1h0M160.8 80.2h0M160.1 75.6h0M59.4 77.4h0M7.7 79.7h0M153.1 79.6h0M54.6 77.8h0M29.9 83.1h0M158.6 73.3h0M38.8 80.2h0M185.1 113.9h0M155.6 66h0M162.3 68.6h0M193.3 72.8h0M67.8 64.6h0M109.2 68.3h0M206.4 109h0M65.4 85.4h0M189.1 69.1h0M106.8 73.1h0M24.8 80.6h0M28.2 80.2h0M173.1 75.9h0M202.8 120.7h0M159.1 78.8h0M196 80.7h0M115.5 68.5h0M71.4 86.5h0M66 80h0M144.3 81h0M180.3 80.1h0M103.8 84h0M5.3 72.8h0M70.2 90h0M167.4 96.4h0M158.3 71.8h0M1.5 81h0M34 74.9h0M145 77.4h0M177.3 78.7h0M107.8 69.6h0M116.1 86.7h0M4.1 85.3h0M191 61.7h0M27.8 84.7h0M166.7 82.4h0M154.7 70.3h0M48 50.5h0M142.6 95.1h0M12.5 78.9h0M68.1 67.9h0M187.5 79.8h0M40.8 82.5h0M163.8 75.5h0M125.9 72.8h0M154.8 86.3h0M66.2 77.8h0M72.3 82.6h0M166.5 77.7h0M23.1 68.7h0M85.2 59.2h0M5.8 74.1h0M5 76.1h0M193.3 75.8h0M153.8 73.5h0M130.7 73.3h0M93.7 63.3h0M48.5 42.5h0M134.9 82.4h0M120 86h0M35.5 82h0M190.4 78.5h0M155.6 84.9h0M5.9 81.5h0M104.5 86.1h0M23.8 81.2h0M98.8 73h0M172.8 73.3h0M64.1 83.1h0M35.5 86h0M62.5 89.7h0M206.9 115.4h0M125.9 92.6h0M149.5 71.5h0M98.9 74.8h0M140.6 83.9h0M26.8 84.3h0M191.7 79.6h0M74.2 85.7h0M207.2 109.3h0M151 67.8h0M14.7 72.3h0M7 87.9h0M59.9 89h0M27.8 72.5h0M20.1 67.4h0M24.5 72.1h0M168.1 95.3h0M194.7 70.6h0M124.6 79.9h0M88.1 69.7h0M36 79.1h0M196.3 79.3h0M5 84.3h0M179.9 86h0M35 81.8h0M79.5 81.7h0M93.3 67.7h0M184.6 88.3h0M9.5 80.6h0M176.2 82.8h0M62.1 84.3h0M143.1 81.9h0M16.9 68.7h0M154.6 82.2h0M47.8 50.4h0M143.6 81.5h0M90.7 62.8h0M99.3 79.6h0M80.2 94.6h0M182.1 66.3h0M8 79.9h0M158.3 85.2h0M11.6 86h0M186.7 77.2h0M54.4 84.1h0M38.2 73h0M56.4 87.5h0M176.6 78h0M111.8 77.1h0M183.9 81h0M162.4 73.8h0M205.4 117.8h0M12.6 82.2h0M98.6 69.8h0M136.5 77.1h0M158 79.7h0M173.6 75.2h0M164.7 66.8h0M82.4 77.2h0M108.5 66.4h0M4.3 74h0M159.1 80.7h0M140 94.8h0M15.9 66.5h0M21.9 75.4h0M127.4 64.5h0M129.5 67.4h0M191.4 74h0M177.4 77.2h0M134.9 86.5h0M112.1 69.5h0M71.4 80.8h0M25.7 77.5h0M128.1 61.7h0M136.8 82.9h0M1.5 73.3h0M176.1 81.2h0M19.8 66.9h0M197.4 80.3h0M96.6 74.4h0M18.4 75.6h0M112.7 78.8h0M152.8 76.2h0M139.7 78.5h0M68.9 67.2h0M157.1 72.2h0M136.8 93.3h0M58.5 88.3h0M182.8 85.7h0M77.3 81.8h0M192.9 72.9h0M132.5 85.4h0M123.8 80.5h0M11.9 76.6h0M189.2 75.8h0M132 93.2h0M152.3 86.6h0M127.2 79.1h0M66.6 65.9h0M193 78.4h0M8.8 77.1h0M77.3 80.4h0M40.7 77.4h0M64.7 82.1h0M193 81.8h0M2.7 84h0M68.2 76.3h0M129 78.5h0M35 72h0M195.6 88.7h0M48.9 57.3h0M10.6 83.9h0M165.1 63.9h0M62.3 92.1h0M140.2 84.3h0M137.5 81.2h0M181.7 84.5h0M79.5 73.1h0M186.5 83.6h0M175.5 82h0M17.8 80.7h0M192.6 73.1h0M41.6 86.4h0M207.2 115.4h0M189.5 73.5h0M206.4 120.2h0M22 68.6h0M195.9 81.8h0M198 76.4h0M158.5 77.9h0M59.3 84.3h0M133.5 86.1h0M16.5 77.3h0M108.6 84.2h0M73.2 87.7h0M72.2 97.7h0M204 123.4h0M101.2 74.1h0M134.8 86.7h0M97.8 78.6h0M104.1 76.8h0M131.5 71.6h0M139.7 71.5h0M134.5 94.9h0M183.1 75.8h0M143.8 84.8h0M48.1 53.6h0M122.1 75h0M157.1 76.9h0M201.9 126.5h0M105.7 75.8h0M49.7 54.5h0M183.1 88.6h0M197.9 80.6h0M41.3 74.7h0M158 78.7h0M26.5 79.5h0M147.4 70.7h0M202.2 123.4h0M119.9 80.7h0M177.4 90h0M189.8 82.9h0M171.3 78.6h0M129.1 68.2h0M102.8 78.4h0M99.8 76.1h0M141 85.1h0M64 90.1h0M179.4 85.4h0M36.7 83.1h0M7.9 70.7h0M76.4 88.8h0M79.6 84.2h0M65.5 83.4h0M3.9 82.8h0M92 69.1h0M165.4 73.2h0M90.7 68.7h0M89.5 75h0M57 116.3h0M26.1 71.7h0M28.3 75.3h0M199.6 87.3h0M124.5 77.6h0M9 83.7h0M101.2 76.7h0M27.7 90.2h0M167 69.3h0M127.1 72.2h0M151.7 87h0M131.3 90.9h0M127.6 76h0M188.6 76.2h0M153 84.5h0M15 63.3h0M86.1 67.2h0M102.9 73.7h0M9.6 76.5h0M175.8 78.2h0M62.5 75.3h0M205.5 119.7h0M84.7 67.3h0M23.6 88.8h0M12.4 86.6h0M126.7 64.6h0M39.5 66.7h0M148 83h0M172.3 79.6h0M159.4 76.5h0M164.2 65h0M88.6 61.3h0M172 71.4h0M160.2 82.9h0M148.5 65.7h0M162.5 59.7h0M92.2 61.2h0M26.6 80.3h0M46.4 59.7h0M169.7 73.9h0M110.6 73.4h0M196.7 71.1h0M181.9 77h0M9.8 67.5h0M88.2 65.4h0M36.6 86.2h0M206.2 116.1h0M9.9 79.9h0M106.6 91.6h0M18.9 79.5h0M69.5 70.4h0M10.9 73.5h0M204.4 115.2h0M71 60.6h0M23 82.2h0M203.8 115.7h0M177.2 87.8h0M176.8 73.7h0M90 54.7h0M198.4 64.6h0M97.2 74.4h0M76.6 95.9h0M140.4 86h0M88.9 65h0M6.5 77.1h0M12.3 77.1h0M39 83.1h0M156.3 89.3h0M21.4 76.6h0M46.3 50.5h0M41.1 73.9h0M105.8 70.3h0M6 81.5h0M21.3 79.1h0M46.7 50.2h0M143.2 78.1h0M60.8 83.2h0M156 75.8h0M202.3 125.5h0M6 73.3h0M112 69h0M38.1 81.5h0M161.2 73.1h0M123.6 89.6h0M52.9 79.1h0M27 82.4h0M167.1 74.2h0M14.6 74.1h0M100.3 85.3h0M15.7 75.4h0M108.4 76.5h0M92.3 63.4h0M91.2 71.9h0M22.9 66.1h0M13.2 83h0M33.2 88.4h0M95.5 67.1h0M77.7 89.9h0M85.3 68.7h0M201.8 111.9h0M199.5 64.9h0M142 86.6h0M198.5 82.5h0M29.1 71.4h0M41 79h0M172.5 74.7h0M167.1 74.5h0M175.7 81.6h0M111.3 73.4h0M161.1 70.8h0M142.2 79.5h0M120.7 66.1h0M143.9 127.1h0M98.7 82h0M130.6 63.7h0M126.9 64h0M30.1 68.6h0M190 83.5h0M151.6 83.5h0M80.2 75.8h0M95 70.5h0M109 76.7h0M146.3 76.5h0M198.1 83.1h0M156.5 76.6h0M21.4 76h0M127.8 70.5h0M36.2 78h0M56.7 90.2h0M57.7 90.7h0M107 74.7h0M13 79.8h0M36.4 81.7h0M65.2 75.7h0M199.9 99.8h0M93.3 67.8h0M88.1 59.5h0M147.7 69.9h0M155.3 74.8h0M99.3 80.4h0M148 67.8h0M166.1 67.8h0M139 77.6h0M198.6 78h0M208.7 103.9h0M103.5 87.8h0M2.1 78.8h0M184.4 82.2h0M127.7 70h0M66.2 63.9h0M19.2 79h0M104.4 87.3h0M208.7 114h0M193 71.2h0M34.3 81.1h0M131.9 75.4h0M127.7 74h0M129.3 78.1h0M100.6 73.7h0M205.8 122.9h0M163.6 71.6h0M91.7 64.7h0M61.7 92.3h0M150.8 68.5h0M90.6 63.6h0M60.7 82.5h0M181.7 76.3h0M76.3 83.5h0M171.5 70.1h0M182.5 73.3h0M83.8 55.7h0M88.8 59.9h0M88.4 65.3h0M106.4 81.5h0M15 70.1h0M42.4 85.2h0M1.6 81.1h0M73.7 82.1h0M56.7 106.1h0M208 117.2h0M206.2 113.5h0M191.1 80.7h0M90.5 65.5h0M120 80.7h0M92.1 64h0M67.4 72.4h0M89 60.8h0M23.3 77.9h0M171.1 73.4h0M145.8 71.6h0M4.7 81.3h0M67.7 69.1h0M96.8 78h0M102.4 74.9h0M67.8 70.5h0M171.5 82.5h0M117 82h0M184.2 81h0M112.2 73.1h0M62.9 77.2h0M83.3 64h0M171.6 79.3h0M86.2 68.7h0M173.9 78.9h0M68.9 69.5h0M14.6 69h0M137.3 82.6h0M38.8 81.1h0M76.8 84.2h0M188.9 78.9h0M83.1 57.1h0M30.7 81.3h0M91.9 56.5h0M11.4 84.6h0M79.8 81.2h0M142.3 80.9h0M180.4 89.2h0M191.5 71.8h0M98 74.8h0M14.5 71.1h0M36.8 75.7h0M81.4 85.2h0M195.4 67.4h0M85.2 64h0M189 85h0M32.1 79.9h0M156.8 67.7h0M67.2 69.3h0M205.5 130.1h0M88.2 71.5h0M83.1 62.7h0M76.4 76.2h0M197.5 76.3h0M10.2 81.5h0M104.3 79.1h0M32.3 79.8h0M33.4 83.2h0M87.9 61.2h0M56.9 81.9h0M4.3 89.4h0M168 76.2h0M39 85.9h0M14.2 75.5h0M59.3 78.3h0M119.7 84.3h0M117.2 76.3h0M3.9 75.1h0M122.9 85.6h0M171.2 73.4h0M122.8 87h0M152.9 76.3h0M1.3 87.6h0M128.4 71.1h0M150.4 76.1h0M62.5 88.7h0M192.2 77.3h0M42.8 78.3h0M86.4 54h0M3.3 77.6h0M157.9 75.3h0M207.7 111.3h0M207.4 123.4h0M17.5 67.3h0M182.9 84.3h0M150.4 73.9h0M59.5 88.9h0M172.5 65.6h0M137.1 85.4h0M164.3 69h0M25.3 75.2h0M148.9 67.4h0M44.3 80.9h0M136.5 83h0M92.6 58.8h0M194.4 75.8h0M127.4 63.5h0M166.8 77.8h0M50.1 55.4h0M141.2 85.4h0M124.2 72.6h0M51.6 54.1h0M143.6 122.8h0M137.1 84.3h0M57.8 83.2h0M35.4 74.6h0M40.2 84.4h0M65.1 82.6h0M39.6 76.1h0M191.9 75.6h0M140.5 86.4h0M48.4 52.5h0M26.4 80.3h0M87.4 65.4h0M38 77.7h0M192.4 74.2h0M89.6 60.1h0M9.5 89h0M202.8 121.7h0M146.2 75.6h0M157.4 66.5h0M127.6 66.5h0M76.9 79.7h0M195 79.5h0M178.8 81h0M8 74.1h0M193.3 68h0M203.7 126.7h0M1.7 84.2h0M96.3 73.8h0M85 60.1h0M182.4 76.3h0M141.4 121.7h0M167.4 84.9h0M75.6 77.9h0M20.8 76.8h0M96.7 71.9h0M40.1 78.6h0M149.3 73.3h0M109.6 73.6h0M102 85.2h0M27.5 73.2h0M129.1 65h0M184.3 79.1h0M68.4 70.5h0M191.2 70.9h0M131.1 64h0M168.2 86.3h0M120.1 79.8h0M146.9 67.9h0M30.9 84.9h0M150.4 66.1h0M19.6 71.5h0M52.9 97.7h0M85.8 67.8h0M200.4 84.8h0M142.8 85.4h0M194.6 67.3h0M146.6 74.8h0M173.4 71.9h0M96.7 87.1h0M91.5 63.5h0M182.3 78.1h0M198.9 74.5h0M120 92.7h0M22.7 61.7h0M98.8 69.3h0M207 120.4h0M140 86.1h0M200.6 87.3h0M52.2 88.6h0M4.4 68.1h0M117.5 79.3h0M.4 73h0M173.5 73.1h0M52.1 87.5h0M117.5 68.4h0M163.6 75.8h0M129.3 69.7h0M61 69.3h0M74 88.3h0M12 70.6h0M128.3 76.5h0M98 72.8h0M111.4 73.5h0M114.4 86.4h0M151.8 88h0M9 80.2h0M68.7 68.9h0M32.5 77.4h0M99.8 77.9h0M179.8 79.9h0M161.7 71h0M20.9 76h0M165.8 67.9h0M34.9 85.5h0M135.3 81.3h0M87.5 74.1h0M47.9 53.2h0M75 87h0M84.7 66.8h0M93.4 58.7h0M104.9 75.2h0M151.6 89.1h0M156.1 75.5h0M196.1 76.7h0M68.3 57.4h0M125.9 81.8h0M95.6 66.3h0M29.5 80.4h0M117.8 68.2h0M49.9 45.8h0M79.8 92.6h0M21.4 81.2h0M153.2 86.9h0M17.7 75.7h0M196.1 71.5h0M166.6 77.9h0M39.5 78.4h0M68.1 72.8h0M98.9 73.8h0M121.2 82h0M182.1 75.3h0M154.1 80.2h0M50.1 60.6h0M96.1 65.1h0M64.6 94.3h0M123.8 81.4h0M102.2 86.6h0M21.9 83.6h0M1.1 71.3h0M97.4 72.1h0M111.3 66.3h0M21.8 87.1h0M32.2 87h0M178.2 82.1h0M187.1 79h0M203.4 112.7h0M97.9 72h0M144.3 69.6h0M173.4 70.6h0M129.8 65.1h0M174.4 76.7h0M44.8 46.9h0M165.3 67.3h0M143.3 87.7h0M83.5 75.3h0M171.2 63.9h0M141.9 80.9h0M60.5 83.1h0M3.4 71.3h0M168.5 86.9h0M195.8 72.8h0M69 65.6h0M207.4 117.2h0M205.2 116.9h0"/>
<path stroke="#4a4a4a" stroke-opacity=".52" stroke-width="1.05" d="M191.1 62.2h0M99.3 47h0M114.3 77.5h0M25.3 93.7h0M19 82.5h0M162.6 73h0M15.6 97.5h0M188.1 89.1h0M186.3 86h0M149.7 98h0M93.2 57.7h0M56.2 77.3h0M156.5 68.2h0M138.7 82.7h0M169.3 84.3h0M97.9 85.2h0M140.3 115.9h0M111.7 71.3h0M20.2 86.1h0M188.1 87.2h0M115 89.7h0M17 72.9h0M172.6 55h0M1.3 68.9h0M164.4 75h0M98.1 77.5h0M85.2 94h0M86 70.8h0M170.3 67.3h0M75.2 82.3h0M163.4 80.3h0M111.2 97.3h0M15.3 58.5h0M72.8 82.4h0M169.6 72.7h0M18.8 67.3h0M191 76.9h0M171.7 66.8h0M65 86.4h0M145.7 66h0M167.4 102.3h0M185.8 107.7h0M112.4 73.4h0M49.4 60.8h0M4.1 95.3h0M116.5 64.5h0M199.1 98.4h0M8.3 80.9h0M34.1 77.3h0M54.4 114.7h0M189.2 65.6h0M44.8 24.1h0M9 89.2h0M92.8 69.6h0M55.6 77.1h0M11.8 96.5h0M177.1 83h0M14.5 74.3h0M102.9 80.5h0M129.7 62.9h0M166.6 101.1h0M112.9 75.9h0M190.9 91.4h0M78.6 69.2h0M24.9 90.4h0M194.6 77.4h0M154.3 63.5h0M2.7 43h0M140.6 109.7h0M149 55.2h0M54.1 66.1h0M184.6 86h0M78.9 79.8h0M196.4 61.6h0M206.2 120.3h0M83 40.4h0M160 72h0M110.3 60.7h0M129.5 56.7h0M33.5 112h0M119.4 106.3h0M147.6 77.4h0M203.5 109.8h0M30.2 86.9h0M121.1 100.3h0M69.3 85.7h0M82.3 87.7h0M74.5 69.4h0M137 110.2h0M10.8 96.8h0M174.2 84.5h0M155.8 66.4h0M132.7 76.5h0M6.7 92.2h0M151.3 80.7h0M156.2 77.2h0M56.7 60.2h0M196.3 57.6h0M56.3 108.6h0M72.4 92.7h0M195.6 62.3h0M70.2 97.6h0M21.8 72.4h0M53.5 81.5h0M35.4 94.4h0M84.1 53.4h0M151.2 95.3h0M96.5 49.7h0M113.4 85.4h0M23.2 80.4h0M151.2 93.6h0M29.8 74.3h0M146.4 62.3h0M157.1 99.6h0M146.5 66.2h0M98.2 56.3h0M121.8 65.3h0M22.5 74.1h0M147 88h0M186.1 81.2h0M105.7 93.8h0M46 65h0M185.2 64.5h0M113.9 69.2h0M28.8 74.4h0M146.5 62.6h0M93.9 59.3h0M145 67.2h0M138.8 71.8h0M187.3 96.4h0M45.9 64.1h0M60.1 64.9h0M35.9 79.8h0M28.8 67.2h0M128.4 58.6h0M138.3 89h0M123.3 79h0M14.3 75.1h0M134.6 95.1h0M80.6 89.9h0M72.1 75.8h0M192.6 87.3h0M133.1 98.2h0M116 80h0M124.2 96.5h0M24 96.9h0M101 85.2h0M174.7 77.9h0M71.4 86.5h0M74 101h0M112 77.3h0M115.7 66.7h0M176.1 86h0M127.9 87.5h0M133.7 61.3h0M204.5 133.8h0M142.5 74h0M118.1 65h0M44.4 23.9h0M50.8 49.6h0M138.6 90.1h0M93.8 59.6h0M143.7 74h0M12.5 75.2h0M127.3 70.9h0M199.8 94.5h0M87.2 54.6h0M10.2 92.5h0M205.8 117h0M154.3 80.1h0M67.5 93.4h0M148.9 72.4h0M92.1 81.2h0M80.6 74.5h0M137.5 100.6h0M168.4 103.4h0M29.2 80.1h0M24.6 55.1h0M53.2 68.2h0M58.4 100.5h0M59.5 87.4h0M114.7 79.6h0M160.2 72.3h0M142.2 78.9h0M38.3 74.5h0M175.2 101.7h0M55.9 101h0M202.2 105.9h0M42.2 89.6h0M31.1 90.6h0M99.6 60.9h0M159.1 69.4h0M144.5 85h0M199.9 81.4h0M95.5 75.9h0M87.3 87.7h0M66.1 74.1h0M143 88.1h0M77.5 81.8h0M40.5 112.9h0M170 67.7h0M151.8 83.2h0M189.9 70.7h0M180.4 87h0M162 76.4h0M145 50.3h0M124.6 77.7h0M192.4 64.1h0M18.1 50h0M17.9 93.6h0M114.7 76.5h0M9.4 75.3h0M104.6 86.6h0M63.1 110.6h0M164 63.7h0M170 60h0M103.5 88.7h0M165.2 72h0M114.5 102.6h0M143.4 76.8h0M53.8 65.4h0M46.5 40.9h0M174.3 76.7h0M55.7 88.1h0M166.8 78.3h0M51.2 32.2h0M104 78.1h0M167.9 113.8h0M123.9 73.2h0M15.3 80.8h0M206.9 101.7h0M105.8 107.3h0M102.3 67.2h0M177.6 71.8h0M6.3 62.7h0M82.3 76.6h0M206.5 113.4h0M53.9 91.6h0M10.4 70.3h0M96.8 70.8h0M156.2 79.9h0M20 81.6h0M194.2 71.1h0M201.2 90.6h0M117.7 79.8h0M153.9 89.8h0M71.6 92.6h0M169.5 72.3h0M86 68.3h0M178.5 82.6h0M38.6 79.1h0M95.9 71.2h0M85.2 50.7h0M2.1 72.3h0M8.6 89.7h0M89.8 59h0M161.5 63.9h0M155.7 82.5h0M156.5 78.8h0M29.4 76.4h0M143.9 89h0M19.3 81.8h0M65.4 98.8h0M19.9 65.3h0M84 89.9h0M39.9 83.2h0M186 81.4h0M7.4 64.1h0M157.1 93.4h0M161.9 78.6h0M9.8 71.1h0M9.8 95.2h0M25.4 73.6h0M60.1 102.4h0M87.9 68.6h0M60.5 104.9h0M153.4 84.5h0M162.8 77.3h0M.9 77.3h0M13.7 116.6h0M157.5 87.8h0M1.4 100.6h0M126.9 48.1h0M124.7 69h0M201.6 93.6h0M125.5 119.4h0M73.7 82.9h0M83.5 59.5h0M126.7 81.7h0M121.1 93.6h0M56.1 90h0M152.4 93h0M50.9 42.7h0M5.5 72.7h0M29.7 88.4h0M123.4 84.3h0M89 70.6h0M149 68.7h0M165.7 60.5h0M15.8 78.6h0M49.7 69.7h0M202.9 129h0M160.5 96.9h0M183.7 104.6h0M183.7 98h0M121.7 79.6h0M82.2 84.2h0M26.4 106.6h0M52.8 109.1h0M95.9 42.5h0M143.2 83.3h0M8.4 86.4h0M78.7 83.1h0M174.9 70.9h0M80 88h0M57 85.6h0M154.6 91.4h0M113.5 83.2h0M51.9 97.8h0M109.3 79.2h0M8.8 72.3h0M105.7 73.3h0M42.2 74.1h0M83.6 53.8h0M126.3 85.8h0M38.5 97.1h0M140.4 83.1h0M71 50.9h0M146.7 80.6h0M44.6 87.8h0M22.4 87.8h0M58.5 97.6h0M162.2 67.8h0M3.7 78.5h0M180.9 84.6h0M81.2 89.7h0M13.2 98.7h0M67.5 56.9h0M45.3 56h0M110.8 63.9h0M171.7 89.8h0M42.3 75.8h0M124.7 91.6h0M135.5 87.4h0M173.5 95.8h0M70.1 99.4h0M91.6 62.6h0M196.3 42.6h0M24.1 79.6h0M54.1 87h0M193 88.9h0M51 50.1h0M63.9 69.4h0M66.1 84.5h0M70.4 80.9h0M49.1 58h0M53.9 51.3h0M93.6 61.2h0M129.1 86.5h0M90.6 69.5h0M65.5 103.8h0M88.5 62.3h0M5.3 82.3h0M14.2 85.2h0M12.5 100h0M160.1 88h0M20.7 73.1h0M133.2 92.9h0M45.3 90.3h0M12.1 100.8h0M117.8 100.5h0M187.3 69.4h0M178.2 107.8h0M49.4 52.2h0M28.6 90h0M10.3 78.1h0M66.6 58.2h0M69.7 71.2h0M185.4 96.8h0M19.4 65.6h0M29.9 65h0M55.3 83h0M179.3 104.8h0M1.3 85.7h0M77.5 69.4h0M1 64.3h0M88.8 65.4h0M62.4 87.7h0M33.1 80.2h0M107 75.1h0M110.4 73.7h0M78.4 67.8h0M130.6 74.5h0M172.8 78.6h0M85.3 70.8h0M189 61.1h0M150.1 85.7h0M10 94.2h0M65.3 91.7h0M165.1 60.3h0M92 71.2h0M206.5 128.4h0M92.7 94.2h0M120.7 60.2h0M2.8 62.7h0M26.7 80.9h0M48 30.7h0M203.8 119.6h0M201 79.5h0M59 87.6h0M191.3 103h0M32.4 82.4h0M32.6 94.8h0M138.5 78.2h0M58.6 100h0M33.7 64.8h0M180.3 76.7h0M121 87.9h0M200.4 74.2h0M198.8 75.1h0M116.6 105.3h0M93.8 77h0M199.4 99.8h0M119.6 87.5h0M110.4 53.6h0M202 108.1h0M11.2 68.8h0M67.8 62.4h0M18 82.1h0M41.4 88.4h0M48.9 69.2h0M161.6 68.7h0M133.6 74.5h0M187 67.2h0M62.5 86.1h0M172 74.3h0M.9 70.3h0M73.9 83h0M75.6 94.7h0M187 88.4h0M39.6 90.8h0M151.1 80.1h0M168 99.8h0M40.5 92h0M184.8 57h0M5.4 117.7h0M200.7 88.1h0M170.4 82.9h0M11.6 93h0M177.3 104.1h0M133.5 106.5h0M155.6 86.7h0M14.4 89.6h0M51.2 68h0M142 87.4h0M143.4 89.1h0M49.7 40.4h0M99.9 93.4h0M170.1 64.8h0M6.9 70.5h0M102.6 97.2h0M57.1 127.5h0M136.4 87.2h0M132.1 80.8h0M184.4 100.8h0M86.3 52h0M18.7 75.6h0M204.6 117h0M103.4 89.9h0M38.7 88.5h0M181.1 80.8h0M151.2 89h0M160.8 87.2h0M113.4 101.7h0M113.3 74.6h0M189.7 76.2h0M76.8 86.3h0M30.9 102.9h0M153.5 95.7h0M140.7 58.2h0M156.3 72.5h0M145.1 40.7h0M136.1 99.1h0M35.3 71.3h0M28 68.6h0M179.3 100.7h0M44.2 61.3h0M121.1 68.9h0M166.2 45.9h0M36.9 67.2h0M148.3 65.9h0M157.6 86.9h0M72.6 78.2h0M7.3 91.1h0M118.6 64.2h0M25 54.8h0M17.1 67.3h0M155 83.2h0M180.1 80.9h0M177.9 85.4h0M91 79.3h0M117.8 65.4h0M129.3 53.4h0M147.2 45h0M31.5 91.1h0M69.6 99.4h0M205.7 149.6h0M62.9 84.3h0M13.3 84.5h0M4 72.9h0M50.4 57.8h0M44.9 53.3h0M53.5 97.9h0M41.1 96.9h0M79.4 44.1h0M61.4 74.9h0M112.8 75.5h0M132.8 94.2h0M179.1 89.1h0M78.5 73.8h0M202 122.9h0M194.2 92.2h0M156.7 79.4h0M51 61.8h0M96.5 79.2h0M150.8 72.6h0M36.5 95.5h0M127.6 80.2h0M35.8 73.8h0M187.9 104h0M160.7 96.7h0M193.3 95.3h0M136.5 73.4h0M154.6 70.2h0M84.8 72.4h0M104.2 102.8h0M158.2 77.4h0M138.8 83h0M72 98.8h0M179.5 79.9h0M150.6 42.3h0M15.9 90.9h0M39.2 91.4h0M38.8 78.5h0M10.6 106.5h0M50.4 75.1h0M69.8 71.7h0M208 110.3h0M29.1 81.2h0M1.4 84.5h0M96.2 96.4h0M6.4 64.4h0M35.8 90.3h0M57.4 86.4h0M198 95.2h0M208.4 136.7h0M179.8 88.8h0M123.4 102.5h0M123.6 98.5h0M123.8 47.2h0M187.4 62h0M151.8 85.1h0M185.1 76.5h0M116.4 69.4h0M48 47h0M99.3 77.4h0M107.8 72.6h0M.4 87.2h0M205 121.7h0M117.2 81.5h0M113.5 79h0M189.1 85.3h0M86.7 38h0M198.2 78h0M190.3 60.7h0M148.9 64.3h0M8.4 78.2h0M58.8 97.8h0M.8 104h0M84.7 82.4h0M146.1 90h0M184.3 79.4h0M55.9 92h0M82.6 67.6h0M204.3 83.9h0M135.1 55.8h0M133.1 95.3h0M115.2 72.3h0M165.5 61.9h0M81.9 76.7h0M114.5 91.9h0M205.8 120.8h0M162.3 101.8h0M65.3 77.6h0M184.3 88.4h0M120 70.1h0M106.1 94.7h0M84.9 58.4h0M70.4 106.9h0M4.2 75.9h0M70.1 80.7h0M202.7 102.8h0M53.9 70h0M44.1 60.5h0M208.8 119.9h0M30.7 88.1h0M50.2 52.4h0M49.5 78.3h0M44.3 86.5h0M13.1 52.3h0M35.4 79.8h0M39 78.5h0M206 114.1h0M134.6 98.6h0M113.3 68.5h0M44.2 64.5h0M107.7 88.3h0M145.7 80.9h0M189.7 77.9h0M2.4 65.7h0M76.8 98.7h0M106.4 85.8h0M32.9 94.1h0M163.8 51h0M200.3 106.5h0M145.5 73.1h0M172.1 81.7h0M76.9 84.7h0M30 100.3h0M71.7 105.7h0M158.6 80.7h0M124.2 87.8h0M174.4 76.6h0M140.7 85.1h0M92.6 47.5h0M67.9 90.1h0M57 80.1h0M201.4 79.7h0M76.4 102.8h0M205.4 106.1h0M130.5 43.3h0M195.6 93.9h0M168.8 72.2h0M97.8 107h0M175.3 91.4h0M161.3 62h0M185.9 54.3h0M138.7 80.3h0M146 74.5h0M172.3 63.4h0M28.4 79h0M194.4 69.5h0M199.6 96.4h0M167.2 75.5h0M81.4 100.1h0M163.2 69.9h0M189.9 105h0M31.9 66h0M190.5 105.4h0M27.5 63.9h0M43.5 84.2h0M157.1 76.9h0M16.5 84.8h0M146.5 65.2h0M134.4 88.4h0M170.2 79.3h0M197.7 79.8h0M6.4 97.7h0M141.2 126h0M39 105.3h0M20.2 73.5h0M126.2 98.9h0M131.5 73.2h0M153.9 88.3h0M90.9 74.6h0M198.1 87.8h0M122.3 98.6h0M39.3 97.7h0M143.1 89.3h0M141.3 108.7h0M121.2 98.7h0M142.5 73.3h0M166.2 65.4h0M177.7 102.5h0M76.3 97.7h0M40.7 83.7h0M126 71.8h0M62.8 72.3h0M129.6 71.2h0M189.2 92.5h0M70.3 86.1h0M206.5 121.8h0M63.7 63.2h0M13.9 67.1h0M133.6 81.5h0M60.5 100h0M145.2 82.2h0M192.2 74.2h0M75.6 97.5h0M24 87.5h0M50.9 41.3h0M63.1 74.2h0M204.9 115.4h0M122.6 74.3h0M172 56.7h0M165.2 85h0M56.1 82.3h0M87 86.7h0M129.5 71.6h0M109.6 93.1h0M5.8 98.5h0M60.8 96.7h0M181.6 101.9h0M197.5 82.2h0M146 74.8h0M113.2 72.4h0M179.2 104.8h0M16.3 85.6h0M13.2 69.4h0M120.2 110.7h0M152.3 115.9h0M135.5 103h0M172.7 100.6h0M67.5 60.3h0M58.7 86.7h0M154.3 83.3h0M34.3 98.4h0M195.6 87.5h0M141.5 96.4h0M179.2 118.9h0M119 70.6h0M57.8 110.2h0M186.6 74.8h0M67 74.4h0M25.7 87.2h0M113 48.3h0M174 76.2h0M95.6 43.7h0M128.9 71h0M93.4 60.7h0M181.8 107h0M60.1 90.6h0M150 78.5h0M96.1 53.6h0M150.6 75.1h0M198.2 75h0M15.3 96.2h0M75.4 113.5h0M150 74.5h0M173.1 76.4h0M8.5 76.6h0M165.4 82.7h0M84.1 86.1h0M158.5 89.1h0M44.8 88.5h0M61.4 97h0M44.9 60.6h0M117.2 97.6h0M38.9 75h0M96.5 75.9h0M89.4 52.6h0M150.5 98.8h0M149.1 32.2h0M196.5 85.2h0M124.8 91.5h0M36.2 74.3h0M98.9 64.1h0M84 44.1h0M97.8 75.3h0M81.4 112h0M122.7 80h0M110.2 94.7h0M146.4 61.8h0M172.4 98.3h0M100.1 82.8h0M15.5 80.4h0M13 104.5h0M154 74h0M118.3 69.7h0M189.4 83.6h0M109.2 91.4h0M118.3 77.7h0M137.3 77.5h0M100.2 55.6h0M111 94.8h0M68.7 80.2h0M71.4 90.9h0M174 85.7h0M140.8 105.5h0M141.2 76.9h0M135.1 81.6h0M187.3 90.3h0M.5 76.4h0M150.9 70.3h0M81.1 92.7h0M203.9 92.8h0M27.7 46h0M152.5 99.8h0M1.7 90.6h0M56.3 91.3h0M3.5 85h0M125 100.5h0M150.7 57.7h0M184.3 127.6h0M181.7 70.5h0M113.1 66.5h0M131.6 73.4h0M13 64.6h0M31.8 80.1h0M57.9 119.1h0M81.5 47.5h0M66.9 62.7h0M32.4 98.1h0M29.9 81.8h0M200.8 84.4h0M67.3 71.5h0M80.9 71.3h0M99.6 92.3h0M84.4 49.5h0M121.8 94.7h0M66.8 54.8h0M200.4 79.5h0M21.9 88.7h0M20.3 78.2h0M86 72.5h0M46.8 57.5h0M103 85.9h0M187.7 67.3h0M88.1 51.4h0M84.8 66h0M126.2 91.5h0M143.7 73.7h0M88.2 64.7h0M15.3 68.2h0M50.2 47.2h0M48.8 60.4h0M91 71.1h0M152.6 78.1h0M18.3 93.6h0M123.8 75.8h0M134.6 51h0M73.7 84.8h0M204.4 146.6h0M150.3 65.6h0M115 92.9h0M145.4 76.7h0M185.7 96h0M149.4 71.6h0M187.4 94.3h0M184.9 81.5h0M201.2 60.9h0M130.2 91.2h0M122 91h0M188 90.3h0M76.9 95.5h0M31.3 94.5h0M180.6 77.8h0M159.6 85.6h0M169.1 101.2h0M85 75.3h0M131.2 89.3h0M169.2 96.1h0M112 77.9h0M93 92.1h0M21.7 73h0M37.3 81.4h0M22.1 76h0M38.1 81.6h0M98.6 92.9h0M166.1 73.4h0M173.4 56.9h0M153.7 100.9h0M23 99.2h0M47.9 58.3h0M45 64.7h0M136.3 78.6h0M110.6 72.2h0M193.9 68.6h0M81.8 92.2h0M184.3 85.1h0M42.8 102.5h0M121.2 60.7h0M193.9 89.6h0M27.3 91h0M88.8 60.8h0M190 107.9h0M78.1 82.9h0M16 44.4h0M173.8 105.1h0M117.4 95.3h0M55.2 103.8h0M75.8 99.7h0M77.3 118.4h0M25.9 80.9h0M5.1 80.8h0M204.5 152.6h0M118.8 86.6h0M180 78.6h0M187.4 90.8h0M58 78.8h0M27.1 86.6h0M197.3 76.9h0M156.8 65.3h0M3.9 73.3h0M127.7 79.5h0M79.8 95.8h0M205.5 111.2h0M58.9 73.9h0M147.7 54.6h0M133.6 85.1h0M163.9 65.2h0M199.3 96.2h0M144.4 80.4h0M123.8 81.2h0M56.7 88.7h0M31.6 96.1h0M27.6 84.7h0M38.1 69.9h0M24.6 80.4h0M6.4 74.5h0M113.4 95.2h0M100.9 65.4h0M166.4 85.6h0M22.1 106.2h0M154.9 88.6h0M22.7 76.2h0M47.4 30.2h0M89.4 91h0M142.9 86.7h0M94.3 79.6h0M98.1 67.1h0M95.2 75.1h0M175.2 85.5h0M197.6 102.7h0M104.2 90.4h0M22.3 66.9h0M159.5 86.8h0M72.3 80.8h0M197.1 58.5h0M105.6 74h0M105.6 97.9h0M4.2 105.7h0M164.8 73h0M21.4 56.9h0M64.5 96.9h0M183.6 69.5h0M87.7 50.5h0M187.4 89h0M89.3 39.8h0M70.5 78h0M119.6 90.6h0M86.5 64.2h0M206.6 151.9h0M131.3 40h0M106.3 85.3h0M50.4 60.7h0M191.2 98.2h0M139 83.4h0M77.8 88.7h0M147.5 76.9h0M46 41.5h0M26.8 104.3h0M119.5 73.6h0M131.7 61.4h0M70.5 95.7h0M180.4 77.3h0M2.2 73.1h0M55.4 86.3h0M98.4 90.2h0M96 93.4h0M7.9 44.5h0M179.3 92.6h0M192.9 50.5h0M24.8 80.9h0M145.1 71.2h0M1.1 107.6h0M196.9 56.4h0M26 64.4h0M43.3 89.5h0M192.6 75.5h0M53.4 87.5h0M74.7 104.1h0M120.4 88.5h0M79.6 87.8h0M37 91.4h0M204.9 99.9h0M154.7 70.8h0M2.7 82.8h0M55.3 99.5h0M29.6 91.8h0M32.9 96.4h0M131.4 70.6h0M191.3 93.6h0M165.4 84.6h0M28.9 75.7h0M193.3 65.7h0M127.8 67.4h0M77.5 62.1h0M45.7 76.6h0M147.4 93.5h0M15.6 68.6h0M107.7 61h0M190 82.2h0M163 52.3h0M87.1 55.3h0M55.8 64h0M97.6 67.6h0M6.8 93.2h0M182 51.2h0M80 64.4h0M149.1 79.4h0M167.4 73.6h0M192.5 70.1h0M189.7 66.1h0M23 93.5h0M81.5 91.4h0M53.2 88h0M87.8 45.6h0M53.2 82.8h0M168.6 90.3h0M22.6 97.4h0M197.4 85.9h0M58.4 60.1h0M76.9 72.7h0M89.9 66.5h0M169.8 117.4h0M1.3 97.2h0M169.8 86.7h0M161.9 65.2h0M32.1 90.8h0M113.5 48.5h0M195.6 78.3h0M186.4 86.5h0M167.3 106.8h0M187.1 64.7h0M180.1 82.1h0M101.6 84.5h0M204.5 113.6h0M170.8 87.1h0M158 79.9h0M88.8 74.2h0M138.7 108.6h0M30.1 78h0M43.5 83.2h0M201.5 104.5h0M185 65.6h0M202.2 147.3h0M111.5 88.1h0M46.8 55.2h0M14.8 96.2h0M192.3 46h0M160.3 115.6h0M161.8 83.6h0M19.1 73.7h0M164.3 53.3h0M98.6 60.4h0M16.6 86.1h0M163.6 66.5h0M120.7 81.1h0M145.5 87.5h0M51.3 48.5h0M114.6 89.9h0M89.6 77.9h0M78.2 101.6h0M102.8 78h0M120.7 82h0M154.5 96.3h0M147.6 71.4h0M16.3 83.7h0M190.6 64.2h0M179.4 58.4h0M152.4 67.9h0M160.6 64.1h0M45.7 61.6h0M46.8 72.8h0M72.8 76.1h0M202.4 108.9h0M101.4 62.5h0M170.1 79.6h0M10.5 98.4h0M113.7 82h0M122.5 62.5h0M176.2 98h0M198.2 80.1h0M123 88.5h0M45.5 62.6h0M197 82.7h0M15 78.8h0M32.2 80.5h0M70.8 65.9h0M164.7 51.9h0M171.6 70.6h0M55.6 71.5h0M108.2 78.4h0M115.8 67.5h0M63.5 110.8h0M157.4 90.4h0M116.1 84.3h0M40.1 85h0M158.5 68.2h0M31.6 99.2h0M102.7 88.9h0M96.5 78.8h0M59.8 91.9h0M160 69.9h0M125.9 59.3h0M208.8 127.3h0M206.6 120h0M17 92.7h0M37.1 98.4h0M59.2 81h0M40.9 92.5h0M161.3 92.7h0M24.2 82.7h0M95.3 77.8h0M78.6 105.5h0M59.5 112h0M184.5 99.7h0M131.2 74.2h0M169.7 62.6h0M49.7 60.7h0M190.4 67.9h0M125.6 84.8h0M41.5 71h0M37.1 64.5h0M13 87.2h0M14.4 77h0M201.7 83.6h0M45.8 46.8h0M48.3 58.1h0M139.8 109.4h0M49.2 59h0M166.7 107h0M132.7 88.2h0M31.5 75.9h0M23.1 93.4h0M81 77.8h0M187.5 96.1h0M143.7 109.4h0M176.6 101.2h0M72.6 87.9h0M60.2 74h0M57.5 87.9h0M14.6 89.6h0M20.8 81.9h0M131 65.8h0M45.9 33.4h0M87.5 85.7h0M18.1 65.4h0M12.7 66.3h0M148.2 82.2h0M174.7 66.3h0M66.7 61.9h0M51.5 54.7h0M181.5 89.2h0M176.6 79h0M89 64.1h0M139.3 56.8h0M31.7 76.7h0M190.6 78.9h0M139.1 68.7h0M34.7 51h0M154.5 106.8h0M114.8 71.6h0M139.6 97.7h0M58.6 98.9h0M29.3 80.6h0M163.1 74.8h0M72 77h0M105.7 85.2h0M23.5 81.8h0M94.1 67.5h0M152.1 72.9h0M178.5 86.1h0M185.3 66.4h0M177.2 92.3h0M143.2 80.4h0M91.1 66.6h0M198.9 74h0M143.3 112.7h0M125.6 87.1h0M175.4 99.9h0M130.8 88.2h0M198.5 86.8h0M186.5 85.5h0M85.1 66.3h0M101.5 80.1h0M27.3 71.7h0M139.8 84.6h0M114.7 113.8h0M88.5 70.1h0M158.9 96.2h0M39.2 116h0M84.6 75.5h0M41.1 75.3h0M11.5 67.3h0M116.9 63h0M172.1 80.9h0M180.8 102.9h0M87.4 86.5h0M44 100.9h0M29.1 83.9h0M29.4 83.2h0M11.2 78.2h0M191.4 91.7h0M186 74.9h0M204.3 117.5h0M163.5 46.9h0M109.2 97.6h0M85.5 49.1h0M30 87.6h0M161 74.6h0M46.8 66.2h0M150.4 53.7h0M193.6 72.8h0M135.2 69.4h0M177.7 99.7h0M41.3 64.1h0M38.3 85.4h0M137.8 101.9h0M58.5 84h0M128.3 81.6h0M26 86.7h0M50.7 60h0M60.1 50.2h0M85.4 60h0"/>
<path stroke="#5a5a5a" stroke-opacity=".4" stroke-width=".9" d="M206.1 150.1h0M68.3 77.9h0M36.7 61h0M34.4 35.6h0M109.6 136.1h0M80.8 70.8h0M201.9 127.6h0M92.7 83.9h0M45.6 72.4h0M2 102.4h0M183.5 87.1h0M190 78.5h0M179.3 101.6h0M16.7 130.6h0M82.6 92.2h0M73.1 103.3h0M97 60h0M92.4 51.6h0M114 108h0M206.4 151.7h0M152.8 116.3h0M128.4 54.4h0M84.8 73h0M129.4 31.3h0M17.1 46.7h0M22.1 103.6h0M127.3 116.5h0M161.9 82.6h0M186.2 102.1h0M30.5 98.2h0M70.5 120.6h0M75.2 104.1h0M187.7 43.3h0M12.6 72.3h0M187.3 49.7h0M84 46h0M147.9 126.1h0M148.1 60.4h0M175 60h0M57.6 32h0M89.7 53.8h0M154.4 100.7h0M131.4 136.4h0M204.9 136.4h0M166 122.2h0M94.9 47.8h0M65.9 88.1h0M134.7 96h0M128.8 131.5h0M203.2 150.5h0M9.3 111.1h0M184.4 101.4h0M32.1 44.3h0M118.2 125.2h0M207.3 101.7h0M97.6 86.6h0M10.4 90.6h0M60.5 89.2h0M83.7 51.3h0M176.3 47.3h0M136.7 121.6h0M99.3 114.8h0M41.1 121.5h0M70.7 72.9h0M174 99.4h0M151.4 135h0M106.6 56h0M25.6 98.6h0M2.8 96.4h0M2.6 94.2h0M5.4 99.3h0M47.6 84.6h0M45.8 84.2h0M65.7 107.8h0M145.7 39.8h0M14.2 30.1h0M73.1 12.3h0M72.3 119.3h0M4 96.2h0M115.8 56.5h0M25.9 94.1h0M33 48.3h0M168.7 131h0M4.1 103h0M188.9 92.4h0M97.8 53.7h0M196.2 33.9h0M188.1 109.5h0M150.2 85.3h0M4.4 43.9h0M31.9 108.7h0M50.6 72.1h0M27.5 100h0M3.1 62.7h0M15.9 33.9h0M155.1 106.9h0M128.3 103.9h0M8.2 96.2h0M77.5 76.8h0M168.8 52.7h0M128.4 76h0M137.1 47.3h0M157.5 101.7h0M168.2 83.8h0M186.9 124.4h0M146.1 78.8h0M167.1 66.4h0M117 53.1h0M54.8 77.2h0M84.3 81.8h0M155.7 130h0M116.6 108.2h0M160.4 117.2h0M87.3 118.6h0M161 91.4h0M37.6 89.4h0M2.7 109.1h0M135.5 124.1h0M118 117.4h0M121.2 110.5h0M124.4 91.2h0M121.3 100.4h0M71.1 77.7h0M106.4 104.3h0M27.7 62.5h0M58.2 63.2h0M49.1 101.1h0M90.2 89.1h0M198.7 122.9h0M85.4 103.7h0M73.1 90.1h0M161.7 96.8h0M43.7 90.5h0M75.2 135.6h0M52.1 34.5h0M92.8 6.7h0M8.8 106.5h0M14.8 46.4h0M113.9 98.8h0M43.1 101.8h0M62 111.7h0M42.8 99.9h0M149.2 58.3h0M10.7 51.5h0M195.5 45.1h0M196 97.8h0M124.7 113.3h0M43.9 106h0M64.3 110h0M.8 20.8h0M154.1 92.6h0M202.9 126.5h0M8.9 122.7h0M132.9 44.7h0M131.5 140.5h0M19.8 54.3h0M73.8 94.4h0M130.1 105.6h0M30.3 62.4h0M194.5 30h0M157.5 66.4h0M120.3 86.6h0M110.5 83h0M104.4 90.4h0M145.5 85.9h0M187.9 87.3h0M102.1 35.5h0M199.9 108.1h0M56.9 57.3h0M100.4 100.6h0M101.1 132.6h0M61.1 54.2h0M118.8 71.5h0M75.6 112.3h0M40.9 63.2h0M84.2 69.2h0M183.3 89.8h0M14.6 88.8h0M40.4 68h0M7.3 89.7h0M143.1 121.5h0M161.5 44.1h0M185.9 131.6h0M95.2 83.4h0M149.9 44.6h0M118.6 120h0M87.7 79.6h0M103.1 59.6h0M76.2 115.6h0M205.6 147.4h0M108.9 88.7h0M150.5 76.4h0M96.6 130.1h0M4.6 100h0M64.6 104.9h0M119.2 88.7h0M176.9 98.8h0M37.4 151.7h0M14.3 148.2h0M76.9 65.1h0M171.6 38.4h0M150.2 75.2h0M15.3 129.4h0M148.9 129.3h0M78.3 106.6h0M109.7 40.9h0M76 122.2h0M9.2 101.3h0M194.6 49h0M132.2 68.7h0M207.7 142.9h0M105 127.5h0M126.8 80.1h0M207.2 127h0M124.1 64.7h0M88.9 47.2h0M170.8 28.4h0M201.4 59.7h0M182.2 102.7h0M125.5 115.9h0M60.3 95.5h0M6.7 96.9h0M45.2 103.8h0M59.9 97.2h0M190.1 47.7h0M92.9 94.9h0M145.7 116.5h0M88.5 82.7h0M64.1 71.9h0M38.1 90.3h0M180.6 126.4h0M18.5 131.4h0M116.8 90.8h0M122.5 98.5h0M153 99.5h0M184.7 91.7h0M97.1 113.9h0M179.4 99.7h0M17.4 89.5h0M127 34h0M95.5 82.4h0M73 57.5h0M20.4 79.3h0M51 63.7h0M174.9 25.9h0M152.3 88.7h0M90.7 107.5h0M192.5 91.7h0M170.6 81.1h0M28.7 128.3h0M113.1 81.6h0M61.3 98.2h0M159.2 124.5h0M77.3 107.3h0M119.7 118.4h0M162.7 96.3h0M137.8 47.4h0M126.8 82.6h0M143.7 76.3h0M62.5 66.6h0M46.5 121.4h0M59.9 38.5h0M29.2 111h0M188 118.2h0M195.5 86.1h0M204.6 128.2h0M105.8 67.2h0M17.5 103.8h0M142.3 72.1h0M197.2 41.9h0M115.8 61.9h0M65.8 68.5h0M69.8 47.9h0M164.4 47h0M148.4 50.8h0M205.5 139.3h0M115 90.3h0M63.9 105.9h0M74.9 105.1h0M17.9 44h0M148.5 102.8h0M91.8 107.1h0M10.3 51.9h0M51 44.9h0M85.2 134.4h0M181.9 109.3h0M50.7 89.4h0M106.7 50.4h0M86.7 81.1h0M153.6 128.7h0M67.4 84.4h0M89.5 92.3h0M119.5 59.9h0M166.5 122.4h0M151.4 135.2h0M148.8 88.1h0M35.5 135.8h0M155.6 85.3h0M144.6 54.8h0M104.1 134.2h0M57.4 133.1h0M11.9 107.8h0M114.5 128.1h0M145.3 89.8h0M24.3 68.8h0M64.9 96.4h0M180.5 39h0M136 126.3h0M79.6 88.1h0M78.6 52.4h0M118 91.5h0M112.4 50.8h0M25.7 98.1h0M12.2 47.3h0M183.6 110.3h0M105.7 134.4h0M187.9 62.4h0M139.2 91.9h0M129.8 75.3h0M16.8 84.3h0M32 111.3h0M45.4 75.6h0M89.7 81.4h0M131.6 127.5h0M138.1 137.1h0M133.6 124.8h0M65.8 103.9h0M183.8 75.5h0M28.2 103.9h0M16.1 116.1h0M120.2 131.6h0M204.8 133.4h0M82.6 101.4h0M189.4 74.2h0M24.9 70.1h0M142.7 108.3h0M161 115.9h0M87.6 73h0M87.4 111.1h0M20.3 80.7h0M100 134h0M8.4 118.8h0M187.4 110.8h0M42.7 120.1h0M133.3 47.5h0M121.6 103.9h0M182.4 65.4h0M140.6 114.9h0M170.4 88.9h0M74.5 119h0M63 120.6h0M149.3 77h0M126.3 86.3h0M147.1 81.3h0M65.5 93.9h0M171.9 42.4h0M57.1 137.1h0M41.9 53.9h0M9.6 86.5h0M198.2 90.8h0M41 25.8h0M72.5 53h0M150.1 11.7h0M93.7 100.3h0M23.3 38.5h0M82.7 107.3h0M25.3 73.8h0M125.6 95.9h0M40.6 91.5h0M184.6 89.4h0M126.6 13.9h0M161.5 95.3h0M198.6 109.8h0M8.2 93.7h0M36.2 114.6h0M186.2 125.8h0M117.5 60.5h0M15 94.2h0M78.6 123.9h0M167 55.4h0M83 45.8h0M71.6 91.9h0M147.7 90.4h0M126.6 51.8h0M146.7 79.3h0M116.5 50.1h0M130.6 54h0M56.5 70.7h0M201.8 128.1h0M57 96.7h0M104.6 90.4h0M152.7 30.1h0M182.6 112.1h0M137.7 73.7h0M55.8 89.6h0M95.4 70.1h0M179.4 49.4h0M200.6 90.1h0M134.3 55.1h0M46.5 67.7h0M129.5 76.2h0M66.9 76.8h0M54.6 100.6h0M58.1 63h0M19.8 45h0M22.6 109h0M187.9 35.2h0M190.3 72.2h0M90.7 53.7h0M193.1 149.9h0M69.6 73h0M83.6 97h0M117.9 103.9h0M46.7 38.6h0M142.7 76h0M153.6 107.9h0M7.8 96.6h0M191.7 93.9h0M145.7 38.1h0M202.5 80.8h0M57.5 99.6h0M106.3 121.6h0M9.8 70.1h0M63.9 108.7h0M72.7 103.3h0M129.5 94.9h0M22.6 50.5h0M64.5 88.6h0M18 54.4h0M16.6 118.6h0M191.6 98.9h0M198.7 71.1h0M39.3 121.3h0M80.3 101.5h0M135.9 111.7h0M93.2 76.9h0M38.6 113.8h0M176.2 141.7h0M62.5 94.9h0M126.3 37.8h0M138.4 77.6h0M118.9 95.2h0M46.5 46.8h0M154.1 103.1h0M120.7 66.3h0M197.6 65.9h0M133.4 114h0M158.1 124.4h0M198.5 87.7h0M196.8 68.4h0M193.8 80.3h0M182.4 93h0M17.4 95.9h0M69.1 83.8h0M123.4 87.2h0M66.4 86h0M188.2 59h0M76.1 96.3h0M33.6 119.6h0M206.8 133.4h0M128.2 52.2h0M14.5 90.9h0M192.2 107.4h0M80.9 99.4h0M45.5 65.5h0M85 74.6h0M206 57.1h0M64.6 125.2h0M13.7 86h0M136 129.3h0M9.9 91.8h0M75.1 113.4h0M75.2 91.2h0M161.9 73.8h0M112.1 93.1h0M108.8 91.4h0M70.1 102.8h0M81.2 53.6h0M203.1 135.4h0M156.2 123h0M73.5 120.8h0M16.2 133.1h0M137.9 121.9h0M157.7 108h0M136.7 94.3h0M56.7 89.3h0M138 99.3h0M42.3 52.8h0M61.8 110.1h0M93.5 80.2h0M177.3 97.1h0M39.2 73.6h0M165 83h0M126.8 89.9h0M65.4 122.8h0M77.9 101.9h0M131 59.1h0M23.3 66.5h0M206.8 89.6h0M197 126h0M168.1 17.4h0M15.4 62.7h0M50.1 73.8h0M31.1 90.4h0M206.3 87.4h0M118 114.1h0M69 85.6h0M63.2 97.2h0M111.3 142h0M36.5 110.1h0M92.7 96.8h0M175.4 88.9h0M128.1 84.6h0M136 60.7h0M35.1 94.4h0M21.7 98.6h0M93.9 72.5h0M64.8 131.9h0M68.6 105.2h0M147.7 107.1h0M71.7 25.4h0M35.5 90.2h0M66.4 107.6h0M55.8 117.7h0M9.6 88.4h0M6.7 37h0M126.8 48.2h0M13 110.2h0M18 98.9h0M30.7 88.5h0M152.2 47h0M153.9 117.4h0M105 94.7h0M68.7 78.5h0M205 139.8h0M123.4 73.2h0M204.3 143.1h0M132.8 129.3h0M42.5 105.1h0M158.1 125.5h0M103.7 103.9h0M197.9 65h0M123 52.7h0M72.6 118.2h0M100.5 72.5h0M6.4 41.5h0M93.9 73.5h0M69.9 73.1h0M78.9 89.2h0M101.5 71.9h0M186.4 94.6h0M114.9 71.3h0M114 94.7h0M154.3 95.7h0M166.4 91.8h0M74.9 101h0M44.4 87.5h0M75.3 93.5h0M43.6 107.2h0M151 75.2h0M168.9 108h0M86.2 93.9h0M69 126.8h0M18.9 94.4h0M123.1 75h0M170.1 81.3h0"/>
</g>
</g>
<path stroke="#1c1c1c" stroke-width="1.3" fill="none" d="M148.19 856.3V1011.5M168.76 856.3V1011.5M185.02 856.3V1011.5M199.71 856.3V1011.5M215.97 856.3V1011.5M229.58 856.3V1011.5M242.9 856.3V1011.5M247.7 856.3V1011.5M260.14 856.3V1011.5M271.5 856.3V1011.5M278.06 856.3V1011.5M284.33 856.3V1011.5M289.28 856.3V1011.5M299.51 856.3V1011.5M307.84 856.3V1011.5M309.01 856.3V1011.5M315.38 856.3V1011.5M320.22 856.3V1011.5M325.12 856.3V1011.5M331.63 856.3V1011.5M334.96 856.3V1011.5"/>
<path stroke="#0a0a0a" stroke-width="1" d="M133.5 933.5H342.8"/>
<path stroke="#ef8a10" stroke-width="2.2" fill="none" d="M133.5 934.5H148.5M148.5 930.4H157.1M155.5 936.1H168.8M168.8 937.1H177.9M177.9 911.8H185.4M185.4 939.7H199.5M199.5 923.2H204.5M203.7 938.7H215.7M215.7 920.1H229.5M229.5 931.4H234.5M233.7 936.1H242M236 936.1H243M243 928.3H247.6M247.6 936.6H259.8M259.8 926.3H265.1M264 938.7H271.3M271.3 939.7H277.9M277.9 926H284.6M284.6 936.6H289.2M289.2 933.5H296.2M295.1 923.2H299.2M299.2 933.5H302.6M300.9 948.5H303.4M302.6 930.1H308.4M308.9 938.7H315.5M315.5 937.6H320.5M320.5 936.1H325.4M322.2 918H325.4M325.4 931.4H331.7M331.7 936.6H335M332.2 954.2H334.5M335.5 973.3H342.5"/>
<path stroke="#f0922a" stroke-width="1.7" opacity=".9" fill="none" d="M189.4 964.5h2.4M275.1 978.5h2.4M316.2 974.3h2.4"/>
<rect x="133.5" y="856.5" width="209" height="155" fill="none" stroke="#333" stroke-width=".8"/>
<g font-family="'DejaVu Sans','Liberation Sans',sans-serif" font-size="4.85" fill="#000">
<text x="129.1" y="857.65" text-anchor="end">1.5</text>
<text x="129.1" y="883.5" text-anchor="end">1.0</text>
<text x="129.1" y="909.35" text-anchor="end">0.5</text>
<text x="129.1" y="935.2" text-anchor="end">0.0</text>
<text x="129.1" y="961.05" text-anchor="end">−0.5</text>
<text x="129.1" y="986.9" text-anchor="end">−1.0</text>
<text x="129.1" y="1012.75" text-anchor="end">−1.5</text>
<path stroke="#222" stroke-width=".6" fill="none" d="M131.7 855.95H133.5M131.7 881.8H133.5M131.7 907.65H133.5M131.7 933.5H133.5M131.7 959.35H133.5M131.7 985.2H133.5M131.7 1011.05H133.5M140.85 1011.5V1013.3M158.47 1011.5V1013.3M176.89 1011.5V1013.3M192.36 1011.5V1013.3M207.84 1011.5V1013.3M222.77 1011.5V1013.3M236.24 1011.5V1013.3M245.3 1011.5V1013.3M253.92 1011.5V1013.3M265.82 1011.5V1013.3M274.78 1011.5V1013.3M281.2 1011.5V1013.3M286.8 1011.5V1013.3M294.39 1011.5V1013.3M303.67 1011.5V1013.3M308.42 1011.5V1013.3M312.19 1011.5V1013.3M317.8 1011.5V1013.3M322.67 1011.5V1013.3M328.38 1011.5V1013.3M333.3 1011.5V1013.3M338.88 1011.5V1013.3"/>
<text transform="translate(139.95 1020.31) rotate(-60)" text-anchor="middle" y="1.6">chr1</text>
<text transform="translate(157.57 1020.31) rotate(-60)" text-anchor="middle" y="1.6">chr2</text>
<text transform="translate(175.99 1020.31) rotate(-60)" text-anchor="middle" y="1.6">chr3</text>
<text transform="translate(191.46 1020.31) rotate(-60)" text-anchor="middle" y="1.6">chr4</text>
<text transform="translate(206.94 1020.31) rotate(-60)" text-anchor="middle" y="1.6">chr5</text>
<text transform="translate(221.87 1020.31) rotate(-60)" text-anchor="middle" y="1.6">chr6</text>
<text transform="translate(235.34 1020.31) rotate(-60)" text-anchor="middle" y="1.6">chr7</text>
<text transform="translate(244.4 1020.31) rotate(-60)" text-anchor="middle" y="1.6">chr8</text>
<text transform="translate(253.02 1020.31) rotate(-60)" text-anchor="middle" y="1.6">chr9</text>
<text transform="translate(264.92 1021.5) rotate(-60)" text-anchor="middle" y="1.6">chr10</text>
<text transform="translate(273.88 1021.5) rotate(-60)" text-anchor="middle" y="1.6">chr11</text>
<text transform="translate(280.3 1021.5) rotate(-60)" text-anchor="middle" y="1.6">chr12</text>
<text transform="translate(285.9 1021.5) rotate(-60)" text-anchor="middle" y="1.6">chr13</text>
<text transform="translate(293.49 1021.5) rotate(-60)" text-anchor="middle" y="1.6">chr14</text>
<text transform="translate(302.77 1021.5) rotate(-60)" text-anchor="middle" y="1.6">chr15</text>
<text transform="translate(307.52 1021.5) rotate(-60)" text-anchor="middle" y="1.6">chr16</text>
<text transform="translate(311.29 1021.5) rotate(-60)" text-anchor="middle" y="1.6">chr17</text>
<text transform="translate(316.9 1021.5) rotate(-60)" text-anchor="middle" y="1.6">chr18</text>
<text transform="translate(321.77 1021.5) rotate(-60)" text-anchor="middle" y="1.6">chr19</text>
<text transform="translate(327.48 1021.5) rotate(-60)" text-anchor="middle" y="1.6">chr20</text>
<text transform="translate(332.4 1021.5) rotate(-60)" text-anchor="middle" y="1.6">chr22</text>
<text transform="translate(337.98 1020.31) rotate(-60)" text-anchor="middle" y="1.6">chrX</text>
<text transform="translate(112.5 934.5) rotate(-90)" text-anchor="middle" font-size="5.9">Copy ratio (log2)</text>
</g>
<path stroke="#222" stroke-width=".9" d="M223.5 853.8h3"/>
<text x="135.1" y="842.8" font-size="17.4" fill="#111">UCP</text>
<text transform="translate(93.4 960.0) rotate(-90)" font-size="16.75" fill="#111">M#191</text>
</g>
<clipPath id="c6"><rect x="404.5" y="857.3" width="209.1" height="155.2"/></clipPath>
<g>
<g clip-path="url(#c6)">
<rect x="404.5" y="913.1" width="15" height="43.5" fill="url(#g)"/>
<rect x="404.5" y="924.5" width="15" height="20.7" fill="url(#n)"/>
<rect x="416.6" y="903.8" width="3.3" height="43.5" fill="url(#g)" opacity=".44"/>
<rect x="419.5" y="908" width="3.8" height="43.5" fill="url(#g)"/>
<rect x="419.5" y="919.4" width="3.8" height="20.7" fill="url(#n)"/>
<rect x="423.3" y="913.1" width="3.3" height="43.5" fill="url(#g)"/>
<rect x="423.3" y="924.5" width="3.3" height="20.7" fill="url(#n)"/>
<rect x="426.6" y="901.2" width="1.7" height="43.5" fill="url(#g)"/>
<rect x="426.6" y="912.6" width="1.7" height="20.7" fill="url(#n)"/>
<rect x="428.3" y="913.1" width="11.6" height="43.5" fill="url(#g)"/>
<rect x="428.3" y="924.5" width="11.6" height="20.7" fill="url(#n)"/>
<rect x="439.9" y="913.1" width="9.2" height="43.5" fill="url(#g)"/>
<rect x="439.9" y="924.5" width="9.2" height="20.7" fill="url(#n)"/>
<rect x="449.1" y="883.6" width="7.5" height="43.5" fill="url(#g)"/>
<rect x="449.1" y="895" width="7.5" height="20.7" fill="url(#n)"/>
<rect x="456.6" y="918.3" width="13.8" height="43.5" fill="url(#g)"/>
<rect x="456.6" y="929.7" width="13.8" height="20.7" fill="url(#n)"/>
<rect x="470.4" y="899.7" width="5.3" height="43.5" fill="url(#g)"/>
<rect x="470.4" y="911.1" width="5.3" height="20.7" fill="url(#n)"/>
<rect x="471.5" y="895" width="4.2" height="43.5" fill="url(#g)" opacity=".55"/>
<rect x="471.5" y="906.4" width="4.2" height="20.7" fill="url(#n)"/>
<rect x="475.7" y="917.8" width="10.8" height="43.5" fill="url(#g)"/>
<rect x="475.7" y="929.2" width="10.8" height="20.7" fill="url(#n)"/>
<rect x="486.5" y="893.5" width="14.5" height="43.5" fill="url(#g)"/>
<rect x="486.5" y="904.9" width="14.5" height="20.7" fill="url(#n)"/>
<rect x="499.3" y="903.8" width="4.7" height="43.5" fill="url(#g)" opacity=".55"/>
<rect x="499.3" y="915.2" width="4.7" height="20.7" fill="url(#n)"/>
<rect x="502.3" y="913.1" width="11.6" height="43.5" fill="url(#g)"/>
<rect x="502.3" y="924.5" width="11.6" height="20.7" fill="url(#n)"/>
<rect x="514" y="903.8" width="4.8" height="43.5" fill="url(#g)"/>
<rect x="514" y="915.2" width="4.8" height="20.7" fill="url(#n)"/>
<rect x="518.8" y="913.1" width="12.1" height="43.5" fill="url(#g)"/>
<rect x="518.8" y="924.5" width="12.1" height="20.7" fill="url(#n)"/>
<rect x="531" y="897.6" width="4.7" height="43.5" fill="url(#g)"/>
<rect x="531" y="909" width="4.7" height="20.7" fill="url(#n)"/>
<rect x="535.6" y="917.3" width="6.7" height="43.5" fill="url(#g)"/>
<rect x="535.6" y="928.7" width="6.7" height="20.7" fill="url(#n)"/>
<rect x="542.3" y="918.3" width="6.7" height="43.5" fill="url(#g)"/>
<rect x="542.3" y="929.7" width="6.7" height="20.7" fill="url(#n)"/>
<rect x="548.9" y="902.8" width="6.5" height="43.5" fill="url(#g)"/>
<rect x="548.9" y="914.2" width="6.5" height="20.7" fill="url(#n)"/>
<rect x="549.6" y="909.5" width="5.5" height="43.5" fill="url(#g)" opacity=".44"/>
<rect x="555.4" y="913.1" width="5" height="43.5" fill="url(#g)"/>
<rect x="555.4" y="924.5" width="5" height="20.7" fill="url(#n)"/>
<rect x="560.4" y="913.1" width="6.3" height="43.5" fill="url(#g)"/>
<rect x="560.4" y="924.5" width="6.3" height="20.7" fill="url(#n)"/>
<rect x="566.7" y="900.7" width="3.8" height="43.5" fill="url(#g)"/>
<rect x="566.7" y="912.1" width="3.8" height="20.7" fill="url(#n)"/>
<rect x="571.7" y="924" width="3.3" height="43.5" fill="url(#g)" opacity=".44"/>
<rect x="572.6" y="913.1" width="7" height="43.5" fill="url(#g)"/>
<rect x="572.6" y="924.5" width="7" height="20.7" fill="url(#n)"/>
<rect x="580" y="918.3" width="6.7" height="43.5" fill="url(#g)"/>
<rect x="580" y="929.7" width="6.7" height="20.7" fill="url(#n)"/>
<rect x="586.7" y="913.1" width="5" height="43.5" fill="url(#g)"/>
<rect x="586.7" y="924.5" width="5" height="20.7" fill="url(#n)"/>
<rect x="591.7" y="913.1" width="4.7" height="43.5" fill="url(#g)"/>
<rect x="591.7" y="924.5" width="4.7" height="20.7" fill="url(#n)"/>
<rect x="594.2" y="891.9" width="2.5" height="43.5" fill="url(#g)" opacity=".5"/>
<rect x="596.3" y="913.1" width="6.5" height="43.5" fill="url(#g)"/>
<rect x="596.3" y="924.5" width="6.5" height="20.7" fill="url(#n)"/>
<rect x="602.8" y="918.3" width="3" height="43.5" fill="url(#g)"/>
<rect x="602.8" y="929.7" width="3" height="20.7" fill="url(#n)"/>
<rect x="603" y="933.3" width="2.3" height="43.5" fill="url(#g)" opacity=".33"/>
<rect x="606.3" y="957.2" width="4.5" height="43.5" fill="url(#g)"/>
<rect x="606.3" y="968.6" width="4.5" height="20.7" fill="url(#n)"/>
<rect x="610.8" y="942.7" width="2.7" height="43.5" fill="url(#g)"/>
<rect x="610.8" y="954.1" width="2.7" height="20.7" fill="url(#n)"/>
<g transform="translate(404.5 857.3)" fill="none" stroke-linecap="round">
<path stroke="#333" stroke-opacity=".55" stroke-width="1.2" d="M200.1 81.9h0M11 90.5h0M75 77h0M120.5 77.1h0M70.6 67.9h0M58.3 81.1h0M178.1 78.9h0M124.7 73.8h0M66.9 72.9h0M147.9 67.8h0M126.8 55.6h0M73.7 77.5h0M124.5 86h0M21 64.8h0M169 96.8h0M206.8 102h0M190.7 77.8h0M194.4 78.1h0M142.3 77.6h0M132.8 81h0M12.8 75.8h0M114 88.4h0M84.1 62.6h0M92.1 65.5h0M148.4 62.6h0M201.8 121.5h0M8.3 66h0M50.1 51.8h0M5.8 78.1h0M25.1 74.6h0M145.7 70h0M41 84.7h0M10.1 88.7h0M135.1 92.4h0M153.3 75.1h0M10.6 84.3h0M132.6 74.6h0M195.6 76.3h0M93.9 59.1h0M134.8 86.9h0M144 82.4h0M48.8 41.7h0M83.8 60h0M169.7 72h0M127.4 72.1h0M45.4 46.3h0M151.5 86.4h0M12.4 82.5h0M29.9 81.8h0M12.6 75.3h0M175.2 71.7h0M98.5 78.5h0M77.1 88.6h0M131.7 72.5h0M157.7 62.7h0M31.8 78.1h0M36 78h0M207 111.7h0M59.2 70.1h0M103.2 75h0M161.4 71.3h0M79.8 84.1h0M80.6 87.2h0M.7 78.6h0M10 77.5h0M145.6 75.2h0M145.3 74.7h0M185.1 76.4h0M121.8 81.7h0M125 85.5h0M71.4 64.5h0M140.4 81.6h0M4.2 75.8h0M2.4 85.7h0M49.5 40h0M122.7 75.5h0M189.2 89.3h0M74 76h0M204.9 120.7h0M52.5 78.4h0M24.7 77h0M58.6 79.2h0M46 40.9h0M150.4 55.5h0M168.9 66.1h0M199.7 102.9h0M55 85.8h0M176.5 77h0M61.8 92.9h0M48.4 49.1h0M81.1 78.3h0M207.3 108.5h0M200.6 78.6h0M72 82.6h0M178.8 76h0M27.9 79.6h0M205.2 122.2h0M81.2 80.3h0M92 58.6h0M202.7 120.6h0M45.7 38.4h0M64.8 81.8h0M73.7 80.5h0M196.1 75.9h0M202.9 116.9h0M146.7 82.3h0M55.1 74.2h0M30.4 81.6h0M49.7 56.7h0M151 76.8h0M199.8 86.4h0M54.6 82.2h0M194.9 79.5h0M8.7 86.1h0M193.3 79.4h0M113.6 70.3h0M1.4 75.4h0M133.6 77.2h0M38 86.1h0M37.4 87.4h0M160.2 81.4h0M4 80.6h0M63.5 80.4h0M197.2 82.8h0M56.6 79.7h0M19.9 74.6h0M44.1 82h0M19 77.2h0M170.1 73.6h0M36.6 81.9h0M58.4 77.1h0M91.4 57.3h0M115.7 69h0M185 116.3h0M111.3 70.8h0M67.7 65.1h0M101.3 82.1h0M191.1 81.6h0M37.9 79.4h0M134.4 81.9h0M150.4 61.6h0M80.4 78.3h0M63.3 87.1h0M39.4 80.9h0M88.8 49.1h0M5 83.9h0M138.7 77.3h0M4.5 75.7h0M149.5 69.4h0M190.8 86.9h0M87.2 55.7h0M168.2 92.2h0M57.9 78.5h0M34 76.2h0M82.6 58.7h0M175.9 81.8h0M40.8 75.3h0M207.7 100.6h0M16.8 74.1h0M180.6 76.1h0M206.2 105.3h0M170.3 76.9h0M85.8 60.5h0M20.2 76.6h0M80.4 78.6h0M52.1 42.6h0M178.5 79.7h0M6.8 78.6h0M31.8 81.7h0M21.9 78.9h0M41.9 70.2h0M74.3 84h0M170.5 74.3h0M140 77.5h0M178.8 78.6h0M52.1 48.4h0M150.2 77.4h0M93.4 57.4h0M144.7 69.3h0M83.2 67h0M89.7 69.5h0M75.6 81.9h0M194.9 72h0M175.4 76.5h0M108 74.4h0M45.5 51.7h0M111.5 61.6h0M186.6 82.1h0M133.3 80h0M97.5 71.1h0M92.1 48.4h0M66.6 71.7h0M148.7 62h0M194.9 68.3h0M152.6 76.2h0M38.4 72.2h0M19.8 65.7h0M139.9 88.7h0M42.7 77.6h0M116.1 76.1h0M107.9 74.9h0M102 73.7h0M96.9 67.2h0M184.9 74.6h0M108.4 74.2h0M19.4 76.1h0M88.2 57.8h0M.8 83.8h0M121.9 74.5h0M168.2 112.7h0M101.8 71.3h0M7.7 81.4h0M104.5 77.5h0M156.8 69.4h0M56.1 81.9h0M106.4 77.4h0M93.9 56.2h0M116.7 89.9h0M175.5 77.4h0M31.4 73.1h0M39.6 90h0M168.2 69.2h0M171.4 78h0M23.7 74.7h0M199 84.9h0M132.4 78h0M49.2 47.7h0M25.9 71.6h0M167.6 96.4h0M122.9 73.1h0M31.3 77.3h0M83.9 71h0M7.4 72.8h0M13.8 71.6h0M100.1 80.2h0M45.7 47h0M26.6 76.5h0M68.2 54.5h0M200.1 85.8h0M158.4 73.9h0M49.1 56.6h0M107.5 72h0M76.2 74.8h0M144.4 78.8h0M52.8 78.7h0M198.1 84.2h0M168.3 93.5h0M82.2 69.5h0M75.7 90h0M57.1 86.1h0M30 79.6h0M173.6 68.5h0M181.4 74.2h0M77.5 92.8h0M21.5 74.9h0M90.6 58.6h0M51.9 41.9h0M134.8 77.6h0M44.2 44.3h0M105.2 77.7h0M114.9 84.3h0M196.7 82.2h0M69.9 60h0M91.4 61.2h0M89.5 58.7h0M69.3 45.5h0M103.8 71.7h0M132.4 89.1h0M12.2 65.2h0M95.7 59.7h0M71.3 84.3h0M48 54h0M139.4 74.8h0M34 83.4h0M114.6 67.2h0M31.7 63.1h0M17.5 72.1h0M96.8 54.7h0M144 83.7h0M97.5 67.6h0M68.2 68h0M146.4 73.1h0M55 89h0M129.2 70.2h0M105 90h0M31.1 80.8h0M19.3 77.6h0M22.9 85.5h0M127.9 58.3h0M37.1 79.5h0M146.7 79.1h0M176.7 84.2h0M207.5 102.2h0M185 76h0M17.8 81.4h0M203.3 119.4h0M2.5 74.7h0M49.4 46.4h0M80.8 75.3h0M185.3 84.5h0M111.1 66.9h0M28.5 81.3h0M130.4 62.7h0M193.2 78.8h0M29.1 80.5h0M140.3 80.9h0M22.4 68.9h0M120.8 77.6h0M194.4 64.9h0M171.4 74.5h0M9.1 79.6h0M76.8 83.1h0M122.7 77.5h0M79.8 78.8h0M46.8 52.1h0M88.7 59.9h0M8.7 79.2h0M74.4 91.3h0M40.8 72.8h0M29.2 81.2h0M60.7 88.3h0M94 65.2h0M168.6 107.2h0M86.5 50.7h0M41.5 86h0M130.7 69.4h0M18.8 64.8h0M179.7 82h0M84 49.6h0M127.7 66.1h0M72.6 81.1h0M164.1 62.7h0M80.5 88h0M101.9 80.5h0M20.7 71h0M152 74.3h0M75.1 74.4h0M152.6 83.8h0M145.6 77h0M48.9 53.8h0M50.5 42.1h0M84.4 60.7h0M157.1 76.1h0M166.4 64.2h0M100.9 70.7h0M48.7 47.5h0M130.6 57.5h0M146.5 69h0M187.6 83.4h0M39.9 81.4h0M34.5 85.2h0M177.2 87.4h0M18.2 70.6h0M39.7 82.2h0M83 56.3h0M180.5 80.9h0M158 76.3h0M117.5 73.7h0M50.8 52.2h0M116.5 78.7h0M127.6 57.9h0M17.5 76h0M116.2 82.6h0M67.9 66h0M34.8 75h0M166.4 105.6h0M124.9 76.3h0M67.9 55.9h0M206.3 102.6h0M160 69.7h0M185.8 68.5h0M47.2 50.4h0M126.2 74.5h0M50.8 47.3h0M96.9 65.3h0M52.4 80.3h0M200 71.8h0M164.4 68.2h0M157.4 72.1h0M47.8 52.4h0M130.7 91.4h0M94.6 61.3h0M66.5 64.9h0M134.6 78.8h0M106.9 70.5h0M198.3 75.5h0M156 73.6h0M64.5 76.2h0M65.4 84.1h0M4 77.4h0M88.2 65.7h0M5.8 68.7h0M22.1 61.4h0M136.4 88.4h0M33.5 79.5h0M108.8 81.3h0M128.7 61.3h0M126.4 84.5h0M95.1 75.3h0M133.3 79.3h0M161.3 77h0M205.1 124.1h0M118.3 74.9h0M15.3 65.6h0M184 72.3h0M171 69.1h0M95.7 50.1h0M105.5 83.6h0M40.7 84.5h0M51.3 41.8h0M205.9 113.4h0M62.4 67.3h0M113.7 64.7h0M81.6 76.6h0M159.7 72.2h0M6.7 82.5h0M151.7 84.1h0M194.5 76.1h0M200.2 79.1h0M197 76.9h0M107.4 79.5h0M135.4 88.6h0M203.7 122.9h0M28.1 85.9h0M193.6 75.4h0M124.1 80.4h0M110.8 71.3h0M20.6 69.5h0M89.9 59.1h0M36.9 70.2h0M116.2 86h0M18.4 70.3h0M193.5 76.5h0M117.4 75.9h0M29.9 74.6h0M153.7 73.1h0M59.1 79h0M192 58.8h0M30.2 72.4h0M30.8 74.8h0M134.1 83h0M177.2 69.9h0M80.7 84.4h0M202.7 129.5h0M156.9 80.9h0M151 61.6h0M150.5 61.8h0M64.6 88.7h0M153.6 72.6h0M94.8 66h0M17.2 70.5h0M89.8 60h0M58.8 80.2h0M163.7 68h0M41.6 70.6h0M188.8 87.3h0M99.7 83.8h0M201.6 125.4h0M112.3 59.6h0M174 71.6h0M43.6 79.6h0M97.8 78.4h0M98.9 77.8h0M24.5 72.3h0M12 68.4h0M84.4 61h0M131.6 83.8h0M155.2 65.4h0M178.9 81.6h0M176.7 83.1h0M24.4 82.6h0M67.7 54.7h0M182 75h0M75.9 83.5h0M134.5 80.1h0M145.5 69.2h0M87.8 54.6h0M91.4 49.4h0M75.3 84.3h0M28.8 86.2h0M141 78.9h0M78.3 70.1h0M123.2 82h0M188.2 82.4h0M93.2 47.8h0M111.8 65.7h0M167.1 110h0M126.8 68.8h0M5.9 81.4h0M73 89.9h0M172.6 71h0M192 53.5h0M62 76.9h0M69.2 58.7h0M134.8 87.9h0M163.4 57.1h0M69.9 51.3h0M15.3 69.1h0M109.1 82.7h0M110.1 59h0M139.1 69.9h0M81.7 61.1h0M147.1 66.4h0M170.7 74.6h0M46.4 47.4h0M111.5 63.8h0M88.8 59.4h0M198 75.1h0M75.1 81.4h0M185.5 84.3h0M51.9 51.3h0M163.4 66.2h0M80.3 78.1h0M173.9 71.3h0M69.9 51.3h0M51.7 49.8h0M23.6 82h0M39.6 75.4h0M116.8 85.6h0M190 82.5h0M88.6 57.2h0M48.9 44.7h0M5.8 74.3h0M14.2 72.4h0M82 44.3h0M109.7 77.6h0M174.7 77.3h0M149.6 74.4h0M168.1 75.6h0M162 71.8h0M86.3 44.4h0M140.2 87.8h0M97.6 77.1h0M105.3 73.2h0M38.7 78.1h0M14.2 75.1h0M190 51.4h0M169.3 75.6h0M97.2 58.6h0M154.2 82.4h0M107.4 77.6h0M182.1 85.5h0M31.4 79.1h0M30 82.7h0M150.3 84h0M84 58.9h0M205.3 118.2h0M142.4 87.3h0M66.3 69.4h0M181.2 89h0M207.1 103.9h0M28.3 84.6h0M88.8 57.8h0M100.4 86.1h0M60.3 71.1h0M159.5 77.5h0M107.9 74.9h0M96.4 66h0M180.9 82.1h0M109.5 77.7h0M157.8 71.6h0M96.6 59h0M9.4 91.2h0M35.1 86.4h0M62.6 76.2h0M76.9 84h0M108 81h0M48.1 47.9h0M97.7 85.6h0M25.1 78.6h0M192.1 71.8h0M166 66.1h0M106.8 80h0M3.6 72.2h0M159.8 77h0M191.2 75.8h0M193.7 73.2h0M174.8 69h0M192.8 80.5h0M80.4 83.1h0M130.2 62h0M82.8 60.9h0M156.3 83.5h0M38.6 80.9h0M39.9 83.2h0M18.5 74h0M15.8 74.5h0M64.6 87h0M71.7 81.5h0M74.3 79.6h0M1.9 78.1h0M178.4 86.4h0M104.7 85.6h0M68.5 61.7h0M31.5 78h0M87.4 62.1h0M156.3 82.6h0M105.2 76.7h0M103.8 78.7h0M76.4 87h0M156.4 79.7h0M18.1 72.1h0M47 47.9h0M23.3 70.7h0M57.2 84.2h0M156.3 89.5h0M206.8 95.7h0M62.8 73.3h0M116.2 83.4h0M106.6 78.3h0M113.5 81.1h0M208.3 107.3h0M84.1 53.8h0M195.6 75.8h0M158.3 90.7h0M204.5 120.8h0M146.9 69.3h0M29.7 79h0M37.4 79.4h0M150.5 69.3h0M78.7 86.6h0M16.9 87h0M2.7 79.8h0M174.9 75.5h0M105.9 87.9h0M157 81.1h0M8.1 85h0M207.4 103.6h0M195 73.4h0M168.2 67.3h0M47.1 51.2h0M13.6 85.6h0M117.5 75.9h0M11 77.7h0M131.7 73.3h0M66.6 56.6h0M202.3 119.1h0M127.7 60.6h0M82.7 47.1h0M93.7 62.1h0M178.9 84.7h0M160.1 68.9h0M150.4 73.9h0M78.3 85.3h0M35.6 87.4h0M66.9 67.9h0M174 74.1h0M58 93.5h0M199.7 83.5h0M145.4 67.4h0M19.3 67.9h0M184.6 79.3h0M32.1 89.7h0M66.6 59.9h0M166.2 62.5h0M43.3 74.7h0M80.2 78.9h0M192.5 49.9h0M76.4 81.2h0M39.7 81.1h0M94.1 61.3h0M131.5 81.6h0M83.9 56h0M184.5 76.1h0M79.2 82.7h0M145.1 68.8h0M183.5 84.3h0M38.8 75.6h0M121.1 85h0M66.6 65.6h0M81.6 89.3h0M158.1 68.7h0M66.4 65h0M165.7 64.6h0M123.6 80.2h0M46.6 52.7h0M95.6 68.9h0M50.6 58.9h0M89 62.5h0M157.1 76h0M141.8 84.7h0M141.5 82.3h0M192.8 73.2h0M119.7 74.9h0M182.6 83.1h0M167.4 93.2h0M82.7 57.9h0M123.7 74.7h0M124.2 81h0M24.9 80.3h0M128.5 63h0M186.4 83.4h0M111.1 70.6h0M158.6 78.3h0M33.9 78h0M20.4 84.4h0M24.9 75.3h0M54.5 89.5h0M108.2 79.6h0M157.6 79.7h0M99.5 76.8h0M99.4 75.4h0M96.1 62.1h0M165.8 65.9h0M181.7 74.8h0M149 70h0M30.7 87.3h0M24.1 81.8h0M122.4 76.4h0M114.8 83.9h0M43.9 79.1h0M167 83.5h0M84.7 59.9h0M135.3 88.9h0M177.3 80h0M158.7 78.6h0M197.2 63.4h0M22.8 80.1h0M19.7 76.1h0M113.6 61.9h0M146.9 71h0M181 87.8h0M204.1 113.8h0M111.2 64.9h0M76.1 89.2h0M77.2 89.5h0M62.6 85.2h0M103.5 88.9h0M137.2 80.1h0M169.5 79.8h0M24.5 75.4h0M69.9 56.7h0M133.7 83.3h0M87.5 63.5h0M13.5 64.5h0M197.3 81h0M186.7 88.1h0M72.1 85.5h0M47.4 50.8h0M83.1 60.1h0M157 74.7h0M134.1 71.8h0M69.8 67h0M29.8 76.7h0M30.7 78.8h0M175.3 72.5h0M193.7 77.8h0M194.8 75.2h0M73.9 86.5h0M26.3 77.7h0M135.8 78.3h0M190 76.4h0M126.6 76.3h0M95.9 65.1h0M154.3 78.1h0M29.4 91.2h0M41.5 88.9h0M154.7 90.6h0M197.3 68.3h0M87 53.8h0M160.5 73h0M133.4 90.3h0M13 82.9h0M70.7 85.1h0M98.1 70.7h0M188.9 79.9h0M135.9 89.7h0M205.6 124.1h0M107.8 82.3h0M30.5 80.6h0M34.1 76.7h0M21.4 56.6h0M100.6 86h0M146.9 71.8h0M100.8 82.2h0M17.2 68.7h0M14.7 73.5h0M19.8 75h0M148 65.1h0M1.8 77.5h0M178.4 83.2h0M61.3 77h0M55.3 81.2h0M154.1 67.3h0M12.6 76.8h0M136.8 76.7h0M144.8 70.8h0M82 54.1h0M196.9 71.6h0M126.9 63h0M97.8 70.3h0M186.4 75.8h0M77.2 76.4h0M196.7 82h0M135.9 90.1h0M117.3 77.5h0M148.3 68.2h0M130.5 64.5h0M19.4 73.8h0M98.1 81.3h0M165.5 59.6h0M140.8 89.8h0M121.8 82.3h0M197.3 79.2h0M66.2 64.9h0M193.5 78.8h0M100.7 85h0M180.6 89.1h0M171.4 70.2h0M180.2 78.3h0M158.4 77.9h0M200.2 81.1h0M105.6 75.5h0M17.7 68.6h0M155.4 80.5h0M49.7 49.9h0M140.3 77.5h0M159 63h0M2.4 72.9h0M128.6 70.9h0M128.4 64.5h0M76.5 87.8h0M164.2 60.6h0M53.1 90.5h0M172 77.7h0M160.4 71.9h0M202.7 126.3h0M204.8 126.4h0M128.6 60h0M16.1 64.5h0M145 67.8h0M88.8 61.9h0M115.6 91.3h0M208.6 104.4h0M203.2 123.5h0M55.7 81.8h0M123.6 76.8h0M142.5 83h0M7.6 88.3h0M17.5 70.6h0M22.5 69.4h0M2.8 78.4h0M56.5 92.7h0M185 83.7h0M43 89.7h0M40.4 75.7h0M100.1 81.8h0M25.5 77.5h0M157.8 72.9h0M117.8 74.8h0M143.8 88.4h0M128.2 58.6h0M167.7 93.4h0M174.2 76h0M60.1 75.5h0M61.7 75.8h0M173.6 70.8h0M196.2 74h0M102.1 77.7h0M144.3 75.5h0M62.2 69.5h0M15.8 66.9h0M204.7 109.7h0M78.3 85.2h0M68.3 61.7h0M57.6 80.3h0M24.1 70.5h0M198.5 86.6h0M55.2 93.2h0M116 80.7h0M156.3 80.7h0M150.9 84.1h0M195 71.8h0M109.3 82.9h0M124.5 94.7h0M62.3 86h0M166.6 102.9h0M80.8 84.2h0M13.5 82.1h0M72.8 79.3h0M55.6 82.6h0M116.7 77.8h0M176.1 87.9h0M29.7 86.3h0M1.8 73h0M199.3 81.3h0M63.2 82.1h0M54.8 85.4h0M163.4 64.2h0M116.6 80h0M146 68.9h0M123 74.5h0M60 71.2h0M178.2 94.3h0M106.1 89.4h0M17.2 73.1h0M175.6 93.1h0M135.7 81.2h0M6.8 70.6h0M187.2 77.7h0M123.4 81.5h0M56.8 88.5h0M81.7 79.8h0M158.8 70.4h0M19.3 79.1h0M141.3 83.3h0M51.4 44.4h0M50.4 34.4h0M104.8 80h0M86.6 56.6h0M114.9 74.5h0M170.4 87.3h0M99.7 74.3h0M122.2 79.9h0M1.9 73.1h0M50.7 43.6h0M109.1 81.6h0M44.4 83.6h0M35.3 78.3h0M51 42.6h0M125.1 81.6h0M18.6 75.7h0M200.4 75.9h0M135.9 83.8h0M24 68.8h0M197.2 70.1h0M29.7 84.2h0M162.7 71.1h0M187.8 78.1h0M138.5 86.3h0M111.7 68.1h0M43 75.7h0M122.7 83.3h0M61 79.8h0M123.5 80.4h0M25.3 80.1h0M114.8 79.9h0M134 88.4h0M46.9 47h0M157.9 75.9h0M152.5 82.1h0M14.7 72.9h0M90.5 57.4h0M67.8 56.7h0M150.7 69.5h0M16.9 69.5h0M33.9 82.6h0M175.8 81.7h0M40.8 79.3h0M119.1 76.7h0M182.1 86.5h0M140.7 80.3h0M8.3 79.5h0M165.7 51.9h0M60.3 86h0M64.8 88h0M111.9 78.8h0M67 60h0M102 85h0M59.7 81.8h0M120.4 83h0M170.2 78.7h0M72.3 87.6h0M28.3 79.5h0M54.5 89.6h0M18.8 73.2h0M66.4 63.1h0M.6 76.6h0M157.6 61h0M107.1 71.1h0M60.5 84.6h0M203.5 112.4h0M20.4 67.1h0M109.3 68.1h0M97.7 70.2h0M29.8 88.6h0M19.2 65.8h0M169.3 79.4h0M188.3 70.4h0M125.7 78.9h0M208.2 107.3h0M33.7 79.2h0M63.5 75.3h0M103.9 84.7h0M59.3 77.6h0M16 78.3h0M113 67.7h0M153.1 83.4h0M60.3 83.3h0M74.7 91.4h0M23.3 68.8h0M208.5 102.8h0M29.9 78.5h0M6.7 76h0M98.2 57.6h0M138.1 89.5h0M129.8 66.4h0M121.2 76.5h0M20.6 67.6h0M166.1 62.6h0M153.3 80.9h0M168.9 73.4h0M42.8 81.2h0M73.3 81.7h0M18.5 73.5h0M143.7 83.3h0M124.2 86.4h0M163.8 59.7h0M68.5 60h0M15 71.5h0M176.8 82.3h0M143.1 73h0M200.4 88.2h0M116.3 76.1h0M41.4 78h0M125.8 84.9h0M29.7 82.3h0M69.7 60.6h0M7.6 82.7h0M16.2 78.8h0M74.8 95h0M145.7 68h0M31.9 76.1h0M176.7 74.5h0M68.2 71.8h0M80 84.3h0M145.3 77.4h0M141.3 84.3h0M203.4 120.5h0M103.9 80.7h0M136.5 83.4h0M36.5 81.8h0M164.6 59.4h0M184.3 81.2h0M171.1 76.7h0M1 87.3h0M13.6 68h0M196.7 78.6h0M55.1 86.5h0M55.9 80.2h0M101.3 78.9h0M25.4 78.2h0M59 90.4h0M189.1 78.8h0M144.4 61.2h0M58.9 92.9h0M198.2 73.4h0M17.3 70.9h0M103.9 84.7h0M121.7 75.9h0M60.2 80h0M23.8 78.7h0M76.1 80.6h0M132.7 77.7h0M14.9 69.4h0M42.1 74.8h0M84.6 57.2h0M188.1 70.6h0M149.4 62.1h0M199.4 77.2h0M201.9 117h0M107 85.8h0M200.6 97.7h0M50.7 53.7h0M23 59h0M159.5 72h0M159.7 77.2h0M192.6 76.9h0M57.5 78.6h0"/>
<path stroke="#4a4a4a" stroke-opacity=".52" stroke-width="1.05" d="M180.1 97.2h0M121 54h0M134.8 93.6h0M113.1 46h0M43.6 77.6h0M151.8 98.9h0M33.3 109.6h0M191.2 74.1h0M142.4 74.6h0M137.2 81.3h0M150.8 84.5h0M3.6 76.3h0M86.2 88.2h0M118.6 62.9h0M26.5 78.7h0M43.7 98.8h0M61.9 77.9h0M143.5 91h0M46.4 40.6h0M102.2 71.1h0M135.4 76.9h0M7.5 56.6h0M45.5 87h0M206.4 97.5h0M.7 58.9h0M19.5 60.7h0M104.4 68.4h0M103.8 65.4h0M97.8 74.9h0M148.6 100.3h0M65.8 85.2h0M122.8 82.4h0M59.2 76.7h0M184.3 83h0M198.6 83.2h0M68 68.7h0M82.7 45.7h0M121.4 96.8h0M79.2 97.1h0M136.3 93.2h0M199.8 93.7h0M103.4 112.8h0M168.6 64.6h0M20.6 62.5h0M151.6 73.3h0M135.2 96.2h0M127.5 56.2h0M159.4 83.3h0M40.5 78.5h0M154.9 43.9h0M109.7 87h0M150.6 83.7h0M29 97.4h0M4.1 93.9h0M48.2 43.5h0M69 61h0M4.9 96.3h0M190.8 80.8h0M168.4 70.4h0M100 70.4h0M143.7 74.1h0M119 81.6h0M86.8 75.6h0M8.5 90.7h0M185 78.2h0M160.6 75.2h0M23.8 71h0M162 81.3h0M200.2 92.1h0M131.7 109h0M101.1 93.8h0M130.5 72.1h0M33.6 59.7h0M48 36.6h0M94.6 46.1h0M87.3 55.9h0M35.2 86h0M28.8 82h0M56.3 68.7h0M188.2 89.7h0M50.6 46.3h0M169 70.2h0M31 62.2h0M170.1 101.9h0M29.8 76.9h0M139 83.6h0M102.5 79.3h0M207.6 105.9h0M184.6 91h0M93 57h0M123.3 95.8h0M163.5 54.3h0M133.6 94.7h0M1.3 76.1h0M21.9 61.7h0M19.4 66h0M117.2 90.6h0M37 66.8h0M151.4 52.5h0M47.5 77.1h0M47.1 50.3h0M96.4 66.7h0M205.2 103.9h0M26.8 84h0M52.2 82.3h0M204.8 124.6h0M170.5 85.7h0M11.5 69.6h0M33.1 52.4h0M129.6 36.8h0M86.6 37h0M39.5 90.4h0M123.4 108.8h0M81.7 79h0M158.7 91.6h0M121 71.1h0M175.1 72.2h0M193 78.5h0M117.9 81.7h0M134.1 69.2h0M133.5 113.7h0M183.9 95.3h0M81.9 90.1h0M21.3 73.2h0M69.3 89.4h0M194.4 66.1h0M120.3 103.2h0M66.3 75.1h0M14.9 95.2h0M82 61h0M1.6 92.3h0M137.2 82h0M35.4 95.8h0M113.2 81.8h0M3.8 73h0M18.2 63.3h0M60.9 90.1h0M189.7 96.5h0M174.4 85.7h0M63.8 86.5h0M166.6 123.6h0M33.9 73.5h0M14.8 88.1h0M35.8 65.2h0M37.8 89h0M78.4 96.6h0M114.7 77.4h0M177.2 77.5h0M101.3 85h0M20.6 75.2h0M57 99.7h0M190 94.5h0M8.7 95.8h0M207.4 100.4h0M139.8 100.9h0M8.1 72.4h0M188.7 69h0M111.5 71.7h0M8.1 79.1h0M145.2 90.8h0M90.8 72.7h0M13 88.3h0M182.3 112.5h0M188.6 72.6h0M4.4 74.9h0M22.7 66.7h0M89.8 31.6h0M112.4 68.2h0M47.1 17.3h0M173.5 86.2h0M79.7 86.7h0M155.7 68.5h0M11.3 64.6h0M43.2 105.6h0M98 79.6h0M42.2 86.7h0M138.2 89h0M108.2 89.2h0M20.4 32.4h0M68.8 74.4h0M157.6 67.6h0M55 78.2h0M110.5 59.4h0M9.3 65.5h0M12.6 72.3h0M189.4 72.4h0M35.6 107h0M160.2 96.7h0M159 60.4h0M113.7 84.2h0M150.9 82.7h0M138.1 93.9h0M50.2 50.6h0M202.6 90.4h0M117.1 86h0M136.5 69h0M52.9 93.6h0M120.5 104.8h0M36.1 83.1h0M188 98.1h0M28.2 78.2h0M163.3 49.6h0M115.1 96.1h0M88.6 66.9h0M202.8 147h0M162.6 63.8h0M77.3 99.4h0M187.9 88h0M8.2 81.4h0M154.6 76.1h0M162.4 78.2h0M168.1 76.1h0M60 101.9h0M115.3 63.7h0M126.8 90.2h0M52.2 85.7h0M120 80.7h0M142.6 95.9h0M86.4 80.3h0M1.3 98.2h0M39.6 99.9h0M39.9 88.5h0M152.8 77.8h0M45.8 55.2h0M84 56.4h0M170.3 63.3h0M190.4 81.4h0M41.4 108.1h0M96.5 68.4h0M92.5 64.7h0M57.6 65.4h0M91.5 72.9h0M138.8 67.5h0M118.3 87.7h0M183.7 86.6h0M36.9 74.1h0M56.3 94.3h0M78.6 99.6h0M179.2 113.4h0M207.7 116h0M82.5 57.3h0M208.4 118.1h0M24 111.8h0M188 96.1h0M125.9 91.3h0M35.8 88.4h0M145.5 47.3h0M119.1 87.3h0M104.6 74h0M92 30h0M115.6 93.3h0M73 77.2h0M55.3 87.8h0M79.5 115.8h0M51.2 58.2h0M65 82h0M162.2 56.3h0M29.1 98.2h0M21.3 60.8h0M105.3 109.1h0M144.4 74h0M83.1 63.1h0M200.1 99.2h0M11.1 82.2h0M37.8 99.2h0M169.7 84.5h0M175.9 82.3h0M71 102.3h0M161.2 74.2h0M21.1 83.3h0M46.3 51.3h0M83.9 90.9h0M156 86.8h0M153.5 59.1h0M157.3 65.7h0M33.5 86.6h0M126 76h0M188.4 89.6h0M194.8 94.8h0M92.8 78.6h0M49 42.2h0M188.5 91.6h0M153 93.8h0M92.3 62.8h0M142.6 102.5h0M54.6 104.3h0M108.1 65.7h0M69.3 68.2h0M143.9 64.9h0M4.8 75.8h0M139.7 110h0M75.8 98.9h0M102.4 81h0M53.8 56.7h0M82.2 104.3h0M205.7 119.6h0M14.4 50.3h0M149 76.5h0M150.4 52.4h0M4.5 108.6h0M126.3 81h0M23.2 30.9h0M60.5 94.8h0M175.1 90.6h0M79.1 64.2h0M72.8 92.2h0M200.6 63.9h0M38.5 77.8h0M154.5 76.2h0M43.7 44h0M159.3 80.4h0M113.3 63.4h0M134.4 64h0M167.3 106.2h0M58.8 96.6h0M32.2 73.8h0M103.7 48.9h0M46.5 62.8h0M103.9 89.1h0M171.9 96.2h0M162.7 75.9h0M37.2 92.2h0M144.7 61.2h0M52.6 90.8h0M187.3 69.6h0M201.6 147.8h0M95 46.9h0M104.7 76.8h0M129.3 77.6h0M93.5 79.4h0M157.7 62.6h0M17.1 65.1h0M191.9 81.3h0M24.5 80.2h0M165.4 42.9h0M7.9 94.2h0M56.1 82.9h0M130.7 83.7h0M75.9 87.8h0M142.2 127.6h0M9.2 102.1h0M194.5 75.5h0M203.6 132.4h0M157.7 75.1h0M4.3 87.3h0M185.3 83.7h0M18.7 67h0M89.4 66.2h0M172.2 95.6h0M99.8 72.5h0M72.4 59.6h0M87.5 37.5h0M102 96.5h0M200.1 89.1h0M149 67.1h0M182.1 68.5h0M143.2 117.8h0M92.7 38.9h0M101.6 59h0M60.7 85h0M43 80.6h0M191.7 71.2h0M125.8 103.9h0M66.6 56.1h0M201.3 91h0M115.9 93.6h0M203.7 130.9h0M24.9 113.5h0M72.3 78.7h0M44.3 92.3h0M152.7 85.6h0M144.5 93.9h0M85.5 48.1h0M136.8 100.8h0M62.8 71h0M118.9 76.7h0M94.4 62.3h0M172.6 82.5h0M124 95.4h0M61.2 89.7h0M65 98.7h0M104 49.7h0M106.1 104.8h0M71.3 53.1h0M141.1 105.7h0M170.4 92.5h0M12.6 84h0M4.2 90.7h0M43.3 89.8h0M3.5 100.1h0M16.1 71.7h0M133.6 89.9h0M27.1 68.2h0M3 104.7h0M199.2 88.8h0M174.3 86.1h0M58.2 77h0M147.3 82.9h0M69.4 73.7h0M4.2 80.8h0M171.5 79.4h0M117.7 62.1h0M148.2 85.8h0M7.5 61.9h0M23.3 92.5h0M110.4 72.4h0M203.7 127.5h0M31.9 91.6h0M53.6 78.7h0M36.2 60.1h0M47.5 39.4h0M172 78.2h0M123.7 77.5h0M20.3 62.7h0M16.3 79.4h0M124.9 95.2h0M43.3 82.5h0M8.8 83.2h0M208.3 114.6h0M86.2 33.8h0M113.7 86.9h0M14.5 108.5h0M203.2 135.1h0M181.8 84.4h0M82.3 72.1h0M48.6 38.2h0M99.4 63.2h0M20.9 81h0M148.4 84.3h0M193.7 94.9h0M33.4 95.4h0M56.1 83.3h0M181.1 85h0M54.9 83h0M177 77.8h0M188.4 78.4h0M91.4 63.7h0M25 84.1h0M42.1 73.8h0M32.3 73h0M198.3 100.4h0M112.1 79.5h0M13.8 73.6h0M84.6 64h0M200.5 74.9h0M180.1 100.3h0M170.3 84h0M180.3 74.7h0M5.3 67.3h0M159.3 84.9h0M170.4 79.9h0M19.4 73.2h0M86.3 42h0M88 66.3h0M7.6 92.1h0M191.3 72.9h0M116.9 82.5h0M187.6 95.1h0M171.9 55.7h0M111.4 73.4h0M23.2 57.7h0M4 93.7h0M126.6 43.6h0M114.6 59.1h0M71.2 89h0M193.4 76.3h0M116 76.3h0M137.1 76.1h0M40 83.3h0M113.4 73h0M12.7 74.5h0M140 99.3h0M207 99.9h0M207.1 108.3h0M152.9 89.2h0M11.7 82.6h0M49.8 54.7h0M126.8 52.6h0M24.1 90.5h0M181.7 90.3h0M7.7 87.9h0M55 100.8h0M116.1 75.6h0M64.3 82h0M194.9 98.9h0M45.1 42.5h0M163 55.1h0M67.5 75.3h0M73.9 101.2h0M121.8 89.2h0M81.9 79.1h0M47.5 50.9h0M82.5 71.5h0M158.7 95.9h0M47.1 73.4h0M79.3 88.1h0M122.6 69.6h0M174.8 52.1h0M.5 95h0M160.3 49.4h0M162 82.6h0M46.9 54.2h0M170.5 78.6h0M173.1 86h0M26.6 88h0M170.8 69.4h0M97.6 70h0M13.3 75.3h0M89.4 43.7h0M45.3 42h0M88.3 57.9h0M203 118h0M40.1 93h0M44.7 34h0M138.1 101h0M168.6 86h0M194.4 68.3h0M33.6 85h0M153.1 99.3h0M198.5 92.1h0M69.9 71.2h0M199 69.5h0M37.1 70h0M133.9 90.9h0M153.6 93.7h0M137.7 73h0M42.1 92.7h0M133.2 99h0M97.8 69.1h0M152.2 67.8h0M186.5 76.3h0M17.7 57.9h0M111.8 70.9h0M180.3 83.8h0M103.9 94.3h0M45 30.5h0M26.2 85.2h0M75.6 64.6h0M22.4 90.3h0M174.2 70.3h0M113.5 86.5h0M199.2 78.7h0M88.2 68h0M38.8 66.5h0M39 80.3h0M99.2 94h0M32.3 69.3h0M186.9 72.6h0M99.5 79.5h0M19.3 73.5h0M153.9 84.2h0M79.3 103.5h0M62.6 82.7h0M60.4 78.6h0M204.7 135.9h0M176.1 84.2h0M39.6 69.9h0M96 76.9h0M103 93.2h0M53 72.8h0M43.3 92.5h0M71.5 73.9h0M15.6 87.8h0M9.5 57.6h0M76.8 84.5h0M25.3 74.9h0M74.4 91.4h0M148.8 84h0M195.9 67.4h0M186.4 67.3h0M188 84.2h0M24.1 82.9h0M170.6 93.4h0M193.2 99.9h0M29.3 81.4h0M80.4 76.7h0M14.3 110.5h0M5.8 84.3h0M198 68.4h0M104.6 105.9h0M99.5 71.5h0M122.6 104.8h0M80.7 87.7h0M127.9 107.8h0M50 63.2h0M189.3 66.7h0M119.8 82h0M104.6 89.3h0M151.5 97h0M7.3 62.6h0M116.5 102.5h0M155.7 95.5h0M30.5 86.1h0M5.5 62.2h0M95.2 67h0M183.9 97.8h0M142.9 103.5h0M103 61.1h0M13.6 56.9h0M66.4 45.9h0M183.1 81.9h0M157.8 81.5h0M135.4 100.2h0M168.5 100.3h0M113.7 68.4h0M176.1 103.2h0M13.4 82.6h0M128.3 36.8h0M114.3 101.9h0M199.7 118.1h0M197.1 65h0M38.2 79h0M5.2 96.6h0M1.2 81.9h0M141 94.6h0M170.2 76.5h0M188.6 86h0M84.5 43.3h0M64.3 91.6h0M122.9 98.7h0M61.9 88.8h0M109.1 63h0M159.4 74.2h0M128.9 61.8h0M99.6 54.3h0M155.4 122.4h0M97 95.2h0M55.5 58.3h0M9.3 94h0M89.1 75.1h0M168.7 87.1h0M50.7 44.6h0M175.1 64.7h0M105.3 90.3h0M134.5 75.4h0M9.8 63.9h0M187.7 75.3h0M131.6 95.2h0M37.3 84h0M157.6 68.2h0M148.8 79.9h0M92.1 62.7h0M165.7 85.6h0M64.5 100.2h0M161.2 68.8h0M38.1 103.7h0M195.7 99.2h0M167.1 109.7h0M205.7 133.7h0M201.6 77.9h0M8.3 85.3h0M125.6 87.1h0M123.7 95.1h0M29.4 71.8h0M118.7 88.9h0M120.5 94.6h0M107.7 67.2h0M208.2 110.8h0M135.9 101.9h0M145.9 45.2h0M154.3 73.7h0M49.4 57.3h0M91.8 73.7h0M16.6 113.1h0M169.8 81.4h0M17.7 73.8h0M199 106.1h0M123 68.4h0M30.9 90.1h0M60.1 84.6h0M92.8 42.9h0M77.4 109.5h0M30.8 69.8h0M178.2 91.6h0M30.2 80.1h0M27.2 84h0M176.1 98.4h0M116 109.1h0M46.8 58.9h0M32.9 54.8h0M64.9 91.9h0M37.4 90.7h0M71.9 97.6h0M21.8 71h0M123 94.1h0M157.8 76.1h0M207 118.1h0M122.6 83.4h0M32.6 90h0M17.5 71.2h0M186.2 85h0M198.2 74.2h0M75.9 85.5h0M26.2 98h0M98.1 97.5h0M69.5 49.6h0M173 74.3h0M73.6 86.7h0M39.6 81.8h0M44 20.6h0M21.1 61.1h0M185.5 80.2h0M71.1 66h0M52.8 78.4h0M198.3 95.1h0M39.1 77.2h0M95.6 61.1h0M177.8 85.7h0M168.3 99.8h0M185.4 97.2h0M104.1 78.4h0M80.9 86.6h0M40.7 64.7h0M188.5 63.1h0M4 81.1h0M166.5 79h0M85.9 67.6h0M107.2 80.7h0M138.4 77.2h0M34.1 73.9h0M127 59.7h0M190.2 42.4h0M138.9 103.4h0M139.7 115.8h0M101.8 78.9h0M199.8 121.6h0M48.3 51.5h0M160.5 57.1h0M198.4 94.3h0M38.2 82.3h0M114.6 122.3h0M123.1 65.2h0M148.8 71.7h0M35.3 83.4h0M41.7 84.6h0M54.8 55.6h0M182.8 66.3h0M125.5 87h0M52.2 75.8h0M44.5 60.7h0M165.4 63.8h0M172.1 84.4h0M113.4 71.9h0M160.5 69.1h0M204.5 150.9h0M3.2 106.1h0M14 100.6h0M89.2 66.6h0M192.4 41.5h0M206.6 150.2h0M159 58h0M187.1 67.4h0M73.5 82h0M81.9 85.9h0M74.7 89.3h0M48.9 37.3h0M58.2 92.9h0M132.9 85.3h0M170.7 98.6h0M203.9 131.4h0M5.5 95.1h0M70.5 75.9h0M101 84.6h0M63.4 96.9h0M147 74.7h0M46.2 41.7h0M167.9 119.2h0M32.3 82.4h0M78 90.1h0M151.5 75.8h0M195.3 73.2h0M122.6 84.1h0M53.6 85.1h0M186.1 86.2h0M158.1 93h0M186.4 94.4h0M133.7 96h0M97.4 53.8h0M173.1 87.7h0M172 81.6h0M169.3 99.6h0M197.8 76.8h0M180 79.6h0M144.8 46.5h0M196.4 82.3h0M169.1 74.1h0M201.8 86.2h0M13.8 59.6h0M132.6 75.6h0M120.3 96.5h0M193.9 83.8h0M160.5 75.3h0M126.7 72.9h0M76.3 78.8h0M83.5 78.4h0M114.1 94.2h0M2.4 64.3h0M193.5 79h0M131 91.6h0M79.2 89.9h0M117.1 80.4h0M8.8 67h0M119.1 92.5h0M82.2 65.5h0M204.8 122.4h0M202.1 118.6h0M75.3 95.9h0M185.5 73.9h0M118.7 80h0M91 53.6h0M71.7 102.6h0M122.9 87.9h0M83.7 77.3h0M153.1 85.7h0M183.1 106.3h0M49.2 54.1h0M5.7 113.8h0M19.8 74.6h0M133.8 87.3h0M42.2 86h0M178.3 100.9h0M116.3 59.5h0M11.9 96.8h0M124.2 59.3h0M52.4 80.1h0M197.2 82.6h0M2.4 90.5h0M156.1 96h0M183 77.1h0M135.4 83.2h0M151.9 86.6h0M98.2 56.8h0M170.6 77.9h0M30.1 71.2h0M208.2 135.7h0M151.5 80.6h0M185.7 92.4h0M189.2 88.9h0M65 91h0M160.3 82.3h0M174.2 66.8h0M193.2 98.2h0M57.6 86.5h0M130.3 65.9h0M127.4 72.8h0M109.6 60.7h0M113.6 58h0M44.3 73.3h0M180.7 89.4h0M31.2 75.7h0M190.1 52.2h0M83 70.5h0M123.8 95.9h0M100.6 52.2h0M9.6 95.5h0M17.9 75.8h0M15.1 72.9h0M29.6 84.3h0M163.9 47.1h0M200.7 99.6h0M142.5 54h0M87.2 58h0M34.5 86.9h0M179.8 79.6h0M193 93.4h0M138.7 93h0M34.3 82.5h0M74.7 70.7h0M121.1 84.5h0M176.1 93.5h0M70.4 44.6h0M150.4 80.7h0M149.5 69.5h0M37.4 84.5h0M6.1 63.3h0M115.6 48.1h0M186.8 89.6h0M60.7 61.1h0M88.6 88.4h0M101.9 95.1h0M159.9 68.9h0M97.8 73.9h0M22.2 83.9h0M144 79h0M145 70.7h0M167.4 76.3h0M24.3 66.4h0M16.1 50.7h0M2.6 72.6h0M167.9 61h0M91.1 45.2h0M133.1 92.5h0M101.6 70.2h0M119.3 81.7h0M178.1 70.5h0M36.1 102.6h0M56 106.1h0M128.9 45.7h0M205.2 123.4h0M195.5 60.8h0M79.6 99.4h0M39.7 69.1h0M145.2 88.7h0M138.5 73.8h0M38.7 96.6h0M122.4 79.5h0M139.1 94.4h0M138.8 94.2h0M97.9 100.9h0M144.7 37.7h0M94.9 68.7h0M58.4 82.9h0M21.9 51.8h0M57.4 93h0M185.8 66.9h0M112.9 59.9h0M104 95h0M102.2 81.8h0M163.3 63.5h0M112.4 56.6h0M163.3 58.6h0M102 88.9h0M131.1 71.3h0M196.7 88h0M69.3 49.9h0M60.5 71.8h0M46.2 51.9h0M203.8 100.3h0M18 75.8h0M33 94.9h0M121.2 90.2h0M145.9 59.3h0M44 65h0M24.1 77.2h0M134.7 102.6h0M17 91.9h0M41.5 83.9h0M47.2 56.9h0M148 76.3h0M188.1 63.3h0M194.1 57.7h0M112.7 87.2h0M152.8 83.7h0M141.7 88.6h0M65.7 66.4h0M144.8 72.9h0M85.1 48.5h0M87.2 53.4h0M177.6 93.4h0M118.6 79.4h0M31.8 94.8h0M52.5 72.6h0M204.6 125.3h0M77.5 83.5h0M53.1 101.9h0M169.3 77.9h0M193.5 78.3h0M55.4 98h0M47.6 53.2h0M201.5 110.2h0M2.5 77.9h0M68.7 43.6h0M59.5 76.1h0M206 106.4h0M48.5 72h0M13.8 78.9h0M37.9 70.8h0M154.7 65.6h0M69.1 77.1h0M136.5 83.3h0M197.4 93.6h0M150.7 85.3h0M7.6 81.4h0M43 105.3h0M10 76.9h0M88.6 30.3h0M162.7 30.7h0M80.1 104.3h0M173.1 89.5h0M122 74.9h0M31.3 84.5h0M154.8 75.2h0M81.7 76h0M31.8 95.3h0M82 69.9h0M166.4 75.2h0M36.7 76h0M150.9 90.9h0M137.6 83.7h0M49.7 43.7h0M192.4 67.3h0M154.5 105.3h0M88.7 67.6h0M129.5 62.1h0M60.5 112.9h0M44.6 89.7h0M4 72.6h0M163.6 67.7h0M198.5 69.6h0M150.3 82.5h0M193 60.1h0M55.4 99.2h0M46.4 47.5h0M168.7 108.5h0M2.6 92.4h0M206.5 95h0M105.5 87.1h0M111.4 105.6h0M95.6 65.9h0M93.3 81.3h0M109.6 38.2h0M135.8 92.5h0M202.9 109.8h0M87.7 74.9h0M163.9 74.5h0M142.5 60.7h0M6.4 85.8h0M75 83.9h0M148.8 76h0M179.1 102.9h0M110.6 84.6h0M25.2 93.2h0M88.4 74.7h0M76.1 93.8h0M178 85.3h0M61.4 103.7h0M122.4 86.4h0M203.2 137.7h0M8.3 72h0M62 96.6h0M191.1 57.6h0M55.5 89.9h0M169.1 91.1h0M148.5 81.5h0M179.4 79.2h0M89.3 49.5h0M116.5 92.7h0M168.7 73.9h0M84.9 73.6h0M89 72.4h0M60.1 84.5h0M135.6 73.5h0M6.6 92.9h0M168.6 64.8h0M46.6 68.6h0M85.4 78h0M125.5 82.6h0M207.6 111.5h0M112.5 75.2h0M97.2 80.3h0M91.9 56.8h0M57.4 112.3h0M129.6 56.2h0M115.7 85.6h0M140.3 76.4h0M148.7 70h0M98.3 102.9h0M5 79.4h0M162 61h0M15.1 70.1h0M38.4 77.5h0M156.7 98.9h0M12.1 77.7h0M194.4 61.8h0M150.5 72.9h0M145.8 77.7h0M125.9 105.7h0M90.9 50.2h0M123.7 92.4h0M51.5 46.6h0M165.3 29.9h0M33.3 80.2h0M159.6 84.2h0M75.6 82h0M38.1 79.6h0M110.6 69.7h0M14.6 76h0M159.2 72.8h0M70.8 69.4h0M43.8 49.2h0M95.3 56.1h0M115.7 86h0M190.8 46.9h0M147.1 68.9h0M72.5 84.4h0M91.3 82.2h0M148.7 82.2h0M195.9 66.9h0M49 39.1h0M176.9 74.9h0M85.4 51h0M118.7 83.8h0M187.7 98.6h0M149.3 62.7h0M166.4 119.5h0M47.3 33.8h0M60 104.2h0M126.6 98.6h0M148.4 75h0M8.9 88.7h0M117.9 85.3h0M91.8 53.8h0M72.4 78.2h0M109 80.8h0M149.1 68.2h0M191.5 96h0M39.1 84h0M13.3 84h0M21.6 51.5h0M45.8 76.6h0M194 76.2h0M7 85.5h0M124.5 78.7h0M99.8 106.7h0M200.5 101.6h0M188.9 73.6h0M83.8 50h0M55.4 67.7h0M86.1 70.2h0M15.8 58.4h0M177.7 94.4h0M152.8 98.6h0M140.1 89.1h0M31.5 73.3h0M181.5 77.5h0M36.1 86.6h0M39.2 89.8h0M57.3 112.4h0M177.9 114.1h0M148.3 50h0M99.4 83.1h0M92 77.6h0M126 83.5h0M73.8 83.7h0M29.6 99h0M109.2 94.3h0M163.2 77.2h0M8.7 75.8h0M32.9 110.6h0M33.2 74.7h0M173.6 105.6h0M33.4 53.7h0M28.8 71.6h0M75.7 90.3h0M113.8 82h0M166.3 61h0M66.9 61.3h0M58.4 113.9h0M31.9 86.2h0M161.4 73.6h0M108.4 69.3h0M100.8 84.8h0M162.7 51.2h0M63 92.4h0M97 79.4h0M87.4 90.3h0M3.6 108.8h0M95.8 68.5h0M19.2 80.6h0M65.6 94.1h0M68.2 64.9h0M139.2 89.2h0M88.9 62.7h0M205.3 120.1h0M70 91.8h0M157.2 83.7h0M180.9 89.2h0M55.7 92.6h0M6.1 92.6h0M1.7 72.2h0M151.4 93.3h0M199.9 69.9h0M110.2 56h0M150.9 87.6h0M102.4 112.2h0M83.3 41.1h0M167.3 111.2h0M130.4 81.1h0M160.2 79.2h0M142.6 102.3h0M65.8 69.5h0M45.6 35.1h0M47.5 52h0M68.7 37.1h0M177.8 63.7h0M112 71.2h0M139 101.4h0M130.8 51.3h0M97.2 74.6h0M185.6 73.8h0M182.3 78h0M30.7 49.3h0M84.2 37.5h0M106.8 70.7h0M101.4 85.6h0M155.8 116.4h0M84.9 73.2h0M205.6 128.8h0M56.1 128h0M182.8 81.2h0M120.3 90.4h0M178.4 105.6h0M74.6 92.5h0M84.8 44.5h0M180.6 81.7h0M137.8 74.4h0M36 86.8h0M59.3 68.9h0M176.8 86.8h0M172.1 62.8h0M190.8 89.8h0M175.2 89.1h0M22.1 93.3h0M122.8 86.4h0M16.5 62.2h0M118.9 100.3h0M57.2 90.3h0M191.4 68.8h0M162.6 87.6h0M55.2 97.2h0M68.9 70h0M191.6 77.8h0M194.9 76.8h0M51.9 100.6h0M33 73.7h0M125.3 63.6h0M98 63.9h0M5.9 67.5h0M171 80.7h0M130.5 64.8h0M183.7 68.4h0M63.6 76.7h0M140.5 90.1h0M105.1 80h0M190.6 89.9h0M81.7 95h0M15.2 78.9h0M168 62.7h0M181.8 104.1h0M122.6 76.2h0M64.5 78.5h0M202.1 106.4h0M121.3 87.6h0M23.6 56.7h0M23.2 45.8h0M163.3 90.8h0M111.9 67.9h0M2.1 80.9h0M179.4 112.1h0M31.4 84.9h0M81.3 80h0M207.9 123h0M28.1 84.9h0M104.2 61.2h0M149.1 80.3h0M52.8 66.3h0M158.6 85.9h0M110.2 69.9h0M29.5 89.4h0M120.1 100.6h0"/>
<path stroke="#5a5a5a" stroke-opacity=".4" stroke-width=".9" d="M124.4 51.4h0M159.4 58.4h0M13.6 84.1h0M161.7 46.7h0M31.2 115.1h0M97.4 77.1h0M38.7 60.8h0M101.6 42.1h0M164.7 16.5h0M180.2 59.7h0M188.5 96.4h0M2.1 118.4h0M157.7 32.1h0M131.3 56.5h0M138.8 102.8h0M201.7 92.9h0M137.6 90.6h0M74.8 65.7h0M166.6 96.2h0M38.6 116.4h0M156 42.3h0M196.8 97.8h0M186.7 21.3h0M63.4 70.9h0M129 83.3h0M97.5 88.7h0M41.9 114.1h0M203.3 150.8h0M77.2 90.4h0M57.3 144.6h0M167.6 119.1h0M107 23h0M168.6 97.7h0M191.5 84.1h0M77.7 94.2h0M192.8 43.1h0M87.5 75.1h0M183.9 22.5h0M113.4 45.5h0M192.3 58.5h0M161.1 96.9h0M46.8 41.7h0M.6 91.9h0M9.3 69.8h0M70 80.6h0M144.9 27.1h0M15.8 90.6h0M58.7 112.5h0M111.9 12.4h0M125.7 126.8h0M174.6 149.1h0M94.9 103.6h0M34.2 88.5h0M146 117.8h0M17.1 82.5h0M34.1 35.1h0M119.9 28.3h0M131.7 112.9h0M116.1 92.8h0M135.3 97h0M127.9 50.5h0M88.2 24.8h0M142.5 74.9h0M165.1 124.6h0M114.4 112.2h0M203.2 52.6h0M156.5 36.6h0M11.4 142h0M139.3 96.3h0M67.7 37.9h0M38.8 115.6h0M53.7 95.1h0M105.2 130.4h0M112.8 107.6h0M122.2 108.1h0M28.9 103.8h0M187.6 89h0M64 101.5h0M127.5 48.8h0M13 127.9h0M64.4 99.1h0M192.1 64.8h0M101.6 61.3h0M23.4 107h0M79.4 76.7h0M23.4 96.6h0M13.2 83.3h0M22.5 46.2h0M40.5 94.7h0M10.7 128.3h0M51.7 58.8h0M201 90.9h0M160.2 83.2h0M138.3 147.2h0M1.6 111.1h0M206.1 127.3h0M68.5 84.7h0M185.6 94.7h0M163.4 107h0M11.1 64.4h0M11.6 55h0M19.3 35.4h0M17.7 126.7h0M192.7 119.8h0M95 87.6h0M143.5 46.2h0M104 84h0M188.8 108.7h0M9.9 150.2h0M66.3 108.6h0M155.3 45.9h0M137.7 111.5h0M2.4 97.2h0M57 104.9h0M38.6 61.6h0M31.8 109.5h0M63.8 70.6h0M195.9 124.4h0M187.7 105.5h0M129.9 78.1h0M83.6 70.8h0M23.6 105.2h0M72.9 91.3h0M123.4 89.9h0M149.4 92.4h0M18.3 81h0M205.8 107.9h0M106.7 93.9h0M128.5 111.3h0M195.2 106.8h0M121.3 44.1h0M163.9 54.2h0M29.8 92.9h0M166.3 129h0M43.1 89.8h0M184.2 90.2h0M39.7 104.4h0M180.5 99.2h0M1.2 90.3h0M89.5 78.5h0M68.1 50.5h0M200.6 28.7h0M40.2 125.9h0M150 104.3h0M121.7 103.7h0M174.7 54.4h0M37.4 98.3h0M208.2 101h0M78.1 96.2h0M185.9 118.1h0M89.3 69.6h0M92.8 93h0M86.1 94.1h0M155.3 114h0M130 87.8h0M115.6 75.3h0M112.6 85.1h0M19.6 125h0M108.2 51.7h0M20.9 71.1h0M82 120h0M48.3 28.4h0M17.6 100.1h0M48.4 66.1h0M45.9 62h0M130 74.5h0M176.1 30.7h0M59.3 133h0M8.7 88.2h0M16.7 90.7h0M169.1 83.8h0M199.7 121.5h0M23 89h0M105.8 91.5h0M141.3 64.5h0M80.7 100.2h0M18.3 112.7h0M64.6 105.2h0M9.2 68h0M93.6 27h0M123.5 101.6h0M.8 93.2h0M170.8 81.2h0M48.1 77.7h0M14.3 135.5h0M63.4 70.9h0M46.2 72.2h0M72.5 121.4h0M205.4 98.3h0M31.6 92.9h0M121.8 86h0M176.1 35.3h0M5.1 87.9h0M22.1 131.4h0M89.2 41.8h0M169.4 105h0M69.7 54.8h0M86.1 43.8h0M19.3 96.5h0M181.2 118h0M196.4 97.9h0M93.5 19h0M9.5 109h0M167.7 112.5h0M143.6 132.8h0M103.4 56.9h0M141.6 106.3h0M136.8 53h0M109.8 27h0M146.4 88.6h0M141.8 92.2h0M79.3 106.8h0M86.5 81.1h0M202.7 146.3h0M190.2 101h0M200.9 122.4h0M87.7 68h0M72.3 72h0M30.6 118.4h0M181.1 126.6h0M95.1 67.7h0M101.6 56.2h0M1.3 97.4h0M27.6 119h0M79.6 105.5h0M20.9 91.4h0M52.3 72h0M98.6 112.7h0M13.5 39.8h0M107.8 88.2h0M7.2 102.9h0M56.5 125.5h0M152.5 53.4h0M111.1 114h0M72.5 108.6h0M201.3 69.8h0M181.5 77.5h0M30.1 91.6h0M61.2 51.6h0M98.5 120.3h0M89.3 39.8h0M165.2 59.3h0M153.2 61h0M153.3 96.1h0M178.6 57.7h0M.8 102.2h0M62.1 126.4h0M81.1 121.7h0M198.7 29h0M136.5 115h0M73.9 130.8h0M26.6 57.5h0M42.4 92.3h0M131.1 92.9h0M17.3 80.4h0M74.8 96.5h0M174.6 86.7h0M35.7 116.7h0M14.3 130.4h0M165 89.3h0M62.3 65.6h0M186.2 106.5h0M85.8 34.5h0M3.1 94h0M45.8 79.2h0M64.6 75.3h0M96.1 120.8h0M147.4 77.1h0M91.7 63.2h0M60.8 107.7h0M115.4 109.4h0M135.1 105.1h0M22.8 98.8h0M134.9 55h0M7.1 117.4h0M52.5 95.4h0M27.6 27.5h0M129.7 45.9h0M54.2 73.7h0M8 68.2h0M42 97.4h0M166.6 151.3h0M43.3 34.2h0M24.8 51.8h0M2.6 84.6h0M9.7 88.7h0M106.9 54.5h0M83.6 73.1h0M94.9 73.6h0M149.8 54.8h0M170.2 85.1h0M57.2 89h0M47.7 57.4h0M167.1 57.5h0M103.4 130.9h0M171.1 92.4h0M107.4 92.8h0M117.1 117h0M135.2 46.3h0M37.2 105.6h0M5.7 84.8h0M162.2 51.1h0M185.2 115.9h0M34.6 126.3h0M106.7 62.2h0M47.8 79.3h0M147.5 74.8h0M14.5 85.2h0M193.9 46.8h0M89.1 106.1h0M119.1 52.8h0M3.1 141.3h0M139.9 92.2h0M25.4 108.4h0M6.2 95.5h0M196.4 82.2h0M114.8 54.2h0M170 83.6h0M167 87h0M33.1 97.8h0M75.7 127.1h0M24.3 92.3h0M135.6 130.1h0M158.9 140.2h0M30.1 69.5h0M120.1 87.5h0M148.8 90.9h0M189.7 115.6h0M31.3 45.8h0M92.5 64.9h0M75.1 87.7h0M153.5 52.8h0M57.1 34.9h0M122.1 106.1h0M42.8 130.1h0M180.2 102.4h0M124.6 86.7h0M147.4 60h0M106.4 105.2h0M32.9 87.1h0M153.4 103.8h0M162.9 88.5h0M135.2 106.3h0M163.2 130.4h0M101.2 98.9h0M151.2 55.3h0M107.5 100.3h0M3.9 29.2h0M85.4 67.6h0M31.4 97.1h0M172.4 82.3h0M33.6 100.4h0M116.6 113.6h0M131.1 90.7h0M49.1 75.3h0M50.2 66.9h0M191.5 101h0M25.2 94.6h0M59.7 23.5h0M40 121.4h0M184 33.1h0M168.2 81.9h0M34 66.6h0M183.9 127.4h0M70.9 99.6h0M136.3 121.9h0M188.7 141.5h0M75.8 107.7h0M203.1 134.4h0M115 89.6h0M206.3 119.2h0M133.2 89.3h0M200.3 51.1h0M153.1 100.5h0M40.2 62.5h0M21.1 129.1h0M106.6 104.4h0M74 91.8h0M5.7 88.2h0M149.9 102.8h0M168.4 81.6h0M113.5 108.8h0M83 65.8h0M165.7 45h0M19.5 82.5h0M75.2 111.6h0M18 95.1h0M61.1 121.5h0M4.1 130.9h0M60.5 20.9h0M13 120.3h0M72.7 92h0M208.5 73h0M83.7 91h0M119.1 42.2h0M147.1 90.9h0M137.9 90.9h0M66.4 93.9h0M165.9 52.9h0M151 111.5h0M28.9 64.8h0M61.3 101.8h0M113.3 80.8h0M1.2 32.8h0M119.8 54.6h0M143.7 67.6h0M5.7 102h0M86.9 110h0M193.4 60.7h0M2.8 93.7h0M98.8 113.6h0M157.1 127.3h0M116.9 94.6h0M156.5 68.1h0M150.6 103.6h0M57.8 32.9h0M109.4 86.5h0M105.1 38.3h0M24.4 65.1h0M104.3 109.2h0M183.9 62.5h0M102.5 100.8h0M202.6 151.8h0M99.4 110.6h0M112.5 51.3h0M99.7 88.8h0M167 99h0M25.8 26.9h0M164.4 81.3h0M80.7 96.6h0M162.1 108.5h0M26.3 102.6h0M125.8 64.9h0M165.2 47.7h0M58.1 98.2h0M130.9 111.1h0M25.9 40.1h0M85.7 33.8h0M188.3 101.6h0M136.1 117.2h0M52.3 41.8h0M175.6 117.8h0M53.9 76.9h0M26.8 117.3h0M138.8 131.7h0M42.7 101.2h0M54.1 66.3h0M90.7 94.8h0M151.1 115.7h0M164.3 18.9h0M145.5 3h0M197.2 116.4h0M14.3 105.7h0M189.4 108.9h0M22.1 85.7h0M20.3 105.8h0M3 45h0M54.1 152.7h0M69 81.7h0M9.8 93.2h0M176.4 116.2h0M176.7 115.6h0M11.9 132.6h0M135.9 58.2h0M42.6 103h0M53 63.3h0M158.3 86.4h0M105.3 97.9h0M107.7 102.4h0M20.6 53.3h0M85.3 48h0M13.1 118.4h0M111.6 82h0M155.6 99.9h0M199.8 108.9h0M150.7 108h0M55.3 74.7h0M6.4 63.7h0M76.6 40h0M107.2 121.2h0M61.7 150.9h0M11.3 128.5h0M189.1 93.1h0M67.3 101.3h0M54.5 98.9h0M3.1 20.3h0M108.8 104.3h0M83.7 65.5h0M36.3 105.3h0M163.4 85.7h0M12.2 91.4h0M189.2 87.6h0M205.8 92.4h0M160.5 117.8h0M105.5 92.9h0M91.2 121.2h0M25.3 85.7h0M112.4 53.4h0M48.8 75.6h0M12.8 93h0M25.2 91.7h0M13.2 22.4h0M175.3 48.3h0M2.3 38h0M188.6 74.1h0M71.6 43.6h0M164.9 94.2h0M198.2 91.8h0M30.8 86.2h0M119.8 29.9h0M100 96.2h0M152 101.5h0M28.5 98.6h0M199.5 40.3h0M135.2 100.1h0M73.5 107.6h0M105 100.5h0M168.1 116.5h0M138.7 119.7h0M137 88.1h0M164.1 12.7h0M61.6 44.3h0M207.1 128.7h0M35.3 66.6h0M178.2 120h0M143.8 88.7h0M37 60.9h0M200.8 123.1h0M104.2 55.4h0M8.9 88.1h0M174.1 79.6h0M122.1 61.7h0M150.9 107.8h0M102.4 89.5h0M134.8 89.1h0M135 30.3h0M50.3 67.5h0M123.6 45.6h0M99.6 61.3h0M205.8 95.5h0M123.1 88.8h0M64.7 43.5h0M3.1 61.5h0M142.2 128.7h0M113.2 109.6h0M161.5 55.8h0M5.4 42.6h0M144.3 74.9h0M27.5 148h0M159.6 67.3h0M49.8 85.5h0M164.6 83.8h0M199.4 99.1h0M118 61.2h0M154.2 30.4h0M202.3 102.2h0M39.8 110.4h0M51.9 101.9h0M51.6 59.9h0M24.6 86.8h0M9.4 93.9h0M72.2 119.4h0M150.1 118h0M8.3 101.2h0M160.6 84.8h0"/>
</g>
</g>
<path stroke="#1c1c1c" stroke-width="1.3" fill="none" d="M419.18 857.3V1012.5M439.73 857.3V1012.5M455.97 857.3V1012.5M470.64 857.3V1012.5M486.89 857.3V1012.5M500.49 857.3V1012.5M513.8 857.3V1012.5M518.59 857.3V1012.5M531.02 857.3V1012.5M542.37 857.3V1012.5M548.92 857.3V1012.5M555.19 857.3V1012.5M560.13 857.3V1012.5M570.35 857.3V1012.5M578.67 857.3V1012.5M579.84 857.3V1012.5M586.2 857.3V1012.5M591.05 857.3V1012.5M595.94 857.3V1012.5M602.45 857.3V1012.5M605.77 857.3V1012.5"/>
<path stroke="#0a0a0a" stroke-width="1" d="M404.5 934.9H613.6"/>
<path stroke="#ef8a10" stroke-width="2.2" fill="none" d="M404.5 935.4H419.5M416.6 925.6H420M419.5 929.7H423.3M421.6 932.3H426.6M425 923H428.3M427.5 936.5H439.9M439.9 937.5H449.1M448.3 905.4H456.6M456.6 940.1H470.4M470.4 921.4H475.7M471.5 916.8H475.7M475.2 939.6H486.5M486.5 915.2H501M499.3 925.6H504M502.3 935.9H514M506 935.9H514M514 925.6H518.8M518.8 937.7H531M531 919.4H535.6M535.1 939H542.3M542.3 940.1H548.9M548.9 924.5H555.4M549.6 931.3H555.1M555.4 937.5H560.4M560.4 934.4H566.7M565.9 922.5H570.6M571.7 945.8H575.1M572.6 931.5H579.5M580 940.1H586.7M586.7 938.3H591.7M591.7 937H596.3M594.2 913.7H596.7M596.3 932.8H602.8M602.8 940.1H605.8M603 955.1H605.3M606.3 978.9H610.8M610 964.4H613.5"/>
<path stroke="#f0922a" stroke-width="1.7" opacity=".9" fill="none" d="M460.2 964.9h2.4M546 974.8h2.4M571.4 964.9h2.4M586.7 974.3h2.4"/>
<rect x="404.5" y="857.5" width="209" height="155" fill="none" stroke="#333" stroke-width=".8"/>
<g font-family="'DejaVu Sans','Liberation Sans',sans-serif" font-size="4.85" fill="#000">
<text x="400.1" y="858.9" text-anchor="end">1.5</text>
<text x="400.1" y="884.8" text-anchor="end">1.0</text>
<text x="400.1" y="910.7" text-anchor="end">0.5</text>
<text x="400.1" y="936.6" text-anchor="end">0.0</text>
<text x="400.1" y="962.5" text-anchor="end">−0.5</text>
<text x="400.1" y="988.4" text-anchor="end">−1.0</text>
<text x="400.1" y="1014.3" text-anchor="end">−1.5</text>
<path stroke="#222" stroke-width=".6" fill="none" d="M402.7 857.2H404.5M402.7 883.1H404.5M402.7 909H404.5M402.7 934.9H404.5M402.7 960.8H404.5M402.7 986.7H404.5M402.7 1012.6H404.5M411.84 1012.5V1014.3M429.45 1012.5V1014.3M447.85 1012.5V1014.3M463.31 1012.5V1014.3M478.77 1012.5V1014.3M493.69 1012.5V1014.3M507.14 1012.5V1014.3M516.19 1012.5V1014.3M524.8 1012.5V1014.3M536.69 1012.5V1014.3M545.64 1012.5V1014.3M552.05 1012.5V1014.3M557.66 1012.5V1014.3M565.24 1012.5V1014.3M574.51 1012.5V1014.3M579.26 1012.5V1014.3M583.02 1012.5V1014.3M588.62 1012.5V1014.3M593.49 1012.5V1014.3M599.19 1012.5V1014.3M604.11 1012.5V1014.3M609.69 1012.5V1014.3"/>
<text transform="translate(410.94 1021.31) rotate(-60)" text-anchor="middle" y="1.6">chr1</text>
<text transform="translate(428.55 1021.31) rotate(-60)" text-anchor="middle" y="1.6">chr2</text>
<text transform="translate(446.95 1021.31) rotate(-60)" text-anchor="middle" y="1.6">chr3</text>
<text transform="translate(462.41 1021.31) rotate(-60)" text-anchor="middle" y="1.6">chr4</text>
<text transform="translate(477.87 1021.31) rotate(-60)" text-anchor="middle" y="1.6">chr5</text>
<text transform="translate(492.79 1021.31) rotate(-60)" text-anchor="middle" y="1.6">chr6</text>
<text transform="translate(506.24 1021.31) rotate(-60)" text-anchor="middle" y="1.6">chr7</text>
<text transform="translate(515.29 1021.31) rotate(-60)" text-anchor="middle" y="1.6">chr8</text>
<text transform="translate(523.9 1021.31) rotate(-60)" text-anchor="middle" y="1.6">chr9</text>
<text transform="translate(535.79 1022.5) rotate(-60)" text-anchor="middle" y="1.6">chr10</text>
<text transform="translate(544.74 1022.5) rotate(-60)" text-anchor="middle" y="1.6">chr11</text>
<text transform="translate(551.15 1022.5) rotate(-60)" text-anchor="middle" y="1.6">chr12</text>
<text transform="translate(556.76 1022.5) rotate(-60)" text-anchor="middle" y="1.6">chr13</text>
<text transform="translate(564.34 1022.5) rotate(-60)" text-anchor="middle" y="1.6">chr14</text>
<text transform="translate(573.61 1022.5) rotate(-60)" text-anchor="middle" y="1.6">chr15</text>
<text transform="translate(578.36 1022.5) rotate(-60)" text-anchor="middle" y="1.6">chr16</text>
<text transform="translate(582.12 1022.5) rotate(-60)" text-anchor="middle" y="1.6">chr17</text>
<text transform="translate(587.72 1022.5) rotate(-60)" text-anchor="middle" y="1.6">chr18</text>
<text transform="translate(592.59 1022.5) rotate(-60)" text-anchor="middle" y="1.6">chr19</text>
<text transform="translate(598.29 1022.5) rotate(-60)" text-anchor="middle" y="1.6">chr20</text>
<text transform="translate(603.21 1022.5) rotate(-60)" text-anchor="middle" y="1.6">chr22</text>
<text transform="translate(608.79 1021.31) rotate(-60)" text-anchor="middle" y="1.6">chrX</text>
<text transform="translate(383.5 935.5) rotate(-90)" text-anchor="middle" font-size="5.9">Copy ratio (log2)</text>
</g>
<path stroke="#222" stroke-width=".9" d="M494.4 854.8h3"/>
<text x="407.7" y="845.1" font-size="17.4" fill="#111">UCP</text>
</g>
<clipPath id="c7"><rect x="131.8" y="1071.6" width="209.6" height="155.7"/></clipPath>
<g>
<g clip-path="url(#c7)">
<rect x="131.8" y="1126.3" width="14.5" height="45.7" fill="url(#g)"/>
<rect x="131.8" y="1138.7" width="14.5" height="20.8" fill="url(#n)"/>
<rect x="146.3" y="1120" width="10.8" height="45.7" fill="url(#g)"/>
<rect x="146.3" y="1132.5" width="10.8" height="20.8" fill="url(#n)"/>
<rect x="157.1" y="1126.3" width="10.3" height="45.7" fill="url(#g)"/>
<rect x="157.1" y="1138.7" width="10.3" height="20.8" fill="url(#n)"/>
<rect x="167.4" y="1126.3" width="5.5" height="45.7" fill="url(#g)"/>
<rect x="167.4" y="1138.7" width="5.5" height="20.8" fill="url(#n)"/>
<rect x="172.9" y="1119" width="10.8" height="45.7" fill="url(#g)"/>
<rect x="172.9" y="1131.5" width="10.8" height="20.8" fill="url(#n)"/>
<rect x="183.7" y="1126.3" width="13.8" height="45.7" fill="url(#g)"/>
<rect x="183.7" y="1138.7" width="13.8" height="20.8" fill="url(#n)"/>
<rect x="197.6" y="1131.5" width="13.6" height="45.7" fill="url(#g)"/>
<rect x="197.6" y="1143.9" width="13.6" height="20.8" fill="url(#n)"/>
<rect x="211.2" y="1121.1" width="3.3" height="45.7" fill="url(#g)"/>
<rect x="211.2" y="1133.5" width="3.3" height="20.8" fill="url(#n)"/>
<rect x="214.5" y="1120" width="5" height="45.7" fill="url(#g)"/>
<rect x="214.5" y="1132.5" width="5" height="20.8" fill="url(#n)"/>
<rect x="219.5" y="1126.3" width="6.7" height="45.7" fill="url(#g)"/>
<rect x="219.5" y="1138.7" width="6.7" height="20.8" fill="url(#n)"/>
<rect x="226.2" y="1119.5" width="11.6" height="45.7" fill="url(#g)"/>
<rect x="226.2" y="1132" width="11.6" height="20.8" fill="url(#n)"/>
<rect x="237.8" y="1129.9" width="4.2" height="45.7" fill="url(#g)"/>
<rect x="237.8" y="1142.4" width="4.2" height="20.8" fill="url(#n)"/>
<rect x="238.6" y="1115.9" width="3.3" height="45.7" fill="url(#g)" opacity=".33"/>
<rect x="236.8" y="1115.9" width="4.2" height="45.7" fill="url(#g)" opacity=".44"/>
<rect x="242" y="1132.5" width="4.3" height="45.7" fill="url(#g)"/>
<rect x="242" y="1144.9" width="4.3" height="20.8" fill="url(#n)"/>
<rect x="246.3" y="1140.8" width="6.3" height="45.7" fill="url(#g)"/>
<rect x="246.3" y="1153.3" width="6.3" height="20.8" fill="url(#n)"/>
<rect x="250.1" y="1126.3" width="2.5" height="45.7" fill="url(#g)" opacity=".44"/>
<rect x="252.6" y="1133.5" width="5.8" height="45.7" fill="url(#g)"/>
<rect x="252.6" y="1146" width="5.8" height="20.8" fill="url(#n)"/>
<rect x="258.5" y="1132" width="5" height="45.7" fill="url(#g)"/>
<rect x="258.5" y="1144.4" width="5" height="20.8" fill="url(#n)"/>
<rect x="263.5" y="1126.3" width="6.3" height="45.7" fill="url(#g)"/>
<rect x="263.5" y="1138.7" width="6.3" height="20.8" fill="url(#n)"/>
<rect x="269.8" y="1119.5" width="6.7" height="45.7" fill="url(#g)"/>
<rect x="269.8" y="1132" width="6.7" height="20.8" fill="url(#n)"/>
<rect x="268.4" y="1133.5" width="4.2" height="45.7" fill="url(#g)" opacity=".33"/>
<rect x="276.4" y="1105" width="5.3" height="45.7" fill="url(#g)" opacity=".66"/>
<rect x="276.4" y="1117.4" width="5.3" height="20.8" fill="url(#n)"/>
<rect x="277.6" y="1091.5" width="3.3" height="45.7" fill="url(#g)" opacity=".39"/>
<rect x="277.9" y="1069.2" width="2.7" height="45.7" fill="url(#g)" opacity=".22"/>
<rect x="276.8" y="1121.6" width="5.8" height="45.7" fill="url(#g)"/>
<rect x="276.8" y="1134" width="5.8" height="20.8" fill="url(#n)"/>
<rect x="282.6" y="1126.3" width="5" height="45.7" fill="url(#g)"/>
<rect x="282.6" y="1138.7" width="5" height="20.8" fill="url(#n)"/>
<rect x="284.3" y="1130.9" width="3.3" height="45.7" fill="url(#g)" opacity=".55"/>
<rect x="284.3" y="1143.4" width="3.3" height="20.8" fill="url(#n)"/>
<rect x="287.6" y="1126.3" width="3.3" height="45.7" fill="url(#g)"/>
<rect x="287.6" y="1138.7" width="3.3" height="20.8" fill="url(#n)"/>
<rect x="290.9" y="1126.3" width="6.7" height="45.7" fill="url(#g)"/>
<rect x="290.9" y="1138.7" width="6.7" height="20.8" fill="url(#n)"/>
<rect x="298.4" y="1138.5" width="5.8" height="45.7" fill="url(#g)"/>
<rect x="298.4" y="1150.9" width="5.8" height="20.8" fill="url(#n)"/>
<rect x="304.2" y="1126.3" width="2.5" height="45.7" fill="url(#g)"/>
<rect x="304.2" y="1138.7" width="2.5" height="20.8" fill="url(#n)"/>
<rect x="307.2" y="1126.3" width="6.7" height="45.7" fill="url(#g)"/>
<rect x="307.2" y="1138.7" width="6.7" height="20.8" fill="url(#n)"/>
<rect x="311.7" y="1118.5" width="3.3" height="45.7" fill="url(#g)" opacity=".33"/>
<rect x="313.9" y="1138.5" width="4.8" height="45.7" fill="url(#g)"/>
<rect x="313.9" y="1150.9" width="4.8" height="20.8" fill="url(#n)"/>
<rect x="318.7" y="1131.5" width="5" height="45.7" fill="url(#g)"/>
<rect x="318.7" y="1143.9" width="5" height="20.8" fill="url(#n)"/>
<rect x="323.7" y="1114.3" width="6.3" height="45.7" fill="url(#g)" opacity=".66"/>
<rect x="323.7" y="1126.8" width="6.3" height="20.8" fill="url(#n)"/>
<rect x="323.7" y="1126.3" width="6.3" height="45.7" fill="url(#g)" opacity=".55"/>
<rect x="323.7" y="1138.7" width="6.3" height="20.8" fill="url(#n)"/>
<rect x="330" y="1126.3" width="3.3" height="45.7" fill="url(#g)"/>
<rect x="330" y="1138.7" width="3.3" height="20.8" fill="url(#n)"/>
<rect x="333.8" y="1177.1" width="7.2" height="45.7" fill="url(#g)"/>
<rect x="333.8" y="1189.6" width="7.2" height="20.8" fill="url(#n)"/>
<g transform="translate(131.8 1071.6)" fill="none" stroke-linecap="round">
<path stroke="#333" stroke-opacity=".55" stroke-width="1.2" d="M111.3 86.6h0M109.2 82.8h0M176.3 78.4h0M35.1 79.8h0M16.9 50h0M190.6 75.4h0M195.3 86.4h0M38.2 69h0M91.5 89.9h0M85.6 66.4h0M169.6 75.6h0M186.7 83.8h0M158.1 90.3h0M43.4 74.9h0M141.4 82.7h0M64.8 73.6h0M193.8 73.5h0M27.6 72.6h0M181.1 81.3h0M28.8 78.2h0M200 72h0M21.7 60.8h0M84.2 61h0M207.9 134.7h0M101.2 60.7h0M23.5 68.9h0M111 86.5h0M197.1 63.2h0M20.3 56.9h0M109.2 71.2h0M162.8 74.6h0M128.2 72.9h0M107.9 91h0M129 81.9h0M.8 75.7h0M184.6 92.2h0M138.1 75.9h0M129.8 77.8h0M169.1 87h0M208.7 124.8h0M144.1 81.9h0M46.8 65.4h0M54.9 86.5h0M138.3 73.5h0M102.9 62.2h0M29.6 77.8h0M99.2 59.4h0M181.4 93.4h0M146.4 20.3h0M19.3 82.1h0M1.8 72.5h0M73.1 81.4h0M12.8 69.9h0M11.8 81.4h0M54 72.1h0M153.4 88.4h0M133 86.6h0M193.7 68.3h0M15.3 61.3h0M92.7 78.9h0M103.4 69.7h0M11.6 82.2h0M204.6 121.6h0M123.1 78.6h0M182.5 90.5h0M34.6 83.1h0M63 77.5h0M125.6 78h0M39.3 80.4h0M88.1 77.3h0M103.1 72.2h0M56.8 73h0M36.4 78.8h0M175.1 60.4h0M162.1 77.4h0M110.1 92.4h0M47.2 69.5h0M154.4 83.6h0M165 80.8h0M121.1 77.5h0M45.3 65.9h0M130.9 60.8h0M82.9 83.6h0M47.8 64.5h0M5.6 75.4h0M81.1 65h0M107.2 78.3h0M109.3 82.1h0M151.1 99.7h0M78.3 88h0M182.4 88.3h0M192.3 72.9h0M162.5 71.4h0M38.5 80.7h0M12.4 85h0M17.8 72.4h0M25.3 66.1h0M60.2 77.4h0M80.9 67.8h0M89.1 68.8h0M100.6 69.1h0M157.5 88h0M95 68.8h0M58.8 78.2h0M153.8 79.1h0M136.7 82h0M73 85.8h0M108.6 85h0M108.6 76.8h0M97.2 67.7h0M179.1 92.6h0M26.1 83.9h0M172.8 71.2h0M105.1 95.9h0M199.6 82.5h0M14.6 77.6h0M29.2 86.5h0M144.8 84.3h0M55.1 73.7h0M95.7 65.8h0M139.9 63.9h0M76.8 83.5h0M116 78.4h0M8.8 92.6h0M165.4 59.2h0M30.4 74.7h0M140.4 79.8h0M70.5 79.2h0M76.9 73.7h0M134.5 73.4h0M29.5 77.5h0M12 71.8h0M85.7 76.5h0M38.5 76.7h0M93.4 83.9h0M11.3 73.4h0M127.7 76.3h0M98.2 58.2h0M205.1 126.6h0M20.8 73.2h0M24.6 76.4h0M11 80.5h0M166.3 73h0M92.5 81.7h0M209.1 114h0M88.5 83h0M24.9 78.3h0M96.4 56.9h0M29.8 73.2h0M32.2 77.3h0M134 75h0M187 83.6h0M72.7 83.4h0M54.2 72.3h0M10.2 67.3h0M118.3 108.8h0M79.1 78.7h0M207.5 132.9h0M198 77.6h0M136.1 73.5h0M36.3 78h0M119.2 60.7h0M125.4 75.7h0M195.6 65.3h0M2.3 76.7h0M175.8 80.9h0M181.2 89.7h0M114.4 88.3h0M150.9 83.2h0M69.4 76.4h0M187.4 65.6h0M169.9 81.7h0M164.9 81.7h0M60.6 73.3h0M45.7 76.8h0M163.2 90.5h0M172.5 74.2h0M122.1 97h0M61.2 87.6h0M70.6 84.5h0M102.8 70.5h0M98.3 69.6h0M190.2 89h0M55.7 78.4h0M157.9 85.7h0M66 68.5h0M12.8 82.8h0M132.1 70.6h0M45.6 68.5h0M204.9 133.6h0M100.8 66.5h0M29.6 81.6h0M32 78.6h0M129.8 83.7h0M85 74.8h0M139.1 66.5h0M125.7 83.1h0M36.9 89.7h0M111.8 82.2h0M84.3 67.2h0M127.6 80.5h0M95.3 80.2h0M181.8 99.9h0M99.5 56.3h0M82.4 66.4h0M9.9 86.2h0M19.6 80.7h0M17.4 68.1h0M93 87.3h0M92.8 75h0M181 80.9h0M205.1 121.8h0M69.5 84.6h0M8.8 77.4h0M95.8 67.2h0M93.6 71.8h0M3.8 74h0M31.4 78.5h0M88.7 85.2h0M154.9 70.4h0M85.5 73.8h0M74.6 89.3h0M68.1 79.8h0M5 76.5h0M97.4 65.2h0M129.4 84.1h0M165.4 80.6h0M137.4 78.1h0M58.8 71.7h0M26.6 81h0M130.5 75.3h0M171.7 76.4h0M159.8 87.3h0M124.1 82.5h0M60.3 82h0M124.5 94.8h0M80 73.8h0M155.6 84.1h0M147.3 33h0M159.4 79.2h0M181.9 76.7h0M53.2 78.4h0M26.7 97.7h0M21.9 74.1h0M83.6 74.4h0M84.5 73h0M58.5 69.9h0M27.9 86.1h0M186.4 76.8h0M93.9 82.6h0M122.8 85.6h0M47.5 77.7h0M25.1 76.9h0M94.3 88h0M43.4 73.9h0M200.9 72.3h0M111.7 78.1h0M199.7 86.2h0M57.6 75.9h0M144.6 63.5h0M17.8 70.9h0M41 90.5h0M67.4 67h0M1 70.8h0M173.1 63.3h0M169.9 99.9h0M114.3 83.7h0M24 69.8h0M150.5 86.7h0M163.7 82.3h0M59.5 81.8h0M70.1 87.4h0M138.1 61.6h0M176.2 81.9h0M22.4 66.9h0M30 79.2h0M81.4 75h0M160 75.3h0M166.7 87.9h0M112.8 68.7h0M136.8 75.1h0M30.6 73.4h0M133.6 66.2h0M100.5 68.7h0M111.5 84.6h0M38.7 76.8h0M97.9 71.7h0M87.5 79.5h0M140.9 72.3h0M172.3 83.5h0M151 74.4h0M26.7 82.5h0M119.4 96.9h0M92.4 68.4h0M22.5 75.9h0M130.7 71.2h0M77.9 76.6h0M150.4 69.2h0M15.7 71.6h0M108.3 76.6h0M175.3 79h0M196.8 67.2h0M122.3 92.2h0M119 95.7h0M5 67.2h0M101.5 76.2h0M50.3 79h0M99.9 73.2h0M147.2 46.5h0M200.9 90.6h0M194.7 59.9h0M86.6 78.3h0M24.5 65.5h0M12.6 76.7h0M173.4 65.8h0M45.6 71.7h0M170.6 76h0M22.6 72.2h0M130.8 83.3h0M2.1 74.6h0M108.2 78.7h0M35.3 75.9h0M179.3 84.6h0M56.2 67.9h0M134.6 76.2h0M23 68.3h0M192.4 71.5h0M179.3 82.9h0M125.5 82.8h0M13.7 70.6h0M69.7 77.9h0M121.8 87.5h0M33.2 92.1h0M34.5 72.6h0M155.6 82.7h0M133.3 80.6h0M13 69.4h0M205 125.1h0M93.3 72.2h0M101.2 71.7h0M38.4 77.9h0M31.4 72.1h0M90.9 66h0M2.4 67.3h0M134.2 68.8h0M102.7 69.5h0M106 70.3h0M112.8 92h0M194.9 77.6h0M15.1 63h0M202.5 125.4h0M121.2 80.8h0M142.8 69.3h0M54.9 76.2h0M106.5 62.8h0M144.1 69.9h0M124.7 91.4h0M141.3 63.3h0M158.6 77.8h0M207 133.1h0M40.6 85.1h0M57.8 73.2h0M18 68.4h0M123 82.5h0M51.5 64.2h0M145.8 37.8h0M107.7 77.9h0M145.7 77.2h0M139.3 60.4h0M51.3 82.3h0M28.2 76.9h0M147.7 77.6h0M44 72.7h0M78.3 83.3h0M89.2 74h0M144.5 72.1h0M47.5 62.1h0M7.8 78.9h0M98.7 71.1h0M194.8 75.6h0M31.9 81.6h0M65 77.6h0M86.1 61.3h0M182.1 76.3h0M116.9 90.2h0M14.7 83.9h0M159.1 89h0M111 92.3h0M192.6 82.2h0M191.8 81.3h0M153.7 73h0M49.3 73h0M204.7 135.7h0M133.9 85.7h0M31.7 64.6h0M2.4 71.1h0M33.9 72.7h0M155.6 83.9h0M130.5 78.1h0M51.1 65.7h0M186.3 89.6h0M59.5 73.8h0M25.9 72.1h0M161.3 82.9h0M178.4 87.9h0M185.3 88h0M.6 80h0M90.2 80.1h0M156.9 67.8h0M79 75.1h0M64.9 73.2h0M60.1 73.6h0M28.1 83.9h0M60 74.8h0M144.3 65.9h0M158.5 67.4h0M58.5 80.7h0M157.8 78.6h0M115.8 78.2h0M144.9 67.7h0M37.2 84.1h0M36.6 86.2h0M53.4 70.7h0M157.6 81.7h0M192.9 62.8h0M36.2 81.3h0M193.1 64.7h0M90.2 85.2h0M7.6 78.4h0M28.9 87.4h0M102.5 69.8h0M131.1 66.4h0M93.9 76.7h0M100.5 64.2h0M35.7 91.1h0M74.8 76.2h0M133.1 89.2h0M80.1 74.3h0M207.5 126.9h0M183.7 87.1h0M41 87.6h0M115.5 98.3h0M74.7 74.9h0M12.5 75.5h0M88.4 93.8h0M10.6 68.3h0M100.8 72.2h0M193.6 71.8h0M37.2 88.2h0M172.7 78.3h0M50.8 71.3h0M133.6 65.4h0M14.9 72.3h0M119.6 72.5h0M16.2 64.1h0M105.8 87.1h0M108.7 77h0M90.5 82.8h0M65.4 78.7h0M30.4 87.5h0M126.4 78.9h0M145.5 45.8h0M86.9 94.7h0M205.7 121.4h0M150.8 81.9h0M101.9 62.8h0M44.4 65.5h0M88.1 77.5h0M55.4 67.2h0M82.3 73.4h0M180 72.5h0M68.7 84.8h0M8 85.2h0M110.4 66h0M26.8 72.3h0M159.5 83.7h0M171.9 59.9h0M2.5 71h0M183.4 84.8h0M102.4 72.8h0M176.3 88.6h0M65.5 77.3h0M117.8 95.8h0M3.5 69.7h0M199.1 83.8h0M37.2 72.1h0M15.3 70.6h0M88.5 80.3h0M100.8 72.9h0M188.6 86.8h0M31 86.7h0M177.9 90.3h0M4.8 74.2h0M28.9 78h0M156.1 69.1h0M29.5 63.8h0M4.2 81.7h0M53.3 74.1h0M184 88.9h0M27.6 75.4h0M106 83.7h0M143.6 81.9h0M73.6 93.5h0M154.5 76.7h0M88.2 85.7h0M154.8 80.6h0M74.9 78.6h0M140.5 72.3h0M34 97.7h0M45 73.9h0M52.3 72.5h0M88.4 79.7h0M190.8 68.8h0M206.7 132.7h0M40.2 74.3h0M18.6 88h0M22.6 82h0M145.6 43.6h0M142.2 67.4h0M64.4 64h0M39.5 82h0M113 76.9h0M110.3 63.5h0M196.4 72h0M110.2 90.8h0M201.1 86.1h0M119.4 68h0M119.8 98.7h0M45.9 75.3h0M199.6 89.5h0M158.7 81.4h0M159.6 63.6h0M207.5 119.2h0M194.3 59.3h0M187.4 77.6h0M75.6 87h0M5.4 76.6h0M170.3 92.9h0M137.7 65.4h0M136.5 82.9h0M1.1 76.9h0M191.9 74.9h0M209 125.8h0M191.5 87.5h0M136.6 85.8h0M137.6 76.2h0M49.5 76.1h0M204.7 129.8h0M142.7 73.6h0M194.8 69.3h0M35.3 76.1h0M130 81.8h0M61 81.4h0M28.2 78.5h0M11.7 77.3h0M143.8 63.1h0M101.2 83.3h0M43.1 74.9h0M128.5 80.9h0M66.1 86.9h0M173.6 89.5h0M19.7 79.9h0M209 124.9h0M179.9 82.5h0M148.5 67h0M91.1 76.2h0M83.8 80h0M204.6 138.6h0M112.5 94.4h0M153.4 85.4h0M111.2 89.6h0M110.6 82.1h0M162.7 78.8h0M39.7 71.8h0M98 80.7h0M61.1 84.8h0M164.3 82.1h0M10.9 76.2h0M205.9 126.5h0M93.4 98.5h0M148.9 56.5h0M22.5 66.5h0M8.2 78h0M42.9 73.5h0M84.6 70.8h0M208.4 125h0M81.1 76.1h0M79.6 63.9h0M35.3 82.7h0M152.7 74.7h0M182.1 101.8h0M55.9 84.4h0M192.5 61.8h0M206.2 126.5h0M172.8 71.7h0M153.8 86.8h0M16 70.6h0M89 83h0M136.3 73.3h0M191.4 77.3h0M46.8 83.9h0M37.7 71.2h0M169.4 83h0M120.6 100.5h0M50.5 71.6h0M86.8 73.8h0M57.3 69.4h0M100.8 78.7h0M2.6 66.5h0M107.7 76.4h0M203.3 132.4h0M186.8 99.8h0M74.7 56.7h0M29 80.8h0M66.9 74.5h0M120.1 94.1h0M169.3 84.2h0M104.8 90.9h0M142.3 72.5h0M126.7 80.2h0M116.9 91.4h0M40.5 71.1h0M54 73.9h0M137.5 80.9h0M130.2 81.4h0M181.6 61.8h0M186.2 95.2h0M4.6 66.8h0M186.4 93.3h0M35.5 82.9h0M151.2 74.8h0M105.5 75.6h0M49.9 63h0M157.8 74.9h0M164.4 77.1h0M57.6 75.3h0M11.8 74.7h0M200.6 77.5h0M109.8 85.1h0M91.9 78.2h0M68.1 90.1h0M208.3 131.1h0M112 92.6h0M62.9 83h0M79.1 66.7h0M125 81.9h0M24.5 87.2h0M152 83h0M195.8 58.3h0M84.3 70.4h0M173.5 74.6h0M193.6 74.5h0M102.6 79.5h0M183 91.4h0M116.3 86.6h0M63.5 80.4h0M159.8 73.3h0M137.5 69.9h0M86 84.8h0M208.9 123.8h0M111.4 90.1h0M10.5 88h0M153.7 85.6h0M44.2 69h0M127.3 79.7h0M128.5 77.5h0M171.3 91.2h0M125.5 81.7h0M8.3 70.4h0M146.9 71.3h0M195.7 90h0M123.7 72.7h0M94.4 77.6h0M170.1 88.3h0M26.5 79.7h0M2.6 84h0M13.9 73.5h0M107 77.6h0M120.3 86.8h0M.8 80.1h0M15 81.9h0M186.7 95.1h0M122.9 83.9h0M67.8 86.3h0M185.3 79.9h0M208.4 129h0M154.9 92.8h0M33.4 86.9h0M101 74.5h0M205.4 129.9h0M152.1 79.2h0M180.4 75.8h0M184.1 88.6h0M120.1 74.6h0M47.1 59.8h0M44.7 66.7h0M33.8 92.5h0M105.6 66.6h0M167.6 87.4h0M203.8 121.9h0M36.9 74.8h0M28.9 61.6h0M94.1 75.4h0M107 75h0M41.5 75.8h0M10.7 82.9h0M75 45.5h0M174.8 65.4h0M104.6 66.3h0M28.9 89.7h0M2.5 80.6h0M1.7 69.7h0M83 80.3h0M106.7 83.5h0M13.5 82.9h0M141.9 66.2h0M143.6 65.5h0M65 68.2h0M174.2 66.9h0M30.4 78h0M66.3 67.1h0M84.5 77h0M100.6 55.5h0M154.7 79.8h0M125.3 96.5h0M72.3 85.8h0M136 77h0M136.7 90.5h0M148.8 41.1h0M199.2 77.5h0M107.4 80.6h0M178.6 76.5h0M60.5 98.9h0M147.4 65.4h0M69.5 91.4h0M2.2 68.2h0M71.4 59.8h0M182.6 86.8h0M13.8 84.3h0M20.1 70.9h0M123.3 85.1h0M208.7 128.4h0M117.3 92.5h0M76.8 83.4h0M5 85.9h0M102 71.5h0M175.7 86.4h0M35.2 84.6h0M36.2 85.9h0M160.7 77.4h0M180.7 70.9h0M22.6 51.7h0M169.7 83.4h0M31.7 86h0M121.5 83h0M172.8 80.8h0M108.1 81.7h0M155 82.4h0M12 68.5h0M39.5 79.4h0M92.4 89.2h0M13.4 69.6h0M157.6 88.6h0M3.7 84.1h0M21.3 72.6h0M12.4 68.9h0M147.8 49.1h0M130.8 75.9h0M105.3 57.2h0M178.1 70.3h0M89.3 87.8h0M174.8 65.4h0M77.6 68.7h0M23.2 66.3h0M75.4 80h0M182.7 92.6h0M6.2 78h0M31.5 81.4h0M114.2 83.9h0M178.3 86.1h0M42.8 67.6h0M108.9 77.8h0M194 59.9h0M83.5 80.5h0M204.7 122.9h0M140.6 85.6h0M42.6 59.5h0M34.2 85.3h0M146.3 80.1h0M93.1 82.2h0M207.1 122.5h0M194.6 74.3h0M93.1 89.7h0M41.5 69.8h0M163.8 77.8h0M90.7 77.5h0M109.8 70.9h0M81.2 67.2h0M132.5 85.3h0M80 71.5h0M98.8 69.2h0M112.1 100h0M132.5 75.3h0M15.9 69.6h0M5 74.6h0M38.1 77.5h0M2.5 78.4h0M190.2 82.4h0M23.6 73.2h0M186.5 77.8h0M188.9 75h0M88.8 83.2h0M187.7 82.4h0M206.7 127.5h0M196.1 73h0M103 75h0M130.1 79.1h0M53.3 66.3h0M5.8 70.9h0M133.4 68.8h0M95.5 75.2h0M78.3 84.8h0M180.9 96.1h0M149.5 58.5h0M197.5 66.5h0M195.3 71.2h0M83.5 78.3h0M115 87.4h0M67.2 79.5h0M78.8 95.8h0M26.4 79.6h0M159.9 76.7h0M26.6 90h0M44.6 70.7h0M52.2 89.1h0M131.9 91h0M67.7 80.9h0M48.6 75.6h0M18.4 76.3h0M80.6 60.3h0M130.7 81.8h0M114.7 85.5h0M59.7 85.8h0M134.4 77.2h0M42.5 68.7h0M40.8 96.2h0M76.3 79.7h0M190.3 90.6h0M60.3 81.3h0M62.3 63.7h0M94.4 77.3h0M192.5 77.1h0M166.4 94.1h0M65.9 61.4h0M166.8 86.6h0M71.4 90.2h0M181 85.1h0M170.5 61.6h0M27.5 74h0M27.3 87.6h0M93.5 74.9h0M147.3 90.1h0M168.7 87.2h0M24.1 63.7h0M10.5 77.9h0M51.2 76.7h0M26.2 85.7h0M27.3 88.3h0M126.2 78.7h0M71.4 81.1h0M153.1 82.3h0M176.5 75.7h0M35.8 72.3h0M170.6 91.6h0M81.5 73.4h0M148.1 50.5h0M123.2 95.7h0M56.3 74.4h0M178.2 71.8h0M190.6 85.1h0M59.8 71.4h0M151 68.7h0M16.7 71.5h0M25.3 80.2h0M136.7 80.6h0M129.2 80.7h0M87.4 78.4h0M155 76.2h0M192.8 48.2h0M187.1 73.3h0M30.1 84.2h0M3.9 77h0M130 75.2h0M141.4 58.7h0M191.9 88.2h0M190.8 77.8h0M4.3 69.1h0M99.1 72.6h0M65.9 73.6h0M2.8 78.4h0M123.4 79.4h0M98.4 79.8h0M1.7 89.9h0M8.5 74.3h0M96.2 66.7h0M18.1 66.7h0M110.7 86h0M99.4 69.8h0M162.6 82.5h0M105.7 78.6h0M107 81.4h0M152.4 71.2h0M115.8 86.1h0M15.3 61.3h0M74.7 80.6h0M65.4 69.1h0M184.1 89h0M101.7 87.8h0M76.2 89h0M97.4 63h0M128.4 86.9h0M192.4 58.3h0M143.7 60.8h0M97.5 75.4h0M117.3 91.7h0M84.6 70.9h0M63.8 71.6h0M188.3 80.5h0M137.2 87.2h0M142.4 62.7h0M123 86.6h0M58.5 76.4h0M20.4 72.1h0M156.6 80.4h0M32.6 68.1h0M22.6 71.6h0M94.9 70h0M8.4 72.1h0M30.9 90.3h0M76.4 82.7h0M32.5 81h0M183.1 87.1h0M75.9 60.4h0M47.4 83.5h0M40.8 85.3h0M88.9 59.7h0M170.3 83.4h0M171.5 94.5h0M3.5 82h0M87.1 86.7h0M125.5 89.3h0M146.5 55.7h0M197.2 83.2h0M180.5 71.6h0M170.6 85.1h0M15.6 63.2h0M35.5 87.1h0M203.8 127h0M83 73.8h0M98.2 70.4h0M112.5 97.6h0M11.3 66.7h0M207.6 132.1h0M128.1 85h0M39 82.7h0M48.7 78.3h0M84.6 69.9h0M76 77.6h0M31.8 73.1h0M82.5 63.7h0M177.2 86.3h0M4.6 76.6h0M109.3 75.2h0M199.6 84.4h0M159.8 68.6h0M172 70.9h0M152.2 77.5h0M174.8 64.7h0M191.9 76.7h0M66.3 78.7h0M42.8 80.7h0M146.7 81.6h0M3.6 57h0M131.2 80.8h0M85.7 57.9h0M49.2 84.6h0M15.1 63.7h0M114.2 87.6h0M12.9 77.2h0M156.6 73.4h0M173.5 61.4h0M140.5 67h0M65 63h0M15.8 71.7h0M88.7 79.8h0M97.4 76.4h0M165.9 80.9h0M10.5 67.3h0M94.5 73.9h0M187.9 76.8h0M200.3 90.3h0M10.9 69.5h0M40.7 82.5h0M81.1 62.9h0M111.4 83.3h0M94.5 86.3h0M88.2 89.6h0M140.8 85.4h0M192.6 80.8h0M132.3 79.4h0M103.8 82h0M22.4 74.4h0M62.1 79.5h0M82.3 70h0M22.3 57.6h0M126.4 84.3h0M93.3 75.5h0M83.9 70.5h0M208.6 134.8h0M113 86.9h0M179.8 76.8h0M122.7 88.9h0M2.7 77.2h0M198.9 82.9h0M178.5 71.1h0M12.9 78.9h0M163.7 71.5h0M120.4 94.4h0M7.5 73.5h0M150.8 75.6h0M79.8 71h0M67.6 80.7h0M71.3 90.1h0M206.6 134.2h0M20.2 65.9h0M165.6 82.1h0M43.9 61.6h0M84.6 64.1h0M193.1 60.4h0M22 64.6h0M60.4 84.7h0M68.1 90.9h0M22.6 73.2h0M136.7 78.3h0M51 79.9h0M178.2 76.2h0M42.1 64.6h0M192.2 69.3h0M54.3 73.2h0M70.7 88.8h0M100 57.9h0M76.2 72.4h0M182.5 98.8h0M24.4 76.1h0M97.5 76.1h0M131.2 92.8h0M175.7 73.4h0M55.6 75.6h0M150.8 63.7h0M121 95.1h0M197.3 79.2h0M172.1 103.6h0M161.1 79.1h0M6.1 70.1h0M94.8 80.2h0M56.7 79.8h0M69 81h0M206.1 126.6h0M71.8 81.6h0M2.8 71.9h0M146.5 46h0M131 86.5h0M48.6 73.4h0M126.7 91.5h0M194.6 92.4h0M101.4 73.1h0M205.1 129.2h0M96 70.6h0M185.3 102h0M68.9 88.5h0M128.2 84.7h0M134.2 90.4h0M31.3 76h0M178.3 83.3h0M185.7 97h0M32.3 75.6h0M136.4 92.4h0M43.4 64.5h0M28.5 78.1h0M82.9 75.1h0M55.6 89h0M117.2 96.9h0M173 90.1h0M160.9 79.6h0M29.1 65.7h0M132.6 67.7h0M178.4 84.1h0M179.5 86.7h0M19.7 78h0M108.5 85.5h0M120.2 85.8h0M198.7 87.8h0M163.1 64.8h0M102.6 82.2h0M208.4 131.2h0M48 82h0M153.9 81.6h0M184.1 94.7h0M58.9 59.6h0M163.8 52.2h0M30.5 83h0M87.9 66h0M200.9 79.9h0M191.5 74.1h0M15.3 81.1h0M103.1 73.5h0M204.5 135.1h0M120.5 89h0M163.2 78.9h0M140.2 66.7h0M109 77.4h0M79.9 75.9h0M47.6 74.9h0M92.4 70.2h0M104.3 63.3h0M59.9 68.6h0M147.6 63.9h0M36.1 75.7h0M34.7 84.1h0M50.2 70.1h0M14.2 66.3h0M27.2 85.2h0M124 91.7h0M97.9 70.6h0M54.3 71.8h0M101 67.8h0M108.2 86.5h0M110.6 81.6h0M69.5 77.1h0M21.1 76.8h0M184 83.2h0M5.2 76.4h0M126.6 92.2h0M137.7 70.7h0M43.3 61.2h0M12.3 67h0M86.8 65.3h0M150.9 81.1h0M61.7 82.8h0M177.6 78.8h0M48.4 66.7h0M84.7 79.4h0M34.2 58.3h0M72.3 74.9h0M44.9 68.5h0M119.4 94.2h0M116 94.4h0M36 88.8h0M190.8 79.2h0M65.8 72.4h0M107.1 72.3h0M169.3 89.3h0M37.4 79.9h0M168.1 82.2h0M24.1 79.7h0"/>
<path stroke="#4a4a4a" stroke-opacity=".52" stroke-width="1.05" d="M46.9 77.5h0M135.3 88.3h0M2.7 74.8h0M150.7 77.4h0M106.3 89.4h0M129.9 84.3h0M35.7 70.8h0M36.6 97h0M98.9 103h0M207.9 147.7h0M91.8 89h0M153.6 113.1h0M198.7 92.3h0M97 58.1h0M130.4 141.1h0M177.1 84.8h0M60.1 128h0M186.6 73.1h0M107.9 72.2h0M41.2 71.5h0M137.2 98.6h0M118 86.2h0M127.8 88.5h0M108 109h0M13.3 75.8h0M147.8 58.5h0M66 61.9h0M202.8 129.7h0M35.1 108.4h0M99.7 78h0M121.6 109.5h0M49 98.3h0M18.2 70.9h0M160.6 78.9h0M86.6 89.9h0M156.2 77.1h0M99.6 69.8h0M4 79.8h0M112.1 84.3h0M176.5 75.1h0M76.1 53.1h0M126.9 64.7h0M56.5 56.1h0M6 73h0M30.8 56.4h0M196.6 92.2h0M187.3 107h0M208.2 139.1h0M103.7 112.3h0M13.7 71.7h0M42.1 100.7h0M159.4 74.8h0M190 51h0M164 80.2h0M208.8 147.4h0M86.7 70.7h0M134.8 74.1h0M52.7 58.5h0M59.2 74.9h0M106.5 58.5h0M103.7 52h0M76.1 79.1h0M40.9 93.6h0M141.3 64.7h0M196.7 98.5h0M42.9 108.5h0M54.7 114h0M188.6 74.9h0M177.9 87.3h0M113.4 85h0M143.4 62.8h0M119.8 88.9h0M163.5 96h0M26.7 60.8h0M39.3 97.7h0M146.5 76.4h0M158.3 79.4h0M169.5 105.8h0M99.8 79.3h0M60.4 44.2h0M130.3 77h0M157.6 66.7h0M39.3 109.3h0M143.3 61.5h0M37 103h0M167.3 69.8h0M30.2 48.1h0M141.5 70.6h0M160.7 76.1h0M39.7 109.8h0M172.1 81.8h0M90.6 99.4h0M29.2 78.7h0M14.1 69h0M31.5 88.1h0M196.5 69.9h0M88.4 75.6h0M36.2 102.8h0M66.9 101.8h0M122.7 65.4h0M146.6 34.4h0M151.6 63.8h0M63.4 77h0M77.4 96.2h0M138.6 100.9h0M161.9 93h0M68 85.2h0M201.4 57.7h0M51.4 88.8h0M198.9 102.6h0M187.2 122.5h0M134.5 100.8h0M1 98.7h0M133.5 56.4h0M114.5 86.5h0M.9 73.8h0M165.8 94.3h0M64.3 91.2h0M83.7 75h0M120 86.1h0M178.9 121h0M200.7 79.4h0M78 92h0M16.4 79.9h0M173.4 78.6h0M9.7 89.9h0M153.1 96.6h0M180.4 95h0M80.5 92.8h0M99 76.8h0M39.7 63.5h0M155.3 83.8h0M119.7 75.9h0M90 102.5h0M167.8 101.4h0M53.8 85.2h0M29 73.7h0M113.8 70.3h0M91 57.5h0M189.5 75.8h0M28.7 71.6h0M72 104.8h0M20.3 43.3h0M112.1 90.6h0M89.9 92.3h0M56.3 74.6h0M80.9 91.8h0M134.9 70.9h0M165 79.5h0M37 82.1h0M21.3 67.5h0M159.4 78.6h0M79 108.2h0M132.4 71.1h0M71.9 79.9h0M36.6 123.1h0M60 58.7h0M134 74.7h0M188.8 76.6h0M30.8 88.9h0M68.1 77.2h0M185.8 98.2h0M139.1 72.2h0M208.4 139.9h0M205 138.8h0M175.4 97.2h0M142.2 59.7h0M180.1 73.7h0M112.1 89.4h0M.9 87.7h0M88.2 71.7h0M18 55.6h0M184.4 104.5h0M78.3 88.9h0M49.4 112.2h0M107.6 115.2h0M183 66.2h0M10.4 84.6h0M129.2 58.3h0M102.4 70.5h0M17.9 78.2h0M180.9 64.5h0M139.7 64.4h0M207.3 109.3h0M90.5 93.9h0M190.7 82.8h0M156.8 110h0M29.1 41.7h0M140.3 89.6h0M120.6 54.3h0M188.7 82.1h0M11 77.2h0M2.5 61h0M118.8 94.4h0M26.4 96.8h0M72.1 62.3h0M51 84.9h0M54.6 73.6h0M170.9 108.7h0M22.9 53.3h0M112.8 73.5h0M14 65h0M124.8 105.3h0M159.5 88.9h0M34.8 75.1h0M22.2 106.4h0M7.3 91.8h0M86.4 90.5h0M24.3 84.2h0M8.3 60.5h0M68.1 60.7h0M184.2 91.5h0M151.7 95.9h0M155.3 61.5h0M48.4 107.2h0M105.2 70.2h0M171.7 83.5h0M190.1 103.1h0M193 67.1h0M118.9 126.8h0M7.1 74.6h0M182.7 85h0M35.3 96.7h0M109.5 98.5h0M130.5 90.3h0M17.4 88.8h0M182.5 82.7h0M145.4 43.6h0M22.5 60.9h0M177.2 98.3h0M95.6 72.7h0M162.8 84.6h0M31 59.1h0M208.8 126.8h0M175.9 96.6h0M55.9 77.9h0M127.2 59.2h0M171.1 107.6h0M55.5 99.7h0M140 100.6h0M142.2 57.5h0M104.2 39.4h0M110.2 66.1h0M52.8 53.7h0M124 66.3h0M150.7 106.5h0M189.1 91.2h0M175 100.9h0M64.5 114.5h0M44.4 83.5h0M99.9 66.5h0M118.2 92.4h0M18.9 72.9h0M35.4 69.5h0M89.3 102.2h0M5 71.7h0M60.2 92.8h0M27.2 59.1h0M20.2 63.3h0M64.9 60h0M41.5 94.4h0M23 56.9h0M48.5 84.8h0M190.2 107.6h0M196.6 89.4h0M129.2 89.1h0M94.6 80.5h0M158.5 58.5h0M98.2 50.7h0M76.5 113.1h0M190.3 88h0M207.7 135h0M80.3 76.7h0M155.1 33.9h0M37.1 84.6h0M29.9 69.1h0M184.3 83h0M27.3 81.3h0M136.4 88.8h0M183 90.2h0M113 80.3h0M54.4 74.8h0M45.3 60.2h0M29.5 100h0M75.4 90.5h0M177 70.8h0M185.1 98h0M33.2 63.6h0M177 81.3h0M154 97h0M174.8 83.4h0M95.8 73.2h0M157 67h0M136.5 91.6h0M73.7 69.5h0M11.8 90.6h0M136.6 61.2h0M58.7 80.9h0M12.3 82.4h0M175.5 128.6h0M183.1 107.4h0M163.1 81.1h0M182.7 97.6h0M152.9 79.5h0M87.7 91h0M114 109.9h0M65 73.1h0M125.4 110.1h0M188.2 79.9h0M61.8 109.9h0M2.5 80h0M140.3 82.5h0M104.7 67.4h0M109.5 73.5h0M17.6 67.6h0M147.4 53h0M97.4 71.8h0M111.1 99.8h0M29.3 97.2h0M70.4 103.4h0M154.6 111.2h0M142.1 72.9h0M122.2 97.9h0M193 50.3h0M15.4 91.6h0M202.5 140.3h0M205.9 126.9h0M38.1 72.2h0M120.4 100.7h0M120.2 83.9h0M82.6 66h0M110.8 92.2h0M1.1 77.9h0M105.5 99.5h0M203.8 133.5h0M97.2 61h0M54.3 73.2h0M144.8 81.4h0M6.2 64.4h0M5.7 90.2h0M173.6 123.6h0M34.9 81.6h0M1.3 81.9h0M99.4 47.2h0M7.1 71.1h0M163.9 92h0M193.3 60.6h0M83.8 53.3h0M79.3 93.2h0M45.2 67.5h0M54.4 89.5h0M17.3 106.5h0M41.3 53.2h0M171.5 90.6h0M108.9 98.7h0M21.3 59.4h0M142.8 70.8h0M189.4 98.6h0M19.4 73h0M97.2 82.3h0M10.6 86.8h0M52.8 74.5h0M22.6 82.6h0M159.4 95.3h0M6.9 90.8h0M9.8 70h0M174.6 72.6h0M156.5 90.1h0M1.9 79.2h0M124.5 110.8h0M139.9 114.2h0M32.3 95.7h0M9.1 37.6h0M114.9 67.2h0M82.2 72.6h0M194.6 74.7h0M159.8 69.1h0M45.7 62.9h0M169 87.6h0M116.9 105.7h0M162.1 71.8h0M66.9 114.4h0M202.8 131.3h0M97.9 65.8h0M85.4 66.9h0M40.4 36h0M132.3 68.2h0M49.7 67.6h0M119.8 103.5h0M51 70.3h0M186.7 84.6h0M171.5 85.1h0M33 72.4h0M16 88.8h0M7.9 64h0M137 90.2h0M66.9 67.5h0M81.1 64.4h0M64.4 81.2h0M162.1 58.6h0M195.4 77.4h0M44.8 86.9h0M157.4 60.7h0M156.2 113.6h0M103.4 96.6h0M194.4 101.7h0M83.9 59.1h0M174.5 87.9h0M139 81.4h0M126 136.6h0M55.1 59.6h0M204.6 140h0M42.9 77.5h0M48.2 48.4h0M81.3 92.3h0M170.8 101.9h0M198.6 113.1h0M35.6 103.7h0M75.8 85.3h0M21.1 66.2h0M37.6 76h0M150.5 84.2h0M11.6 94.6h0M197.8 72.1h0M11.7 49.6h0M208.8 135.8h0M52.3 81.8h0M112.2 66.2h0M106 78.7h0M180 81h0M2.8 78.4h0M16.9 49.4h0M66 103.7h0M74.4 43.9h0M172.8 39h0M187.2 65.5h0M99.1 78h0M93.3 84.6h0M151.5 83.7h0M196.2 99.3h0M76 91.6h0M162.4 91.3h0M61.7 67.3h0M150.8 93.5h0M103.1 69.2h0M127.4 101.8h0M105.6 67.5h0M153.5 100.2h0M198.6 81.3h0M204.8 129.1h0M20.5 47.8h0M195.1 78.7h0M171.9 95.7h0M133.2 114.2h0M168.4 95.1h0M190.4 95.8h0M184.4 88.5h0M132.7 78.4h0M182.3 94.9h0M62.5 83.8h0M183.2 84.8h0M199.9 96h0M2 89.1h0M44.8 77.1h0M61.7 71.1h0M133.2 111.6h0M193 99.4h0M207.4 125.7h0M124.7 91.9h0M40.6 90.7h0M163.6 100.7h0M113.8 88h0M152.3 92.1h0M30.9 55.7h0M120.8 114.5h0M173.9 83.5h0M177.9 110.9h0M49.3 84.7h0M78.4 71h0M56.6 66.8h0M126.9 111.3h0M100.2 78.5h0M2.8 88.6h0M85.2 60.6h0M117.7 94.8h0M179.6 61.3h0M180.4 70.8h0M131.8 63.3h0M14 91.2h0M205.5 142.3h0M145.2 50.3h0M146.6 83.9h0M107.3 90.3h0M5.2 90.4h0M180.5 95.7h0M127.5 106.4h0M182 74h0M204.3 144.2h0M63.3 50.8h0M49.1 53.7h0M112.1 66.4h0M16.4 80.2h0M158.7 87.2h0M2.1 59.1h0M16.9 87h0M39.8 84.1h0M131.3 82.9h0M23.5 82.2h0M111.7 91.3h0M201.2 91.3h0M37.1 89.4h0M26.2 97h0M108.6 93.9h0M122.9 95h0M130.9 96.2h0M156.2 60.1h0M45.5 100.9h0M5.7 84.1h0M97.2 111.7h0M82 71.6h0M149 87.9h0M81.3 104.7h0M15 93.2h0M134.6 87h0M127.4 75.2h0M27.5 90.1h0M170.8 107.5h0M154.6 57.2h0M21.7 116.4h0M5.8 72.1h0M63.4 70.2h0M44.2 82.9h0M85.3 42.9h0M111.3 68.3h0M173.5 84.6h0M180.3 79.3h0M180.6 90.3h0M208.3 133.3h0M7 68.7h0M20.7 87.9h0M111.8 103h0M178.9 69.6h0M127.6 68.1h0M106.9 94.6h0M30.9 80.9h0M124.4 95.8h0M74.4 81.8h0M73.7 86.3h0M169.7 94.9h0M104.9 88.2h0M95.6 48h0M133.9 81.7h0M36.4 73.2h0M76.5 96h0M161.1 79.6h0M76.1 90.5h0M171.5 107.7h0M168.6 121.3h0M123.1 79.4h0M73.9 71.4h0M170.7 101.7h0M177.1 87.9h0M46.4 59.1h0M27.4 53.5h0M32.1 101.5h0M37 106.2h0M180 117.9h0M193.3 72.3h0M109.3 79.7h0M182.3 93.3h0M81.3 81.3h0M18.9 79.1h0M26.7 48.9h0M119.2 78h0M39.3 96.8h0M27.8 80.5h0M65.9 36.6h0M127 72.3h0M7.9 68.8h0M148.9 80.3h0M15.5 69.9h0M181.7 79.1h0M183.5 86.8h0M188.3 104.4h0M159.2 69.4h0M96.7 103.6h0M135.8 81h0M207.1 114.3h0M138.2 43.9h0M113.1 107.9h0M15.9 86.9h0M122.2 61.1h0M12.5 90.4h0M127.3 104.5h0M78.9 96.5h0M178.6 102.1h0M111.5 74.7h0M83.9 82.6h0M67.2 64.5h0M122.4 90.1h0M71.2 96.9h0M1.3 61.8h0M111.8 75.9h0M130.7 112.4h0M13.5 87.5h0M182.4 100.4h0M59.4 63.6h0M9.6 70.6h0M173.1 138.4h0M196.2 65.5h0M78.8 105.6h0M117.2 68.7h0M138 109.9h0M25.1 96.8h0M3 62.3h0M118.9 92.2h0M148.5 69.9h0M141.6 89.4h0M158.8 55.9h0M181.8 86.9h0M181.1 97.6h0M56.6 53.1h0M136 100.4h0M57.7 62.6h0M152.4 73.2h0M64.6 127.2h0M109.8 61h0M94.5 80h0M33 83h0M124.7 85.3h0M171.9 75.5h0M10.5 41.5h0M120.4 114.2h0M129.8 82.2h0M173.2 85.6h0M.7 82h0M8.9 123h0M101.7 83.2h0M20.5 76.3h0M131.8 78.4h0M115.1 129.6h0M80.9 60.4h0M80.2 73.5h0M39.5 61h0M79.7 32.3h0M156.7 94.4h0M208.2 146h0M118.6 108.9h0M35.1 91.1h0M2.3 62h0M164.5 63.9h0M197.9 84.8h0M134.4 79.4h0M181 89.7h0M25.3 76.8h0M69.3 70.1h0M22.4 78.4h0M107.1 87.9h0M36 89.4h0M95.9 84.5h0M49 39h0M83.6 101h0M86.4 94.3h0M128.9 100.1h0M93.5 99.1h0M17.7 52.4h0M30 87.1h0M193.4 68.7h0M127.8 84.7h0M205.4 122.8h0M16.6 73.2h0M21.4 91.6h0M86.1 64.7h0M132.2 70.5h0M32.2 76.5h0M134.6 70.2h0M59.8 89.9h0M45.9 70.2h0M51.4 42.4h0M142.6 74.7h0M31.8 49.3h0M31.1 101.4h0M207.6 136.3h0M82.3 88h0M83 90.7h0M99.9 82.7h0M24.5 74.6h0M101.4 76.9h0M134.3 96.9h0M125.7 104.3h0M56.9 87.5h0M21.5 59.1h0M166 50.9h0M167.6 105.9h0M117.6 82.1h0M101.9 52.7h0M17.2 60.2h0M42.5 63.5h0M65.3 102h0M69 78.8h0M46.9 95.6h0M32.2 68.3h0M10.1 70.9h0M2.2 62.9h0M52.3 97.4h0M21.4 66.7h0M105.8 124.2h0M193.7 50h0M197.6 54.4h0M203.1 132.9h0M146.2 33.3h0M102.1 72.6h0M18 80h0M187.9 80.4h0M8.2 100.5h0M167.4 74.9h0M21.1 73.1h0M147.5 74.2h0M67.2 74.7h0M123.6 43.4h0M31.5 57.4h0M17.8 63.7h0M3.1 87.4h0M146 38.4h0M33.6 92.7h0M208.8 134h0M13.8 71.2h0M108.6 63.4h0M125.1 74.1h0M143.5 68.8h0M76.3 108.6h0M9.8 59.5h0M2.9 94h0M113.5 74.3h0M186.2 97.6h0M122.4 88.5h0M142.6 100.2h0M168 97.7h0M82.6 93.4h0M95.6 60h0M156.7 103.2h0M47.8 78.2h0M128.1 89.5h0M14.2 78.1h0M23.5 65.6h0M111.6 82.1h0M75.8 53.2h0M81.2 64.6h0M21.6 64.5h0M179.6 102.8h0M43.2 86h0M80.5 77.9h0M157 68.9h0M163.7 90.3h0M107.1 20.8h0M13.5 60.4h0M99.9 60.3h0M119.1 88.1h0M103.9 81.6h0M77.9 49.5h0M75.3 119.7h0M74 78.6h0M12.1 71.2h0M138.9 97h0M135.6 64.8h0M29 59.8h0M102.5 141.5h0M143.6 58.3h0M115.8 67.1h0M153 82.2h0M152 77.5h0M165.2 68h0M27.9 54h0M172.7 98.6h0M84.3 59.8h0M186.3 111.9h0M105.5 44.8h0M25.4 72.8h0M39.1 82.8h0M72.8 68.3h0M20.2 61.4h0M183.9 123.6h0M78.5 117.3h0M167.6 111.4h0M141.5 57.9h0M147.8 55.2h0M200.9 62.6h0M192.3 115.5h0M50.8 73.4h0M105.8 87.9h0M170.6 58.7h0M167.5 97.3h0M188.7 106.9h0M22.3 47.2h0M180.7 91.9h0M50.2 92.4h0M124.1 71.3h0M164.6 108.2h0M65.1 88.3h0M193.4 93.2h0M201.8 104.3h0M167.8 100.2h0M88.7 88.8h0M55.8 92.2h0M173.5 62.7h0M5.3 85.5h0M39.4 67.6h0M39.3 131.3h0M99.1 64.1h0M19.9 71.1h0M9.2 105.4h0M108.9 82.1h0M33.2 89.2h0M33.8 52h0M91.3 79.1h0M125.4 78.9h0M121.8 97.8h0M192.5 70.1h0M121.6 106.2h0M65.2 81.5h0M2.9 73.2h0M208.9 101.5h0M105.5 84.1h0M49.5 61.9h0M208.5 124.2h0M131.7 62.8h0M172 28.9h0M.8 63.1h0M112.1 105.1h0M122.7 87.6h0M168.1 82.8h0M134 74.6h0M36.3 100.7h0M50.7 49.7h0M206.1 139.7h0M133.3 56.8h0M103 63h0M105.4 79.8h0M204.3 127.5h0M15.8 50h0M57.9 82.8h0M138.1 65.6h0M154.8 91.1h0M17.5 68.2h0M164.7 115h0M37.4 94.6h0M100.6 106h0M59.2 63.4h0M62.8 93.6h0M71.9 61.9h0M185.2 80h0M87.8 63.2h0M39.4 92.9h0M135.3 109.5h0M206.8 137.5h0M148.3 75h0M120 94.8h0M158.2 103.6h0M71.4 65.5h0M12.9 80.4h0M64.2 72.3h0M19 50.6h0M72.2 97.4h0M164.5 103.9h0M132.7 64.2h0M55.3 63.8h0M111.6 87.1h0M113.7 70h0M75.8 71h0M154.3 61h0M83.5 123.1h0M170.5 67.8h0M9.6 80.3h0M161.2 92h0M75.4 117h0M158.2 87.3h0M113.1 84.6h0M197.7 30.7h0M104.3 70.9h0M149.7 132.9h0M165.9 66h0M150.8 87.2h0M104.2 80.3h0M143.6 87.3h0M190.7 85.6h0M135.7 125.2h0M81.1 88.3h0M32.2 63.3h0M162.1 89.1h0M133.7 62.2h0M129.6 92.6h0M116.1 96h0M74.3 104.8h0M194.6 32.5h0M113.7 75.6h0M82.5 78.6h0M160 73.3h0M119.6 93.5h0M57 92.9h0M44.1 79h0M14.9 96.2h0M125.9 79.3h0M150.6 87.6h0M169.1 87.2h0M155 108.8h0M95.9 100.7h0M106.3 97.6h0M105.5 49.5h0M34.1 77.2h0M82.8 63.2h0M120.7 114.8h0M105.9 71.9h0M206.8 117.1h0M23.2 59.8h0M116.9 91.2h0M135 51.2h0M166.6 74.5h0M154.5 95.3h0M40 84h0M177.4 60.2h0M63.8 110.4h0M37.9 52.8h0M137.9 63.6h0M113.4 128.4h0M84.4 78.8h0M64.5 77.2h0M137.7 90.6h0M196.2 81h0M35.3 89.1h0M156.2 82h0M48.5 83.6h0M38.7 74.9h0M127.8 114.6h0M101.5 109.6h0M131.6 84.4h0M112.3 68.7h0M159.1 87h0M86.1 55.6h0M92.7 90.9h0M24.8 83.1h0M16.9 71.7h0M188 82.2h0M140.5 74.1h0M173.8 102.8h0M102.4 69.1h0M50.4 56.7h0M194.3 62h0M170.8 81.9h0M39.2 94h0M141.9 88.6h0M50.7 84.8h0M87.9 65.3h0M187.9 95.7h0M57.1 73h0M105.6 68h0M162.6 78.6h0M151.6 76.7h0M32.2 95.2h0M98.3 92.8h0M150.8 50.8h0M40.4 92.4h0M11.9 70.6h0M109.7 58.5h0M65.9 115.5h0M131.1 78.1h0M143.2 95.8h0M119.2 86h0M109.5 109.7h0M161.4 67.4h0M107.7 56h0M67.5 83.5h0M86.1 35.9h0M70.2 88.2h0M20.3 75.6h0M74.5 66h0M105.9 65.7h0M111.7 76.8h0M63.8 71h0M164.8 124.8h0M8.4 54.5h0M128.2 79.4h0M171 84.5h0M7.9 97.9h0M181.4 121.4h0M4.1 59.8h0M184.4 64.4h0M3.3 64.8h0M55.2 89.2h0M111.9 92.9h0M131.4 84.9h0M56.7 70.5h0M178.9 74.4h0M52.9 66.1h0M189.3 81.2h0M120.7 100.5h0M130.4 78.6h0M152.2 103h0M16.7 90.2h0M173.6 92h0M93.9 101.6h0M74.1 68.1h0M74.4 118.9h0M191.2 90.4h0M153.4 106.5h0M116.5 100.1h0M180.2 79.1h0M135.8 87.4h0M7.8 88.5h0M107.6 76h0M39.1 97.2h0M97.7 73.8h0M21.1 39.3h0M90.1 92.1h0M170.4 100.1h0M183.5 68.7h0M131.8 96h0M2.8 65.3h0M84.5 69.6h0M196.5 79h0M190.7 69.8h0M196.9 64.9h0M112.7 98.4h0M128.2 85.4h0M89.9 93.9h0M111.7 86.5h0M201.1 54.9h0M155.7 79.5h0M107 45.4h0M34.9 83.1h0M77.9 111.6h0M57.4 87.3h0M90.3 90.2h0M17.5 48.5h0M96.6 64.3h0M202.7 91h0M95.8 75.8h0M68.9 114.7h0M82.2 112.8h0M181.3 101.7h0M171.4 75.2h0M187.4 50.9h0M14.2 57.8h0M198.5 64.7h0M86.9 80.9h0M66.4 96.8h0M122.4 84h0M133.5 53.1h0M197.1 62.3h0M188.5 73.4h0M171.1 64.1h0M165.1 65.7h0M63.1 86h0M147.2 52.3h0M137.9 73.4h0M199 104.7h0M13 88.7h0M111.4 112.4h0M179.8 65h0M35 55.6h0M175 78.6h0M191.4 132h0M201.5 84h0M40.6 105.8h0M203.3 115.3h0M101.9 75.6h0M164.4 98.4h0M16.6 35.3h0M36.9 77.1h0M117.6 89.5h0M204 132.5h0M89.7 73.9h0M157.1 99.8h0M73.7 78.7h0M53.3 80.1h0M170.7 67.7h0M171.1 93.2h0M43.7 48.3h0M142.9 91.9h0M143.2 69.6h0M42.8 39.7h0M160.3 57.2h0M35.3 101h0M5.6 118.9h0M115.3 106.9h0M42.9 94.1h0M1.5 58.6h0M23.5 59.3h0M78.2 83.9h0M100.3 85.5h0M136.1 71.1h0M139.5 101.4h0M49.1 81.9h0M35.5 132.1h0M50.1 95.3h0M198 56.6h0M174.9 83.6h0M203.4 153.8h0M130.5 97.1h0M161 60.5h0M208 142.5h0M94.3 98.7h0M110.5 74.2h0M188.4 50.3h0M133.6 80.3h0M12.4 59h0M67.2 66.6h0M133 35.3h0M120.5 92.1h0M19.6 87.4h0M120.9 67.1h0M43.8 63.8h0M175.5 115.7h0M141 69h0M162.2 76.2h0M89.1 96.2h0M13.5 66.1h0M71.2 60.4h0M147.4 61.9h0M138.6 84h0M66.9 57.1h0M153.3 115.6h0M54.2 66.7h0M1.9 68.6h0M51 71.6h0M94.9 57.4h0M155 89.9h0M195.9 73.4h0M125.4 87.3h0M1.6 81.3h0M79.2 144.9h0M126.2 74.9h0M42.8 57.1h0M2.5 88.5h0"/>
<path stroke="#5a5a5a" stroke-opacity=".4" stroke-width=".9" d="M174.5 115.7h0M165.3 52.2h0M92.6 68h0M131.3 84.2h0M12.7 45.9h0M155.6 62.9h0M12.4 54.6h0M54.3 59.1h0M125.9 75.4h0M18.3 49.9h0M25.6 97.2h0M174.9 94.1h0M39.7 67.4h0M96.3 102.2h0M125.1 47.9h0M32.1 62.3h0M105.4 49.2h0M191.1 72.7h0M144.7 55.3h0M25.4 84.9h0M84.4 52h0M177.2 100.9h0M42.5 93.4h0M98.1 104.1h0M176.4 90.3h0M190.9 119.9h0M72.2 37.4h0M153.9 124.7h0M185.2 73.7h0M123.1 37.5h0M132 61.6h0M80.9 38.4h0M63.3 93.3h0M37 93.1h0M84.6 65.1h0M190.2 29.2h0M52.4 50.9h0M14.2 32.1h0M96.5 83.4h0M138.4 46.4h0M174.4 37.7h0M74.1 72.7h0M62.9 67.4h0M80.6 56.5h0M161.6 45.2h0M126.9 76.4h0M121.8 50.2h0M10.5 124h0M159.2 56.2h0M23.1 59.7h0M28.5 70.6h0M66.6 132.8h0M47.3 58.9h0M143.9 80.3h0M75.8 124.5h0M48.7 9.6h0M2.5 30.8h0M77.6 27.6h0M25.8 36.9h0M188.7 76.2h0M81.4 48.4h0M164.2 93.6h0M30.7 67h0M93 31.7h0M21.2 38h0M138.1 110.6h0M142.2 51h0M118.8 45h0M199.9 91.9h0M194.7 58.4h0M57.4 44.9h0M99.9 6.7h0M189.2 120.6h0M165.7 51.7h0M163.1 102.5h0M173.2 101.2h0M192.6 90.2h0M65.8 54.3h0M66.8 44.8h0M17.7 2.2h0M198.5 104.9h0M166.2 65.5h0M37.4 63.1h0M51.2 60.2h0M189.2 74.5h0M165.4 60.2h0M20.2 128.9h0M72.3 90.9h0M184 54.7h0M7 105.2h0M41.6 61h0M94.9 39.8h0M77 135.8h0M87.8 51.5h0M115.9 48.9h0M124.7 143.6h0M177.9 66.7h0M92.4 96.8h0M20.9 32.1h0M55.4 96.6h0M147.5 32h0M87.7 110.6h0M75.4 109.9h0M152.1 148.6h0M109.5 50.2h0M167.5 57.7h0M132.8 67.5h0M149.8 68.8h0M128.4 49h0M173 107.4h0M100.7 52.9h0M140.5 101.6h0M98.2 46.8h0M8.5 95.2h0M44.7 60.5h0M147.6 58.6h0M156.9 43.4h0M130.7 50.7h0M183.8 75.6h0M42.5 53.5h0M202.3 60.3h0M170.7 45.5h0M93.3 36.4h0M155.1 11.2h0M159.2 78.6h0M73 102.7h0M138.3 88.6h0M149.3 87.3h0M20.7 99.8h0M173.3 107.6h0M70 69.3h0M47.4 122.2h0M84.6 54.9h0M31.7 59.9h0M80.6 88.3h0M160.5 116.4h0M202.1 103.2h0M194.5 46.8h0M8.2 41h0M185.5 78.3h0M188.1 124.7h0M143.4 115.4h0M86.3 48.4h0M76.3 53h0M148.3 84.7h0M39.5 73.9h0M21.7 50.1h0M165.3 48.5h0M40.8 60.9h0M205 111.9h0M202.7 93h0M86.5 65.3h0M1.8 108.1h0M112.6 61.2h0M159.4 94.4h0M81.2 65.2h0M178.8 90h0M83.4 95.8h0M199.7 72.2h0M69.4 127h0M181.3 100.1h0M117.7 106.9h0M57.1 54.8h0M188.9 76.3h0M73.1 68.1h0M98.9 115.9h0M141.2 55.4h0M83.5 99.7h0M59.7 88.5h0M204.1 104.1h0M27.4 43.1h0M173.5 69h0M99 86.4h0M171.8 109.4h0M186.7 84.2h0M41.1 59.7h0M86.9 60.6h0M86.5 47.5h0M194.1 25.5h0M181.5 110h0M2.2 67h0M77.3 22.8h0M41.4 92.8h0M37.8 40.8h0M174.6 111h0M39.5 60.2h0M198 93.4h0M183.2 97.3h0M14.2 50.7h0M72.5 124.5h0M13.8 91.9h0M30.1 136.7h0M59 54.1h0M30.5 112.2h0M29.8 107.4h0M38.8 62.1h0M75.9 67.1h0M28.2 31.5h0M58.1 8.7h0M165.9 50.2h0M97.9 98.7h0M196.4 72.6h0M151.4 57h0M101.1 60.4h0M30.4 102.7h0M66.5 69.2h0M40.1 55.2h0M189.5 62.2h0M170 102.4h0M185.9 80.2h0M14.4 87.3h0M106.7 64.1h0M64.5 54.4h0M150.8 117h0M87.3 116.9h0M200.4 117.3h0M82.2 53.2h0M145 31.8h0M128.4 53h0M189.5 47.2h0M196.4 54.4h0M44.5 37.9h0M81.1 97.3h0M105.5 120.5h0M126.4 129.8h0M178.3 54.5h0M93.7 38.3h0M76.8 121.2h0M138.4 42.8h0M206 120.1h0M164.9 28.1h0M171.1 61.6h0M20.9 50.6h0M1.1 32h0M170 66h0M176.6 66.2h0M51.9 103.4h0M139.2 102h0M21.7 111.9h0M149.8 97.9h0M124.8 50h0M144.1 44.4h0M194.7 82.7h0M109.5 74h0M188.8 105.6h0M128.7 65.6h0M146.6 .5h0M43.6 48.2h0M24 60.1h0M72.2 68.6h0M108 35.2h0M21.8 3.5h0M137.1 12.8h0M73.6 72h0M148.6 62.7h0M104.6 59.9h0M83.7 98.3h0M181.3 63.6h0M208.5 146.4h0M136 90.3h0M115.1 84.1h0M45.7 57.1h0M57.3 55.7h0M178.4 126.7h0M75.9 110.1h0M72.8 38.5h0M121.7 70.5h0M46.3 15.9h0M182.9 86.4h0M176.9 59.9h0M57.9 108.2h0M72.2 60h0M184.9 111.4h0M172.4 112.7h0M191.8 80.8h0M39.9 30.4h0M94.1 112.9h0M189.4 123h0M141.7 45.6h0M195.6 56h0M198.2 44.7h0M110.8 124.1h0M196.7 42.7h0M169.7 110.4h0M26.5 56h0M142.1 82h0M197.2 91.2h0M132.3 61.9h0M24.4 60.5h0M122.9 137.1h0M75.2 105.7h0M53.6 69.7h0M168.9 108.4h0M138.1 100.3h0M123.1 127.5h0M58.4 48.3h0M192.9 45.5h0M88.8 104.5h0M80.7 23.9h0M200.5 108h0M1.3 63.2h0M93.7 69.2h0M165.2 91.4h0M125.7 125.8h0M77.9 60.1h0M20.2 79.7h0M92.3 120.5h0M166.8 74.1h0M80.7 101.1h0M87.4 49.5h0M62.8 137.7h0M22.5 88.6h0M22.3 63.5h0M171 52h0M66.5 76.9h0M194.3 59.9h0M186.3 126.2h0M7.5 41.9h0M129 110.3h0M133.1 40.5h0M7.5 53.4h0M164.1 69.9h0M69.2 129h0M14.1 20.5h0M22.4 31.3h0M89.3 70.7h0M165.3 61.7h0M197.5 78h0M192.3 69.2h0M40.5 46.3h0M40.6 99.5h0M15.4 96.3h0M41 30.8h0M159.3 45.4h0M170.7 129.5h0M191.2 66h0M45 89.6h0M16.7 54.3h0M95.8 27.3h0M74.4 57.5h0M21.8 62.9h0M158.4 102.3h0M168.2 106h0M198.4 44.8h0M174.1 101.8h0M125.9 95.4h0M165.5 91.1h0M160.6 47.9h0M163.4 86.4h0M85.8 95.4h0M207.6 135.7h0M54.3 62.9h0M156.3 63.6h0M46.8 56.4h0M114 25.7h0M1.1 102h0M2.4 92.7h0M181.4 130.2h0M46.4 84.6h0M42.1 57.5h0M80.9 117.7h0M185.6 102.3h0M31.3 46.1h0M133.2 46.6h0M186.5 108.5h0M130 71.3h0M95.6 46.3h0M28.4 64.7h0M203.2 106.6h0M193.9 79.8h0M72.8 118.8h0M39 52.4h0M106 47.5h0M25.4 120.3h0M93.1 47.7h0M167.7 81.9h0M39.7 104.4h0M37.9 39.3h0M197.1 88.4h0M60 91.3h0M128.4 57.2h0M21.9 54.9h0M205.9 121.6h0M128 64.2h0M23.5 92.5h0M90.6 101.8h0M128 37.6h0M73.2 121.8h0M88.9 55.7h0M193.6 83.1h0M114.5 98.6h0M44.6 51.9h0M100.5 42h0M147.1 82.5h0M14.2 56.3h0M99.1 63.3h0M192.4 80.5h0M136.3 56.9h0M88.2 65.1h0M75.7 28.4h0M48.5 90.6h0M105.3 56.8h0M162.3 91.4h0M182.6 150.3h0M8.7 49.9h0M137.5 56.4h0M193.2 111.7h0M130.1 63.9h0M82.8 57.8h0M169.7 64.2h0M162.4 85.2h0M205.6 134h0M59.6 83.6h0M183.4 64h0M113.3 111.2h0M100.2 27.3h0M59 43.3h0M97.1 59.2h0M184.7 80.6h0M156.8 86.6h0M132.1 29.8h0M130.8 61.6h0M147.8 90.7h0M48.7 85.9h0M175 53.3h0M7.2 38.8h0M182 58.2h0M48 53.5h0M202.9 120.2h0M154.3 145.8h0M134.8 95.3h0M148.4 71.3h0M168 113.3h0M194.4 115h0M109.3 45h0M177.3 104.8h0M106.5 96.5h0M193.3 117.7h0M18.9 59.5h0M80.5 24.2h0M96.9 36h0M88.6 123.8h0M71.4 51.1h0M82.7 51.4h0M208.1 138.2h0M73.7 94.5h0M34.1 97.9h0M42 55.1h0M72.2 46h0M160.7 44.4h0M3.5 61.1h0M20.2 33.8h0M141.5 147.3h0M190.4 58.7h0M85.3 58.1h0M106.7 61.7h0M40.3 58.9h0M63.8 61.6h0M169.3 71.1h0M112.9 52.1h0M83.6 46.6h0M120.3 66.5h0M90.1 61.7h0M175 81.9h0M69.7 43.9h0M131.9 92.9h0M4.7 65.1h0M18.9 92.7h0M24.3 83h0M26.6 55.7h0M26.5 61.4h0M203.5 94.6h0M144.6 90.4h0M46.3 51.3h0M21.9 64.7h0M24.9 40.4h0M37 130.2h0M52.1 62.7h0M194 36.7h0M125.8 68.8h0M34.1 33.3h0M87.9 96.6h0M18.7 60.6h0M66.3 130.2h0M90.9 102.7h0M175.7 61.8h0M24.3 33.9h0M153.8 72.8h0M152.1 42.6h0M26.1 37.2h0M41.3 101.9h0M65 121h0M35.4 69.7h0M46.4 48.1h0M8 83.7h0M125 33.4h0M14.5 52.8h0M81.8 60.3h0M19.2 21.9h0M166.2 95.8h0M6.3 37.2h0M80.1 65.8h0M198.2 50.5h0M177.8 16.3h0M158.8 53.6h0M163.7 66.9h0M103.7 90.4h0M97.9 105.8h0M14.1 26.9h0M4.4 59.1h0M172.7 78.6h0M88.2 71.5h0M189 102.1h0M24.6 115.7h0M111 74.7h0M1 64.3h0M110.5 85.2h0M99.4 79.1h0M173.8 105.1h0M140.7 91.7h0M99.9 35.1h0M33.3 68.2h0M36.4 18h0M119.2 20.9h0M13.6 118.3h0M67.8 93.9h0M120.9 83.3h0M120.4 86.1h0M60.1 80.8h0M83.1 49.9h0M33.3 46.3h0M14 58.2h0M40.2 69h0M85.6 30.2h0M7.1 102.6h0M103.1 44h0M140.4 47h0M112.9 44.8h0M55.6 66.7h0M90 45.3h0M62.7 92.3h0M197.5 77h0M73.7 119.8h0M43.2 49.7h0M118.1 35.5h0M174.1 17.8h0M48.1 139.9h0M157 68.2h0M45.4 56.8h0M151.9 111.7h0M114.1 78.5h0M70.1 117.6h0M78.4 106.6h0M197.8 90.2h0M121.4 76.1h0M107.5 38h0M12.5 54.3h0M132.5 38h0M172.5 109.8h0M56.6 112.7h0M160.2 4.6h0M93.4 90.4h0M29.1 10.5h0M119.8 110.9h0M87.6 82.5h0M133.3 45.7h0M169.9 63h0M166.1 73.6h0M80.1 57.9h0M159.7 18.7h0M151.3 90h0M43.6 42.8h0M114.6 30.6h0M152.7 67.4h0M25.8 104.8h0M67.5 58h0M176.2 61.1h0M180.3 65.1h0M168.7 99h0M127.4 57.1h0M177 94.2h0M13.4 92.5h0M132 34.4h0M118.2 59.1h0M54.3 62.8h0M2.8 51.7h0M50.8 44.5h0M148.9 62.3h0M111.2 76.3h0M180.4 61.2h0M199.3 47.5h0M116.3 103.2h0M107.4 48.9h0M127.1 72.6h0M17.6 24.2h0M162.8 37.8h0M188 68.8h0M18.6 54.3h0M208 120.1h0M134.8 84.6h0M22.3 40.4h0M81.6 118.6h0M139.6 61.9h0M170.6 61h0M113.5 57.9h0M75.1 42.7h0M175.3 126.4h0M28.1 57.2h0M134.4 112.5h0M103.2 99.9h0M82.1 19.8h0M39.1 61.6h0M137.9 87.6h0M4.4 63.9h0M193.4 55.2h0M164.1 69.6h0M109.9 99.3h0M156 62.3h0M14.8 59.4h0M95.5 41.1h0M167.6 122.3h0M148.6 35.5h0M107.5 57.4h0M43 111.8h0M53.7 85.7h0M189.9 66.7h0M101.8 49.6h0M66.8 103.5h0M196.8 59.1h0M158.7 97h0M22.2 94.7h0M68.7 148.1h0M148.7 37h0M10.2 92.3h0M23.8 94h0M136.3 101.3h0M40.5 89.6h0M165.9 42.3h0M138.7 90h0M145.9 116.3h0M21.3 92.8h0M206 101.3h0M176.5 97.2h0M52.4 60.8h0M98.8 45.5h0M185 77.3h0M119.5 71.6h0M150.4 90h0M94.8 79.8h0M196.7 96.7h0M186.4 98.4h0M96.5 81.1h0M124 106.3h0M90.5 52h0M88.1 41.7h0M82.2 86h0M138.7 50.7h0M71 69.3h0M17.7 43.1h0M169.7 71.6h0M9.7 66.7h0M125.6 57.9h0M95.5 50.1h0M50.5 54.4h0M76.3 88.8h0M135.3 40.2h0M30.7 22.5h0M60.8 64.5h0M55.8 95.6h0M107.3 48.7h0M91.7 36.8h0M52.9 66.2h0M102.1 30.8h0M92.4 120.2h0M195.2 105.1h0M87.4 121.1h0M56.1 92.7h0M77.2 67.8h0M176.3 59.8h0M81.8 38.6h0M102.3 46h0M76.6 76.9h0M28.1 74h0M208.2 89h0M157.4 28.1h0M11.4 111.3h0M196.2 54.3h0M95.7 64.2h0M196.7 56.6h0M122.1 40.6h0M117.1 57.5h0M63.8 100.7h0M148.6 28.7h0M87.3 42.8h0M47.6 60.8h0M33.5 58.4h0M148.1 49.9h0M166.3 61.7h0M120.1 90.3h0M49.6 47.8h0M146.5 34.4h0M9 53.8h0M51 93.6h0M166.4 118.1h0M98.2 95.1h0M3 87.9h0M143 50.1h0M177.1 56.3h0M86.1 96.6h0M131.9 55.3h0M49.2 53.7h0M92.4 71.5h0M90.1 105.7h0M159.3 87.1h0M36.4 117.8h0M190.8 115.4h0M181.1 56.3h0M74.4 48.2h0M58.2 86.7h0M157.5 82.8h0M33.6 73.1h0M.5 99.5h0M170.3 101.8h0M60.5 48.1h0M141.7 83.9h0M193.8 20.6h0M204.4 101.6h0M97.3 24.1h0M59.4 48.3h0M166.6 30.4h0M18.3 42.7h0M2.9 51.9h0M62.9 58.3h0M21.8 29h0M131.1 116.2h0M30.7 53.2h0M19.1 82.8h0M70.2 88.6h0M143.7 19.9h0M99.9 127.5h0M198.3 56.7h0M192.7 35.8h0M179.8 135.6h0M98.1 59.9h0M163.4 47.1h0M69.9 108.7h0M142.8 30.7h0M164.3 71.3h0M145.9 78.3h0M86.2 58.5h0M138.1 41.4h0M195 126.1h0M113.9 72h0M104.5 8.8h0M153.7 20.4h0M115.5 115.2h0M188.1 49.9h0M132.7 93.6h0M150.8 68.1h0M115.6 122.4h0M10 84.1h0M57.2 81.5h0M177.7 55.4h0M29.4 100.8h0M67 105h0M96.7 59.3h0M52.7 65.1h0M200.6 97.6h0M40.6 98h0M149.2 37.5h0M20.5 27.4h0M24.3 87.8h0M137.8 19.8h0M74.3 73.6h0M10.1 29.1h0M64.1 59.4h0M13.2 62.4h0M152.1 92.8h0M184.6 67.4h0M11.2 88.9h0M52.3 64.9h0M126.8 49.7h0M92.1 61.9h0M13.1 23.8h0M80.1 59.4h0M201.2 118.4h0M64.4 61.2h0M132.4 56.5h0M198.1 74.9h0M97.8 59.6h0M67 100.3h0M6.4 117.8h0M29.7 59.1h0M118.7 82.7h0M23.4 48.9h0M58.5 89.5h0M143 47h0M45.6 58.4h0M157.6 52.7h0M8.7 60.5h0M206.9 105.6h0M112.4 43.9h0M12.8 99.5h0M24.2 115.1h0M193.3 48.6h0M76.8 73.8h0M21.4 49.7h0M75.7 64.5h0M169.9 96h0M203.3 113.4h0M19.7 81h0M153.7 61.7h0M84 57.4h0M79.3 114.7h0M167.2 69.7h0M78.2 23.7h0M199.6 57.1h0M81.9 79h0M10 83h0M117.8 61h0M195.9 51.5h0M154.4 99.9h0M156.9 100.4h0M112.9 50.9h0M57.2 85.6h0M120.7 41h0M77.6 99.2h0M27.6 66.7h0M48.6 40.7h0M170.1 68.6h0M160.5 98.5h0M168.5 104.9h0M169.6 115.5h0M98 94.9h0M128 98.6h0M13.6 91.5h0M173.2 83.1h0M108.9 64h0M182.5 70.9h0M89.2 42.9h0M115.1 117.3h0M185.7 25.3h0M50.3 83.1h0M19.3 64h0M137.4 102.9h0M98.6 36.9h0M81.4 26.1h0M16.6 84.7h0M1.8 58.4h0M24.3 47.1h0M107.5 61.5h0M99.1 102.7h0M18.8 63.8h0M117.6 110.5h0M74.2 62.1h0M55.7 18.4h0M168.1 116.6h0M77.9 59.2h0M183.3 116.5h0M149.3 65.6h0M86.1 101.2h0M129.6 101.6h0M207 141.8h0M43.7 40.9h0M50.6 124.6h0M87.9 88h0M.8 50.6h0M63.7 54.8h0M12.4 81.5h0M91 86.6h0M206 110.6h0M165.4 42.4h0M174.8 48.3h0M33.8 86.7h0M133.8 57.1h0M106.8 135.2h0M100.8 62.5h0M195.4 83.5h0M105.5 53.6h0M130.1 86.6h0M37.2 72.1h0M104.4 80.6h0M2.1 45.6h0M126.1 38.8h0M55.5 48.9h0M80.3 37.4h0M102.2 51.1h0M127.5 97.1h0M164.2 69.2h0M172.6 82.2h0M21.4 80.6h0M51.2 64.1h0M194.2 23.5h0M35.3 98.3h0M98.5 34.1h0M134.8 69.1h0M23.2 28.7h0M37.8 64.7h0M185.8 56.7h0M8.9 96.4h0M209.2 82.5h0M28.5 60.9h0M2.4 62.8h0M175.1 49.7h0M45 42.2h0M86.9 71.7h0M158.3 97.7h0M61.9 48.1h0M190.1 67.9h0M74 59.7h0M84.9 58.8h0M14.6 98.9h0M129.8 24.1h0M56.1 63.1h0M193.2 71h0M177.1 67.4h0M19.2 54.6h0M41.6 17h0M14.2 62.9h0M125.3 120h0M107.1 98.8h0M156.6 101.1h0M44.4 111.5h0M121.7 71.5h0M58.8 81.3h0M135.6 97.1h0M178.4 62.6h0M117.4 57.5h0M139.1 44.5h0M127.5 69.1h0M150.2 61.8h0M19.1 58.2h0M121.8 68.4h0M169.9 107.3h0M118.6 40.2h0M78 96.4h0M14.8 84.5h0M49.4 59.8h0M201.3 101.3h0M36.8 47.6h0M147.2 71.3h0M101.2 81.3h0M180.5 87.3h0M132.3 56.4h0M36.9 112.2h0M111.4 95.7h0M121.6 66.3h0M193.5 116.4h0M208 151.1h0M173.6 109.1h0M74.5 30.8h0M49.5 99.1h0M80.3 52.8h0M150.6 95.8h0M177.1 67.7h0M109.6 94.1h0M207.7 135.5h0M170.9 27.5h0M170.3 100h0M53.7 91.9h0M164.9 73.2h0M149.2 39.8h0M161.5 40.5h0M194.4 86.7h0M82.1 114.7h0M70.6 62.9h0M203.2 98.2h0M163.5 103.7h0M103.2 25.5h0M160.9 62.2h0M56.6 17.1h0M103.4 46.3h0M108.9 47.6h0M46.9 95.2h0M101.6 33.4h0M182.8 111.7h0M13.5 45.6h0M19.9 44.5h0M97.7 25.3h0M111 34.2h0M56.9 52h0M97.3 38.5h0M124.4 72.4h0M.6 46.2h0M207.8 146.4h0M1.2 105.3h0M86.1 55.4h0M149 91.4h0"/>
</g>
</g>
<path stroke="#1c1c1c" stroke-width="1.3" fill="none" d="M146.51 1071.6V1227.3M167.11 1071.6V1227.3M183.39 1071.6V1227.3M198.1 1071.6V1227.3M214.38 1071.6V1227.3M228.02 1071.6V1227.3M241.36 1071.6V1227.3M246.16 1071.6V1227.3M258.62 1071.6V1227.3M270 1071.6V1227.3M276.57 1071.6V1227.3M282.85 1071.6V1227.3M287.8 1071.6V1227.3M298.05 1071.6V1227.3M306.38 1071.6V1227.3M307.56 1071.6V1227.3M313.94 1071.6V1227.3M318.79 1071.6V1227.3M323.7 1071.6V1227.3M330.22 1071.6V1227.3M333.55 1071.6V1227.3"/>
<path stroke="#0a0a0a" stroke-width="1" d="M131.8 1149.1H341.4"/>
<path stroke="#ef8a10" stroke-width="2.2" fill="none" d="M131.8 1147H146.3M146.3 1142.9H157.1M156.3 1151.2H167.4M167.4 1152H172.9M172.9 1141.8H183.7M183.7 1147H197.6M197.6 1154.3H211.2M209.5 1143.9H214.5M214.5 1142.9H219.5M217.9 1152H226.2M226.2 1142.4H237.8M236.2 1152.7H242M238.6 1138.7H242M236 1152.5H241.5M236.8 1138.7H241M241.5 1155.3H246.3M246.3 1163.6H252.6M250.1 1146H252.6M252.6 1156.4H258.5M257.6 1154.8H263.5M261 1147H269.8M269.8 1142.4H276.4M268.4 1156.4H272.6M276.4 1127.8H281.8M277.6 1114.3H280.9M277.9 1092H280.6M276.8 1144.4H282.6M282.6 1150.7H287.6M284.3 1153.8H287.6M287.6 1148.1H290.9M290.9 1150.7H297.6M298.4 1161.3H304.2M302.6 1146.2H306.7M307.2 1150.9H313.9M311.7 1141.3H315M313.9 1161.3H318.7M318.7 1154.3H323.7M323.7 1137.2H330M323.7 1149.6H330M330 1152.2H333.3M333.8 1200H341"/>
<path stroke="#f0922a" stroke-width="1.7" opacity=".9" fill="none" d="M261.4 1133h2.4M290.5 1133h2.4M294.7 1130.4h2.4"/>
<path stroke="#f0b040" stroke-width="1.4" stroke-dasharray="1.6 1" opacity=".75" fill="none" d="M173.8 1136.6H177.9M200.4 1124.7H209.5"/>
<rect x="131.5" y="1071.5" width="210" height="156" fill="none" stroke="#333" stroke-width=".8"/>
<g font-family="'DejaVu Sans','Liberation Sans',sans-serif" font-size="4.85" fill="#000">
<text x="127.4" y="1072.95" text-anchor="end">1.5</text>
<text x="127.4" y="1098.9" text-anchor="end">1.0</text>
<text x="127.4" y="1124.85" text-anchor="end">0.5</text>
<text x="127.4" y="1150.8" text-anchor="end">0.0</text>
<text x="127.4" y="1176.75" text-anchor="end">−0.5</text>
<text x="127.4" y="1202.7" text-anchor="end">−1.0</text>
<text x="127.4" y="1228.65" text-anchor="end">−1.5</text>
<path stroke="#222" stroke-width=".6" fill="none" d="M130 1071.25H131.8M130 1097.2H131.8M130 1123.15H131.8M130 1149.1H131.8M130 1175.05H131.8M130 1201H131.8M130 1226.95H131.8M139.16 1227.3V1229.1M156.81 1227.3V1229.1M175.25 1227.3V1229.1M190.75 1227.3V1229.1M206.24 1227.3V1229.1M221.2 1227.3V1229.1M234.69 1227.3V1229.1M243.76 1227.3V1229.1M252.39 1227.3V1229.1M264.31 1227.3V1229.1M273.28 1227.3V1229.1M279.71 1227.3V1229.1M285.32 1227.3V1229.1M292.92 1227.3V1229.1M302.22 1227.3V1229.1M306.97 1227.3V1229.1M310.75 1227.3V1229.1M316.36 1227.3V1229.1M321.24 1227.3V1229.1M326.96 1227.3V1229.1M331.89 1227.3V1229.1M337.48 1227.3V1229.1"/>
<text transform="translate(138.26 1236.11) rotate(-60)" text-anchor="middle" y="1.6">chr1</text>
<text transform="translate(155.91 1236.11) rotate(-60)" text-anchor="middle" y="1.6">chr2</text>
<text transform="translate(174.35 1236.11) rotate(-60)" text-anchor="middle" y="1.6">chr3</text>
<text transform="translate(189.85 1236.11) rotate(-60)" text-anchor="middle" y="1.6">chr4</text>
<text transform="translate(205.34 1236.11) rotate(-60)" text-anchor="middle" y="1.6">chr5</text>
<text transform="translate(220.3 1236.11) rotate(-60)" text-anchor="middle" y="1.6">chr6</text>
<text transform="translate(233.79 1236.11) rotate(-60)" text-anchor="middle" y="1.6">chr7</text>
<text transform="translate(242.86 1236.11) rotate(-60)" text-anchor="middle" y="1.6">chr8</text>
<text transform="translate(251.49 1236.11) rotate(-60)" text-anchor="middle" y="1.6">chr9</text>
<text transform="translate(263.41 1237.3) rotate(-60)" text-anchor="middle" y="1.6">chr10</text>
<text transform="translate(272.38 1237.3) rotate(-60)" text-anchor="middle" y="1.6">chr11</text>
<text transform="translate(278.81 1237.3) rotate(-60)" text-anchor="middle" y="1.6">chr12</text>
<text transform="translate(284.42 1237.3) rotate(-60)" text-anchor="middle" y="1.6">chr13</text>
<text transform="translate(292.02 1237.3) rotate(-60)" text-anchor="middle" y="1.6">chr14</text>
<text transform="translate(301.32 1237.3) rotate(-60)" text-anchor="middle" y="1.6">chr15</text>
<text transform="translate(306.07 1237.3) rotate(-60)" text-anchor="middle" y="1.6">chr16</text>
<text transform="translate(309.85 1237.3) rotate(-60)" text-anchor="middle" y="1.6">chr17</text>
<text transform="translate(315.46 1237.3) rotate(-60)" text-anchor="middle" y="1.6">chr18</text>
<text transform="translate(320.34 1237.3) rotate(-60)" text-anchor="middle" y="1.6">chr19</text>
<text transform="translate(326.06 1237.3) rotate(-60)" text-anchor="middle" y="1.6">chr20</text>
<text transform="translate(330.99 1237.3) rotate(-60)" text-anchor="middle" y="1.6">chr22</text>
<text transform="translate(336.58 1236.11) rotate(-60)" text-anchor="middle" y="1.6">chrX</text>
<text transform="translate(110.8 1150.05) rotate(-90)" text-anchor="middle" font-size="5.9">Copy ratio (log2)</text>
</g>
<path stroke="#222" stroke-width=".9" d="M221.9 1069.1h3"/>
<text x="132.4" y="1060.4" font-size="17.4" fill="#111">UCP</text>
<text transform="translate(93.3 1165.0) rotate(-90)" font-size="16.75" fill="#111">M#301</text>
</g>
<clipPath id="c8"><rect x="407.1" y="1070.6" width="209.5" height="155.8"/></clipPath>
<g>
<g clip-path="url(#c8)">
<rect x="407.2" y="1125.4" width="14.5" height="45.6" fill="url(#g)"/>
<rect x="407.2" y="1137.8" width="14.5" height="20.7" fill="url(#n)"/>
<rect x="421.6" y="1125.4" width="20.8" height="45.6" fill="url(#g)"/>
<rect x="421.6" y="1137.8" width="20.8" height="20.7" fill="url(#n)"/>
<rect x="442.4" y="1125.4" width="6.7" height="45.6" fill="url(#g)"/>
<rect x="442.4" y="1137.8" width="6.7" height="20.7" fill="url(#n)"/>
<rect x="448.3" y="1117.1" width="5" height="45.6" fill="url(#g)" opacity=".44"/>
<rect x="449.9" y="1125.4" width="8.8" height="45.6" fill="url(#g)"/>
<rect x="449.9" y="1137.8" width="8.8" height="20.7" fill="url(#n)"/>
<rect x="458.7" y="1125.4" width="14" height="45.6" fill="url(#g)"/>
<rect x="458.7" y="1137.8" width="14" height="20.7" fill="url(#n)"/>
<rect x="472.7" y="1125.4" width="5.5" height="45.6" fill="url(#g)"/>
<rect x="472.7" y="1137.8" width="5.5" height="20.7" fill="url(#n)"/>
<rect x="475.7" y="1111.9" width="3.3" height="45.6" fill="url(#g)" opacity=".22"/>
<rect x="478.2" y="1125.4" width="8.3" height="45.6" fill="url(#g)"/>
<rect x="478.2" y="1137.8" width="8.3" height="20.7" fill="url(#n)"/>
<rect x="486.5" y="1125.4" width="2.8" height="45.6" fill="url(#g)"/>
<rect x="486.5" y="1137.8" width="2.8" height="20.7" fill="url(#n)"/>
<rect x="489.4" y="1125.4" width="13.8" height="45.6" fill="url(#g)"/>
<rect x="489.4" y="1137.8" width="13.8" height="20.7" fill="url(#n)"/>
<rect x="503.2" y="1125.4" width="10.8" height="45.6" fill="url(#g)"/>
<rect x="503.2" y="1137.8" width="10.8" height="20.7" fill="url(#n)"/>
<rect x="514" y="1125.4" width=".7" height="45.6" fill="url(#g)"/>
<rect x="514" y="1137.8" width=".7" height="20.7" fill="url(#n)"/>
<rect x="514.7" y="1125.4" width="2" height="45.6" fill="url(#g)"/>
<rect x="514.7" y="1137.8" width="2" height="20.7" fill="url(#n)"/>
<rect x="516.7" y="1125.4" width="4.7" height="45.6" fill="url(#g)"/>
<rect x="516.7" y="1137.8" width="4.7" height="20.7" fill="url(#n)"/>
<rect x="521.3" y="1133.2" width="3.3" height="45.6" fill="url(#g)"/>
<rect x="521.3" y="1145.6" width="3.3" height="20.7" fill="url(#n)"/>
<rect x="524.6" y="1125.4" width="5.8" height="45.6" fill="url(#g)"/>
<rect x="524.6" y="1137.8" width="5.8" height="20.7" fill="url(#n)"/>
<rect x="530.5" y="1130.6" width="8.3" height="45.6" fill="url(#g)"/>
<rect x="530.5" y="1143" width="8.3" height="20.7" fill="url(#n)"/>
<rect x="538.8" y="1125.4" width="6.2" height="45.6" fill="url(#g)"/>
<rect x="538.8" y="1137.8" width="6.2" height="20.7" fill="url(#n)"/>
<rect x="543.8" y="1131.1" width="5.8" height="45.6" fill="url(#g)" opacity=".44"/>
<rect x="544.9" y="1119.7" width="6.7" height="45.6" fill="url(#g)"/>
<rect x="544.9" y="1132.1" width="6.7" height="20.7" fill="url(#n)"/>
<rect x="548.8" y="1125.4" width="2.8" height="45.6" fill="url(#g)" opacity=".55"/>
<rect x="548.8" y="1137.8" width="2.8" height="20.7" fill="url(#n)"/>
<rect x="551.6" y="1108.8" width="6.3" height="45.6" fill="url(#g)" opacity=".55"/>
<rect x="551.6" y="1121.2" width="6.3" height="20.7" fill="url(#n)"/>
<rect x="552.9" y="1090.6" width="4.2" height="45.6" fill="url(#g)" opacity=".22"/>
<rect x="551.6" y="1125.4" width="6.3" height="45.6" fill="url(#g)"/>
<rect x="551.6" y="1137.8" width="6.3" height="20.7" fill="url(#n)"/>
<rect x="557.9" y="1125.4" width="5" height="45.6" fill="url(#g)"/>
<rect x="557.9" y="1137.8" width="5" height="20.7" fill="url(#n)"/>
<rect x="562.9" y="1125.4" width="10" height="45.6" fill="url(#g)"/>
<rect x="562.9" y="1137.8" width="10" height="20.7" fill="url(#n)"/>
<rect x="573.7" y="1133.2" width="5.8" height="45.6" fill="url(#g)"/>
<rect x="573.7" y="1145.6" width="5.8" height="20.7" fill="url(#n)"/>
<rect x="579.5" y="1125.4" width="2.5" height="45.6" fill="url(#g)"/>
<rect x="579.5" y="1137.8" width="2.5" height="20.7" fill="url(#n)"/>
<rect x="582.5" y="1125.4" width="6.5" height="45.6" fill="url(#g)"/>
<rect x="582.5" y="1137.8" width="6.5" height="20.7" fill="url(#n)"/>
<rect x="589" y="1132.1" width="5" height="45.6" fill="url(#g)"/>
<rect x="589" y="1144.6" width="5" height="20.7" fill="url(#n)"/>
<rect x="589.5" y="1121.2" width="2.5" height="45.6" fill="url(#g)" opacity=".33"/>
<rect x="594" y="1125.4" width="4.7" height="45.6" fill="url(#g)"/>
<rect x="594" y="1137.8" width="4.7" height="20.7" fill="url(#n)"/>
<rect x="598.7" y="1119.2" width="6.3" height="45.6" fill="url(#g)" opacity=".66"/>
<rect x="598.7" y="1131.6" width="6.3" height="20.7" fill="url(#n)"/>
<rect x="598.7" y="1125.4" width="6.3" height="45.6" fill="url(#g)" opacity=".55"/>
<rect x="598.7" y="1137.8" width="6.3" height="20.7" fill="url(#n)"/>
<rect x="605" y="1125.4" width="3.3" height="45.6" fill="url(#g)"/>
<rect x="605" y="1137.8" width="3.3" height="20.7" fill="url(#n)"/>
<rect x="609" y="1176.7" width="7.2" height="45.6" fill="url(#g)"/>
<rect x="609" y="1189.2" width="7.2" height="20.7" fill="url(#n)"/>
<g transform="translate(407.1 1070.6)" fill="none" stroke-linecap="round">
<path stroke="#333" stroke-opacity=".55" stroke-width="1.2" d="M104 72.8h0M90.3 74.2h0M55.3 85.4h0M65.8 73.3h0M116.2 85h0M31 83.5h0M189.3 79.9h0M133.4 71h0M170.3 87.8h0M202.9 118.1h0M135.5 71.7h0M127.5 88h0M147 43.3h0M5.4 79.5h0M113.7 84.2h0M107.9 80.1h0M168.3 93.2h0M69.4 80.5h0M208.2 130.4h0M128.3 76.8h0M168.4 83.9h0M25.2 92.3h0M102.5 74.9h0M159 87.8h0M85.1 72.9h0M128.8 87.4h0M82 84.2h0M164.8 73.2h0M14.1 79.6h0M94 70.9h0M132.4 82.5h0M37.6 86.6h0M179 75h0M88.3 74h0M26.9 76.8h0M179.3 93.9h0M15 86.9h0M82.3 68.3h0M151.9 76.9h0M194.1 80.8h0M105 75.3h0M20.3 72.2h0M104.4 73.6h0M145.8 80.1h0M44.9 76.9h0M64.4 62.1h0M33.7 81.6h0M177.8 83.3h0M33.7 77.9h0M74.2 90.5h0M80.4 82.7h0M195.5 89.5h0M70.4 82.1h0M47.9 82.3h0M93.8 68.8h0M166.5 79h0M14.7 68.7h0M58.8 70h0M160.5 87.2h0M85.5 77.4h0M65.1 80.6h0M186.5 81.2h0M95.2 75.6h0M141.3 60.5h0M94.9 69.1h0M159.2 84.5h0M1.7 73.9h0M123.1 82h0M35.2 75.5h0M176.6 86.7h0M32.2 80.5h0M126 85.3h0M20.5 76.6h0M62 63.5h0M89.3 83.7h0M42.3 66.3h0M17.8 73.1h0M171.5 89h0M93.2 69.2h0M153.9 75h0M123.6 95.6h0M124.5 91.6h0M187.5 89.9h0M160 90.6h0M50.8 78h0M58.3 73.4h0M150.2 42.6h0M65.6 86h0M153.3 83h0M25.7 90.6h0M27.9 73.1h0M92.9 83.9h0M16.8 73.1h0M78.8 81.6h0M115.5 87h0M.6 78h0M121.6 75.7h0M179.8 78.5h0M141.1 80.7h0M15.4 72h0M21.4 78.3h0M180.6 86.4h0M168.4 83.1h0M149.3 70.9h0M13.5 71h0M60.9 87.2h0M136 75.5h0M141 60.4h0M36.3 74.5h0M80.2 68.6h0M157 67.6h0M22.7 86.9h0M95.2 85.9h0M166.7 80.9h0M172.5 88.8h0M61.9 72.8h0M130.2 84h0M164.4 73.1h0M163.9 60.4h0M169.9 86.4h0M160.4 72.9h0M172.5 80.3h0M42.3 81.1h0M60.8 73.7h0M51.1 68.7h0M127.9 99.6h0M137.8 84.3h0M106.8 74.3h0M137 68.5h0M180.1 80.8h0M98.2 72.1h0M181.8 87.3h0M185.9 81.6h0M92.8 80.4h0M123.6 79.2h0M133.3 89.8h0M1.4 63h0M29.9 77.1h0M165.1 78.5h0M105.9 84.2h0M129.1 83.6h0M151.6 75.9h0M57.8 68.2h0M5.9 71.7h0M133.9 73.4h0M196.9 77.5h0M162.1 77.2h0M134 83.6h0M159.2 85.2h0M166.3 83.2h0M126.3 85.5h0M9.5 76.3h0M199.7 77.4h0M64.3 74.9h0M167.8 84.5h0M122.3 82.3h0M178 81.2h0M16.3 83.2h0M62.1 72.7h0M173.4 72.7h0M135.7 71.3h0M126.9 77.6h0M196.2 69.5h0M26.3 78.9h0M203 130.6h0M5.4 79.7h0M180.7 72.7h0M8.4 79.2h0M65.5 81.7h0M24.6 75.5h0M50.4 80.6h0M77.6 78.8h0M163.6 69.9h0M125.7 79.1h0M35.4 82.4h0M45.5 72h0M9.1 87.1h0M72.1 77.2h0M122 72.2h0M115.6 90.3h0M94.3 71.3h0M162.5 76.6h0M165.1 87.2h0M67.2 86.8h0M134.9 70.9h0M112.9 70.6h0M89.4 79.5h0M98.1 73.9h0M23.3 84.1h0M79.9 85.2h0M179.6 86.2h0M173.1 83.5h0M21.4 79h0M72.2 76.8h0M179 86.1h0M203.2 131.4h0M6.4 83.4h0M142.4 57.2h0M94.4 75h0M138.8 90.3h0M157.1 85.7h0M160.4 73.2h0M21.5 62.6h0M172 79.7h0M198 86h0M65.5 73.9h0M90.7 66.6h0M96.4 69.8h0M132.7 80.4h0M82 74h0M90.6 82.3h0M127.2 85.1h0M54.6 81.1h0M190.8 80.6h0M167.7 88.7h0M190.9 92.2h0M171 95h0M77 79.6h0M159.2 69.8h0M37.1 89.7h0M204.8 121.4h0M182.8 77h0M181.4 75.9h0M37.8 76.4h0M143.9 75.5h0M66.3 87.1h0M154.5 79.3h0M124.4 89.1h0M99.2 81h0M175.1 73.1h0M114 76.9h0M63.1 76.8h0M178.8 78.4h0M23.2 66.2h0M5.4 62.6h0M166.5 88.1h0M94.1 74.1h0M126.5 91.7h0M124.5 75.4h0M2.9 70.8h0M17.1 69.3h0M197.7 85h0M111.2 90.4h0M5.9 78.4h0M178.3 76.6h0M33.3 68.1h0M171.1 75.6h0M150.2 65.7h0M113 82.5h0M201 78.3h0M93.6 79.2h0M37.9 84h0M123.7 68.3h0M176.6 70.7h0M4.6 80.2h0M178.3 76.4h0M147.2 74.5h0M35.2 77.1h0M29.9 73.1h0M96.3 74h0M43 70.3h0M56.2 72.5h0M92.7 68.7h0M170 81.4h0M59.3 80.9h0M113.4 79.8h0M160.9 79.9h0M159 63.2h0M.4 84.6h0M150.8 67.8h0M81 73.5h0M6.7 74.6h0M160.2 60.5h0M127.5 83.5h0M136.9 74.5h0M162.2 78.8h0M186.2 80.5h0M35.5 86.1h0M116.7 79.6h0M113.7 89.2h0M30.4 72.4h0M164.4 87.5h0M150.2 71.9h0M45.1 71.9h0M106.7 73.8h0M47 70.4h0M208.9 123.4h0M160.4 68h0M160.4 81.3h0M36.4 90.4h0M112.4 82.5h0M199.8 83h0M160.9 79.1h0M48.6 70.9h0M111.4 70.8h0M120.3 83h0M132.3 72.6h0M187.5 96.4h0M62.8 82h0M22.2 73.4h0M94.6 80.1h0M97.9 83.5h0M80.5 77.1h0M100.7 77.5h0M45.4 67.9h0M102.5 77.2h0M38.3 78.7h0M9.9 77.9h0M11.5 71.2h0M104.2 70.9h0M140.9 81.1h0M113.3 72.2h0M29.1 76.9h0M25 82.2h0M27.2 82.4h0M173 83.6h0M89.7 80.8h0M19.5 72.2h0M3 84.8h0M165.3 81.7h0M16.8 77.6h0M184.4 85.8h0M43.6 80.7h0M168.5 83.3h0M17.6 72.7h0M70.3 83h0M27.9 75.2h0M197.9 84.3h0M114.4 81.5h0M198.5 82.5h0M173.1 84.5h0M169.4 79.7h0M28.7 74.8h0M55.1 81.9h0M95.3 81h0M168.4 89.5h0M48.8 79h0M205.6 123.7h0M101.9 80.9h0M59.1 83.3h0M64.7 71.7h0M193.2 69.5h0M33.5 72.6h0M130.2 81.5h0M65.5 80.7h0M93.4 76.1h0M114.3 74.1h0M14.5 69.9h0M194.4 89.6h0M91 81.2h0M56.4 82h0M33.6 62h0M200.7 86.5h0M48.8 82h0M21.7 77.2h0M132.2 79.5h0M206.3 127h0M73.8 89.5h0M142.4 75.2h0M159.3 77.2h0M49.2 72.2h0M157.6 76.6h0M111.8 83.9h0M99 78.6h0M113.1 67.3h0M36.3 75.9h0M125 80.7h0M43.1 73.3h0M177.7 85.5h0M60.4 74.3h0M182.2 89h0M86.3 79h0M149.1 76.9h0M94.4 79h0M3.3 66h0M208.9 122.4h0M151.8 82.5h0M157.2 70.8h0M113.1 71.4h0M30.5 88.3h0M112.8 76.8h0M21.2 78.4h0M95.9 81.5h0M173.9 77.9h0M90.2 78.5h0M167.8 80.9h0M166 93.8h0M188 83.8h0M8.4 78h0M155.1 81.4h0M40.7 85h0M10.9 76.8h0M3 72.7h0M7.6 83.6h0M64.8 77h0M71.5 73.7h0M160.4 84.9h0M110.8 79.1h0M139.8 78.2h0M164.6 79.3h0M125.7 82.4h0M48.2 82.4h0M135.1 77.5h0M135.5 74.2h0M76.9 84.6h0M72.2 76.4h0M132.1 76.9h0M70.3 72.6h0M44.8 71h0M99.9 71.6h0M3.4 61.4h0M130.2 74.4h0M193 70.8h0M140.9 69.7h0M195.4 75.2h0M103.9 74.7h0M196.6 75.8h0M121.4 77.4h0M192.5 80.5h0M154.7 75.8h0M19.9 68.1h0M140.3 75.2h0M157.8 82.4h0M129.5 78.7h0M75.5 74.1h0M112.8 84.6h0M90.8 83.6h0M137.1 87.4h0M81.2 79.2h0M208 125.5h0M147.7 75.7h0M51.5 77.9h0M148.1 69.5h0M95.2 77.8h0M125.5 79.3h0M163 87.5h0M138 78.7h0M45.4 70.5h0M146.3 65.5h0M134.8 78.1h0M107 80.8h0M43 59.8h0M185 82.3h0M196.5 86.1h0M202 129.5h0M37.6 80h0M5.8 69.1h0M110.4 83.6h0M186.8 83.4h0M138.1 76.8h0M107.7 77.4h0M186 82.3h0M187.9 83.1h0M115.5 78h0M189.5 81.1h0M33.8 80.7h0M173.9 69.7h0M24 79.5h0M28.6 76.4h0M115.9 78.2h0M127.9 92.2h0M1.7 71.3h0M87.9 69.5h0M138.6 70.2h0M154.2 79.1h0M64.8 78.7h0M55.1 84.2h0M116.7 87.6h0M148.2 77.8h0M15.2 77.2h0M5.4 67.1h0M159.5 78.2h0M170.7 88.5h0M19.1 75.6h0M130.7 85.6h0M169.8 83h0M171 87.6h0M31.3 79.3h0M164.6 89.5h0M161.3 75.5h0M172.1 89.2h0M33.2 76.4h0M40.8 80.5h0M96.3 77.4h0M77.9 84.1h0M3.7 71.5h0M26.8 72.9h0M133.9 68.1h0M107.6 68.4h0M184.3 67.1h0M17.1 78.9h0M155 80.4h0M185.7 79.6h0M207.4 129.3h0M6.7 71.9h0M70.3 60.6h0M99.1 75.5h0M146.4 59.5h0M47.3 62.3h0M113.2 77.6h0M3.5 70.8h0M39.3 79.5h0M158.9 79.1h0M155.3 66.6h0M32.2 80.9h0M13.5 79.5h0M150.6 89h0M67.1 82.3h0M205.2 142h0M127.8 90.1h0M78.2 76.4h0M6.9 74.1h0M11.2 89.2h0M120.5 88.2h0M6.2 81.1h0M183.5 78h0M112.9 70.1h0M176.1 75.3h0M123.7 88.1h0M132.7 82.8h0M131.1 82.5h0M170 73.8h0M149.8 66.8h0M35.1 63.4h0M118.1 77.7h0M124.7 91.4h0M119.5 71.7h0M174.3 72.3h0M72.9 80.3h0M20.7 75.7h0M157.1 80.4h0M18.6 73.6h0M94.4 68.5h0M133.1 85.8h0M139.5 74.5h0M123.2 78.4h0M48.4 82h0M45 71.1h0M32.2 78.8h0M205.5 130h0M195.4 74h0M163.8 87.4h0M181.2 74.6h0M180 86h0M107.5 79.9h0M161.1 85h0M51.7 70.4h0M179.7 84.7h0M125.7 74.4h0M33.3 74.3h0M73.6 74.5h0M163 73h0M10.2 78.5h0M144.6 71.1h0M193.9 67.7h0M25.4 73.7h0M123.7 81.1h0M87.6 70.2h0M106.1 79.2h0M82.2 67.7h0M118.2 73.6h0M27.5 82h0M113.3 82h0M194.1 79.4h0M126.4 78.4h0M88.6 82.5h0M193.9 72.6h0M156.8 89h0M77.9 79.3h0M9.7 85.9h0M178.2 70.8h0M154 79.4h0M67.4 75.4h0M13 65.2h0M81.6 65.9h0M33.5 72.9h0M106.4 71.1h0M64.6 74.5h0M165.9 72.6h0M177 78.4h0M180.4 72.8h0M24.3 71.6h0M121 86.6h0M82 74.1h0M156.9 84.3h0M11.6 76h0M24.1 78.7h0M192.9 70.3h0M14.7 83.1h0M91.3 73.6h0M134.7 70.8h0M69.2 63h0M124.4 87.9h0M135.3 78.3h0M65.6 79.8h0M201.4 70.4h0M131.6 73.4h0M113.5 79.6h0M6.1 85.3h0M124.1 86.3h0M151.1 78.6h0M91.8 71h0M88.2 71.8h0M115 91.3h0M103.9 77.1h0M124 80.8h0M185.5 76.7h0M165.4 75.5h0M58.9 71.4h0M153.2 77.8h0M144.4 84.7h0M178.7 80.5h0M174.3 82.8h0M113 74.5h0M141.2 72.9h0M54.1 93h0M1.6 61.8h0M63.9 75.7h0M95.5 69.6h0M198.2 79.7h0M157.6 85h0M114.8 84.1h0M18.8 83.1h0M190.1 83.3h0M5.2 70.1h0M139.1 93.1h0M142.4 77.7h0M178.6 84.1h0M55 82.7h0M64.4 71.2h0M50.6 71.8h0M142.2 73.2h0M167.4 80.3h0M180.8 75.7h0M125.3 88.7h0M81.9 69.8h0M135.7 80.1h0M121.8 67.4h0M182.2 83.4h0M172.8 88.7h0M121.3 78.5h0M26.9 73.4h0M196.7 75.9h0M204.4 132.9h0M150 43.6h0M37.3 70.4h0M199.1 73.3h0M146.7 53.7h0M50.7 67.2h0M62.7 74.2h0M188.7 79.8h0M191.6 82.4h0M51.8 78h0M37.9 76h0M115.4 89.8h0M9.6 78.5h0M160.8 76.6h0M200.2 84.9h0M197 78h0M32.1 74.8h0M37 75h0M155.1 75.4h0M84.3 73h0M194.8 78.8h0M111.5 80.9h0M54 76.1h0M43.5 69h0M7.7 71.2h0M24 76.5h0M81.6 80.9h0M38.1 89.3h0M47.8 77.7h0M42.1 78.7h0M112.2 80.8h0M112.9 83.1h0M166.3 78.9h0M147.3 68.6h0M54.3 77.6h0M207.6 129.8h0M116 92.1h0M102.4 75h0M117.5 79h0M190.3 81.1h0M115.6 89.5h0M56.6 80.3h0M182.9 85h0M161.8 86.9h0M44.1 77h0M63.9 85h0M14.1 83.9h0M22.7 69.6h0M40.8 73.7h0M131.4 62.7h0M16.3 71.2h0M198.2 72.5h0M179.3 87.5h0M151.4 88.8h0M128.6 82.8h0M97.4 76h0M28.6 81.1h0M199.5 89.9h0M77.4 85.9h0M146.8 75.4h0M100.9 69.5h0M47.7 70.3h0M53.8 68.4h0M7.3 74.9h0M12.1 87h0M113.1 84.9h0M132.6 73h0M74.5 73.9h0M143.1 74.5h0M102.3 74.4h0M187.4 80.8h0M152.4 79h0M169.4 89.4h0M137.2 79.5h0M37.4 77h0M65.6 77.1h0M132 70.8h0M111.6 80.9h0M103.5 70.9h0M54.2 83.4h0M123.9 85.9h0M179 81.8h0M98.3 73.2h0M86.5 82.8h0M143.9 75.8h0M16.9 68.8h0M94.7 73h0M21.4 75.8h0M203.4 134.7h0M80 73.2h0M140.7 84.2h0M53.3 78.5h0M5.2 80.2h0M197 73.2h0M16.5 77.6h0M122.6 85.1h0M114.4 80.3h0M19.1 77.9h0M184.5 99.6h0M194 72.7h0M195.7 73.2h0M160.7 75.2h0M206.9 125.8h0M193.9 74.2h0M176.4 76.7h0M143.1 63.6h0M157.7 66.2h0M108.2 97.4h0M79.4 74h0M135.4 80.5h0M33.5 82.7h0M78.8 68.5h0M91.9 70.7h0M72.5 68.7h0M101.5 84.3h0M111.6 85.2h0M159.5 78.2h0M120.9 66.1h0M104.9 70.1h0M157.7 77.6h0M34.6 74.6h0M77.8 89.4h0M10.3 64.2h0M4.6 74.4h0M83.1 79h0M110.9 79.4h0M147 71.6h0M63.2 80.8h0M125.1 89.3h0M203.2 126.8h0M192.5 70.2h0M206 123.9h0M34.6 80.6h0M80.8 69.7h0M119.2 66.4h0M190.5 88.3h0M206.6 129.2h0M36.8 79.3h0M143.5 79h0M53.7 83.4h0M101.1 77h0M204.3 127.3h0M32.7 82.3h0M195.7 68.3h0M118.7 69.5h0M172.4 84.5h0M89.1 78.4h0M194.5 80.7h0M31.4 79.7h0M77.5 74.6h0M160.8 83.3h0M201.6 80.3h0M137.5 81.4h0M201.5 88.7h0M174.9 87.1h0M193.6 72h0M39.6 81.2h0M203 124.7h0M47.1 74.8h0M121.1 70.4h0M83.4 77.4h0M157.1 88.2h0M142.5 76.1h0M87.8 78.4h0M126.9 74.9h0M8.1 78.4h0M168.3 77.7h0M174.8 84.3h0M90.2 77.8h0M190.8 90.2h0M35 72.1h0M41 79.9h0M144.6 78.4h0M83.7 77.3h0M193.3 70.7h0M143.3 70.4h0M46.2 75.6h0M155.6 77.3h0M22.8 75.9h0M68.2 81.1h0M74.1 74.2h0M171 75.6h0M129.6 77.6h0M202 119.6h0M70.4 78.5h0M14.8 68.4h0M48.7 72.6h0M208.1 122.6h0M85.7 71.5h0M24.4 71.6h0M62.4 75.7h0M129.8 75.9h0M207.2 131.6h0M206.9 122.7h0M98.7 74.4h0M24 79h0M206.6 127.5h0M86.1 77.9h0M79.9 71.8h0M42.9 65.7h0M112.6 80.7h0M6.5 75h0M100.5 70.6h0M45.1 77.6h0M160.5 84.9h0M185.8 85.6h0M76.9 74.3h0M159.9 77.9h0M152.3 87.2h0M196.3 69.4h0M195.6 68.7h0M89.5 68.3h0M170.8 96.6h0M160.6 86.6h0M73.7 79.9h0M183 97.6h0M189.9 81.8h0M96.4 75.5h0M78.8 73.8h0M21 71.2h0M83 77.9h0M29.7 78.9h0M165.1 83.2h0M26.3 75.9h0M59.5 78.9h0M81.7 72.9h0M82.9 73h0M48.4 74.3h0M119.7 75.9h0M43.9 74.3h0M151.5 77.3h0M82.3 81.2h0M148.3 81.8h0M96.7 73.1h0M173.6 84.6h0M46.5 78h0M120.8 69.7h0M130.7 82.3h0M49.6 77.1h0M11.4 72.3h0M170.3 80h0M192.9 73.4h0M188.3 78.5h0M50.6 63.2h0M132.6 78.5h0M81.8 77h0M184.9 73.1h0M99.5 79h0M54.7 84h0M156.2 85.9h0M136.3 83.7h0M96.4 74h0M134.6 77.9h0M133.5 75.3h0M.5 71.2h0M205.8 132.3h0M85.3 72.8h0M196.3 72.3h0M140.5 91h0M88.9 85.3h0M194.1 66.2h0M79.7 82.8h0M35.7 83.6h0M144.4 77.2h0M103.1 79.1h0M148.5 48.5h0M9.9 88h0M148 79.1h0M141.2 68.1h0M135.4 74.3h0M4.8 81.8h0M185.5 85.4h0M99.9 83.1h0M84.2 68.2h0M61.4 75h0M60.1 76.2h0M180.7 82.7h0M179.4 96.1h0M144 83.3h0M60.3 74.8h0M183.9 76.9h0M158 69.6h0M4.9 79.3h0M32.9 73.5h0M53.7 66.8h0M50.8 75.7h0M47.8 83.1h0M20 62.9h0M102.8 77.4h0M143.3 57.1h0M104 66h0M161.5 77.1h0M143.2 78.3h0M87 71.5h0M177.2 75.8h0M193.6 81.8h0M59.8 82.1h0M38.2 85.9h0M34.8 74h0M18 80.4h0M203.9 125.7h0M208.8 129h0M58.6 72.7h0M66.1 72.3h0M142.4 80.8h0M146.6 78h0M25.1 67.5h0M110.3 85.4h0M25.7 73h0M122 73.9h0M115.3 82h0M78.3 72.6h0M56 77.2h0M84.8 73.1h0M112.3 86.2h0M28.5 69h0M104.1 74.9h0M201.8 135.3h0M77.2 74.5h0M170.6 85.9h0M182.5 86.5h0M175.3 77.2h0M78.5 86h0M93.4 80.2h0M154.9 93.5h0M53.4 73.7h0M206.9 140.5h0M131.1 76.1h0M180.8 73.6h0M77 79.1h0M170.6 82h0M11.8 76.2h0M179.1 86.1h0M71.3 81.4h0M208.2 130h0M166.7 93.3h0M28.4 69.9h0M195.8 77.1h0M134.7 75.7h0M50.6 72.5h0M9.9 74.8h0M23.1 76.2h0M157.1 88.8h0M7.2 73.2h0M189.1 77.8h0M7.7 69.7h0M141.1 76.5h0M184.2 81.1h0M189.8 77.2h0M53.3 80h0M198 73h0M162.9 88.7h0M102.1 84.6h0M85.1 72.3h0M83.2 75.2h0M110 78.8h0M82.9 59.7h0M70.8 86.2h0M147.5 74.5h0M74.2 80.2h0M4.2 76.2h0M177.1 75.2h0M66.5 82.6h0M45.5 78.1h0M125.5 78.3h0M21.8 84.3h0M192.3 72.8h0M133.6 79.1h0M149.9 70.8h0M.5 74.9h0M85.3 69.3h0M87.6 85.1h0M14.5 84.1h0M100 69.7h0M190.6 76.5h0M51.5 71.2h0M110.3 79.3h0M129.4 79h0M53.8 70.4h0M16.6 77.6h0M1 80.8h0M38.6 77h0M198.9 80.1h0M51.9 77.2h0M95.3 69.5h0M27.2 84.7h0M36.1 86.4h0M134.1 72.1h0M130.4 73.6h0M167.2 96.9h0M177.7 77.4h0M180.3 80.5h0M85.7 76.7h0M200.6 75.8h0M26.3 77.7h0M169.5 86.2h0M117.6 85h0M134 76.3h0M156.4 80.7h0M40.2 76.2h0M106.9 76.3h0M98.7 79.1h0M137.3 67.7h0M8.1 84.3h0M49 70.2h0M205.1 124.2h0M31.3 78.3h0M23.2 77.3h0M60.3 84.2h0M203.2 134.6h0M71.2 84.1h0M.5 76h0M40.4 88.9h0M43.4 67h0M189.2 70.3h0M88.6 71.1h0M42.5 70.7h0M58.2 75.7h0M29.2 74.3h0M205.2 132.1h0M183.5 79.6h0M166.4 73.7h0M145.5 74.1h0M151.6 76.9h0M179.1 93.6h0M176.3 83h0M1.1 71.5h0M68.4 76.3h0M28.7 89.7h0M2.1 83.4h0M121 70.3h0M31.5 76h0M68.4 78.8h0M61.8 71h0M140.4 68.6h0M69.9 63.1h0M125.3 78.9h0M7.1 71.7h0M61 60.9h0M130.2 67.7h0M145.2 62.4h0M59.5 82.5h0M183 86.8h0M195 82.8h0M32.9 81.9h0M84.5 70.1h0M171 78.8h0M201.1 76h0M27.7 70.8h0M160.8 80.4h0M154.7 83.3h0M132.7 78h0M200.5 77.5h0M132.3 71.2h0M36.4 76h0M8.2 83h0M96.8 77.8h0M74.2 84.7h0M58.4 74.5h0M103.4 82h0M15.1 75.5h0M146 48.7h0M169.4 87h0M154 76.8h0M187.5 80.4h0M10.5 81.8h0M56 74.4h0M72.7 74.5h0M62.5 66h0M78.3 76.4h0M16.3 76.3h0M102.6 74.9h0M34.9 73.5h0M141.8 68.9h0M72.7 76.6h0"/>
<path stroke="#4a4a4a" stroke-opacity=".52" stroke-width="1.05" d="M156.6 51.8h0M77 85.6h0M113.7 87.8h0M25.4 59.8h0M35.8 100.1h0M108.3 111.1h0M72.9 74.9h0M91.6 91.7h0M166.6 113.2h0M41.2 81.4h0M145.8 83.6h0M38.6 80.6h0M136.6 84.4h0M48.5 83.2h0M62.9 111.5h0M110.1 89.6h0M188.9 116.2h0M161.6 80h0M25 91.5h0M58.8 92.7h0M98.9 65.3h0M66.4 59.4h0M86.2 87.2h0M140.1 76.6h0M30.7 89.7h0M85.3 80h0M135.7 46.1h0M31.9 87.9h0M138.6 69h0M86.6 72h0M167.4 114.1h0M161 71.6h0M9.4 82h0M1.1 106.9h0M2.9 62.9h0M17.4 50.2h0M103.7 91.9h0M165.7 96.3h0M132.3 71.9h0M17.9 84.9h0M49.3 71.5h0M160.8 101.1h0M172.1 80.6h0M68.9 106.9h0M170.5 86.8h0M163.4 98.8h0M37.6 76.7h0M81.8 84.9h0M112.6 69h0M36.7 75.7h0M136.4 81.9h0M206.1 149h0M5.1 74.6h0M196.6 56.2h0M201 76.3h0M3.5 79h0M144.9 43.9h0M181 91.3h0M150.4 53.4h0M1.3 96.6h0M44.3 94.3h0M62.9 99.8h0M116.8 99.8h0M160.6 63.1h0M32.8 87.8h0M176.4 80.4h0M200.1 43.7h0M111.2 77.9h0M145.4 83.2h0M3 80.8h0M29.5 87.2h0M.8 69.1h0M199.9 68.5h0M45.9 95.6h0M133.8 60.5h0M179.1 77.5h0M112.1 101.6h0M14.5 65.2h0M46.6 100.6h0M99.3 76.3h0M16.4 67.6h0M1.4 97.7h0M167.5 99.2h0M177.4 72.5h0M6.7 85.9h0M95.1 89.6h0M161.1 104.7h0M83.3 71.2h0M135.7 62.9h0M110.7 88.2h0M165.7 108.8h0M74.8 80.1h0M169.7 101.1h0M180 75.1h0M124.3 55.9h0M76.5 68.3h0M187.8 74.2h0M99.2 60.6h0M76.6 90h0M1.2 90.3h0M145.9 73.7h0M115.7 85.8h0M145.3 46h0M122.4 101.5h0M41.5 83.2h0M47.9 46.7h0M145.8 80.7h0M67.1 98.1h0M12.7 78.3h0M45.6 79.8h0M59.3 77.1h0M110.3 106h0M152.2 76.3h0M98 91.8h0M121.2 73.3h0M1 74.1h0M197.9 65h0M105.1 81.8h0M202.9 126.3h0M158.9 64.5h0M80.4 57.4h0M163.4 78.8h0M27.9 78.8h0M146.6 84h0M22.8 79.5h0M198.9 94.2h0M29.6 78.1h0M125.3 92.5h0M22 74.5h0M140.1 71.2h0M98.6 89.8h0M74.1 68h0M116.8 105.8h0M61.8 114.2h0M151.1 63.8h0M50.3 72.6h0M89.1 67.3h0M172.3 62.2h0M199.1 87.7h0M38.8 81.3h0M57.2 106.4h0M120.2 82.9h0M24.1 84.7h0M85.8 68.9h0M167.6 74.1h0M175.9 108.5h0M202.4 98.8h0M168.5 79.1h0M65 70.3h0M70.1 81.5h0M94.1 78.4h0M119.8 63.3h0M39.8 74.5h0M42 66.7h0M157.3 93.2h0M39.9 64.6h0M150.2 58.3h0M1.2 63.3h0M53.2 55.6h0M87.9 84.1h0M133.6 73.6h0M168 90.3h0M35.3 58.3h0M10.5 93.5h0M3.7 71.5h0M204.1 127.2h0M51.4 68.5h0M69.6 102.9h0M165.4 90.2h0M169 98.5h0M77.2 85.5h0M52.7 123.4h0M120.8 88.5h0M116.6 64.1h0M183.6 61.3h0M46.7 76.5h0M34.5 94.9h0M125.3 76.3h0M168 86.5h0M85.8 86.4h0M106.1 107.3h0M13.9 74.1h0M151.4 83.9h0M33.4 72.2h0M63.3 90.6h0M108.7 87.8h0M70.1 67.5h0M181.7 119.5h0M178.2 68.8h0M111 88.1h0M176 98h0M123.3 84.6h0M171.3 72.3h0M64.3 87.9h0M191.8 83.4h0M43.2 69.4h0M83.3 83.8h0M26.4 89h0M46.3 89.2h0M11.6 65.4h0M144.6 65.6h0M121.3 105.9h0M38.3 62h0M123.9 89.3h0M28.9 80.1h0M177.5 84.7h0M72.1 67.3h0M149.5 82.6h0M8.7 111.4h0M169.4 69.3h0M169.6 95.9h0M29.9 84.6h0M200.8 101.8h0M75.9 95.4h0M206.5 122.4h0M160.5 62.7h0M43.3 90.7h0M43.1 72.9h0M24.2 87.7h0M91.2 64.4h0M101.1 40.2h0M180 90.2h0M111.8 76.3h0M155.5 94.8h0M105 89h0M197 73.9h0M138.1 93.6h0M105.3 62.9h0M92.8 95.3h0M98.5 93.3h0M5.7 89h0M147.4 74.4h0M159.7 78.9h0M174.5 81.1h0M22.4 68.8h0M10.2 86.9h0M101 50.1h0M58 102.1h0M65.5 53.5h0M4.2 89.6h0M142.8 64.9h0M24.8 75.4h0M204.7 122.4h0M50.3 55.4h0M16.3 83.9h0M78.7 79.7h0M92.7 41.9h0M208.4 146.5h0M142.9 54.2h0M193.6 90.3h0M129.7 96.4h0M89 63.4h0M93.4 91.6h0M36.3 66.1h0M154.9 94.7h0M162 91.6h0M115.9 103.2h0M137.9 77.8h0M11.5 82.7h0M14.4 94.1h0M55 74.5h0M167.8 95.4h0M133.6 77.8h0M119.4 84.6h0M176.3 81.7h0M49.2 88h0M26.1 75h0M117.6 87h0M175 44.2h0M172.1 56.4h0M178.3 98.4h0M57.8 83.4h0M2.1 60.2h0M91.2 92.3h0M20.6 75.2h0M13.9 100.9h0M158.6 70.5h0M104.3 105.8h0M75.4 91.6h0M5.5 116.8h0M28.9 74.4h0M197 82.2h0M45.6 76.1h0M172.5 81.1h0M194.1 61.1h0M91.7 73.7h0M115.4 108.6h0M8.1 96.2h0M80.3 65.8h0M19.2 68h0M89.1 69.3h0M96.5 84.2h0M113.8 84.5h0M60.4 83.1h0M31.9 82.7h0M140.6 95h0M95.7 101h0M67.2 87.6h0M161.7 83.5h0M95.2 52.3h0M174.4 104.8h0M5.4 59.4h0M204.9 137.9h0M73.2 94.8h0M100.9 73.8h0M9.3 57.2h0M183.6 104.8h0M169 95h0M123.4 111h0M60.3 62.8h0M93 71h0M156.9 74.9h0M95.7 85.8h0M189.1 84.4h0M180.5 103.9h0M19.8 93.9h0M75.6 78.7h0M186.9 83.9h0M121.5 57.6h0M111.1 112.9h0M25.5 105.8h0M172.9 91.1h0M74.5 83.7h0M170.4 86.4h0M88.9 99.1h0M125.5 104.9h0M170 83.3h0M77.3 99.1h0M183.6 65.1h0M192.5 60.9h0M197.1 62.7h0M105.6 95.2h0M21.1 118.7h0M29.2 66.4h0M147.5 76.6h0M159.8 92.6h0M40.4 78.3h0M130.6 88h0M166.1 89.8h0M127.7 77.9h0M62 83.6h0M183.9 103.2h0M199.9 80.6h0M19.8 89.5h0M135.5 116.6h0M132 79.2h0M114.9 100.9h0M143.4 70.6h0M49.4 99.2h0M143.8 66.6h0M141 89.9h0M75.4 101.5h0M26.1 97.5h0M44.1 72.3h0M110.7 81h0M105.8 97.6h0M86.9 80.9h0M17.6 59.8h0M99.1 70.3h0M11.1 60.2h0M159.7 79.8h0M184.8 107.5h0M171.7 103.2h0M171.2 62.4h0M104 74.9h0M95.6 70.5h0M203 132.3h0M30.2 84.7h0M25.2 78h0M83.4 82.7h0M3.3 85.4h0M140.4 40.2h0M39.6 77.8h0M188.8 98.1h0M142.4 58h0M66.1 56.2h0M70.2 82.6h0M48.4 85h0M105.8 90.7h0M44.9 85.6h0M125.1 95.1h0M196.5 104.7h0M157.6 90.6h0M5.1 45.5h0M156.8 98.8h0M183.5 105.4h0M59 90.3h0M35 71.4h0M114.5 88h0M205.2 127.9h0M168.5 87.5h0M105.4 80.4h0M56.7 90.1h0M50.7 119.1h0M51.4 83.6h0M61.1 83.8h0M59.8 70.5h0M128.6 61h0M144.5 71h0M9.9 97.9h0M123.3 89.4h0M191.1 69.2h0M108.3 121h0M177.1 61.9h0M56.8 61.1h0M51.5 81.9h0M87.5 89h0M2.3 48.9h0M162.3 81.7h0M33 73.6h0M46.1 96.6h0M164.2 47.3h0M166.9 82.2h0M65.9 66.7h0M136.8 101.2h0M101.4 53.7h0M194.2 91.4h0M56.7 72.2h0M70.4 76.5h0M93 93.8h0M124.9 92h0M166.5 85.7h0M194.5 83.7h0M17.7 66.2h0M60.5 82.3h0M115.6 108.4h0M28.2 77.1h0M101 68.9h0M103.7 78.7h0M92.1 88.8h0M149.5 47.2h0M119.1 90.4h0M184.9 98.6h0M165.9 98.2h0M153.1 94.4h0M45.8 80h0M85.6 97.4h0M3.6 80.5h0M17.9 98.7h0M3.4 91.8h0M64.3 82.8h0M191.8 74.2h0M205.2 146.7h0M35.3 80.2h0M175.1 83.5h0M182.6 100.4h0M104.4 48.5h0M72.6 71.1h0M176.2 38.4h0M206.4 109.8h0M209 138.8h0M81.4 87.5h0M102.4 81h0M75.8 97.8h0M15.5 79h0M142.1 82h0M20.2 73.1h0M50.5 73.4h0M99.5 58h0M137.4 79.4h0M88.1 84.9h0M67.8 71.5h0M60.8 113.6h0M137 86.8h0M168.7 70.9h0M30.4 83.5h0M193.5 90.9h0M133.4 68.4h0M142.7 88.3h0M22.4 92.5h0M95.3 86.2h0M162.1 90.8h0M11.6 70h0M33.2 64.6h0M55.7 83.5h0M57.8 89.1h0M88.6 79.1h0M12 61.8h0M65.6 73h0M204.2 133.1h0M5.9 73.2h0M22.8 63.4h0M79.6 71.4h0M8.9 85.3h0M176.2 79.2h0M170.4 66.2h0M173.7 80.3h0M7.2 85.6h0M62.6 83.6h0M105.1 96.5h0M46.2 55.1h0M187.9 83.9h0M173.3 64.3h0M26.5 66.4h0M195.4 99.4h0M66.5 95.3h0M30.5 58.7h0M23.1 65.3h0M131.9 73.8h0M100.8 90.2h0M114 65h0M111.5 99.3h0M14.1 96.6h0M48.2 55.1h0M174.4 74.7h0M169.1 74h0M82.2 83.4h0M26.6 54.3h0M203.4 143h0M163.5 104.2h0M56 64.8h0M192.9 95.9h0M68.4 85.1h0M152.6 106.1h0M69.3 58h0M179.5 86.9h0M121.3 89.9h0M192 99h0M45.3 76.2h0M197.9 74.9h0M137.8 90.8h0M98.3 73.4h0M11.3 93.4h0M198.3 78.7h0M172.7 76.4h0M57 101.9h0M153.1 72.3h0M37.8 64.5h0M96.6 72.8h0M14 69.1h0M38.7 94h0M118.5 83.9h0M76.6 94h0M157.2 102.4h0M170.3 115.6h0M52.4 100.4h0M154.3 85.1h0M10.2 83.8h0M57.8 69.7h0M110.2 83.5h0M117.9 67.7h0M155.9 98.9h0M115.5 83.6h0M149.6 92h0M135.9 94h0M85.4 68.2h0M95.1 90.3h0M185.7 111.6h0M3.2 92.3h0M77.4 81.6h0M52.8 95.8h0M50.3 66.5h0M21.3 47.8h0M75.2 90.8h0M109.4 82.3h0M45.2 92.9h0M36.4 97.3h0M200.8 92.6h0M158.5 81.3h0M188.9 86.5h0M193.5 71.2h0M32.7 71.8h0M18.3 72.5h0M57.8 58.8h0M201.3 113.1h0M113.9 72.2h0M106.1 93.8h0M85.7 87.3h0M191.3 65.6h0M149.5 62.7h0M175.5 94h0M21.4 81.6h0M131.8 35.8h0M138.5 80.1h0M201.3 88.1h0M73.4 89.6h0M41.8 99.8h0M82 80.6h0M156.1 77.2h0M180.8 83.8h0M99.5 79.1h0M189.3 95.2h0M79.9 84.4h0M65.3 57.7h0M144.3 71.2h0M84 102.9h0M61.3 90.9h0M208.1 125.3h0M90.8 68.2h0M157.4 68.7h0M188.6 96.6h0M74.1 69.4h0M108.5 55.4h0M76.2 54.8h0M126.2 92h0M159.8 82.7h0M92.3 110.8h0M10.2 75.9h0M156.8 62.1h0M68.8 77h0M100.1 86.7h0M24.4 111.8h0M129.2 52.1h0M154.1 71h0M91 76.1h0M79.9 87.6h0M4.6 88h0M203.3 131.9h0M197.1 89.2h0M168.7 82.4h0M24.4 78h0M140.2 81h0M59.3 75.9h0M55.6 112.5h0M89 95.2h0M103.9 72.3h0M205.5 121h0M39.8 96.2h0M14.3 77.1h0M149.8 70.5h0M116.6 87.2h0M124.1 111.2h0M89.8 69.1h0M184.1 62.2h0M195.9 89.4h0M41.8 101.8h0M175.9 77.7h0M80.3 68.2h0M90.3 77.7h0M7.4 69.3h0M76 58.7h0M42.7 80.5h0M182.3 108.1h0M201.3 104h0M94.5 91.1h0M107.5 91.1h0M193.7 94.9h0M115.5 58.8h0M105 72h0M140.4 93.8h0M152.3 115.5h0M67.1 58.6h0M122.2 67.4h0M63.3 87.6h0M1.8 94.7h0M188.7 95.6h0M15.1 81.9h0M194.7 101.2h0M26.7 61h0M77.3 87.6h0M55.1 60.6h0M54.3 78.5h0M21.2 80.3h0M4.3 89.9h0M7.5 96.3h0M155.6 87.5h0M61.9 67.4h0M181.6 76h0M105 85.1h0M121.4 61.7h0M93.6 52.1h0M31.1 62.6h0M129.6 100.7h0M120.1 84.9h0M145.6 68.4h0M119.2 87h0M120 80.6h0M132.2 87.6h0M140.1 86h0M157 73.5h0M94.3 83h0M120 94.8h0M174.4 91.4h0M159.3 106.8h0M153.7 54.2h0M102.7 81.7h0M24.8 75h0M112.1 92.2h0M106.7 100.5h0M205.4 143.5h0M64.7 66.1h0M208.1 124.9h0M34.5 79.1h0M90.5 89.6h0M42.8 71.2h0M106.5 103h0M203.3 116.5h0M16.2 74.3h0M40.9 83h0M88.6 76.6h0M40.1 107.3h0M14.6 88.2h0M153 84.4h0M53 55.4h0M143.9 78.4h0M169.8 81.7h0M38.1 94.7h0M206.5 137.1h0M140.5 92.5h0M90.1 94.6h0M51.8 65.1h0M92.1 86.4h0M34.8 61.8h0M172.1 123.8h0M152.3 80.1h0M25.1 70.1h0M86.2 71.1h0M9.1 94.5h0M181.3 76.9h0M195.6 105.2h0M195 55.3h0M185.2 55.9h0M50.6 101.3h0M73 80.2h0M164.5 97.4h0M60.6 51.2h0M174.6 86.3h0M31.6 103.8h0M18.6 73.6h0M169.3 79.2h0M72.7 100.8h0M99.4 83.1h0M101.2 118.1h0M206.9 123h0M139.4 63.5h0M58.6 77.1h0M72.7 90.9h0M73.5 60.4h0M86.6 77.5h0M118.7 84h0M34.3 72.1h0M87.8 88.6h0M105.4 62.6h0M37.2 103.4h0M129.3 118h0M33.5 62.5h0M203 151.3h0M144.2 72.5h0M36 88.7h0M23.3 80.5h0M14.6 98.8h0M24.1 78.3h0M87.8 76.1h0M170.9 79.3h0M145.3 51.8h0M198.6 84.3h0M13.6 63.7h0M28.7 68.7h0M163.7 115.6h0M142.9 101.6h0M109.1 84.6h0M158.3 41.7h0M155.9 46.3h0M127.1 123.1h0M154.7 63.3h0M147.4 89.3h0M23.8 64.6h0M102.7 103.2h0M205.8 127.1h0M206.7 127.6h0M102.9 64.9h0M166 63.1h0M187.9 79.3h0M57.5 83.6h0M192.2 94h0M204.9 133.3h0M187.4 75.5h0M12 65.7h0M121.2 68.7h0M138.3 78.9h0M132.1 66.7h0M106.1 82.3h0M206.8 109.3h0M17.5 64h0M77 111.5h0M8.9 83.2h0M95.5 96.2h0M49.8 72.3h0M198.7 87.5h0M196.6 83.6h0M80.5 75h0M171.2 75.3h0M124.9 70.7h0M110.3 100.1h0M93.9 82.9h0M200 100h0M73.5 85.5h0M96.1 61.6h0M197.8 80.5h0M12 80.8h0M150.9 62.7h0M157.3 82h0M118.3 85.7h0M12.1 75.6h0M16.1 58.9h0M177.3 110.6h0M19.2 72.9h0M2.3 101.4h0M54.3 74.2h0M48.2 56.7h0M36.8 74.4h0M25.6 80.6h0M164 80.5h0M90.6 73h0M98.3 69.3h0M21.8 45.8h0M130.5 70.2h0M76 68.5h0M114.2 100.2h0M81.9 75.1h0M149.3 74.8h0M15.5 59.9h0M79.5 87.5h0M62.7 66.5h0M135.8 82.7h0M143.7 46.3h0M76.8 95.4h0M75.6 88.3h0M176.5 104h0M138.7 98.9h0M77.3 107.5h0M124.6 62.5h0M75.6 112h0M195.7 82.2h0M32.2 86.3h0M11.1 81.9h0M154.6 94.7h0M170.6 94.1h0M121.1 93.9h0M197.6 103.9h0M42.7 83.2h0M102.2 87.4h0M73.3 80.8h0M45.1 94.1h0M54.6 83.6h0M63.2 53h0M114.1 81.8h0M18 91.5h0M4.3 92.3h0M117.3 90.2h0M3 80.1h0M196.4 36.5h0M109.3 85.9h0M206.5 134.8h0M37.3 99.4h0M164.5 107.4h0M49.4 89h0M206.5 116.9h0M161.6 84.4h0M99.1 94.6h0M51.9 68.9h0M22.9 85.8h0M151.3 90.3h0M142.3 88h0M202.8 134.8h0M140.8 62.1h0M131.5 95h0M138.6 83.8h0M23.7 74.2h0M72.3 64.2h0M190.9 87.2h0M19.2 115.4h0M205.4 139.8h0M72.6 99.8h0M191.2 62.2h0M189.3 90.4h0M181 90.3h0M43.3 66.5h0M123.1 81.8h0M177.8 95.6h0M161.7 70.5h0M56.7 69.3h0M108.1 79.7h0M74.6 87.8h0M179.9 63.5h0M71.9 39.4h0M127.7 82.4h0M141.4 82.6h0M133.7 123.6h0M125.6 92.8h0M113.3 103.4h0M100.9 70.1h0M11 61.2h0M158.8 70.3h0M186.6 76.4h0M95.3 56.7h0M178.1 113.6h0M21.7 68.7h0M202.7 144.2h0M208.9 150.6h0M142.4 79.9h0M152.5 85h0M112.1 56.3h0M122 94.4h0M116.2 62.5h0M3.9 61.4h0M177.7 85.7h0M136.8 88.6h0M74.2 83.4h0M61.3 108.7h0M11 67.5h0M117.6 83.8h0M46.6 41.4h0M123.1 101.2h0M193.3 70.3h0M122 86.1h0M72.2 84.9h0M195.3 78.8h0M125.6 107.3h0M40 78.5h0M98.1 105.3h0M141.3 88.2h0M122.3 69.1h0M51.3 68.6h0M111.9 56.3h0M103.3 103h0M164.4 89.5h0M47.6 107.6h0M45.7 61.5h0M30.3 60.6h0M160.2 77.6h0M148.1 37.4h0M110.8 96.6h0M115.3 87.3h0M13.5 67.9h0M149 81.6h0M7.8 101.8h0M201.3 92.2h0M123.7 118.8h0M116.5 123.5h0M121.8 87.9h0M90.9 61.6h0M21.6 61.8h0M63.6 95.5h0M170.8 59.9h0M180.4 91.7h0M8.9 81h0M143.7 90.7h0M99.3 97.5h0M150.2 77.7h0M56.6 60.8h0M98.9 85.5h0M186.6 91.3h0M31.4 95.2h0M189.8 68.5h0M107.5 67.4h0M49.9 101.8h0M24.5 85.8h0M199 97.1h0M153.4 86.8h0M15.3 68.8h0M60.2 82.3h0M107.5 103.2h0M24.9 81.8h0M25.4 74h0M110.4 70.9h0M192.3 98.6h0M126.5 75.1h0M75.6 65.6h0M27.3 93.7h0M172.2 106.2h0M127 66.7h0M153 104.6h0M144.2 74.2h0M206.3 136.6h0M7.8 53h0M169.4 77.1h0M178.1 85.6h0M167.5 94.1h0M50.8 94.5h0M20.9 71.4h0M7.9 74.3h0M56.7 81.3h0M182.6 109.9h0M34.7 64.6h0M188.3 62h0M162.8 65.9h0M164.6 90.7h0M121.6 72.3h0M105.8 86.3h0M208.4 122.2h0M50.1 86.7h0M185.5 92.5h0M203.4 137.3h0M142.5 57.2h0M178.1 112.4h0M200.3 98.4h0M62.6 76.7h0M107.8 79.2h0M56.3 87.9h0M70.3 62h0M29.4 68.2h0M124.3 94.2h0M192.1 89.5h0M93.4 85.3h0M207.1 127.3h0M153.8 97h0M10.5 83h0M202.7 137.5h0M171 78.4h0M23.7 92.4h0M20.8 71.3h0M113.9 58h0M23 105.2h0M184.4 76.9h0M22.6 83.6h0M122.2 88.7h0M82.8 52.1h0M25.5 70h0M46.3 104.5h0M169.9 105.4h0M50.6 92.1h0M152.5 89.4h0M105 107.8h0M206.3 144.7h0M47.2 82.9h0M106.1 51.2h0M100.4 86.2h0M9.6 120h0M178.5 105.3h0M143.5 62.3h0M196.7 85.1h0M208.9 113.5h0M183.9 66.2h0M149.1 126h0M51.9 52.7h0M38.8 90.4h0M34.1 67.6h0M129.7 96.7h0M203.2 138.6h0M145.8 60.9h0M2.8 88.3h0M76.2 83.5h0M72.7 79.7h0M71.2 63.1h0M32.5 102h0M196.8 72.5h0M28.6 85.7h0M111.5 78.8h0M200.9 79.8h0M106.3 76.9h0M10.4 78.6h0M80.6 67.2h0M185.9 81.5h0M118.5 61h0M157.2 87.3h0M5.1 66.6h0M179.2 86.9h0M190 87.4h0M26.2 78.8h0M52 106.8h0M171.3 108.2h0M96.6 84.7h0M68.5 85.8h0M165.8 101.1h0M166.2 51.5h0M154.8 80.9h0M138.6 92.8h0M16.9 77.4h0M2.4 79h0M2.6 81.3h0M64.1 100.2h0M29.6 96h0M93.9 67.8h0M40.8 97.9h0M101.7 76.1h0M46.1 92.3h0M46.4 80.6h0M109.2 79.5h0M49 70.4h0M135.4 107h0M136.6 85.2h0M39.3 89.7h0M179 107.2h0M8.4 55.4h0M139.8 95.1h0M1.7 92.6h0M116.6 87.1h0M85.7 82.4h0M79.1 78.9h0M169.9 101.6h0M45.1 82.6h0M28.2 66.4h0M112.4 79.7h0M203.3 129.3h0M93.3 63.7h0M31.5 94.4h0M21.8 83.6h0M158.3 73.6h0M93.1 98.5h0M109.5 57.9h0M51.9 82.4h0M32.1 89.9h0M102.4 73.8h0M127.5 95.5h0M17.5 79.7h0M66.6 66.5h0M163.9 99.2h0M108.5 103.7h0M161.3 86.3h0M185.7 101.4h0M55.2 91.8h0M186.8 87.2h0M191.2 85.7h0M39.5 90.7h0M45.3 82.3h0M80.2 123.3h0M128.6 66.6h0M169 114.9h0M69.7 82h0M102.3 86h0M131.6 81.1h0M205.8 133.3h0M54.6 88.5h0M154.3 103.4h0M157.9 78.5h0M130.1 69.8h0M57.8 78.3h0M113.4 122.4h0M103 84.1h0M104.9 91.5h0M176.9 97.6h0M128.2 80.5h0M170.6 87.8h0M205.1 132.2h0M19.7 101h0M103 88.7h0M122.6 78.2h0M133 95.1h0M192.1 97.9h0M170.6 105.6h0M118 94.6h0M78.4 52.6h0M172.9 103.3h0M120.8 85h0M23.9 92.9h0M179.3 114.5h0M70.8 74.5h0M202 144.3h0M109.1 87.7h0M119.8 80.9h0M65.2 63.2h0M89.1 95.4h0M78.5 80.3h0M76.4 72.1h0M12.8 76.7h0M183.9 84.6h0M60.5 108h0M9.6 63.5h0M25.6 96h0M151.1 102.1h0M107.6 93.7h0M186.8 73.3h0M39.9 103.2h0M208 126.7h0M203 149.7h0M80.7 62.7h0M121.2 88.7h0M117.1 89h0M88 66.7h0M16.7 118.2h0M205.6 131.3h0M12 52.3h0M109.2 99.3h0M196.9 74h0M112.6 77.7h0M39 78h0M40.1 84.5h0M6.9 88.2h0M49.1 76.7h0M185.1 74.1h0M162.6 106.2h0M153.8 66.9h0M186.6 108.6h0M43 60.2h0M1.8 110.1h0M112.3 95.5h0M39 110.1h0M52.3 76.6h0M33.3 76h0M55.8 65.2h0M149.2 93.9h0"/>
<path stroke="#5a5a5a" stroke-opacity=".4" stroke-width=".9" d="M202.6 123.5h0M196.3 31h0M117.5 42.9h0M56.8 138.6h0M139.4 94.9h0M38.8 50h0M176.1 95.8h0M32.5 69.2h0M75.6 49.6h0M187.7 59.3h0M72.4 122.8h0M99 40.7h0M102.3 51.1h0M73.2 52.5h0M113.2 129.3h0M196.4 101.4h0M32.7 27.1h0M70.7 87.5h0M184.6 75h0M30.4 59.1h0M125.3 47.1h0M95.4 57.8h0M197.6 57.3h0M145 81.3h0M166.2 62.1h0M7.7 55.1h0M32.9 117.7h0M124.4 56h0M13.9 53.4h0M187 87.8h0M88.8 44.2h0M96.9 68.1h0M66 97.2h0M141.7 43.1h0M65.2 87.6h0M19 68h0M141 116.4h0M169.6 101.7h0M207 112.8h0M37.7 106.7h0M141.4 82h0M79.9 62h0M187.3 102.3h0M66.1 55.3h0M131.5 94.6h0M48.8 29.1h0M116.5 104.1h0M134.1 33.2h0M20.4 60.2h0M35.8 93.1h0M121.7 17.6h0M133.3 100.3h0M57 41.9h0M160.8 60.4h0M24.5 49.2h0M131.7 21.6h0M41 102h0M166.8 69.8h0M176.9 24.6h0M74 57.2h0M206 120.2h0M184.7 72.8h0M46.4 96.1h0M58.7 82.7h0M192 25.6h0M109.8 112.8h0M35.6 101.3h0M48.2 84h0M28.5 83.5h0M136.7 49.7h0M69.4 105.8h0M66 71.2h0M117.3 73h0M159.6 93.2h0M65.3 111.6h0M112.2 66.2h0M49.5 61h0M127.2 118.6h0M100.2 55.9h0M159 100.3h0M169.9 45.3h0M132.2 96h0M165.4 58.6h0M149.1 69h0M47.4 89.1h0M129.7 99.3h0M121.5 32.9h0M141.8 121.7h0M43.2 27.5h0M119.3 31.9h0M84.6 109.3h0M1.6 61.9h0M153 116.2h0M36.6 125h0M122.9 68.4h0M69.9 140h0M79.2 58.8h0M204.2 107.4h0M51 43.9h0M61.1 91.7h0M141.4 32.3h0M161.4 42.9h0M45 63.5h0M121.4 42.8h0M7.8 115.9h0M92.2 46.9h0M122.2 69.5h0M107.9 46.1h0M169.3 94.1h0M98.3 31.3h0M96.2 26.3h0M122 96.1h0M19.7 49.5h0M195.3 45.8h0M123 119.9h0M35.7 63.3h0M141.7 65.4h0M82.1 50.3h0M167.3 113.4h0M199.2 55.7h0M37.9 90.9h0M49.8 89.4h0M161.4 108.7h0M172.2 55.6h0M192.2 86.9h0M128.4 120.4h0M75.6 128.5h0M22.6 111h0M32.1 32.2h0M86.5 60.2h0M14.8 96.3h0M185.9 74.9h0M116.6 76.8h0M129.9 76.6h0M190.2 111.6h0M67.8 97.4h0M193 15.8h0M154.9 101.1h0M6.6 13.3h0M134.6 48.9h0M161.4 61.3h0M38.3 66.6h0M137.5 86.9h0M78.8 86.5h0M207.6 110.9h0M40.6 100h0M108.6 95.2h0M195.8 55.5h0M16.9 117.3h0M85.5 97.7h0M195.9 106.5h0M94.6 70.9h0M128.9 61.3h0M142.5 98.1h0M35.1 27.6h0M205.4 142.8h0M16.8 30.3h0M171.8 117.8h0M130.9 31h0M90 38.4h0M178.3 49.4h0M127.9 75.6h0M99.9 85.6h0M169.5 135.2h0M187.6 51.9h0M189.1 108.4h0M106.2 102.2h0M26.4 33.6h0M188.4 104.6h0M47.5 58.6h0M60.1 119.7h0M.5 52.1h0M144.3 90.5h0M82.5 62.6h0M126.5 96.6h0M91.6 94.8h0M141.9 32.6h0M170.9 94.7h0M128.1 30h0M177.9 40.9h0M90.1 93.7h0M70.7 72.5h0M184 57h0M156.8 106.8h0M41 101.6h0M38.2 70.3h0M184.9 87.1h0M46.2 61.8h0M153.2 54.5h0M19.6 90.1h0M42.9 52.1h0M10.5 43.9h0M205 112.2h0M98.6 53.9h0M97.6 65.1h0M42.7 54.5h0M189.2 72.5h0M46.2 45.6h0M145.1 46.1h0M196.5 52.1h0M19.9 64.4h0M124.3 68.2h0M69.1 98.5h0M107.9 114h0M67.6 97.3h0M108.6 71.1h0M67.8 14.5h0M106.6 43.6h0M182.1 59.4h0M5.7 60.1h0M174.7 91.2h0M78.9 88.2h0M116.4 132.9h0M103.3 66.3h0M170.8 116.7h0M22.8 119h0M45.2 64.2h0M136.1 61.2h0M150.8 66.7h0M179.4 48.2h0M55.1 97.1h0M164.8 129.7h0M63 112.3h0M121.8 102.8h0M40.5 91.5h0M203.3 116.2h0M90.8 90.8h0M57.6 90.1h0M150.8 51.2h0M34.2 46.4h0M47.3 100.2h0M14.8 95.9h0M65 111.1h0M115.4 121.9h0M4.5 31.3h0M159.1 87.3h0M182.6 118.6h0M36.3 42.7h0M1.9 117.6h0M129 59h0M144.9 61.9h0M197.5 55.8h0M133.4 103.8h0M159.3 85.6h0M3.9 44.4h0M68.7 93.5h0M4.8 62.2h0M164.8 124.2h0M144.7 121h0M26 68.9h0M142.7 63.8h0M133.6 54.9h0M167.4 103.4h0M105.3 61.8h0M125.4 95.4h0M33.3 68.2h0M192 108.8h0M168.6 65.3h0M45.7 81.6h0M22.7 102.3h0M7.8 97.5h0M32.2 88.9h0M198 58.7h0M155.9 121.4h0M160.5 57.6h0M29 36.1h0M72.4 94.5h0M186.5 56.4h0M141.8 63.6h0M41.1 33.8h0M206.5 92.5h0M61.4 62.6h0M26.5 41.5h0M181.2 98.1h0M171.5 65.3h0M153.7 59.8h0M42.6 86.9h0M56.8 103.8h0M130.5 104.9h0M19.1 39.5h0M58.5 55.9h0M104.9 60.4h0M71.1 33.6h0M80.6 50.5h0M46.8 99.1h0M154 130.5h0M116.8 61.2h0M102.3 54h0M141.2 65.5h0M42.1 99.3h0M59.9 56.3h0M131.5 109.3h0M55.2 61.2h0M208.8 77.2h0M37.5 52.9h0M124.4 57.2h0M101.3 81.7h0M171.5 63.6h0M161.4 97.5h0M31 69.9h0M200.3 54.2h0M84 68.6h0M74.4 144.8h0M183.9 119h0M147.7 45.4h0M143.2 13.4h0M142.1 85.2h0M184.4 1.5h0M171.5 105h0M195.4 55.4h0M167.9 107.9h0M16.8 82.4h0M127.7 56.4h0M109.2 63.1h0M55.3 12h0M207.7 79.1h0M67 64.4h0M77 64.1h0M161.7 47.2h0M180.2 71.5h0M85.6 101.6h0M85.5 43.7h0M185.8 120.9h0M59.9 47.8h0M159.2 100.7h0M64.6 110.9h0M44.2 44.2h0M87.5 123.8h0M164.7 88.7h0M10.5 47.9h0M161.5 29.3h0M176 28.8h0M73.6 96.4h0M54.6 88.4h0M196.7 59h0M143.8 65.7h0M25.1 30.2h0M58.2 58.1h0M113.2 107.4h0M38 92h0M139.6 37.5h0M173.1 111.6h0M172.8 31.4h0M39.5 66.8h0M105.3 60.3h0M174.4 83.4h0M115.5 113.9h0M96.1 35.6h0M204.2 153.9h0M176.3 67.7h0M196.6 66.4h0M208.6 116.7h0M190.4 48.3h0M26.8 63.5h0M51.9 130.6h0M179.4 116.3h0M69.9 139.4h0M102.9 61.4h0M98.8 50.4h0M172.8 36.1h0M189.1 88.7h0M71.2 29.7h0M52.9 45.3h0M31.3 114.7h0M78.2 44.3h0M138.2 82.7h0M18.3 37.8h0M2.2 92.1h0M111.1 105.3h0M29.3 82.2h0M106.5 68.7h0M204.7 151.3h0M156.2 97.1h0M42.5 74.9h0M18.6 63.7h0M125.5 57.2h0M23.9 115.2h0M186.5 109h0M11.8 43.6h0M131.1 119.1h0M76.6 65h0M35.9 102.2h0M38.9 68.9h0M170.2 66.3h0M194.9 26h0M122.6 94.8h0M83 83.3h0M55.1 85.3h0M10.1 11.3h0M124.5 67.6h0M137.9 105.3h0M58.1 71h0M119.4 43.1h0M24.4 35.6h0M192.5 53.9h0M207.6 106h0M175.4 55.4h0M192.2 53h0M81.2 30h0M3.5 64.4h0M.8 82.2h0M113.8 69.5h0M199.3 56.9h0M119.3 83h0M104.6 58.6h0M4.2 108.2h0M191.6 138.7h0M75 91.7h0M53 52.4h0M133.8 46h0M189.9 104.2h0M45.9 84.4h0M12.2 86.1h0M153.4 140.2h0M177.2 87.5h0M7.3 131.3h0M67.3 67.2h0M124.6 98.8h0M104.9 98.4h0M173.9 63.5h0M86.3 53.9h0M49.8 96.7h0M91.7 55.4h0M29.8 119h0M36.5 123.8h0M174.8 94.1h0M130.4 92.5h0M57.1 125.3h0M42.8 118.3h0M170.1 109.9h0M89.6 57.4h0M59.8 95.1h0M109.9 88.8h0M30.3 62.8h0M207.9 71.5h0M165.9 63.9h0M65 124.2h0M55.2 127.4h0M135.6 100.8h0M106.2 65.1h0M96.6 48.9h0M80.7 46.1h0M193.4 58.7h0M201.7 153.2h0M92.1 106.9h0M150.3 55.4h0M149.3 22.9h0M143.9 66h0M147.5 18.3h0M75.2 102.3h0M192.7 103.3h0M147.9 34.8h0M42.2 39.6h0M128.8 95.6h0M133.9 22.4h0M184.2 77h0M32.6 64.1h0M26.4 113.8h0M92.3 96.8h0M146.7 52.1h0M147.6 66.3h0M128.1 58.5h0M22.8 55.9h0M63.1 58.2h0M17 36.5h0M193.3 53.6h0M126.4 108.4h0M103.4 102h0M186.5 64.2h0M13.1 46.6h0M23 33.1h0M125.7 65.1h0M79.4 110h0M186.2 59.4h0M155.7 54.1h0M91.6 101.2h0M201.1 97.9h0M117.7 88.9h0M185.9 41.2h0M36.2 73.3h0M173.4 68.4h0M126.5 99.4h0M15.2 82h0M104.2 31.4h0M183.7 105.6h0M73.1 87.9h0M140.3 47.7h0M26.6 88h0M19.2 89.8h0M144.2 35.1h0M136.7 86h0M144.4 132.9h0M201.3 52.1h0M182.8 91.4h0M63.4 62.4h0M24.5 100.1h0M116.9 100.4h0M33.9 18.5h0M48.4 37.1h0M132.6 37.9h0M93.8 103.9h0M17.1 91.6h0M114.8 78.8h0M66.3 66.9h0M65.5 49.2h0M142.2 87.1h0M177.2 76.8h0M10.8 59.7h0M6.6 83.9h0M130.7 127h0M176.7 35.7h0M171.7 102.9h0M92.4 33.1h0M188.9 95.8h0M162.8 63.1h0M28 131h0M156.3 105.2h0M148.5 82.2h0M148.7 68.2h0M116.2 64.8h0M52.7 58.3h0M132.5 81h0M2.7 48.2h0M10.3 64.8h0M10.3 93.3h0M193.2 87.6h0M35.1 121.4h0M121.5 90.3h0M180.2 57.6h0M71.7 69.2h0M134 93.1h0M.6 70.7h0M206.1 99.5h0M130.2 70.4h0M174.5 69.4h0M121.6 118.4h0M66.2 65.8h0M195.5 60.2h0M92.4 48.6h0M17.7 80.8h0M33.2 56.8h0M163.5 58.5h0M152.7 57h0M150.7 84.4h0M3.4 98.3h0M180.3 51.2h0M165.5 73.5h0M170.4 35.7h0M72.2 53.1h0M155.8 71.8h0M115.8 114h0M164.4 61.4h0M6 84h0M168.2 51.7h0M159.7 68.9h0M110 61.1h0M147.5 65.5h0M60.4 47.5h0M147.5 38.3h0M137.1 49.3h0M166.9 79.6h0M49.8 64.1h0M11 111.7h0M181.3 118h0M130.1 114.7h0M14.1 45.8h0M165.7 134.7h0M95.6 85h0M155.4 60.4h0M172 135.5h0M77.2 55.1h0M187.5 67.9h0M87 96.9h0M113.6 71.4h0M163.1 55.6h0M84.7 83.8h0M53.3 46h0M16.7 94.5h0M184.6 54.8h0M170.3 113.9h0M23.1 81.8h0M90.9 54.4h0M48.2 68.5h0M205.8 118.2h0M128 101.5h0M106 120h0M67 105.2h0M166.9 95.6h0M22.7 31.5h0M161.5 69.8h0M157.8 70.9h0M137.7 58.8h0M104.5 54.9h0M152.9 107.4h0M54.8 58.8h0M152.3 89.6h0M59 88.6h0M73.8 114.6h0M67.8 124.1h0M46 38.4h0M112.3 118.5h0M158.1 44.8h0M127.6 48.8h0M169.9 76.4h0M134.7 69.2h0M40.2 107.8h0M71.1 110.9h0M25.5 124.1h0M42.3 45h0M3.6 53.2h0M155.3 64.2h0M93.4 106.8h0M27.7 81.3h0M184.2 26.1h0M76.4 67.1h0M67.9 57.8h0M165.3 114.4h0M171.9 53.4h0M199.1 99.4h0M204 149.5h0M175.8 126.3h0M77.4 70.9h0M183.1 5.7h0M93.4 93.8h0M172 74.8h0M92 69.7h0M202.4 149.4h0M43.1 117.8h0M32.1 108.6h0M109.7 95.5h0M84.2 52.6h0M192.7 27.3h0M134 59.9h0M7.4 115.2h0M9.5 23.2h0M34.7 110h0M106.6 44.2h0M47.9 58.1h0M155.5 47.5h0M188.8 122.1h0M201.3 151.7h0M139.1 42.8h0M65.5 58.3h0M169.1 109.3h0M189.4 70h0M49.3 67.2h0M190.6 70.1h0M137.4 56.3h0M132.9 81.5h0M131.3 91.4h0M53 94.3h0M134.3 86.1h0M40.9 21h0M113 86.5h0M10.4 41h0M5.4 128.9h0M196 104.8h0M38.1 102.5h0M138.3 41.5h0M104.1 104.2h0M180.2 15.5h0M76.8 104.3h0M24.2 88.9h0M68.5 64.1h0M76.1 32.1h0M37.4 89.4h0M99.6 50.4h0M15.4 65.5h0M28.3 58.3h0M136.5 97h0M190.8 66.2h0M128.3 93h0M65.3 63.4h0M30.8 44h0M31 52.9h0M2.9 46.5h0M145.2 101h0M162.8 122.9h0M128.2 98.8h0M47 82.1h0M6.5 35.5h0M174.2 98.2h0M164.3 64.6h0M76.4 39h0M72 91h0M118.8 83.2h0M53.9 88.2h0M4.3 110.5h0M.8 133.8h0M7.2 56.5h0M129.2 51.9h0M45.1 99.7h0M126.5 57.7h0M36.6 33.5h0M198.6 89.1h0M118 96.2h0M60 61.2h0M112.3 118.4h0M32.9 117.5h0M39.7 111h0M131.2 48.3h0M166.9 106.9h0M5.5 60.6h0M159.1 133.7h0M88.8 65h0M41.4 65.6h0M42.8 86.8h0M168.1 127.6h0M113.8 115.3h0M14.5 64.2h0M24.7 68.3h0M160 119.7h0M178.2 72.7h0M40.9 73.1h0M177.2 62.4h0M44 58.2h0M164.3 70.6h0M107.8 56.9h0M175.2 65.7h0M64.9 109.2h0M109.8 72h0M136 50.6h0M104.9 14.6h0M148.2 44.6h0M92.3 88.4h0M137 37.3h0M102 87.7h0M207.9 144.4h0M194.3 106.4h0M111.1 152h0M153 103.5h0M133.6 69h0M91.4 106.5h0M62 58.3h0M17.2 103.1h0M33.8 83.2h0M1 52.8h0M180.2 42.3h0M79.7 119.8h0M208.6 139.1h0M5.1 44.5h0M191.7 27.7h0M187.9 60.6h0M117.7 72h0M91.7 85.5h0M144.5 58.3h0M90.5 114.3h0M14.4 57h0M201 71.1h0M164.4 122.1h0M30.4 92.1h0M191.6 73.4h0M91 71.1h0M160.8 37.1h0M135.9 64.9h0M27.8 104.7h0M146.6 87.1h0M17.7 63.4h0M30.8 51.8h0M102.7 92.9h0M97.9 63.2h0M97.5 22.5h0M23.8 104.6h0M109.1 105.4h0M116.2 68.5h0M97.8 115.5h0M4.9 130.1h0M6.1 97.4h0M112 58.9h0M208.1 88.8h0M156 119.8h0M188.6 34.5h0M187.8 74.5h0M132.8 96.9h0M147.7 65h0M55.3 90.5h0M202.7 140.8h0M175.9 101.3h0M146.7 43.5h0M161.3 118.2h0M28.8 42.6h0M116.5 75h0M62.3 135.9h0M193.2 28.9h0M204.8 87h0M59.9 31.7h0M15.3 110.8h0M127.6 76.9h0M164.3 53.9h0"/>
</g>
</g>
<path stroke="#1c1c1c" stroke-width="1.3" fill="none" d="M421.81 1070.6V1226.4M442.39 1070.6V1226.4M458.67 1070.6V1226.4M473.37 1070.6V1226.4M489.65 1070.6V1226.4M503.27 1070.6V1226.4M516.6 1070.6V1226.4M521.41 1070.6V1226.4M533.86 1070.6V1226.4M545.23 1070.6V1226.4M551.8 1070.6V1226.4M558.07 1070.6V1226.4M563.02 1070.6V1226.4M573.27 1070.6V1226.4M581.6 1070.6V1226.4M582.78 1070.6V1226.4M589.15 1070.6V1226.4M594 1070.6V1226.4M598.9 1070.6V1226.4M605.42 1070.6V1226.4M608.76 1070.6V1226.4"/>
<path stroke="#0a0a0a" stroke-width="1" d="M407.1 1148.2H616.6"/>
<path stroke="#ef8a10" stroke-width="2.2" fill="none" d="M407.2 1146.9H421.6M421.6 1146.1H442.4M442.4 1149.8H449.1M448.3 1139.9H453.2M449.9 1144.8H458.7M458.7 1146.9H472.7M472.7 1150.3H478.2M475.7 1134.7H479M478.2 1151.6H486.5M484.9 1144.8H489.4M489.4 1147.4H503.2M503.2 1144.8H514M508 1144.8H514.7M511.3 1150.8H516.7M516.7 1151.1H521.3M521.3 1156H524.6M524.6 1146.1H530.5M529.6 1153.4H538.8M537.1 1147.7H544.9M543.8 1153.9H549.6M544.9 1142.5H551.6M548.8 1148.2H551.6M551.6 1131.6H557.9M552.9 1113.5H557.1M551.6 1145.1H557.9M557.9 1149.2H562.9M562.9 1150.3H572.9M573.7 1156H579.5M577.1 1148.7H582M582.5 1150.8H589M589 1154.9H594M589.5 1144.1H592M594 1151.6H598.7M598.7 1142H605M598.7 1149.8H605M605 1151.1H608.3M609 1199.5H616.2"/>
<path stroke="#f0922a" stroke-width="1.7" opacity=".9" fill="none" d="M565.5 1138.3h2.4M570 1135.8h2.4M584.6 1170h2.4"/>
<path stroke="#f0b040" stroke-width="1.4" stroke-dasharray="1.6 1" opacity=".75" fill="none" d="M535.5 1136.3H540.4"/>
<rect x="407.5" y="1070.5" width="209" height="156" fill="none" stroke="#333" stroke-width=".8"/>
<g font-family="'DejaVu Sans','Liberation Sans',sans-serif" font-size="4.85" fill="#000">
<text x="402.7" y="1072.12" text-anchor="end">1.5</text>
<text x="402.7" y="1098.05" text-anchor="end">1.0</text>
<text x="402.7" y="1123.98" text-anchor="end">0.5</text>
<text x="402.7" y="1149.9" text-anchor="end">0.0</text>
<text x="402.7" y="1175.83" text-anchor="end">−0.5</text>
<text x="402.7" y="1201.75" text-anchor="end">−1.0</text>
<text x="402.7" y="1227.68" text-anchor="end">−1.5</text>
<path stroke="#222" stroke-width=".6" fill="none" d="M405.3 1070.42H407.1M405.3 1096.35H407.1M405.3 1122.28H407.1M405.3 1148.2H407.1M405.3 1174.12H407.1M405.3 1200.05H407.1M405.3 1225.98H407.1M414.45 1226.4V1228.2M432.1 1226.4V1228.2M450.53 1226.4V1228.2M466.02 1226.4V1228.2M481.51 1226.4V1228.2M496.46 1226.4V1228.2M509.94 1226.4V1228.2M519.01 1226.4V1228.2M527.63 1226.4V1228.2M539.54 1226.4V1228.2M548.51 1226.4V1228.2M554.94 1226.4V1228.2M560.55 1226.4V1228.2M568.15 1226.4V1228.2M577.44 1226.4V1228.2M582.19 1226.4V1228.2M585.96 1226.4V1228.2M591.58 1226.4V1228.2M596.45 1226.4V1228.2M602.16 1226.4V1228.2M607.09 1226.4V1228.2M612.68 1226.4V1228.2"/>
<text transform="translate(413.55 1235.21) rotate(-60)" text-anchor="middle" y="1.6">chr1</text>
<text transform="translate(431.2 1235.21) rotate(-60)" text-anchor="middle" y="1.6">chr2</text>
<text transform="translate(449.63 1235.21) rotate(-60)" text-anchor="middle" y="1.6">chr3</text>
<text transform="translate(465.12 1235.21) rotate(-60)" text-anchor="middle" y="1.6">chr4</text>
<text transform="translate(480.61 1235.21) rotate(-60)" text-anchor="middle" y="1.6">chr5</text>
<text transform="translate(495.56 1235.21) rotate(-60)" text-anchor="middle" y="1.6">chr6</text>
<text transform="translate(509.04 1235.21) rotate(-60)" text-anchor="middle" y="1.6">chr7</text>
<text transform="translate(518.11 1235.21) rotate(-60)" text-anchor="middle" y="1.6">chr8</text>
<text transform="translate(526.73 1235.21) rotate(-60)" text-anchor="middle" y="1.6">chr9</text>
<text transform="translate(538.64 1236.4) rotate(-60)" text-anchor="middle" y="1.6">chr10</text>
<text transform="translate(547.61 1236.4) rotate(-60)" text-anchor="middle" y="1.6">chr11</text>
<text transform="translate(554.04 1236.4) rotate(-60)" text-anchor="middle" y="1.6">chr12</text>
<text transform="translate(559.65 1236.4) rotate(-60)" text-anchor="middle" y="1.6">chr13</text>
<text transform="translate(567.25 1236.4) rotate(-60)" text-anchor="middle" y="1.6">chr14</text>
<text transform="translate(576.54 1236.4) rotate(-60)" text-anchor="middle" y="1.6">chr15</text>
<text transform="translate(581.29 1236.4) rotate(-60)" text-anchor="middle" y="1.6">chr16</text>
<text transform="translate(585.06 1236.4) rotate(-60)" text-anchor="middle" y="1.6">chr17</text>
<text transform="translate(590.68 1236.4) rotate(-60)" text-anchor="middle" y="1.6">chr18</text>
<text transform="translate(595.55 1236.4) rotate(-60)" text-anchor="middle" y="1.6">chr19</text>
<text transform="translate(601.26 1236.4) rotate(-60)" text-anchor="middle" y="1.6">chr20</text>
<text transform="translate(606.19 1236.4) rotate(-60)" text-anchor="middle" y="1.6">chr22</text>
<text transform="translate(611.78 1235.21) rotate(-60)" text-anchor="middle" y="1.6">chrX</text>
<text transform="translate(386.1 1149.1) rotate(-90)" text-anchor="middle" font-size="5.9">Copy ratio (log2)</text>
</g>
<path stroke="#222" stroke-width=".9" d="M497.2 1068.1h3"/>
<text x="410.1" y="1061.4" font-size="17.4" fill="#111">UCP</text>
</g>
</svg></body></html>
